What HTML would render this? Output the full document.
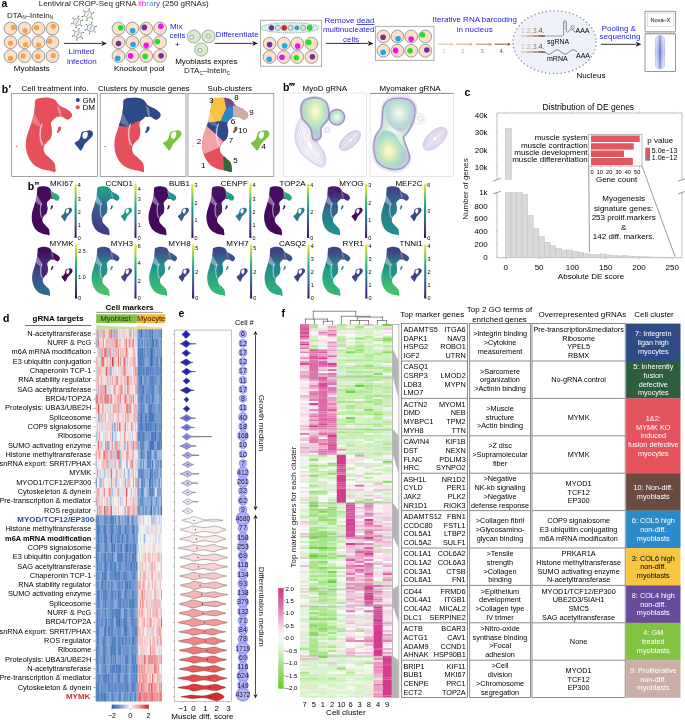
<!DOCTYPE html><html><head><meta charset="utf-8"><style>html,body{margin:0;padding:0;background:#fff;overflow:hidden}svg{display:block;will-change:transform}text{font-family:"Liberation Sans",sans-serif}</style></head><body>
<svg width="685" height="720" viewBox="0 0 685 720" style="font-family:'Liberation Sans',sans-serif">
<rect x="0" y="0" width="685" height="720" fill="#ffffff"/>
<defs>
<pattern id="spk" width="1.6" height="1.6" patternUnits="userSpaceOnUse"><circle cx="0.5" cy="0.5" r="0.5" fill="#fff"/><circle cx="1.3" cy="1.2" r="0.35" fill="#fff"/></pattern>
<path id="um" d="M23.7 6.7C24.58 5.37 26.43 5.03 28.4 4.6C30.37 4.17 33.13 3.85 35.5 4.1C37.87 4.35 40.83 5.08 42.6 6.1C44.37 7.12 45.33 8.72 46.1 10.2C46.87 11.68 47.13 13.28 47.2 15C47.27 16.72 46.95 19.03 46.5 20.5C46.05 21.97 45.55 22.57 44.5 23.8C43.45 25.03 41.08 26.62 40.2 27.9C39.32 29.18 39.2 29.92 39.2 31.5C39.2 33.08 40.23 35.23 40.2 37.4C40.17 39.57 39.78 42.73 39 44.5C38.22 46.27 36.67 46.43 35.5 48C34.33 49.57 32.4 51.93 32 53.9C31.6 55.87 32.12 58.03 33.1 59.8C34.08 61.57 36.32 62.92 37.9 64.5C39.48 66.08 41.62 67.52 42.6 69.3C43.58 71.08 43.67 73.63 43.8 75.2C43.93 76.77 44.2 78.32 43.4 78.7C42.6 79.08 41.1 77.98 39 77.5C36.9 77.02 33.55 76.78 30.8 75.8C28.05 74.82 24.87 73.67 22.5 71.6C20.13 69.53 17.98 66.35 16.6 63.4C15.22 60.45 14.5 57.05 14.2 53.9C13.9 50.75 14.2 47.65 14.8 44.5C15.4 41.35 16.92 37.77 17.8 35C18.68 32.23 19.42 30.25 20.1 27.9C20.78 25.55 21.4 23.45 21.9 20.9C22.4 18.35 22.8 14.97 23.1 12.6C23.4 10.23 22.82 8.03 23.7 6.7Z"/>
<path id="ua" d="M45.6 10.8C46.08 10.17 48.03 12.32 49.7 13.2C51.37 14.08 53.93 15.02 55.6 16.1C57.27 17.18 58.97 18.52 59.7 19.7C60.43 20.88 60.5 22.12 60 23.2C59.5 24.28 57.83 25.9 56.7 26.2C55.57 26.5 54.37 25.5 53.2 25C52.03 24.5 50.98 23.5 49.7 23.2C48.42 22.9 45.98 24.23 45.5 23.2C45.02 22.17 46.78 19.07 46.8 17C46.82 14.93 45.12 11.43 45.6 10.8Z"/>
<path id="ui" d="M30.2 30.3C31.13 28.7 32.6 28.88 34 29C35.4 29.12 37.57 29.6 38.6 31C39.63 32.4 40.13 35.15 40.2 37.4C40.27 39.65 39.78 42.73 39 44.5C38.22 46.27 36.77 46.83 35.5 48C34.23 49.17 32.48 51.7 31.4 51.5C30.32 51.3 29.5 48.95 29 46.8C28.5 44.65 28.2 41.35 28.4 38.6C28.6 35.85 29.27 31.9 30.2 30.3Z"/>
<path id="us" d="M46.5 34C46.88 33.45 48 33.03 48.5 33.2C49 33.37 49.55 34.28 49.5 35C49.45 35.72 48.78 36.75 48.2 37.5C47.62 38.25 46.53 39.33 46 39.5C45.47 39.67 44.97 39 45 38.5C45.03 38 45.95 37.25 46.2 36.5C46.45 35.75 46.12 34.55 46.5 34Z"/>
<path id="ug" d="M63.3 49.1C63.97 48.45 66.18 47.52 67.1 46.5C68.02 45.48 68.37 44.17 68.8 43C69.23 41.83 69.27 40.3 69.7 39.5C70.13 38.7 70.53 38.57 71.4 38.2C72.27 37.83 73.8 37.52 74.9 37.3C76 37.08 77.05 36.75 78 36.9C78.95 37.05 80.05 37.55 80.6 38.2C81.15 38.85 81.37 39.93 81.3 40.8C81.23 41.67 80.82 42.52 80.2 43.4C79.58 44.28 78.55 45.15 77.6 46.1C76.65 47.05 75.3 48.3 74.5 49.1C73.7 49.9 73.32 50.1 72.8 50.9C72.28 51.7 72 52.85 71.4 53.9C70.8 54.95 69.92 56.97 69.2 57.2C68.48 57.43 67.82 56.07 67.1 55.3C66.38 54.53 65.57 53.42 64.9 52.6C64.23 51.78 63.37 50.98 63.1 50.4C62.83 49.82 62.63 49.75 63.3 49.1Z M71 40.4C71.4 39.67 72.4 38.83 73.2 38.6C74 38.37 75.37 38.33 75.8 39C76.23 39.67 76.08 41.57 75.8 42.6C75.52 43.63 74.75 44.77 74.1 45.2C73.45 45.63 72.45 45.57 71.9 45.2C71.35 44.83 70.95 43.8 70.8 43C70.65 42.2 70.6 41.13 71 40.4Z" fill-rule="evenodd"/>
<clipPath id="cm"><use href="#um"/><use href="#ua"/><use href="#ui"/></clipPath>
</defs>
<text x="1.6" y="7.4" font-size="10.5" font-weight="bold">a</text>
<text x="38.7" y="6.4" font-size="8" fill="#1a1a1a">Lentiviral CROP-Seq gRNA <tspan fill="#f010e8">lib</tspan><tspan fill="#1ea8e8">ra</tspan><tspan fill="#7030a0">ry</tspan> (250 gRNAs)</text>
<text x="7" y="17.5" font-size="8" fill="#1a1a1a">DTA<tspan font-size="4.5" dy="1.8">N</tspan><tspan dy="-1.8">–Intein</tspan><tspan font-size="4.5" dy="1.8">N</tspan></text>
<circle cx="10.5" cy="28.5" r="6.4" fill="#fbe0cc" stroke="#5a5a5a" stroke-width="0.55"/>
<circle cx="13.4" cy="27.4" r="2.6" fill="#f5a04a"/>
<circle cx="24.6" cy="28.5" r="6.4" fill="#fbe0cc" stroke="#5a5a5a" stroke-width="0.55"/>
<circle cx="25.1" cy="30.7" r="2.6" fill="#f5a04a"/>
<circle cx="38.5" cy="28.5" r="6.4" fill="#fbe0cc" stroke="#5a5a5a" stroke-width="0.55"/>
<circle cx="36.5" cy="27.7" r="2.6" fill="#f5a04a"/>
<circle cx="52.5" cy="28.5" r="6.4" fill="#fbe0cc" stroke="#5a5a5a" stroke-width="0.55"/>
<circle cx="53.3" cy="26.3" r="2.6" fill="#f5a04a"/>
<circle cx="10.5" cy="42.3" r="6.4" fill="#fbe0cc" stroke="#5a5a5a" stroke-width="0.55"/>
<circle cx="10.5" cy="43.1" r="2.6" fill="#f5a04a"/>
<circle cx="24.6" cy="42.3" r="6.4" fill="#fbe0cc" stroke="#5a5a5a" stroke-width="0.55"/>
<circle cx="25.5" cy="44.5" r="2.6" fill="#f5a04a"/>
<circle cx="38.5" cy="42.3" r="6.4" fill="#fbe0cc" stroke="#5a5a5a" stroke-width="0.55"/>
<circle cx="38.7" cy="45" r="2.6" fill="#f5a04a"/>
<circle cx="52.5" cy="42.3" r="6.4" fill="#fbe0cc" stroke="#5a5a5a" stroke-width="0.55"/>
<circle cx="49.6" cy="41.2" r="2.6" fill="#f5a04a"/>
<circle cx="10.5" cy="56.2" r="6.4" fill="#fbe0cc" stroke="#5a5a5a" stroke-width="0.55"/>
<circle cx="10.5" cy="58.4" r="2.6" fill="#f5a04a"/>
<circle cx="24.6" cy="56.2" r="6.4" fill="#fbe0cc" stroke="#5a5a5a" stroke-width="0.55"/>
<circle cx="23.1" cy="55.9" r="2.6" fill="#f5a04a"/>
<circle cx="38.5" cy="56.2" r="6.4" fill="#fbe0cc" stroke="#5a5a5a" stroke-width="0.55"/>
<circle cx="37.7" cy="56.4" r="2.6" fill="#f5a04a"/>
<circle cx="52.5" cy="56.2" r="6.4" fill="#fbe0cc" stroke="#5a5a5a" stroke-width="0.55"/>
<circle cx="53.3" cy="55.5" r="2.6" fill="#f5a04a"/>
<text x="31.8" y="71" font-size="8" text-anchor="middle">Myoblasts</text>
<path d="M91.02 17.18L87.33 18.42L84.4 15.84L85.18 12.02L88.87 10.78L91.8 13.36Z" fill="#f6f6f6" stroke="#5a5a5a" stroke-width="0.5"/>
<line x1="91.02" y1="17.18" x2="92.34" y2="18.34" stroke="#555" stroke-width="0.45"/>
<circle cx="92.48" cy="18.47" r="0.55" fill="#333"/>
<line x1="87.33" y1="18.42" x2="86.98" y2="20.14" stroke="#555" stroke-width="0.45"/>
<circle cx="86.94" cy="20.33" r="0.55" fill="#333"/>
<line x1="84.4" y1="15.84" x2="82.74" y2="16.4" stroke="#555" stroke-width="0.45"/>
<circle cx="82.55" cy="16.46" r="0.55" fill="#333"/>
<line x1="85.18" y1="12.02" x2="83.86" y2="10.86" stroke="#555" stroke-width="0.45"/>
<circle cx="83.72" cy="10.73" r="0.55" fill="#333"/>
<line x1="88.87" y1="10.78" x2="89.22" y2="9.06" stroke="#555" stroke-width="0.45"/>
<circle cx="89.26" cy="8.87" r="0.55" fill="#333"/>
<line x1="91.8" y1="13.36" x2="93.46" y2="12.8" stroke="#555" stroke-width="0.45"/>
<circle cx="93.65" cy="12.74" r="0.55" fill="#333"/>
<line x1="86.8" y1="16.9" x2="89.4" y2="12.3" stroke="#5fdc5f" stroke-width="0.9"/>
<path d="M80.12 24.48L76.43 25.72L73.5 23.14L74.28 19.32L77.97 18.08L80.9 20.66Z" fill="#f6f6f6" stroke="#5a5a5a" stroke-width="0.5"/>
<line x1="80.12" y1="24.48" x2="81.44" y2="25.64" stroke="#555" stroke-width="0.45"/>
<circle cx="81.58" cy="25.77" r="0.55" fill="#333"/>
<line x1="76.43" y1="25.72" x2="76.08" y2="27.44" stroke="#555" stroke-width="0.45"/>
<circle cx="76.04" cy="27.63" r="0.55" fill="#333"/>
<line x1="73.5" y1="23.14" x2="71.84" y2="23.7" stroke="#555" stroke-width="0.45"/>
<circle cx="71.65" cy="23.76" r="0.55" fill="#333"/>
<line x1="74.28" y1="19.32" x2="72.96" y2="18.16" stroke="#555" stroke-width="0.45"/>
<circle cx="72.82" cy="18.03" r="0.55" fill="#333"/>
<line x1="77.97" y1="18.08" x2="78.32" y2="16.36" stroke="#555" stroke-width="0.45"/>
<circle cx="78.36" cy="16.17" r="0.55" fill="#333"/>
<line x1="80.9" y1="20.66" x2="82.56" y2="20.1" stroke="#555" stroke-width="0.45"/>
<circle cx="82.75" cy="20.04" r="0.55" fill="#333"/>
<line x1="75.9" y1="24.2" x2="78.5" y2="19.6" stroke="#e070e0" stroke-width="0.9"/>
<path d="M93.62 30.68L89.93 31.92L87 29.34L87.78 25.52L91.47 24.28L94.4 26.86Z" fill="#f6f6f6" stroke="#5a5a5a" stroke-width="0.5"/>
<line x1="93.62" y1="30.68" x2="94.94" y2="31.84" stroke="#555" stroke-width="0.45"/>
<circle cx="95.08" cy="31.97" r="0.55" fill="#333"/>
<line x1="89.93" y1="31.92" x2="89.58" y2="33.64" stroke="#555" stroke-width="0.45"/>
<circle cx="89.54" cy="33.83" r="0.55" fill="#333"/>
<line x1="87" y1="29.34" x2="85.34" y2="29.9" stroke="#555" stroke-width="0.45"/>
<circle cx="85.15" cy="29.96" r="0.55" fill="#333"/>
<line x1="87.78" y1="25.52" x2="86.46" y2="24.36" stroke="#555" stroke-width="0.45"/>
<circle cx="86.32" cy="24.23" r="0.55" fill="#333"/>
<line x1="91.47" y1="24.28" x2="91.82" y2="22.56" stroke="#555" stroke-width="0.45"/>
<circle cx="91.86" cy="22.37" r="0.55" fill="#333"/>
<line x1="94.4" y1="26.86" x2="96.06" y2="26.3" stroke="#555" stroke-width="0.45"/>
<circle cx="96.25" cy="26.24" r="0.55" fill="#333"/>
<line x1="89.4" y1="30.4" x2="92" y2="25.8" stroke="#40b8f0" stroke-width="0.9"/>
<path d="M80.82 36.88L77.13 38.12L74.2 35.54L74.98 31.72L78.67 30.48L81.6 33.06Z" fill="#f6f6f6" stroke="#5a5a5a" stroke-width="0.5"/>
<line x1="80.82" y1="36.88" x2="82.14" y2="38.04" stroke="#555" stroke-width="0.45"/>
<circle cx="82.28" cy="38.17" r="0.55" fill="#333"/>
<line x1="77.13" y1="38.12" x2="76.78" y2="39.84" stroke="#555" stroke-width="0.45"/>
<circle cx="76.74" cy="40.03" r="0.55" fill="#333"/>
<line x1="74.2" y1="35.54" x2="72.54" y2="36.1" stroke="#555" stroke-width="0.45"/>
<circle cx="72.35" cy="36.16" r="0.55" fill="#333"/>
<line x1="74.98" y1="31.72" x2="73.66" y2="30.56" stroke="#555" stroke-width="0.45"/>
<circle cx="73.52" cy="30.43" r="0.55" fill="#333"/>
<line x1="78.67" y1="30.48" x2="79.02" y2="28.76" stroke="#555" stroke-width="0.45"/>
<circle cx="79.06" cy="28.57" r="0.55" fill="#333"/>
<line x1="81.6" y1="33.06" x2="83.26" y2="32.5" stroke="#555" stroke-width="0.45"/>
<circle cx="83.45" cy="32.44" r="0.55" fill="#333"/>
<line x1="76.6" y1="36.6" x2="79.2" y2="32" stroke="#a070d0" stroke-width="0.9"/>
<line x1="64" y1="43.4" x2="101.7" y2="43.4" stroke="#1a1a1a" stroke-width="0.9"/>
<path d="M107 43.4L101.2 40.9L102.6 43.4L101.2 45.9Z" fill="#1a1a1a"/>
<text x="81.4" y="54.3" font-size="8" text-anchor="middle" fill="#2323e6">Limited</text>
<text x="81.8" y="63.5" font-size="8" text-anchor="middle" fill="#2323e6">infection</text>
<circle cx="118.5" cy="28.5" r="6.4" fill="#fbe0cc" stroke="#5a5a5a" stroke-width="0.55"/>
<circle cx="120.7" cy="27.7" r="2.8" fill="#22e022"/>
<circle cx="132.3" cy="28.5" r="6.4" fill="#fbe0cc" stroke="#5a5a5a" stroke-width="0.55"/>
<circle cx="132.6" cy="30.7" r="2.8" fill="#1ea8e8"/>
<circle cx="146.2" cy="28.5" r="6.4" fill="#fbe0cc" stroke="#5a5a5a" stroke-width="0.55"/>
<circle cx="144.3" cy="27.4" r="2.8" fill="#7030a0"/>
<circle cx="160" cy="28.5" r="6.4" fill="#fbe0cc" stroke="#5a5a5a" stroke-width="0.55"/>
<circle cx="160.8" cy="26.3" r="2.8" fill="#f010e8"/>
<circle cx="118.5" cy="42.3" r="6.4" fill="#fbe0cc" stroke="#5a5a5a" stroke-width="0.55"/>
<circle cx="118.5" cy="43.5" r="2.8" fill="#7030a0"/>
<circle cx="132.3" cy="42.3" r="6.4" fill="#fbe0cc" stroke="#5a5a5a" stroke-width="0.55"/>
<circle cx="133.1" cy="44.5" r="2.8" fill="#1ea8e8"/>
<circle cx="146.2" cy="42.3" r="6.4" fill="#fbe0cc" stroke="#5a5a5a" stroke-width="0.55"/>
<circle cx="146.2" cy="45.3" r="2.8" fill="#f010e8"/>
<circle cx="160" cy="42.3" r="6.4" fill="#fbe0cc" stroke="#5a5a5a" stroke-width="0.55"/>
<circle cx="157.4" cy="41.6" r="2.8" fill="#22e022"/>
<circle cx="118.5" cy="56" r="6.4" fill="#fbe0cc" stroke="#5a5a5a" stroke-width="0.55"/>
<circle cx="117.7" cy="58.4" r="2.8" fill="#1ea8e8"/>
<circle cx="132.3" cy="56" r="6.4" fill="#fbe0cc" stroke="#5a5a5a" stroke-width="0.55"/>
<circle cx="130.6" cy="55.9" r="2.8" fill="#f010e8"/>
<circle cx="146.2" cy="56" r="6.4" fill="#fbe0cc" stroke="#5a5a5a" stroke-width="0.55"/>
<circle cx="145.2" cy="56.2" r="2.8" fill="#22e022"/>
<circle cx="160" cy="56" r="6.4" fill="#fbe0cc" stroke="#5a5a5a" stroke-width="0.55"/>
<circle cx="161.1" cy="55.8" r="2.8" fill="#7030a0"/>
<text x="139.3" y="70.8" font-size="8" text-anchor="middle">Knockout pool</text>
<text x="170" y="28.8" font-size="8" fill="#2323e6">Mix</text>
<text x="169.4" y="38.2" font-size="8" fill="#2323e6">cells</text>
<text x="177.4" y="46.5" font-size="8" text-anchor="middle">+</text>
<circle cx="193.9" cy="36.5" r="6.6" fill="#d9eacb" stroke="#707070" stroke-width="0.55"/>
<circle cx="191.7" cy="37.2" r="2" fill="#f2f2f2" stroke="#606060" stroke-width="0.5"/>
<circle cx="208.5" cy="36.5" r="6.6" fill="#d9eacb" stroke="#707070" stroke-width="0.55"/>
<circle cx="208.5" cy="36.2" r="2" fill="#f2f2f2" stroke="#606060" stroke-width="0.5"/>
<circle cx="201.2" cy="49.6" r="6.6" fill="#d9eacb" stroke="#707070" stroke-width="0.55"/>
<circle cx="200" cy="50.4" r="2" fill="#f2f2f2" stroke="#606060" stroke-width="0.5"/>
<text x="206.3" y="64.2" font-size="8" text-anchor="middle">Myoblasts expres</text>
<text x="184" y="73" font-size="8" fill="#1a1a1a">DTA<tspan font-size="4.5" dy="1.8">C</tspan><tspan dy="-1.8">–Intein</tspan><tspan font-size="4.5" dy="1.8">C</tspan></text>
<line x1="214.6" y1="43.4" x2="252.7" y2="43.4" stroke="#1a1a1a" stroke-width="0.9"/>
<path d="M258 43.4L252.2 40.9L253.6 43.4L252.2 45.9Z" fill="#1a1a1a"/>
<text x="237.2" y="37.2" font-size="8" text-anchor="middle" fill="#2323e6">Differentiate</text>
<rect x="260.4" y="20.2" width="61.3" height="46" fill="#ffffff" stroke="#8a8a8a" stroke-width="0.7"/>
<ellipse cx="290" cy="27.8" rx="29" ry="5.1" fill="#d5f2ee" stroke="#333" stroke-width="0.55" stroke-dasharray="0.8 1"/>
<circle cx="271.5" cy="27.8" r="2.6" fill="#7030a0" stroke="#555" stroke-width="0.45"/>
<circle cx="277.9" cy="27.8" r="2.6" fill="#dedede" stroke="#555" stroke-width="0.45"/>
<circle cx="284.2" cy="27.8" r="2.6" fill="#f01818" stroke="#555" stroke-width="0.45"/>
<circle cx="290.5" cy="27.8" r="2.6" fill="#dedede" stroke="#555" stroke-width="0.45"/>
<circle cx="296.9" cy="27.8" r="2.1" fill="#1ea8e8" stroke="#555" stroke-width="0.45"/>
<circle cx="303.2" cy="27.8" r="2.6" fill="#dedede" stroke="#555" stroke-width="0.45"/>
<circle cx="309.7" cy="27.8" r="2.6" fill="#22e022" stroke="#555" stroke-width="0.45"/>
<circle cx="269.6" cy="43.6" r="6.4" fill="#fbe0cc" stroke="#5a5a5a" stroke-width="0.55"/>
<circle cx="269.6" cy="44.6" r="2.8" fill="#7030a0"/>
<circle cx="283.8" cy="43.6" r="6.4" fill="#fbe0cc" stroke="#5a5a5a" stroke-width="0.55"/>
<circle cx="284.6" cy="45.8" r="2.8" fill="#1ea8e8"/>
<circle cx="297.3" cy="43.6" r="6.4" fill="#fbe0cc" stroke="#5a5a5a" stroke-width="0.55"/>
<circle cx="297.6" cy="46.1" r="2.8" fill="#f010e8"/>
<circle cx="311.5" cy="43.6" r="6.4" fill="#fbe0cc" stroke="#5a5a5a" stroke-width="0.55"/>
<circle cx="308.7" cy="42.4" r="2.8" fill="#22e022"/>
<circle cx="269.6" cy="57" r="6.4" fill="#fbe0cc" stroke="#5a5a5a" stroke-width="0.55"/>
<circle cx="269.2" cy="59.2" r="2.8" fill="#1ea8e8"/>
<circle cx="283.8" cy="57" r="6.4" fill="#fbe0cc" stroke="#5a5a5a" stroke-width="0.55"/>
<circle cx="282" cy="57.2" r="2.8" fill="#f010e8"/>
<circle cx="297.3" cy="57" r="6.4" fill="#fbe0cc" stroke="#5a5a5a" stroke-width="0.55"/>
<circle cx="296.3" cy="57.7" r="2.8" fill="#22e022"/>
<circle cx="311.5" cy="57" r="6.4" fill="#fbe0cc" stroke="#5a5a5a" stroke-width="0.55"/>
<circle cx="312.4" cy="56.7" r="2.8" fill="#7030a0"/>
<text x="349.5" y="23" font-size="8" text-anchor="middle" fill="#2323e6">Remove <tspan text-decoration="underline">dead</tspan></text>
<text x="348.7" y="32.4" font-size="8" text-anchor="middle" fill="#2323e6">multinucleated</text>
<text x="351" y="42" font-size="8" text-anchor="middle" fill="#2323e6" text-decoration="underline">cells</text>
<line x1="325.8" y1="43.4" x2="368.2" y2="43.4" stroke="#1a1a1a" stroke-width="0.9"/>
<path d="M373.5 43.4L367.7 40.9L369.1 43.4L367.7 45.9Z" fill="#1a1a1a"/>
<rect x="375.5" y="26.3" width="58.5" height="34" fill="#ffffff" stroke="#8a8a8a" stroke-width="0.7"/>
<circle cx="383.4" cy="36.5" r="6.4" fill="#fbe0cc" stroke="#5a5a5a" stroke-width="0.55"/>
<circle cx="383.1" cy="37.2" r="2.8" fill="#7030a0"/>
<circle cx="397.4" cy="36.5" r="6.4" fill="#fbe0cc" stroke="#5a5a5a" stroke-width="0.55"/>
<circle cx="398.1" cy="38.7" r="2.8" fill="#1ea8e8"/>
<circle cx="411.2" cy="36.5" r="6.4" fill="#fbe0cc" stroke="#5a5a5a" stroke-width="0.55"/>
<circle cx="411.2" cy="39.1" r="2.8" fill="#f010e8"/>
<circle cx="425.3" cy="36.5" r="6.4" fill="#fbe0cc" stroke="#5a5a5a" stroke-width="0.55"/>
<circle cx="422.4" cy="34.7" r="2.8" fill="#22e022"/>
<circle cx="383.4" cy="50.7" r="6.4" fill="#fbe0cc" stroke="#5a5a5a" stroke-width="0.55"/>
<circle cx="383.1" cy="52.3" r="2.8" fill="#1ea8e8"/>
<circle cx="397.4" cy="50.7" r="6.4" fill="#fbe0cc" stroke="#5a5a5a" stroke-width="0.55"/>
<circle cx="395.6" cy="50.4" r="2.8" fill="#f010e8"/>
<circle cx="411.2" cy="50.7" r="6.4" fill="#fbe0cc" stroke="#5a5a5a" stroke-width="0.55"/>
<circle cx="410.1" cy="50.8" r="2.8" fill="#22e022"/>
<circle cx="425.3" cy="50.7" r="6.4" fill="#fbe0cc" stroke="#5a5a5a" stroke-width="0.55"/>
<circle cx="426.8" cy="50" r="2.8" fill="#7030a0"/>
<text x="474.7" y="21.6" font-size="8" text-anchor="middle" fill="#2323e6">Iterative RNA barcoding</text>
<text x="474.7" y="32" font-size="8" text-anchor="middle" fill="#2323e6">in nucleus</text>
<line x1="437.4" y1="44.2" x2="450.2" y2="44.2" stroke="#dcbb98" stroke-width="0.9"/>
<path d="M453.7 44.2L449.7 42.4L451.1 44.2L449.7 46Z" fill="#dcbb98"/>
<text x="444.55" y="52.6" font-size="5.6" text-anchor="middle" fill="#dcbb98">1.</text>
<line x1="456.3" y1="44.2" x2="469.4" y2="44.2" stroke="#c9a07a" stroke-width="0.9"/>
<path d="M472.9 44.2L468.9 42.4L470.3 44.2L468.9 46Z" fill="#c9a07a"/>
<text x="463.6" y="52.6" font-size="5.6" text-anchor="middle" fill="#c9a07a">2.</text>
<line x1="475.5" y1="44.2" x2="488.6" y2="44.2" stroke="#a87a52" stroke-width="0.9"/>
<path d="M492.1 44.2L488.1 42.4L489.5 44.2L488.1 46Z" fill="#a87a52"/>
<text x="482.8" y="52.6" font-size="5.6" text-anchor="middle" fill="#a87a52">3.</text>
<line x1="494.7" y1="44.2" x2="507.5" y2="44.2" stroke="#6e4420" stroke-width="0.9"/>
<path d="M511 44.2L507 42.4L508.4 44.2L507 46Z" fill="#6e4420"/>
<text x="501.85" y="52.6" font-size="5.6" text-anchor="middle" fill="#6e4420">4.</text>
<ellipse cx="554.6" cy="42.2" rx="41.6" ry="31.4" fill="#eef1f9" stroke="#8a8a8a" stroke-width="1.5" stroke-linecap="round" stroke-dasharray="0.01 3.9"/>
<line x1="521" y1="36" x2="527" y2="36" stroke="#dcbb98" stroke-width="1.4"/>
<line x1="527" y1="36" x2="533" y2="36" stroke="#c9a07a" stroke-width="1.4"/>
<line x1="533" y1="36" x2="539" y2="36" stroke="#a87a52" stroke-width="1.4"/>
<line x1="539" y1="36" x2="545" y2="36" stroke="#6e4420" stroke-width="1.4"/>
<text x="521" y="33.4" font-size="7"><tspan fill="#dcbb98">1.</tspan><tspan fill="#c9a07a">2.</tspan><tspan fill="#a87a52">3.</tspan><tspan fill="#6e4420">4.</tspan></text>
<line x1="521" y1="52" x2="527" y2="52" stroke="#dcbb98" stroke-width="1.4"/>
<line x1="527" y1="52" x2="533" y2="52" stroke="#c9a07a" stroke-width="1.4"/>
<line x1="533" y1="52" x2="539" y2="52" stroke="#a87a52" stroke-width="1.4"/>
<line x1="539" y1="52" x2="545" y2="52" stroke="#6e4420" stroke-width="1.4"/>
<text x="521" y="48.8" font-size="7"><tspan fill="#dcbb98">1.</tspan><tspan fill="#c9a07a">2.</tspan><tspan fill="#a87a52">3.</tspan><tspan fill="#6e4420">4.</tspan></text>
<line x1="545" y1="36" x2="562.8" y2="36" stroke="#888" stroke-width="0.8"/>
<path d="M562.8 36 L563.6 35 L563.6 21.5 Q565 19.6 566.4 21.5 L566.4 31 Q567.5 34 569 31 Q570 28 571.5 30 " fill="none" stroke="#555" stroke-width="0.6"/>
<line x1="563.6" y1="23" x2="566.4" y2="23" stroke="#777" stroke-width="0.4"/>
<line x1="563.6" y1="25.5" x2="566.4" y2="25.5" stroke="#777" stroke-width="0.4"/>
<line x1="563.6" y1="28" x2="566.4" y2="28" stroke="#777" stroke-width="0.4"/>
<circle cx="572.6" cy="27.3" r="1.7" fill="none" stroke="#555" stroke-width="0.6"/>
<path d="M572.6 29 Q573.8 33 575.5 31.5" fill="none" stroke="#555" stroke-width="0.6"/>
<text x="575.5" y="32.8" font-size="7">AAA</text>
<path d="M545 52L546 52.84L547 53.56L548 54.03L549 54.2L550 54.03L551 53.56L552 52.84L553 52L554 51.16L555 50.44L556 49.97L557 49.8L558 49.97L559 50.44L560 51.16L561 52L562 52.84L563 53.56L564 54.03L565 54.2L566 54.03L567 53.56L568 52.84L569 52L570 51.16L571 50.44L572 49.97L573 49.8L574 49.97L575 50.44L576 51.16L577 52" fill="none" stroke="#444" stroke-width="0.6"/>
<text x="576" y="57.6" font-size="7">AAA</text>
<text x="547" y="44.4" font-size="7">sgRNA</text>
<text x="547" y="60.5" font-size="7">mRNA</text>
<text x="576.5" y="78" font-size="8">Nucleus</text>
<text x="618.8" y="30.5" font-size="8" text-anchor="middle" fill="#2323e6">Pooling &</text>
<text x="620" y="39.4" font-size="8" text-anchor="middle" fill="#2323e6">sequencing</text>
<line x1="601" y1="44.3" x2="636.2" y2="44.3" stroke="#1a1a1a" stroke-width="0.9"/>
<path d="M641.5 44.3L635.7 41.8L637.1 44.3L635.7 46.8Z" fill="#1a1a1a"/>
<rect x="645" y="11.2" width="30.4" height="20.3" fill="#ffffff" stroke="#555" stroke-width="0.6"/>
<rect x="647.2" y="13.1" width="26.4" height="13.6" fill="#ffffff" stroke="#bbb" stroke-width="0.5"/>
<text x="660.4" y="22.3" font-size="5.6" text-anchor="middle">Nova–X</text>
<rect x="645" y="31.5" width="30.4" height="2.4" fill="#cfcfcf"/>
<rect x="645" y="33.9" width="30.4" height="37.7" fill="#ffffff" stroke="#555" stroke-width="0.6"/>
<defs><linearGradient id="fc" x1="0" x2="1" y1="0" y2="0"><stop offset="0" stop-color="#d8dcf8"/><stop offset="0.5" stop-color="#7d8ff0"/><stop offset="1" stop-color="#d8dcf8"/></linearGradient><linearGradient id="fcv" x1="0" x2="0" y1="0" y2="1"><stop offset="0" stop-color="#fff" stop-opacity="0.5"/><stop offset="0.5" stop-color="#fff" stop-opacity="0"/><stop offset="1" stop-color="#fff" stop-opacity="0.5"/></linearGradient></defs>
<rect x="655.4" y="35.5" width="9.2" height="33.5" fill="url(#fc)" stroke="#8a96d8" stroke-width="0.5" rx="4.6"/>
<rect x="655.4" y="35.5" width="9.2" height="33.5" fill="url(#fcv)" rx="4.6"/>
<line x1="660" y1="36" x2="660" y2="68.5" stroke="#444" stroke-width="0.5"/>
<text x="1.8" y="93.4" font-size="10.5" font-weight="bold">b’</text>
<text x="21.6" y="91" font-size="8">Cell treatment info.</text>
<text x="98" y="91" font-size="8">Clusters by muscle genes</text>
<text x="207.6" y="91" font-size="8">Sub-clusters</text>
<rect x="11.7" y="93.4" width="85.8" height="83" fill="#fff" stroke="#7a7a7a" stroke-width="0.7"/>
<rect x="100.2" y="93.4" width="85.8" height="83" fill="#fff" stroke="#7a7a7a" stroke-width="0.7"/>
<rect x="188" y="93.4" width="85.8" height="83" fill="#fff" stroke="#7a7a7a" stroke-width="0.7"/>
<g transform="translate(11.7 93.4) scale(1 1)">
<use href="#um" fill="#e5505a"/>
<use href="#ua" fill="#e5505a"/>
<use href="#ui" fill="#e5505a"/>
<use href="#us" fill="#e5505a"/>
<use href="#ug" fill="#2c4a8a"/>
<path d="M21 16 C24 22 27 28 30 33 C26 33 22 31 19.5 27 Z" fill="url(#spk)" opacity="0.55"/>
<path d="M45.5 11.5 C49 14 50.5 19 49 24 C47 21 46 16 45.5 11.5Z" fill="url(#spk)" opacity="0.7"/>
<path d="M30.4 30.8 C28.6 35 28.2 40 28.9 45 C29.4 48 30.2 50 31.6 51.8" fill="none" stroke="#fff" stroke-width="1.1" opacity="0.6"/><path d="M31.5 29.2 C29.2 34 28.6 40 29.3 45.5 C29.8 48.5 30.5 50.5 32.2 52.5 L29.6 52 C27.8 48 27.3 42 27.6 37 C27.9 33.5 29 31 30.4 29.6Z" fill="url(#spk)" opacity="0.7"/>
<circle cx="4.8" cy="53" r="0.6" fill="#e5505a"/>
</g>
<circle cx="77.8" cy="100" r="2.1" fill="#2c4a8a"/>
<text x="82.5" y="102.6" font-size="8">GM</text>
<circle cx="77.8" cy="107.3" r="2.1" fill="#e5505a"/>
<text x="82.5" y="109.8" font-size="8">DM</text>
<defs><linearGradient id="g2" x1="0" x2="0" y1="0" y2="1"><stop offset="0.3" stop-color="#2c4a8a"/><stop offset="0.37" stop-color="#e5505a"/></linearGradient></defs>
<g transform="translate(100.2 93.4)">
<g clip-path="url(#cm)">
<rect x="0" y="0" width="80" height="80" fill="#e5505a"/>
<path d="M10 0 H70 V30 L44 27 C38 27 34 29 29 33 C25 34 21 32 16 32 Z" fill="#2c4a8a"/>
<path d="M14 24 C18 28 22 30 27 31 L14 33Z" fill="#2c4a8a"/>
</g>
<use href="#us" fill="#2c4a8a"/>
<use href="#ug" fill="#7dc242"/>
<path d="M21 16 C24 22 27 28 30 33 C26 33 22 31 19.5 27 Z" fill="url(#spk)" opacity="0.55"/>
<path d="M45.5 11.5 C49 14 50.5 19 49 24 C47 21 46 16 45.5 11.5Z" fill="url(#spk)" opacity="0.7"/>
<path d="M30.4 30.8 C28.6 35 28.2 40 28.9 45 C29.4 48 30.2 50 31.6 51.8" fill="none" stroke="#fff" stroke-width="1.1" opacity="0.6"/><path d="M31.5 29.2 C29.2 34 28.6 40 29.3 45.5 C29.8 48.5 30.5 50.5 32.2 52.5 L29.6 52 C27.8 48 27.3 42 27.6 37 C27.9 33.5 29 31 30.4 29.6Z" fill="url(#spk)" opacity="0.7"/>
<circle cx="4.8" cy="53" r="0.6" fill="#2c4a8a"/>
</g>
<g transform="translate(188 93.4)">
<g clip-path="url(#cm)">
<rect x="0" y="0" width="80" height="80" fill="#e5505a"/>
<path d="M0 30 L18.8 32.6 L29.4 42.1 L36 48.5 L36 52 L31.8 53.9 L15.3 61 L0 62Z" fill="#f4a0a5"/>
<path d="M0 0 H35.3 L38.3 14.9 L32.4 27.9 L20 29.1 L0 31Z" fill="#f7c23f"/>
<path d="M35.3 0 H60 V12.6 L46.5 12.6 L38.3 14.9Z" fill="#6b4c9a"/>
<path d="M38.3 14.9 L46.5 12.6 L52 13 V30 L40 29.1 L32.4 27.9Z" fill="#2a88c8"/>
<path d="M45 12 H70 V40 H45Z" fill="#cbaea8"/>
<path d="M20 29.1 L32.4 27.9 L40 29.1 L45 30 V46 L36 48.5 L29.4 42.1 L18.8 32.6Z" fill="#2e4a8a"/>
<path d="M35.3 63.4 L40 60 L50 62 L50 80 L36 80 L36 76.3Z" fill="#2e6a3e"/>
</g>
<use href="#us" fill="#7a4f45"/>
<use href="#ug" fill="#7dc242"/>
<path d="M21 16 C24 22 27 28 30 33 C26 33 22 31 19.5 27 Z" fill="url(#spk)" opacity="0.5"/>
<path d="M30.4 30.8 C28.6 35 28.2 40 28.9 45 C29.4 48 30.2 50 31.6 51.8" fill="none" stroke="#fff" stroke-width="1.1" opacity="0.6"/><path d="M31.5 29.2 C29.2 34 28.6 40 29.3 45.5 C29.8 48.5 30.5 50.5 32.2 52.5 L29.6 52 C27.8 48 27.3 42 27.6 37 C27.9 33.5 29 31 30.4 29.6Z" fill="url(#spk)" opacity="0.7"/>
<circle cx="4.8" cy="53" r="0.6" fill="#f4a0a5"/>
</g>
<text x="211.3" y="103.4" font-size="8" text-anchor="middle">3</text>
<text x="236.5" y="99.7" font-size="8" text-anchor="middle">8</text>
<text x="251.5" y="114.9" font-size="8" text-anchor="middle">9</text>
<text x="233" y="124.2" font-size="8" text-anchor="middle">6</text>
<text x="242.8" y="132.6" font-size="8" text-anchor="middle">10</text>
<text x="231" y="143" font-size="8" text-anchor="middle">7</text>
<text x="199" y="144.1" font-size="8" text-anchor="middle">2</text>
<text x="263.8" y="148.6" font-size="8" text-anchor="middle">4</text>
<text x="235.4" y="163.1" font-size="8" text-anchor="middle">5</text>
<text x="203.3" y="167.6" font-size="8" text-anchor="middle">1</text>
<text x="27.8" y="189.7" font-size="10.5" font-weight="bold">b”</text>
<defs><linearGradient id="vir" x1="0" x2="0" y1="1" y2="0"><stop offset="0" stop-color="#440154"/><stop offset="0.11" stop-color="#482878"/><stop offset="0.22" stop-color="#3e4989"/><stop offset="0.33" stop-color="#31688e"/><stop offset="0.44" stop-color="#26828e"/><stop offset="0.56" stop-color="#1f9e89"/><stop offset="0.67" stop-color="#35b779"/><stop offset="0.78" stop-color="#6ece58"/><stop offset="0.89" stop-color="#b5de2b"/><stop offset="1" stop-color="#fde725"/></linearGradient></defs>
<defs><linearGradient id="fg0" x1="0" x2="0" y1="0" y2="1"><stop offset="0.1" stop-color="#450c5e"/><stop offset="0.45" stop-color="#450c5e"/><stop offset="0.85" stop-color="#45085a"/></linearGradient></defs>
<g transform="translate(23.2 183.5) scale(0.602 0.658)">
<use href="#um" fill="url(#fg0)"/>
<use href="#ua" fill="#28a883"/>
<path d="M45 12 C48 14 50 18 50 24 L46.4 22.8Z" fill="#45085b" opacity="0.7"/>
<use href="#ui" fill="#461364"/>
<use href="#us" fill="#461364"/>
<use href="#ug" fill="#2f6c8e"/>
<path d="M20.5 14 C24 19 28 25 31.5 30.5 L29.5 34 C25 32 21 29 18.5 26 C19 21 19.5 17 20.5 14Z" fill="url(#spk)" opacity="0.85"/>
<path d="M30.4 30.8 C28.6 35 28.2 40 28.9 45 C29.4 48 30.2 50 31.6 51.8" fill="none" stroke="#fff" stroke-width="1.1" opacity="0.6"/><path d="M31.5 29.2 C29.2 34 28.6 40 29.3 45.5 C29.8 48.5 30.5 50.5 32.2 52.5 L29.6 52 C27.8 48 27.3 42 27.6 37 C27.9 33.5 29 31 30.4 29.6Z" fill="url(#spk)" opacity="0.7"/>
<path d="M45.5 11.5 C49 14 50.5 19 49 24 C47 21 46 16 45.5 11.5Z" fill="url(#spk)" opacity="0.8"/>
</g>
<rect x="74.6" y="183.9" width="2" height="54" fill="url(#vir)"/>
<line x1="76.6" y1="237.9" x2="77.6" y2="237.9" stroke="#666" stroke-width="0.4"/>
<text x="77.8" y="239.8" font-size="5.4">0</text>
<line x1="76.6" y1="224.81" x2="77.6" y2="224.81" stroke="#666" stroke-width="0.4"/>
<text x="77.8" y="226.71" font-size="5.4">1</text>
<line x1="76.6" y1="211.71" x2="77.6" y2="211.71" stroke="#666" stroke-width="0.4"/>
<text x="77.8" y="213.61" font-size="5.4">2</text>
<line x1="76.6" y1="198.62" x2="77.6" y2="198.62" stroke="#666" stroke-width="0.4"/>
<text x="77.8" y="200.52" font-size="5.4">3</text>
<line x1="76.6" y1="185.52" x2="77.6" y2="185.52" stroke="#666" stroke-width="0.4"/>
<text x="77.8" y="187.42" font-size="5.4">4</text>
<text x="73.1" y="185.7" font-size="8" text-anchor="end">MKI67</text>
<defs><linearGradient id="fg1" x1="0" x2="0" y1="0" y2="1"><stop offset="0.1" stop-color="#1f9d89"/><stop offset="0.45" stop-color="#355f8c"/><stop offset="0.85" stop-color="#423c83"/></linearGradient></defs>
<g transform="translate(83.1 183.5) scale(0.602 0.658)">
<use href="#um" fill="url(#fg1)"/>
<use href="#ua" fill="#22908c"/>
<path d="M45 12 C48 14 50 18 50 24 L46.4 22.8Z" fill="#2c748e" opacity="0.7"/>
<use href="#ui" fill="#2f6c8e"/>
<use href="#us" fill="#2f6c8e"/>
<use href="#ug" fill="#1f9d89"/>
<path d="M20.5 14 C24 19 28 25 31.5 30.5 L29.5 34 C25 32 21 29 18.5 26 C19 21 19.5 17 20.5 14Z" fill="url(#spk)" opacity="0.85"/>
<path d="M30.4 30.8 C28.6 35 28.2 40 28.9 45 C29.4 48 30.2 50 31.6 51.8" fill="none" stroke="#fff" stroke-width="1.1" opacity="0.6"/><path d="M31.5 29.2 C29.2 34 28.6 40 29.3 45.5 C29.8 48.5 30.5 50.5 32.2 52.5 L29.6 52 C27.8 48 27.3 42 27.6 37 C27.9 33.5 29 31 30.4 29.6Z" fill="url(#spk)" opacity="0.7"/>
<path d="M45.5 11.5 C49 14 50.5 19 49 24 C47 21 46 16 45.5 11.5Z" fill="url(#spk)" opacity="0.8"/>
</g>
<rect x="134.5" y="183.9" width="2" height="54" fill="url(#vir)"/>
<line x1="136.5" y1="237.9" x2="137.5" y2="237.9" stroke="#666" stroke-width="0.4"/>
<text x="137.7" y="239.8" font-size="5.4">0</text>
<line x1="136.5" y1="224.81" x2="137.5" y2="224.81" stroke="#666" stroke-width="0.4"/>
<text x="137.7" y="226.71" font-size="5.4">1</text>
<line x1="136.5" y1="211.71" x2="137.5" y2="211.71" stroke="#666" stroke-width="0.4"/>
<text x="137.7" y="213.61" font-size="5.4">2</text>
<line x1="136.5" y1="198.62" x2="137.5" y2="198.62" stroke="#666" stroke-width="0.4"/>
<text x="137.7" y="200.52" font-size="5.4">3</text>
<line x1="136.5" y1="189.3" x2="137.5" y2="189.3" stroke="#666" stroke-width="0.4"/>
<text x="137.7" y="191.2" font-size="5.4">4</text>
<text x="133" y="185.7" font-size="8" text-anchor="end">CCND1</text>
<defs><linearGradient id="fg2" x1="0" x2="0" y1="0" y2="1"><stop offset="0.1" stop-color="#450c5e"/><stop offset="0.45" stop-color="#45085a"/><stop offset="0.85" stop-color="#45085a"/></linearGradient></defs>
<g transform="translate(140 183.5) scale(0.602 0.658)">
<use href="#um" fill="url(#fg2)"/>
<use href="#ua" fill="#22908c"/>
<path d="M45 12 C48 14 50 18 50 24 L46.4 22.8Z" fill="#45085b" opacity="0.7"/>
<use href="#ui" fill="#461364"/>
<use href="#us" fill="#461364"/>
<use href="#ug" fill="#355f8c"/>
<path d="M20.5 14 C24 19 28 25 31.5 30.5 L29.5 34 C25 32 21 29 18.5 26 C19 21 19.5 17 20.5 14Z" fill="url(#spk)" opacity="0.85"/>
<path d="M30.4 30.8 C28.6 35 28.2 40 28.9 45 C29.4 48 30.2 50 31.6 51.8" fill="none" stroke="#fff" stroke-width="1.1" opacity="0.6"/><path d="M31.5 29.2 C29.2 34 28.6 40 29.3 45.5 C29.8 48.5 30.5 50.5 32.2 52.5 L29.6 52 C27.8 48 27.3 42 27.6 37 C27.9 33.5 29 31 30.4 29.6Z" fill="url(#spk)" opacity="0.7"/>
<path d="M45.5 11.5 C49 14 50.5 19 49 24 C47 21 46 16 45.5 11.5Z" fill="url(#spk)" opacity="0.8"/>
</g>
<rect x="191.4" y="183.9" width="2" height="54" fill="url(#vir)"/>
<line x1="193.4" y1="237.9" x2="194.4" y2="237.9" stroke="#666" stroke-width="0.4"/>
<text x="194.6" y="239.8" font-size="5.4">0</text>
<line x1="193.4" y1="220.44" x2="194.4" y2="220.44" stroke="#666" stroke-width="0.4"/>
<text x="194.6" y="222.34" font-size="5.4">1</text>
<line x1="193.4" y1="202.98" x2="194.4" y2="202.98" stroke="#666" stroke-width="0.4"/>
<text x="194.6" y="204.88" font-size="5.4">2</text>
<line x1="193.4" y1="185.52" x2="194.4" y2="185.52" stroke="#666" stroke-width="0.4"/>
<text x="194.6" y="187.42" font-size="5.4">3</text>
<text x="189.9" y="185.7" font-size="8" text-anchor="end">BUB1</text>
<defs><linearGradient id="fg3" x1="0" x2="0" y1="0" y2="1"><stop offset="0.1" stop-color="#461364"/><stop offset="0.45" stop-color="#450c5e"/><stop offset="0.85" stop-color="#45085a"/></linearGradient></defs>
<g transform="translate(197.9 183.5) scale(0.602 0.658)">
<use href="#um" fill="url(#fg3)"/>
<use href="#ua" fill="#1f9d89"/>
<path d="M45 12 C48 14 50 18 50 24 L46.4 22.8Z" fill="#450d5f" opacity="0.7"/>
<use href="#ui" fill="#471d6e"/>
<use href="#us" fill="#471d6e"/>
<use href="#ug" fill="#2a788e"/>
<path d="M20.5 14 C24 19 28 25 31.5 30.5 L29.5 34 C25 32 21 29 18.5 26 C19 21 19.5 17 20.5 14Z" fill="url(#spk)" opacity="0.85"/>
<path d="M30.4 30.8 C28.6 35 28.2 40 28.9 45 C29.4 48 30.2 50 31.6 51.8" fill="none" stroke="#fff" stroke-width="1.1" opacity="0.6"/><path d="M31.5 29.2 C29.2 34 28.6 40 29.3 45.5 C29.8 48.5 30.5 50.5 32.2 52.5 L29.6 52 C27.8 48 27.3 42 27.6 37 C27.9 33.5 29 31 30.4 29.6Z" fill="url(#spk)" opacity="0.7"/>
<path d="M45.5 11.5 C49 14 50.5 19 49 24 C47 21 46 16 45.5 11.5Z" fill="url(#spk)" opacity="0.8"/>
</g>
<rect x="249.3" y="183.9" width="2" height="54" fill="url(#vir)"/>
<line x1="251.3" y1="237.9" x2="252.3" y2="237.9" stroke="#666" stroke-width="0.4"/>
<text x="252.5" y="239.8" font-size="5.4">0</text>
<line x1="251.3" y1="224.81" x2="252.3" y2="224.81" stroke="#666" stroke-width="0.4"/>
<text x="252.5" y="226.71" font-size="5.4">1</text>
<line x1="251.3" y1="211.71" x2="252.3" y2="211.71" stroke="#666" stroke-width="0.4"/>
<text x="252.5" y="213.61" font-size="5.4">2</text>
<line x1="251.3" y1="198.62" x2="252.3" y2="198.62" stroke="#666" stroke-width="0.4"/>
<text x="252.5" y="200.52" font-size="5.4">3</text>
<line x1="251.3" y1="185.52" x2="252.3" y2="185.52" stroke="#666" stroke-width="0.4"/>
<text x="252.5" y="187.42" font-size="5.4">4</text>
<text x="247.8" y="185.7" font-size="8" text-anchor="end">CENPF</text>
<defs><linearGradient id="fg4" x1="0" x2="0" y1="0" y2="1"><stop offset="0.1" stop-color="#450f61"/><stop offset="0.45" stop-color="#450c5e"/><stop offset="0.85" stop-color="#45085a"/></linearGradient></defs>
<g transform="translate(255.6 183.5) scale(0.602 0.658)">
<use href="#um" fill="url(#fg4)"/>
<use href="#ua" fill="#28a883"/>
<path d="M45 12 C48 14 50 18 50 24 L46.4 22.8Z" fill="#450b5d" opacity="0.7"/>
<use href="#ui" fill="#461364"/>
<use href="#us" fill="#461364"/>
<use href="#ug" fill="#287c8e"/>
<path d="M20.5 14 C24 19 28 25 31.5 30.5 L29.5 34 C25 32 21 29 18.5 26 C19 21 19.5 17 20.5 14Z" fill="url(#spk)" opacity="0.85"/>
<path d="M30.4 30.8 C28.6 35 28.2 40 28.9 45 C29.4 48 30.2 50 31.6 51.8" fill="none" stroke="#fff" stroke-width="1.1" opacity="0.6"/><path d="M31.5 29.2 C29.2 34 28.6 40 29.3 45.5 C29.8 48.5 30.5 50.5 32.2 52.5 L29.6 52 C27.8 48 27.3 42 27.6 37 C27.9 33.5 29 31 30.4 29.6Z" fill="url(#spk)" opacity="0.7"/>
<path d="M45.5 11.5 C49 14 50.5 19 49 24 C47 21 46 16 45.5 11.5Z" fill="url(#spk)" opacity="0.8"/>
</g>
<rect x="307" y="183.9" width="2" height="54" fill="url(#vir)"/>
<line x1="309" y1="237.9" x2="310" y2="237.9" stroke="#666" stroke-width="0.4"/>
<text x="310.2" y="239.8" font-size="5.4">0</text>
<line x1="309" y1="211.71" x2="310" y2="211.71" stroke="#666" stroke-width="0.4"/>
<text x="310.2" y="213.61" font-size="5.4">2</text>
<line x1="309" y1="185.52" x2="310" y2="185.52" stroke="#666" stroke-width="0.4"/>
<text x="310.2" y="187.42" font-size="5.4">4</text>
<text x="305.5" y="185.7" font-size="8" text-anchor="end">TOP2A</text>
<defs><linearGradient id="fg5" x1="0" x2="0" y1="0" y2="1"><stop offset="0.1" stop-color="#471d6e"/><stop offset="0.45" stop-color="#2f6c8e"/><stop offset="0.85" stop-color="#22908c"/></linearGradient></defs>
<g transform="translate(313.7 183.5) scale(0.602 0.658)">
<use href="#um" fill="url(#fg5)"/>
<use href="#ua" fill="#472b79"/>
<path d="M45 12 C48 14 50 18 50 24 L46.4 22.8Z" fill="#461566" opacity="0.7"/>
<use href="#ui" fill="#355f8c"/>
<use href="#us" fill="#355f8c"/>
<use href="#ug" fill="#450f61"/>
<path d="M20.5 14 C24 19 28 25 31.5 30.5 L29.5 34 C25 32 21 29 18.5 26 C19 21 19.5 17 20.5 14Z" fill="url(#spk)" opacity="0.85"/>
<path d="M30.4 30.8 C28.6 35 28.2 40 28.9 45 C29.4 48 30.2 50 31.6 51.8" fill="none" stroke="#fff" stroke-width="1.1" opacity="0.6"/><path d="M31.5 29.2 C29.2 34 28.6 40 29.3 45.5 C29.8 48.5 30.5 50.5 32.2 52.5 L29.6 52 C27.8 48 27.3 42 27.6 37 C27.9 33.5 29 31 30.4 29.6Z" fill="url(#spk)" opacity="0.7"/>
<path d="M45.5 11.5 C49 14 50.5 19 49 24 C47 21 46 16 45.5 11.5Z" fill="url(#spk)" opacity="0.8"/>
</g>
<rect x="365.1" y="183.9" width="2" height="54" fill="url(#vir)"/>
<line x1="367.1" y1="237.9" x2="368.1" y2="237.9" stroke="#666" stroke-width="0.4"/>
<text x="368.3" y="239.8" font-size="5.4">0</text>
<line x1="367.1" y1="220.44" x2="368.1" y2="220.44" stroke="#666" stroke-width="0.4"/>
<text x="368.3" y="222.34" font-size="5.4">1</text>
<line x1="367.1" y1="202.98" x2="368.1" y2="202.98" stroke="#666" stroke-width="0.4"/>
<text x="368.3" y="204.88" font-size="5.4">2</text>
<line x1="367.1" y1="185.52" x2="368.1" y2="185.52" stroke="#666" stroke-width="0.4"/>
<text x="368.3" y="187.42" font-size="5.4">3</text>
<text x="363.6" y="185.7" font-size="8" text-anchor="end">MYOG</text>
<defs><linearGradient id="fg6" x1="0" x2="0" y1="0" y2="1"><stop offset="0.1" stop-color="#3e4889"/><stop offset="0.45" stop-color="#287c8e"/><stop offset="0.85" stop-color="#248b8c"/></linearGradient></defs>
<g transform="translate(372.6 183.5) scale(0.602 0.658)">
<use href="#um" fill="url(#fg6)"/>
<use href="#ua" fill="#3b518a"/>
<path d="M45 12 C48 14 50 18 50 24 L46.4 22.8Z" fill="#44357f" opacity="0.7"/>
<use href="#ui" fill="#2a788e"/>
<use href="#us" fill="#2a788e"/>
<use href="#ug" fill="#404286"/>
<path d="M20.5 14 C24 19 28 25 31.5 30.5 L29.5 34 C25 32 21 29 18.5 26 C19 21 19.5 17 20.5 14Z" fill="url(#spk)" opacity="0.85"/>
<path d="M30.4 30.8 C28.6 35 28.2 40 28.9 45 C29.4 48 30.2 50 31.6 51.8" fill="none" stroke="#fff" stroke-width="1.1" opacity="0.6"/><path d="M31.5 29.2 C29.2 34 28.6 40 29.3 45.5 C29.8 48.5 30.5 50.5 32.2 52.5 L29.6 52 C27.8 48 27.3 42 27.6 37 C27.9 33.5 29 31 30.4 29.6Z" fill="url(#spk)" opacity="0.7"/>
<path d="M45.5 11.5 C49 14 50.5 19 49 24 C47 21 46 16 45.5 11.5Z" fill="url(#spk)" opacity="0.8"/>
</g>
<rect x="424" y="183.9" width="2" height="54" fill="url(#vir)"/>
<line x1="426" y1="237.9" x2="427" y2="237.9" stroke="#666" stroke-width="0.4"/>
<text x="427.2" y="239.8" font-size="5.4">0</text>
<line x1="426" y1="210.9" x2="427" y2="210.9" stroke="#666" stroke-width="0.4"/>
<text x="427.2" y="212.8" font-size="5.4">3</text>
<line x1="426" y1="185.52" x2="427" y2="185.52" stroke="#666" stroke-width="0.4"/>
<text x="427.2" y="187.42" font-size="5.4">6</text>
<text x="422.5" y="185.7" font-size="8" text-anchor="end">MEF2C</text>
<defs><linearGradient id="fg7" x1="0" x2="0" y1="0" y2="1"><stop offset="0.1" stop-color="#450c5e"/><stop offset="0.45" stop-color="#404286"/><stop offset="0.85" stop-color="#31678e"/></linearGradient></defs>
<g transform="translate(23.6 244.1) scale(0.602 0.658)">
<use href="#um" fill="url(#fg7)"/>
<use href="#ua" fill="#450c5e"/>
<path d="M45 12 C48 14 50 18 50 24 L46.4 22.8Z" fill="#45085b" opacity="0.7"/>
<use href="#ui" fill="#482474"/>
<use href="#us" fill="#482474"/>
<use href="#ug" fill="#45085a"/>
<path d="M20.5 14 C24 19 28 25 31.5 30.5 L29.5 34 C25 32 21 29 18.5 26 C19 21 19.5 17 20.5 14Z" fill="url(#spk)" opacity="0.85"/>
<path d="M30.4 30.8 C28.6 35 28.2 40 28.9 45 C29.4 48 30.2 50 31.6 51.8" fill="none" stroke="#fff" stroke-width="1.1" opacity="0.6"/><path d="M31.5 29.2 C29.2 34 28.6 40 29.3 45.5 C29.8 48.5 30.5 50.5 32.2 52.5 L29.6 52 C27.8 48 27.3 42 27.6 37 C27.9 33.5 29 31 30.4 29.6Z" fill="url(#spk)" opacity="0.7"/>
<path d="M45.5 11.5 C49 14 50.5 19 49 24 C47 21 46 16 45.5 11.5Z" fill="url(#spk)" opacity="0.8"/>
</g>
<rect x="75" y="244.5" width="2" height="54" fill="url(#vir)"/>
<line x1="77" y1="298.5" x2="78" y2="298.5" stroke="#666" stroke-width="0.4"/>
<text x="78.2" y="300.4" font-size="5.4">0</text>
<line x1="77" y1="276.9" x2="78" y2="276.9" stroke="#666" stroke-width="0.4"/>
<text x="78.2" y="278.8" font-size="5.4">1.0</text>
<line x1="77" y1="250.98" x2="78" y2="250.98" stroke="#666" stroke-width="0.4"/>
<text x="78.2" y="252.88" font-size="5.4">2.5</text>
<text x="73.5" y="246.3" font-size="8" text-anchor="end">MYMK</text>
<defs><linearGradient id="fg8" x1="0" x2="0" y1="0" y2="1"><stop offset="0.1" stop-color="#3b518a"/><stop offset="0.45" stop-color="#1f9d89"/><stop offset="0.85" stop-color="#46be6f"/></linearGradient></defs>
<g transform="translate(83.1 244.1) scale(0.602 0.658)">
<use href="#um" fill="url(#fg8)"/>
<use href="#ua" fill="#3b518a"/>
<path d="M45 12 C48 14 50 18 50 24 L46.4 22.8Z" fill="#423b82" opacity="0.7"/>
<use href="#ui" fill="#22908c"/>
<use href="#us" fill="#22908c"/>
<use href="#ug" fill="#404286"/>
<path d="M20.5 14 C24 19 28 25 31.5 30.5 L29.5 34 C25 32 21 29 18.5 26 C19 21 19.5 17 20.5 14Z" fill="url(#spk)" opacity="0.85"/>
<path d="M30.4 30.8 C28.6 35 28.2 40 28.9 45 C29.4 48 30.2 50 31.6 51.8" fill="none" stroke="#fff" stroke-width="1.1" opacity="0.6"/><path d="M31.5 29.2 C29.2 34 28.6 40 29.3 45.5 C29.8 48.5 30.5 50.5 32.2 52.5 L29.6 52 C27.8 48 27.3 42 27.6 37 C27.9 33.5 29 31 30.4 29.6Z" fill="url(#spk)" opacity="0.7"/>
<path d="M45.5 11.5 C49 14 50.5 19 49 24 C47 21 46 16 45.5 11.5Z" fill="url(#spk)" opacity="0.8"/>
</g>
<rect x="134.5" y="244.5" width="2" height="54" fill="url(#vir)"/>
<line x1="136.5" y1="298.5" x2="137.5" y2="298.5" stroke="#666" stroke-width="0.4"/>
<text x="137.7" y="300.4" font-size="5.4">0</text>
<line x1="136.5" y1="281.04" x2="137.5" y2="281.04" stroke="#666" stroke-width="0.4"/>
<text x="137.7" y="282.94" font-size="5.4">2</text>
<line x1="136.5" y1="263.58" x2="137.5" y2="263.58" stroke="#666" stroke-width="0.4"/>
<text x="137.7" y="265.48" font-size="5.4">4</text>
<line x1="136.5" y1="246.12" x2="137.5" y2="246.12" stroke="#666" stroke-width="0.4"/>
<text x="137.7" y="248.02" font-size="5.4">6</text>
<text x="133" y="246.3" font-size="8" text-anchor="end">MYH3</text>
<defs><linearGradient id="fg9" x1="0" x2="0" y1="0" y2="1"><stop offset="0.1" stop-color="#3b518a"/><stop offset="0.45" stop-color="#1f9d89"/><stop offset="0.85" stop-color="#3cba75"/></linearGradient></defs>
<g transform="translate(140.7 244.1) scale(0.602 0.658)">
<use href="#um" fill="url(#fg9)"/>
<use href="#ua" fill="#37598c"/>
<path d="M45 12 C48 14 50 18 50 24 L46.4 22.8Z" fill="#423b82" opacity="0.7"/>
<use href="#ui" fill="#22908c"/>
<use href="#us" fill="#22908c"/>
<use href="#ug" fill="#404286"/>
<path d="M20.5 14 C24 19 28 25 31.5 30.5 L29.5 34 C25 32 21 29 18.5 26 C19 21 19.5 17 20.5 14Z" fill="url(#spk)" opacity="0.85"/>
<path d="M30.4 30.8 C28.6 35 28.2 40 28.9 45 C29.4 48 30.2 50 31.6 51.8" fill="none" stroke="#fff" stroke-width="1.1" opacity="0.6"/><path d="M31.5 29.2 C29.2 34 28.6 40 29.3 45.5 C29.8 48.5 30.5 50.5 32.2 52.5 L29.6 52 C27.8 48 27.3 42 27.6 37 C27.9 33.5 29 31 30.4 29.6Z" fill="url(#spk)" opacity="0.7"/>
<path d="M45.5 11.5 C49 14 50.5 19 49 24 C47 21 46 16 45.5 11.5Z" fill="url(#spk)" opacity="0.8"/>
</g>
<rect x="192.1" y="244.5" width="2" height="54" fill="url(#vir)"/>
<line x1="194.1" y1="298.5" x2="195.1" y2="298.5" stroke="#666" stroke-width="0.4"/>
<text x="195.3" y="300.4" font-size="5.4">0</text>
<line x1="194.1" y1="272.31" x2="195.1" y2="272.31" stroke="#666" stroke-width="0.4"/>
<text x="195.3" y="274.21" font-size="5.4">2</text>
<line x1="194.1" y1="248.28" x2="195.1" y2="248.28" stroke="#666" stroke-width="0.4"/>
<text x="195.3" y="250.18" font-size="5.4">5</text>
<text x="190.6" y="246.3" font-size="8" text-anchor="end">MYH8</text>
<defs><linearGradient id="fg10" x1="0" x2="0" y1="0" y2="1"><stop offset="0.1" stop-color="#3e4889"/><stop offset="0.45" stop-color="#21958b"/><stop offset="0.85" stop-color="#34b67a"/></linearGradient></defs>
<g transform="translate(198.7 244.1) scale(0.602 0.658)">
<use href="#um" fill="url(#fg10)"/>
<use href="#ua" fill="#3b518a"/>
<path d="M45 12 C48 14 50 18 50 24 L46.4 22.8Z" fill="#44357f" opacity="0.7"/>
<use href="#ui" fill="#26838e"/>
<use href="#us" fill="#26838e"/>
<use href="#ug" fill="#404286"/>
<path d="M20.5 14 C24 19 28 25 31.5 30.5 L29.5 34 C25 32 21 29 18.5 26 C19 21 19.5 17 20.5 14Z" fill="url(#spk)" opacity="0.85"/>
<path d="M30.4 30.8 C28.6 35 28.2 40 28.9 45 C29.4 48 30.2 50 31.6 51.8" fill="none" stroke="#fff" stroke-width="1.1" opacity="0.6"/><path d="M31.5 29.2 C29.2 34 28.6 40 29.3 45.5 C29.8 48.5 30.5 50.5 32.2 52.5 L29.6 52 C27.8 48 27.3 42 27.6 37 C27.9 33.5 29 31 30.4 29.6Z" fill="url(#spk)" opacity="0.7"/>
<path d="M45.5 11.5 C49 14 50.5 19 49 24 C47 21 46 16 45.5 11.5Z" fill="url(#spk)" opacity="0.8"/>
</g>
<rect x="250.1" y="244.5" width="2" height="54" fill="url(#vir)"/>
<line x1="252.1" y1="298.5" x2="253.1" y2="298.5" stroke="#666" stroke-width="0.4"/>
<text x="253.3" y="300.4" font-size="5.4">0</text>
<line x1="252.1" y1="272.31" x2="253.1" y2="272.31" stroke="#666" stroke-width="0.4"/>
<text x="253.3" y="274.21" font-size="5.4">2</text>
<line x1="252.1" y1="248.28" x2="253.1" y2="248.28" stroke="#666" stroke-width="0.4"/>
<text x="253.3" y="250.18" font-size="5.4">5</text>
<text x="248.6" y="246.3" font-size="8" text-anchor="end">MYH7</text>
<defs><linearGradient id="fg11" x1="0" x2="0" y1="0" y2="1"><stop offset="0.1" stop-color="#404286"/><stop offset="0.45" stop-color="#22908c"/><stop offset="0.85" stop-color="#2cac80"/></linearGradient></defs>
<g transform="translate(256.1 244.1) scale(0.602 0.658)">
<use href="#um" fill="url(#fg11)"/>
<use href="#ua" fill="#3b518a"/>
<path d="M45 12 C48 14 50 18 50 24 L46.4 22.8Z" fill="#45317c" opacity="0.7"/>
<use href="#ui" fill="#26838e"/>
<use href="#us" fill="#26838e"/>
<use href="#ug" fill="#404286"/>
<path d="M20.5 14 C24 19 28 25 31.5 30.5 L29.5 34 C25 32 21 29 18.5 26 C19 21 19.5 17 20.5 14Z" fill="url(#spk)" opacity="0.85"/>
<path d="M30.4 30.8 C28.6 35 28.2 40 28.9 45 C29.4 48 30.2 50 31.6 51.8" fill="none" stroke="#fff" stroke-width="1.1" opacity="0.6"/><path d="M31.5 29.2 C29.2 34 28.6 40 29.3 45.5 C29.8 48.5 30.5 50.5 32.2 52.5 L29.6 52 C27.8 48 27.3 42 27.6 37 C27.9 33.5 29 31 30.4 29.6Z" fill="url(#spk)" opacity="0.7"/>
<path d="M45.5 11.5 C49 14 50.5 19 49 24 C47 21 46 16 45.5 11.5Z" fill="url(#spk)" opacity="0.8"/>
</g>
<rect x="307.5" y="244.5" width="2" height="54" fill="url(#vir)"/>
<line x1="309.5" y1="298.5" x2="310.5" y2="298.5" stroke="#666" stroke-width="0.4"/>
<text x="310.7" y="300.4" font-size="5.4">0</text>
<line x1="309.5" y1="285.4" x2="310.5" y2="285.4" stroke="#666" stroke-width="0.4"/>
<text x="310.7" y="287.3" font-size="5.4">1</text>
<line x1="309.5" y1="272.31" x2="310.5" y2="272.31" stroke="#666" stroke-width="0.4"/>
<text x="310.7" y="274.21" font-size="5.4">2</text>
<line x1="309.5" y1="259.21" x2="310.5" y2="259.21" stroke="#666" stroke-width="0.4"/>
<text x="310.7" y="261.11" font-size="5.4">3</text>
<line x1="309.5" y1="246.12" x2="310.5" y2="246.12" stroke="#666" stroke-width="0.4"/>
<text x="310.7" y="248.02" font-size="5.4">4</text>
<text x="306" y="246.3" font-size="8" text-anchor="end">CASQ2</text>
<defs><linearGradient id="fg12" x1="0" x2="0" y1="0" y2="1"><stop offset="0.1" stop-color="#3e4889"/><stop offset="0.45" stop-color="#1f9d89"/><stop offset="0.85" stop-color="#34b67a"/></linearGradient></defs>
<g transform="translate(313.9 244.1) scale(0.602 0.658)">
<use href="#um" fill="url(#fg12)"/>
<use href="#ua" fill="#37598c"/>
<path d="M45 12 C48 14 50 18 50 24 L46.4 22.8Z" fill="#44357f" opacity="0.7"/>
<use href="#ui" fill="#22908c"/>
<use href="#us" fill="#22908c"/>
<use href="#ug" fill="#3e4889"/>
<path d="M20.5 14 C24 19 28 25 31.5 30.5 L29.5 34 C25 32 21 29 18.5 26 C19 21 19.5 17 20.5 14Z" fill="url(#spk)" opacity="0.85"/>
<path d="M30.4 30.8 C28.6 35 28.2 40 28.9 45 C29.4 48 30.2 50 31.6 51.8" fill="none" stroke="#fff" stroke-width="1.1" opacity="0.6"/><path d="M31.5 29.2 C29.2 34 28.6 40 29.3 45.5 C29.8 48.5 30.5 50.5 32.2 52.5 L29.6 52 C27.8 48 27.3 42 27.6 37 C27.9 33.5 29 31 30.4 29.6Z" fill="url(#spk)" opacity="0.7"/>
<path d="M45.5 11.5 C49 14 50.5 19 49 24 C47 21 46 16 45.5 11.5Z" fill="url(#spk)" opacity="0.8"/>
</g>
<rect x="365.3" y="244.5" width="2" height="54" fill="url(#vir)"/>
<line x1="367.3" y1="298.5" x2="368.3" y2="298.5" stroke="#666" stroke-width="0.4"/>
<text x="368.5" y="300.4" font-size="5.4">0</text>
<line x1="367.3" y1="285.4" x2="368.3" y2="285.4" stroke="#666" stroke-width="0.4"/>
<text x="368.5" y="287.3" font-size="5.4">1</text>
<line x1="367.3" y1="272.31" x2="368.3" y2="272.31" stroke="#666" stroke-width="0.4"/>
<text x="368.5" y="274.21" font-size="5.4">2</text>
<line x1="367.3" y1="259.21" x2="368.3" y2="259.21" stroke="#666" stroke-width="0.4"/>
<text x="368.5" y="261.11" font-size="5.4">3</text>
<line x1="367.3" y1="246.12" x2="368.3" y2="246.12" stroke="#666" stroke-width="0.4"/>
<text x="368.5" y="248.02" font-size="5.4">4</text>
<text x="363.8" y="246.3" font-size="8" text-anchor="end">RYR1</text>
<defs><linearGradient id="fg13" x1="0" x2="0" y1="0" y2="1"><stop offset="0.1" stop-color="#404286"/><stop offset="0.45" stop-color="#1f9d89"/><stop offset="0.85" stop-color="#46be6f"/></linearGradient></defs>
<g transform="translate(372.8 244.1) scale(0.602 0.658)">
<use href="#um" fill="url(#fg13)"/>
<use href="#ua" fill="#3b518a"/>
<path d="M45 12 C48 14 50 18 50 24 L46.4 22.8Z" fill="#45317c" opacity="0.7"/>
<use href="#ui" fill="#22908c"/>
<use href="#us" fill="#22908c"/>
<use href="#ug" fill="#404286"/>
<path d="M20.5 14 C24 19 28 25 31.5 30.5 L29.5 34 C25 32 21 29 18.5 26 C19 21 19.5 17 20.5 14Z" fill="url(#spk)" opacity="0.85"/>
<path d="M30.4 30.8 C28.6 35 28.2 40 28.9 45 C29.4 48 30.2 50 31.6 51.8" fill="none" stroke="#fff" stroke-width="1.1" opacity="0.6"/><path d="M31.5 29.2 C29.2 34 28.6 40 29.3 45.5 C29.8 48.5 30.5 50.5 32.2 52.5 L29.6 52 C27.8 48 27.3 42 27.6 37 C27.9 33.5 29 31 30.4 29.6Z" fill="url(#spk)" opacity="0.7"/>
<path d="M45.5 11.5 C49 14 50.5 19 49 24 C47 21 46 16 45.5 11.5Z" fill="url(#spk)" opacity="0.8"/>
</g>
<rect x="424.2" y="244.5" width="2" height="54" fill="url(#vir)"/>
<line x1="426.2" y1="298.5" x2="427.2" y2="298.5" stroke="#666" stroke-width="0.4"/>
<text x="427.4" y="300.4" font-size="5.4">0</text>
<line x1="426.2" y1="285.4" x2="427.2" y2="285.4" stroke="#666" stroke-width="0.4"/>
<text x="427.4" y="287.3" font-size="5.4">1</text>
<line x1="426.2" y1="272.31" x2="427.2" y2="272.31" stroke="#666" stroke-width="0.4"/>
<text x="427.4" y="274.21" font-size="5.4">2</text>
<line x1="426.2" y1="259.21" x2="427.2" y2="259.21" stroke="#666" stroke-width="0.4"/>
<text x="427.4" y="261.11" font-size="5.4">3</text>
<line x1="426.2" y1="246.12" x2="427.2" y2="246.12" stroke="#666" stroke-width="0.4"/>
<text x="427.4" y="248.02" font-size="5.4">4</text>
<text x="422.7" y="246.3" font-size="8" text-anchor="end">TNNI1</text>
<text x="283" y="90.5" font-size="10.5" font-weight="bold">b‴</text>
<text x="302.6" y="90.5" font-size="8">MyoD gRNA</text>
<text x="379.6" y="90.5" font-size="8">Myomaker gRNA</text>
<rect x="283.2" y="93.1" width="83.2" height="83.3" fill="#fff" stroke="#d8d8d8" stroke-width="0.6"/>
<rect x="370.1" y="93.4" width="83.2" height="83" fill="#fff" stroke="#d8d8d8" stroke-width="0.6"/>
<line x1="370.1" y1="93.4" x2="453.3" y2="93.4" stroke="#666" stroke-width="0.7"/>
<defs><radialGradient id="kd1" cx="0.49" cy="0.55" r="0.62"><stop offset="0" stop-color="#ffffff"/><stop offset="0.6" stop-color="#f8f7fb"/><stop offset="1" stop-color="#efebf6"/></radialGradient></defs>
<path d="M301.17 117.1C303.7 117.1 308.11 122.71 310.76 126.69C313.42 130.67 314.71 136.46 317.08 140.97C319.46 145.47 323.59 149.74 325.04 153.72C326.5 157.7 326.33 162.46 325.81 164.84C325.28 167.22 324.13 168.25 321.88 168C319.63 167.74 315.74 165.69 312.29 163.31C308.84 160.93 304.08 157.44 301.17 153.72C298.26 150 295.78 145.47 294.85 140.97C293.92 136.46 294.56 130.67 295.61 126.69C296.67 122.71 298.65 117.1 301.17 117.1Z" fill="none" stroke="#b8a8d8" stroke-width="0.45" opacity="0.3"/>
<path d="M301.41 117.86C303.87 117.86 308.16 123.32 310.74 127.19C313.32 131.06 314.58 136.7 316.89 141.08C319.2 145.46 323.21 149.61 324.63 153.48C326.04 157.35 325.88 161.98 325.37 164.29C324.86 166.61 323.74 167.61 321.55 167.37C319.36 167.12 315.58 165.12 312.23 162.81C308.87 160.49 304.24 157.1 301.41 153.48C298.59 149.86 296.17 145.46 295.27 141.08C294.37 136.7 294.98 131.06 296.01 127.19C297.03 123.32 298.96 117.86 301.41 117.86Z" fill="none" stroke="#b8a8d8" stroke-width="0.45" opacity="0.45"/>
<path d="M301.66 118.63C304.04 118.63 308.21 123.94 310.72 127.7C313.23 131.46 314.45 136.93 316.69 141.19C318.94 145.45 322.84 149.48 324.21 153.24C325.59 157 325.43 161.5 324.94 163.75C324.44 165.99 323.36 166.97 321.23 166.73C319.1 166.49 315.42 164.55 312.16 162.3C308.9 160.06 304.4 156.76 301.66 153.24C298.91 149.72 296.56 145.45 295.68 141.19C294.81 136.93 295.41 131.46 296.4 127.7C297.4 123.94 299.27 118.63 301.66 118.63Z" fill="none" stroke="#b8a8d8" stroke-width="0.45" opacity="0.6"/>
<path d="M301.9 119.4C304.22 119.4 308.27 124.55 310.7 128.2C313.13 131.85 314.32 137.17 316.5 141.3C318.68 145.43 322.47 149.35 323.8 153C325.13 156.65 324.98 161.02 324.5 163.2C324.02 165.38 322.97 166.33 320.9 166.1C318.83 165.87 315.27 163.98 312.1 161.8C308.93 159.62 304.57 156.42 301.9 153C299.23 149.58 296.95 145.43 296.1 141.3C295.25 137.17 295.83 131.85 296.8 128.2C297.77 124.55 299.58 119.4 301.9 119.4Z" fill="url(#kd1)" stroke="#b8a8d8" stroke-width="0.6" stroke-opacity="0.85"/>
<path d="M302.55 121.45C304.68 121.45 308.41 126.19 310.64 129.54C312.88 132.9 313.97 137.79 315.98 141.6C317.99 145.4 321.47 149 322.7 152.36C323.92 155.72 323.78 159.74 323.34 161.74C322.9 163.75 321.93 164.63 320.03 164.41C318.13 164.2 314.85 162.46 311.93 160.46C309.02 158.45 305 155.5 302.55 152.36C300.09 149.22 297.99 145.4 297.21 141.6C296.43 137.79 296.97 132.9 297.86 129.54C298.75 126.19 300.42 121.45 302.55 121.45Z" fill="none" stroke="#b3a2d8" stroke-width="0.4" opacity="0.75"/>
<path d="M303.47 124.37C305.34 124.37 308.6 128.52 310.56 131.46C312.52 134.4 313.48 138.69 315.24 142.02C317 145.35 320.04 148.5 321.12 151.45C322.19 154.39 322.07 157.9 321.68 159.66C321.29 161.42 320.45 162.19 318.78 162C317.12 161.81 314.24 160.3 311.69 158.54C309.14 156.78 305.62 154.2 303.47 151.45C301.33 148.69 299.49 145.35 298.8 142.02C298.12 138.69 298.59 134.4 299.36 131.46C300.14 128.52 301.61 124.37 303.47 124.37Z" fill="none" stroke="#b3a2d8" stroke-width="0.4" opacity="0.75"/>
<path d="M304.4 127.3C306 127.3 308.8 130.86 310.48 133.38C312.17 135.91 312.98 139.58 314.49 142.44C316 145.3 318.62 148.01 319.54 150.53C320.46 153.06 320.36 156.07 320.03 157.58C319.69 159.09 318.97 159.75 317.54 159.59C316.11 159.43 313.64 158.13 311.45 156.62C309.26 155.11 306.24 152.89 304.4 150.53C302.56 148.17 300.98 145.3 300.39 142.44C299.8 139.58 300.2 135.91 300.87 133.38C301.54 130.86 302.8 127.3 304.4 127.3Z" fill="none" stroke="#b3a2d8" stroke-width="0.4" opacity="0.75"/>
<path d="M305.33 130.23C306.66 130.23 309 133.2 310.4 135.3C311.81 137.41 312.49 140.48 313.75 142.86C315.01 145.25 317.2 147.51 317.96 149.62C318.73 151.72 318.65 154.24 318.37 155.5C318.09 156.76 317.48 157.31 316.29 157.18C315.1 157.04 313.04 155.96 311.21 154.7C309.38 153.44 306.86 151.59 305.33 149.62C303.79 147.65 302.47 145.25 301.98 142.86C301.49 140.48 301.82 137.41 302.38 135.3C302.94 133.2 303.99 130.23 305.33 130.23Z" fill="none" stroke="#b3a2d8" stroke-width="0.4" opacity="0.75"/>
<path d="M306.25 133.15C307.32 133.15 309.2 135.53 310.32 137.22C311.45 138.91 312 141.37 313.01 143.29C314.02 145.2 315.77 147.01 316.39 148.7C317 150.39 316.94 152.41 316.71 153.42C316.49 154.43 316 154.87 315.05 154.77C314.09 154.66 312.44 153.79 310.97 152.78C309.51 151.77 307.49 150.28 306.25 148.7C305.02 147.12 303.96 145.2 303.57 143.29C303.17 141.37 303.44 138.91 303.89 137.22C304.34 135.53 305.18 133.15 306.25 133.15Z" fill="none" stroke="#b3a2d8" stroke-width="0.4" opacity="0.75"/>
<path d="M307.18 136.08C307.98 136.08 309.4 137.87 310.24 139.14C311.09 140.42 311.5 142.27 312.27 143.71C313.03 145.15 314.35 146.52 314.81 147.79C315.28 149.06 315.22 150.58 315.05 151.34C314.89 152.11 314.52 152.44 313.8 152.35C313.08 152.27 311.84 151.62 310.73 150.86C309.63 150.09 308.11 148.98 307.18 147.79C306.25 146.6 305.45 145.15 305.15 143.71C304.86 142.27 305.06 140.42 305.4 139.14C305.74 137.87 306.37 136.08 307.18 136.08Z" fill="none" stroke="#b3a2d8" stroke-width="0.4" opacity="0.75"/>
<path d="M308.1 139C308.65 139 309.59 140.21 310.16 141.06C310.73 141.92 311.01 143.16 311.52 144.13C312.03 145.1 312.92 146.02 313.23 146.87C313.55 147.73 313.51 148.75 313.4 149.26C313.28 149.78 313.04 150 312.55 149.94C312.07 149.89 311.23 149.45 310.49 148.94C309.75 148.42 308.73 147.67 308.1 146.87C307.48 146.07 306.94 145.1 306.74 144.13C306.54 143.16 306.68 141.92 306.91 141.06C307.13 140.21 307.56 139 308.1 139Z" fill="none" stroke="#b3a2d8" stroke-width="0.4" opacity="0.75"/>
<defs><radialGradient id="kd2" cx="0.51" cy="0.32" r="0.62"><stop offset="0" stop-color="#fbfbe6"/><stop offset="0.22" stop-color="#eef4b8"/><stop offset="0.5" stop-color="#c2e6c0"/><stop offset="0.8" stop-color="#a9d3d2"/><stop offset="1" stop-color="#c7c3e2"/></radialGradient></defs>
<path d="M302.1 100.82C303.59 98.88 305.85 97.95 308.55 97.27C311.26 96.58 315.35 96.12 318.34 96.71C321.32 97.3 324.56 98.79 326.45 100.82C328.34 102.86 329.14 105.96 329.68 108.94C330.21 111.92 330.49 116.02 329.68 118.72C328.86 121.43 326.14 123.28 324.78 125.17C323.43 127.06 322.1 127.9 321.56 130.07C321.02 132.23 322.25 136.16 321.56 138.18C320.87 140.2 318.95 141.78 317.45 142.18C315.95 142.59 313.63 142.39 312.55 140.63C311.48 138.87 311.94 134.2 311 131.62C310.05 129.05 308.51 127.32 306.88 125.17C305.25 123.02 302.42 121.43 301.21 118.72C300.01 116.02 299.51 111.92 299.66 108.94C299.81 105.96 300.62 102.77 302.1 100.82Z" fill="none" stroke="#8f78bd" stroke-width="0.45" opacity="0.3"/>
<path d="M302.46 101.12C303.9 99.22 306.1 98.32 308.73 97.66C311.36 96.99 315.34 96.54 318.24 97.12C321.14 97.69 324.3 99.13 326.14 101.12C327.97 103.1 328.75 106.11 329.27 109.01C329.79 111.91 330.06 115.89 329.27 118.52C328.48 121.15 325.83 122.96 324.51 124.79C323.2 126.63 321.9 127.44 321.38 129.55C320.86 131.66 322.05 135.48 321.38 137.44C320.71 139.41 318.84 140.94 317.38 141.34C315.92 141.73 313.67 141.53 312.62 139.82C311.58 138.11 312.03 133.57 311.11 131.07C310.19 128.56 308.69 126.88 307.11 124.79C305.52 122.7 302.76 121.15 301.59 118.52C300.42 115.89 299.94 111.91 300.08 109.01C300.22 106.11 301.02 103.01 302.46 101.12Z" fill="none" stroke="#8f78bd" stroke-width="0.45" opacity="0.45"/>
<path d="M302.81 101.41C304.21 99.57 306.35 98.69 308.91 98.05C311.46 97.4 315.33 96.96 318.15 97.52C320.97 98.08 324.04 99.48 325.82 101.41C327.61 103.33 328.36 106.26 328.87 109.08C329.38 111.9 329.64 115.77 328.87 118.32C328.1 120.88 325.52 122.63 324.25 124.42C322.97 126.2 321.71 126.99 321.2 129.04C320.69 131.09 321.85 134.8 321.2 136.71C320.55 138.62 318.73 140.1 317.31 140.49C315.89 140.87 313.7 140.68 312.69 139.02C311.67 137.35 312.11 132.94 311.22 130.51C310.32 128.07 308.87 126.45 307.33 124.42C305.79 122.38 303.11 120.88 301.97 118.32C300.83 115.77 300.36 111.9 300.5 109.08C300.64 106.26 301.41 103.25 302.81 101.41Z" fill="none" stroke="#8f78bd" stroke-width="0.45" opacity="0.6"/>
<path d="M303.17 101.7C304.53 99.91 306.6 99.06 309.08 98.43C311.57 97.8 315.32 97.38 318.06 97.92C320.8 98.47 323.77 99.83 325.51 101.7C327.24 103.57 327.97 106.41 328.46 109.14C328.96 111.88 329.21 115.64 328.46 118.12C327.72 120.6 325.22 122.3 323.98 124.04C322.74 125.77 321.51 126.53 321.02 128.52C320.52 130.51 321.65 134.12 321.02 135.97C320.39 137.82 318.62 139.27 317.24 139.64C315.87 140.02 313.74 139.83 312.76 138.21C311.77 136.6 312.19 132.31 311.33 129.95C310.46 127.59 309.05 126.01 307.55 124.04C306.06 122.06 303.46 120.6 302.35 118.12C301.25 115.64 300.79 111.88 300.92 109.14C301.06 106.41 301.81 103.48 303.17 101.7Z" fill="url(#kd2)" stroke="#8f78bd" stroke-width="1.1" stroke-opacity="0.85"/>
<path d="M304.35 102.67C305.58 101.06 307.44 100.3 309.68 99.73C311.91 99.16 315.29 98.78 317.75 99.27C320.22 99.76 322.89 100.99 324.46 102.67C326.02 104.35 326.67 106.91 327.12 109.37C327.56 111.83 327.79 115.21 327.12 117.45C326.44 119.68 324.2 121.21 323.08 122.77C321.96 124.33 320.86 125.02 320.42 126.81C319.97 128.6 320.98 131.85 320.42 133.51C319.85 135.18 318.26 136.48 317.02 136.82C315.78 137.15 313.87 136.99 312.98 135.53C312.09 134.08 312.48 130.22 311.7 128.1C310.91 125.97 309.64 124.55 308.3 122.77C306.95 121 304.61 119.68 303.62 117.45C302.62 115.21 302.21 111.83 302.33 109.37C302.45 106.91 303.13 104.27 304.35 102.67Z" fill="none" stroke="#9fd0c4" stroke-width="0.35" opacity="0.5"/>
<path d="M306.24 104.22C307.25 102.9 308.79 102.27 310.62 101.81C312.46 101.34 315.24 101.03 317.26 101.43C319.29 101.83 321.49 102.84 322.77 104.22C324.06 105.6 324.6 107.71 324.96 109.73C325.33 111.76 325.52 114.54 324.96 116.37C324.41 118.21 322.56 119.47 321.64 120.75C320.72 122.03 319.82 122.6 319.45 124.07C319.09 125.54 319.92 128.21 319.45 129.58C318.99 130.95 317.68 132.02 316.66 132.3C315.64 132.58 314.07 132.44 313.34 131.24C312.61 130.05 312.92 126.88 312.28 125.13C311.64 123.38 310.6 122.21 309.49 120.75C308.38 119.29 306.46 118.21 305.64 116.37C304.82 114.54 304.48 111.76 304.58 109.73C304.68 107.71 305.24 105.54 306.24 104.22Z" fill="none" stroke="#9fd0c4" stroke-width="0.35" opacity="0.5"/>
<path d="M308.14 105.77C308.93 104.74 310.13 104.24 311.57 103.88C313.01 103.51 315.19 103.27 316.77 103.58C318.36 103.9 320.09 104.69 321.09 105.77C322.1 106.86 322.52 108.5 322.81 110.09C323.1 111.68 323.24 113.86 322.81 115.3C322.38 116.74 320.93 117.72 320.21 118.73C319.49 119.73 318.78 120.18 318.49 121.33C318.2 122.49 318.86 124.58 318.49 125.65C318.13 126.73 317.1 127.56 316.3 127.78C315.5 128 314.27 127.89 313.7 126.95C313.13 126.02 313.37 123.53 312.87 122.16C312.37 120.79 311.55 119.87 310.68 118.73C309.81 117.59 308.31 116.74 307.66 115.3C307.02 113.86 306.76 111.68 306.84 110.09C306.91 108.5 307.35 106.81 308.14 105.77Z" fill="none" stroke="#9fd0c4" stroke-width="0.35" opacity="0.5"/>
<path d="M310.03 107.33C310.6 106.58 311.47 106.22 312.52 105.95C313.56 105.69 315.14 105.51 316.29 105.74C317.43 105.97 318.68 106.54 319.41 107.33C320.14 108.11 320.45 109.3 320.65 110.45C320.86 111.6 320.97 113.18 320.65 114.22C320.34 115.26 319.29 115.98 318.77 116.71C318.25 117.44 317.73 117.76 317.53 118.59C317.32 119.43 317.79 120.94 317.53 121.72C317.26 122.5 316.52 123.1 315.94 123.26C315.36 123.42 314.47 123.34 314.06 122.66C313.64 121.98 313.82 120.18 313.46 119.19C313.09 118.2 312.5 117.54 311.87 116.71C311.24 115.88 310.15 115.26 309.69 114.22C309.22 113.18 309.03 111.6 309.09 110.45C309.15 109.3 309.46 108.07 310.03 107.33Z" fill="none" stroke="#9fd0c4" stroke-width="0.35" opacity="0.5"/>
<defs><radialGradient id="kd3" cx="0.5" cy="0.5" r="0.62"><stop offset="0" stop-color="#f6faf2"/><stop offset="0.3" stop-color="#d8eee0"/><stop offset="0.7" stop-color="#b7d9d8"/><stop offset="1" stop-color="#cbc3e2"/></radialGradient></defs>
<path d="M345.18 117.2C345.18 118.4 344.88 119.71 344.36 120.79C343.84 121.87 343 122.93 342.06 123.68C341.13 124.42 339.91 125.01 338.74 125.28C337.58 125.54 336.22 125.54 335.06 125.28C333.89 125.01 332.67 124.42 331.74 123.68C330.8 122.93 329.96 121.87 329.44 120.79C328.92 119.71 328.62 118.4 328.62 117.2C328.62 116 328.92 114.69 329.44 113.61C329.96 112.53 330.8 111.47 331.74 110.72C332.67 109.98 333.89 109.39 335.06 109.12C336.22 108.86 337.58 108.86 338.74 109.12C339.91 109.39 341.13 109.98 342.06 110.72C343 111.47 343.84 112.53 344.36 113.61C344.88 114.69 345.18 116 345.18 117.2Z" fill="none" stroke="#8f78bd" stroke-width="0.45" opacity="0.3"/>
<path d="M344.96 117.2C344.96 118.37 344.66 119.65 344.16 120.7C343.65 121.75 342.83 122.77 341.92 123.5C341.01 124.22 339.83 124.79 338.69 125.05C337.56 125.31 336.24 125.31 335.11 125.05C333.97 124.79 332.79 124.22 331.88 123.5C330.97 122.77 330.15 121.75 329.64 120.7C329.14 119.65 328.84 118.37 328.84 117.2C328.84 116.03 329.14 114.75 329.64 113.7C330.15 112.65 330.97 111.63 331.88 110.9C332.79 110.18 333.97 109.61 335.11 109.35C336.24 109.09 337.56 109.09 338.69 109.35C339.83 109.61 341.01 110.18 341.92 110.9C342.83 111.63 343.65 112.65 344.16 113.7C344.66 114.75 344.96 116.03 344.96 117.2Z" fill="none" stroke="#8f78bd" stroke-width="0.45" opacity="0.45"/>
<path d="M344.73 117.2C344.73 118.33 344.44 119.58 343.95 120.6C343.46 121.62 342.67 122.61 341.78 123.32C340.9 124.03 339.75 124.58 338.64 124.83C337.54 125.08 336.26 125.08 335.16 124.83C334.05 124.58 332.9 124.03 332.02 123.32C331.13 122.61 330.34 121.62 329.85 120.6C329.36 119.58 329.07 118.33 329.07 117.2C329.07 116.07 329.36 114.82 329.85 113.8C330.34 112.78 331.13 111.79 332.02 111.08C332.9 110.37 334.05 109.82 335.16 109.57C336.26 109.32 337.54 109.32 338.64 109.57C339.75 109.82 340.9 110.37 341.78 111.08C342.67 111.79 343.46 112.78 343.95 113.8C344.44 114.82 344.73 116.07 344.73 117.2Z" fill="none" stroke="#8f78bd" stroke-width="0.45" opacity="0.6"/>
<path d="M344.5 117.2C344.5 118.3 344.22 119.51 343.75 120.5C343.27 121.49 342.5 122.46 341.64 123.14C340.78 123.83 339.66 124.36 338.59 124.61C337.52 124.85 336.28 124.85 335.21 124.61C334.14 124.36 333.02 123.83 332.16 123.14C331.3 122.46 330.53 121.49 330.05 120.5C329.58 119.51 329.3 118.3 329.3 117.2C329.3 116.1 329.58 114.89 330.05 113.9C330.53 112.91 331.3 111.94 332.16 111.26C333.02 110.57 334.14 110.04 335.21 109.79C336.28 109.55 337.52 109.55 338.59 109.79C339.66 110.04 340.78 110.57 341.64 111.26C342.5 111.94 343.27 112.91 343.75 113.9C344.22 114.89 344.5 116.1 344.5 117.2Z" fill="url(#kd3)" stroke="#8f78bd" stroke-width="1.1" stroke-opacity="0.85"/>
<path d="M343.74 117.2C343.74 118.19 343.49 119.28 343.06 120.17C342.63 121.06 341.94 121.93 341.16 122.55C340.39 123.16 339.39 123.65 338.42 123.87C337.46 124.09 336.34 124.09 335.38 123.87C334.41 123.65 333.41 123.16 332.64 122.55C331.86 121.93 331.17 121.06 330.74 120.17C330.31 119.28 330.06 118.19 330.06 117.2C330.06 116.21 330.31 115.12 330.74 114.23C331.17 113.34 331.86 112.47 332.64 111.85C333.41 111.24 334.41 110.75 335.38 110.53C336.34 110.31 337.46 110.31 338.42 110.53C339.39 110.75 340.39 111.24 341.16 111.85C341.94 112.47 342.63 113.34 343.06 114.23C343.49 115.12 343.74 116.21 343.74 117.2Z" fill="none" stroke="#9fd0c4" stroke-width="0.35" opacity="0.5"/>
<path d="M342.52 117.2C342.52 118.01 342.32 118.91 341.97 119.64C341.61 120.37 341.04 121.09 340.41 121.6C339.77 122.1 338.94 122.5 338.15 122.68C337.36 122.86 336.44 122.86 335.65 122.68C334.86 122.5 334.03 122.1 333.39 121.6C332.76 121.09 332.19 120.37 331.83 119.64C331.48 118.91 331.28 118.01 331.28 117.2C331.28 116.39 331.48 115.49 331.83 114.76C332.19 114.03 332.76 113.31 333.39 112.8C334.03 112.3 334.86 111.9 335.65 111.72C336.44 111.54 337.36 111.54 338.15 111.72C338.94 111.9 339.77 112.3 340.41 112.8C341.04 113.31 341.61 114.03 341.97 114.76C342.32 115.49 342.52 116.39 342.52 117.2Z" fill="none" stroke="#9fd0c4" stroke-width="0.35" opacity="0.5"/>
<path d="M341.31 117.2C341.31 117.84 341.15 118.54 340.87 119.11C340.59 119.69 340.15 120.25 339.65 120.65C339.15 121.04 338.5 121.36 337.88 121.5C337.26 121.64 336.54 121.64 335.92 121.5C335.3 121.36 334.65 121.04 334.15 120.65C333.65 120.25 333.21 119.69 332.93 119.11C332.65 118.54 332.49 117.84 332.49 117.2C332.49 116.56 332.65 115.86 332.93 115.29C333.21 114.71 333.65 114.15 334.15 113.75C334.65 113.36 335.3 113.04 335.92 112.9C336.54 112.76 337.26 112.76 337.88 112.9C338.5 113.04 339.15 113.36 339.65 113.75C340.15 114.15 340.59 114.71 340.87 115.29C341.15 115.86 341.31 116.56 341.31 117.2Z" fill="none" stroke="#9fd0c4" stroke-width="0.35" opacity="0.5"/>
<circle cx="327" cy="130" r="2.2" fill="#fafafa" stroke="#b8a8d8" stroke-width="0.45"/>
<circle cx="327" cy="130" r="3.4" fill="none" stroke="#d6cce8" stroke-width="0.4"/>
<defs><radialGradient id="kd4" cx="0.52" cy="0.48" r="0.62"><stop offset="0" stop-color="#ffffff"/><stop offset="0.6" stop-color="#f8f7fb"/><stop offset="1" stop-color="#efebf6"/></radialGradient></defs>
<path d="M359.92 131.56C360.57 132.28 360.93 133.41 360.89 134.62C360.86 135.84 360.42 137.39 359.7 138.86C358.98 140.33 357.84 142 356.58 143.43C355.32 144.85 353.7 146.32 352.15 147.42C350.6 148.52 348.81 149.49 347.28 150.05C345.74 150.61 344.15 150.88 342.94 150.79C341.73 150.7 340.65 150.22 339.99 149.5C339.34 148.77 338.98 147.65 339.02 146.43C339.05 145.21 339.49 143.66 340.21 142.19C340.93 140.73 342.07 139.05 343.33 137.63C344.59 136.2 346.21 134.74 347.76 133.63C349.31 132.53 351.1 131.57 352.63 131.01C354.17 130.45 355.76 130.17 356.97 130.27C358.18 130.36 359.26 130.83 359.92 131.56Z" fill="none" stroke="#b8a8d8" stroke-width="0.45" opacity="0.3"/>
<path d="M359.66 131.79C360.3 132.5 360.64 133.59 360.61 134.78C360.57 135.96 360.15 137.47 359.45 138.9C358.75 140.32 357.64 141.95 356.41 143.34C355.19 144.73 353.61 146.15 352.1 147.22C350.59 148.29 348.86 149.23 347.37 149.78C345.87 150.32 344.33 150.59 343.15 150.5C341.97 150.41 340.92 149.95 340.28 149.24C339.64 148.54 339.3 147.44 339.33 146.26C339.37 145.08 339.79 143.57 340.49 142.14C341.19 140.71 342.3 139.09 343.53 137.7C344.75 136.31 346.33 134.89 347.84 133.82C349.35 132.74 351.08 131.81 352.57 131.26C354.07 130.71 355.61 130.45 356.79 130.54C357.97 130.63 359.02 131.09 359.66 131.79Z" fill="none" stroke="#b8a8d8" stroke-width="0.45" opacity="0.45"/>
<path d="M359.4 132.03C360.02 132.72 360.36 133.78 360.32 134.93C360.29 136.08 359.88 137.55 359.2 138.93C358.52 140.32 357.44 141.9 356.25 143.25C355.06 144.6 353.52 145.98 352.06 147.02C350.59 148.06 348.91 148.97 347.46 149.5C346.01 150.04 344.5 150.29 343.36 150.21C342.21 150.12 341.19 149.67 340.57 148.99C339.95 148.3 339.61 147.24 339.65 146.09C339.68 144.94 340.09 143.47 340.77 142.08C341.45 140.7 342.53 139.12 343.72 137.77C344.91 136.42 346.45 135.04 347.91 134C349.38 132.95 351.06 132.04 352.51 131.51C353.96 130.98 355.47 130.73 356.61 130.81C357.76 130.9 358.78 131.35 359.4 132.03Z" fill="none" stroke="#b8a8d8" stroke-width="0.45" opacity="0.6"/>
<path d="M359.14 132.27C359.74 132.94 360.07 133.97 360.04 135.08C360 136.2 359.6 137.62 358.94 138.97C358.28 140.32 357.23 141.85 356.08 143.16C354.92 144.47 353.43 145.81 352.01 146.82C350.59 147.84 348.95 148.72 347.54 149.23C346.14 149.75 344.68 150 343.56 149.91C342.45 149.83 341.46 149.4 340.86 148.73C340.26 148.06 339.93 147.03 339.96 145.92C340 144.8 340.4 143.38 341.06 142.03C341.72 140.68 342.77 139.15 343.92 137.84C345.08 136.53 346.57 135.19 347.99 134.18C349.41 133.16 351.05 132.28 352.46 131.77C353.86 131.25 355.32 131 356.44 131.09C357.55 131.17 358.54 131.6 359.14 132.27Z" fill="url(#kd4)" stroke="#b8a8d8" stroke-width="0.6" stroke-opacity="0.85"/>
<path d="M358.45 132.9C359 133.52 359.3 134.47 359.27 135.49C359.24 136.52 358.87 137.83 358.27 139.07C357.66 140.31 356.7 141.72 355.63 142.92C354.57 144.13 353.2 145.36 351.89 146.29C350.58 147.22 349.08 148.04 347.78 148.51C346.49 148.99 345.14 149.21 344.12 149.14C343.09 149.06 342.18 148.66 341.63 148.05C341.08 147.43 340.78 146.49 340.81 145.46C340.84 144.43 341.21 143.12 341.81 141.88C342.42 140.64 343.38 139.23 344.45 138.03C345.51 136.82 346.88 135.59 348.19 134.66C349.5 133.73 351 132.91 352.3 132.44C353.59 131.97 354.94 131.74 355.96 131.81C356.99 131.89 357.9 132.29 358.45 132.9Z" fill="none" stroke="#b3a2d8" stroke-width="0.4" opacity="0.75"/>
<path d="M357.68 133.61C358.18 134.16 358.45 135.02 358.43 135.95C358.4 136.88 358.06 138.06 357.52 139.18C356.97 140.3 356.1 141.57 355.14 142.66C354.18 143.75 352.94 144.86 351.76 145.7C350.57 146.55 349.21 147.28 348.04 147.71C346.87 148.14 345.66 148.34 344.74 148.27C343.81 148.2 342.99 147.84 342.49 147.29C341.99 146.74 341.72 145.88 341.74 144.95C341.77 144.02 342.1 142.84 342.65 141.72C343.2 140.6 344.07 139.33 345.03 138.24C345.99 137.15 347.23 136.04 348.41 135.19C349.6 134.35 350.96 133.62 352.13 133.19C353.3 132.76 354.51 132.56 355.43 132.62C356.36 132.69 357.18 133.06 357.68 133.61Z" fill="none" stroke="#b3a2d8" stroke-width="0.4" opacity="0.75"/>
<path d="M356.91 134.31C357.36 134.81 357.6 135.57 357.58 136.4C357.55 137.23 357.26 138.29 356.77 139.29C356.28 140.29 355.5 141.43 354.64 142.4C353.78 143.37 352.68 144.36 351.62 145.12C350.57 145.87 349.35 146.52 348.31 146.91C347.26 147.29 346.18 147.47 345.35 147.41C344.53 147.35 343.79 147.03 343.34 146.53C342.9 146.04 342.66 145.27 342.68 144.44C342.7 143.61 343 142.56 343.49 141.56C343.98 140.56 344.76 139.42 345.62 138.45C346.47 137.48 347.58 136.48 348.64 135.73C349.69 134.98 350.91 134.32 351.95 133.94C353 133.56 354.08 133.37 354.91 133.44C355.73 133.5 356.47 133.82 356.91 134.31Z" fill="none" stroke="#b3a2d8" stroke-width="0.4" opacity="0.75"/>
<path d="M356.15 135.02C356.54 135.45 356.75 136.13 356.73 136.86C356.71 137.59 356.45 138.52 356.02 139.4C355.58 140.28 354.9 141.28 354.14 142.13C353.39 142.99 352.42 143.87 351.49 144.53C350.56 145.19 349.49 145.77 348.57 146.1C347.65 146.44 346.7 146.6 345.97 146.55C345.24 146.49 344.59 146.21 344.2 145.77C343.81 145.34 343.6 144.66 343.62 143.93C343.64 143.2 343.9 142.27 344.33 141.4C344.76 140.52 345.45 139.51 346.2 138.66C346.96 137.8 347.93 136.93 348.86 136.26C349.79 135.6 350.86 135.03 351.78 134.69C352.7 134.35 353.65 134.19 354.38 134.25C355.11 134.3 355.75 134.58 356.15 135.02Z" fill="none" stroke="#b3a2d8" stroke-width="0.4" opacity="0.75"/>
<path d="M355.38 135.72C355.72 136.1 355.9 136.68 355.88 137.31C355.86 137.94 355.64 138.75 355.27 139.51C354.89 140.27 354.3 141.13 353.65 141.87C353 142.61 352.16 143.37 351.35 143.94C350.55 144.51 349.63 145.01 348.83 145.3C348.04 145.59 347.21 145.73 346.59 145.68C345.96 145.64 345.4 145.39 345.06 145.01C344.72 144.64 344.53 144.06 344.55 143.43C344.57 142.8 344.8 141.99 345.17 141.23C345.54 140.47 346.13 139.61 346.79 138.87C347.44 138.13 348.28 137.37 349.08 136.8C349.89 136.23 350.81 135.73 351.6 135.44C352.4 135.15 353.22 135.01 353.85 135.06C354.48 135.1 355.04 135.35 355.38 135.72Z" fill="none" stroke="#b3a2d8" stroke-width="0.4" opacity="0.75"/>
<path d="M354.61 136.43C354.89 136.75 355.05 137.24 355.03 137.77C355.02 138.3 354.83 138.98 354.51 139.62C354.2 140.26 353.7 140.99 353.15 141.61C352.6 142.23 351.89 142.87 351.22 143.35C350.54 143.83 349.76 144.25 349.09 144.5C348.43 144.74 347.73 144.86 347.2 144.82C346.67 144.78 346.2 144.57 345.92 144.26C345.63 143.94 345.47 143.45 345.49 142.92C345.51 142.39 345.7 141.71 346.01 141.07C346.32 140.43 346.82 139.7 347.37 139.08C347.92 138.46 348.63 137.82 349.31 137.34C349.98 136.85 350.76 136.43 351.43 136.19C352.1 135.94 352.79 135.83 353.32 135.87C353.85 135.91 354.32 136.11 354.61 136.43Z" fill="none" stroke="#b3a2d8" stroke-width="0.4" opacity="0.75"/>
<path d="M353.84 137.13C354.07 137.39 354.2 137.79 354.19 138.22C354.17 138.65 354.02 139.2 353.76 139.72C353.51 140.25 353.1 140.84 352.66 141.34C352.21 141.85 351.63 142.37 351.08 142.76C350.53 143.15 349.9 143.49 349.36 143.69C348.81 143.89 348.25 143.99 347.82 143.96C347.39 143.92 347 143.76 346.77 143.5C346.54 143.24 346.41 142.84 346.43 142.41C346.44 141.98 346.59 141.43 346.85 140.91C347.1 140.39 347.51 139.79 347.96 139.29C348.4 138.78 348.98 138.26 349.53 137.87C350.08 137.48 350.71 137.14 351.26 136.94C351.8 136.74 352.36 136.64 352.8 136.68C353.23 136.71 353.61 136.88 353.84 137.13Z" fill="none" stroke="#b3a2d8" stroke-width="0.4" opacity="0.75"/>
<path d="M353.07 137.84C353.25 138.04 353.35 138.34 353.34 138.68C353.33 139.01 353.21 139.43 353.01 139.83C352.82 140.23 352.51 140.69 352.16 141.08C351.82 141.47 351.37 141.87 350.95 142.17C350.53 142.47 350.04 142.74 349.62 142.89C349.2 143.04 348.77 143.12 348.43 143.09C348.1 143.07 347.81 142.94 347.63 142.74C347.45 142.54 347.35 142.23 347.36 141.9C347.37 141.57 347.49 141.15 347.69 140.74C347.88 140.34 348.2 139.89 348.54 139.5C348.89 139.11 349.33 138.71 349.75 138.41C350.18 138.1 350.66 137.84 351.08 137.69C351.5 137.54 351.94 137.46 352.27 137.49C352.6 137.51 352.89 137.64 353.07 137.84Z" fill="none" stroke="#b3a2d8" stroke-width="0.4" opacity="0.75"/>
<path d="M352.3 138.54C352.43 138.68 352.5 138.9 352.49 139.13C352.48 139.36 352.4 139.66 352.26 139.94C352.13 140.22 351.91 140.55 351.67 140.82C351.42 141.09 351.11 141.37 350.82 141.58C350.52 141.79 350.18 141.98 349.88 142.09C349.59 142.19 349.28 142.25 349.05 142.23C348.82 142.21 348.61 142.12 348.49 141.98C348.36 141.84 348.29 141.63 348.3 141.39C348.31 141.16 348.39 140.86 348.53 140.58C348.67 140.3 348.88 139.98 349.13 139.71C349.37 139.43 349.68 139.15 349.98 138.94C350.27 138.73 350.61 138.55 350.91 138.44C351.2 138.33 351.51 138.28 351.74 138.3C351.97 138.31 352.18 138.4 352.3 138.54Z" fill="none" stroke="#b3a2d8" stroke-width="0.4" opacity="0.75"/>
<defs><radialGradient id="kd5" cx="0.47" cy="0.53" r="0.62"><stop offset="0" stop-color="#f6faf2"/><stop offset="0.3" stop-color="#d8eee0"/><stop offset="0.7" stop-color="#b7d9d8"/><stop offset="1" stop-color="#cbc3e2"/></radialGradient></defs>
<path d="M382.54 104.61C383.93 99.81 385.85 98.42 388.81 96.76C391.78 95.1 396.49 94.58 400.32 94.67C404.16 94.75 409.04 95.28 411.84 97.28C414.63 99.29 416.54 102.86 417.07 106.7C417.59 110.54 416.2 116.29 414.97 120.3C413.75 124.32 411.49 127.8 409.74 130.77C408 133.73 404.68 134.78 404.51 138.09C404.34 141.41 407.65 146.81 408.7 150.65C409.74 154.49 411.66 157.8 410.79 161.11C409.92 164.43 406.78 168.7 403.46 170.53C400.15 172.36 395.35 172.97 390.91 172.1C386.46 171.23 379.92 169.05 376.78 165.3C373.64 161.55 372.51 154.49 372.07 149.6C371.64 144.72 372.77 140.01 374.16 136C375.56 131.99 379.05 130.77 380.44 125.54C381.84 120.3 381.14 109.4 382.54 104.61Z" fill="none" stroke="#8f78bd" stroke-width="0.45" opacity="0.3"/>
<path d="M382.82 105.47C384.18 100.81 386.05 99.45 388.93 97.84C391.81 96.23 396.39 95.72 400.12 95.8C403.85 95.89 408.6 96.4 411.32 98.35C414.03 100.3 415.9 103.78 416.4 107.51C416.91 111.24 415.56 116.84 414.37 120.74C413.18 124.64 410.98 128.03 409.28 130.91C407.59 133.8 404.36 134.81 404.19 138.04C404.02 141.26 407.25 146.52 408.26 150.25C409.28 153.98 411.15 157.2 410.3 160.42C409.45 163.64 406.4 167.8 403.18 169.58C399.95 171.36 395.29 171.96 390.96 171.11C386.64 170.26 380.28 168.14 377.23 164.49C374.17 160.85 373.07 153.98 372.65 149.23C372.22 144.48 373.33 139.9 374.68 136C376.04 132.1 379.43 130.91 380.79 125.82C382.15 120.74 381.47 110.14 382.82 105.47Z" fill="none" stroke="#8f78bd" stroke-width="0.45" opacity="0.45"/>
<path d="M383.11 106.34C384.43 101.8 386.24 100.49 389.04 98.92C391.85 97.35 396.3 96.86 399.92 96.94C403.55 97.02 408.16 97.52 410.8 99.41C413.44 101.31 415.25 104.69 415.74 108.31C416.24 111.94 414.92 117.38 413.76 121.17C412.61 124.96 410.47 128.25 408.82 131.06C407.17 133.86 404.04 134.85 403.88 137.98C403.71 141.11 406.84 146.22 407.83 149.84C408.82 153.47 410.63 156.6 409.81 159.73C408.99 162.86 406.02 166.9 402.89 168.63C399.76 170.36 395.22 170.94 391.02 170.11C386.82 169.29 380.64 167.23 377.67 163.69C374.71 160.14 373.64 153.47 373.22 148.85C372.81 144.24 373.88 139.79 375.2 136C376.52 132.21 379.82 131.06 381.13 126.11C382.45 121.17 381.79 110.87 383.11 106.34Z" fill="none" stroke="#8f78bd" stroke-width="0.45" opacity="0.6"/>
<path d="M383.4 107.2C384.68 102.8 386.44 101.52 389.16 100C391.88 98.48 396.2 98 399.72 98.08C403.24 98.16 407.72 98.64 410.28 100.48C412.84 102.32 414.6 105.6 415.08 109.12C415.56 112.64 414.28 117.92 413.16 121.6C412.04 125.28 409.96 128.48 408.36 131.2C406.76 133.92 403.72 134.88 403.56 137.92C403.4 140.96 406.44 145.92 407.4 149.44C408.36 152.96 410.12 156 409.32 159.04C408.52 162.08 405.64 166 402.6 167.68C399.56 169.36 395.16 169.92 391.08 169.12C387 168.32 381 166.32 378.12 162.88C375.24 159.44 374.2 152.96 373.8 148.48C373.4 144 374.44 139.68 375.72 136C377 132.32 380.2 131.2 381.48 126.4C382.76 121.6 382.12 111.6 383.4 107.2Z" fill="url(#kd5)" stroke="#8f78bd" stroke-width="1.1" stroke-opacity="0.85"/>
<path d="M384.36 110.08C385.51 106.12 387.1 104.97 389.54 103.6C391.99 102.23 395.88 101.8 399.05 101.87C402.22 101.94 406.25 102.38 408.55 104.03C410.86 105.69 412.44 108.64 412.87 111.81C413.3 114.98 412.15 119.73 411.14 123.04C410.14 126.35 408.26 129.23 406.82 131.68C405.38 134.13 402.65 134.99 402.5 137.73C402.36 140.46 405.1 144.93 405.96 148.1C406.82 151.26 408.41 154 407.69 156.74C406.97 159.47 404.38 163 401.64 164.51C398.9 166.02 394.94 166.53 391.27 165.81C387.6 165.09 382.2 163.29 379.61 160.19C377.02 157.1 376.08 151.26 375.72 147.23C375.36 143.2 376.3 139.31 377.45 136C378.6 132.69 381.48 131.68 382.63 127.36C383.78 123.04 383.21 114.04 384.36 110.08Z" fill="none" stroke="#9fd0c4" stroke-width="0.35" opacity="0.5"/>
<defs><radialGradient id="kd6" cx="0.48" cy="0.4" r="0.62"><stop offset="0" stop-color="#f6faf2"/><stop offset="0.3" stop-color="#d8eee0"/><stop offset="0.7" stop-color="#b7d9d8"/><stop offset="1" stop-color="#cbc3e2"/></radialGradient></defs>
<path d="M386.08 109.39C386.54 106.16 387.95 103.96 390.26 102.46C392.57 100.95 396.7 100.37 399.95 100.37C403.2 100.37 407.53 100.71 409.74 102.46C411.94 104.2 412.93 108.04 413.15 110.81C413.38 113.59 412.11 116.31 411.06 119.08C410.02 121.85 408.5 125.35 406.88 127.44C405.27 129.53 403.45 131.4 401.38 131.62C399.3 131.84 396.75 130.4 394.44 128.77C392.13 127.14 388.9 125.06 387.5 121.83C386.11 118.6 385.62 112.62 386.08 109.39Z" fill="url(#kd6)"/>
<path d="M387.37 109.75C387.79 106.84 389.05 104.86 391.13 103.51C393.21 102.16 396.93 101.63 399.86 101.63C402.78 101.63 406.68 101.94 408.66 103.51C410.64 105.08 411.54 108.54 411.74 111.03C411.94 113.53 410.8 115.98 409.86 118.47C408.92 120.97 407.55 124.11 406.1 126C404.64 127.88 403 129.56 401.14 129.76C399.27 129.96 396.98 128.66 394.9 127.19C392.82 125.73 389.91 123.86 388.65 120.95C387.4 118.04 386.96 112.66 387.37 109.75Z" fill="none" stroke="#9fd0c4" stroke-width="0.35" opacity="0.5"/>
<path d="M389.44 110.33C389.78 107.94 390.82 106.31 392.53 105.2C394.24 104.08 397.3 103.65 399.7 103.65C402.1 103.65 405.32 103.91 406.94 105.2C408.57 106.49 409.31 109.33 409.47 111.38C409.64 113.43 408.7 115.45 407.93 117.5C407.15 119.55 406.03 122.14 404.83 123.69C403.64 125.23 402.29 126.61 400.76 126.78C399.22 126.94 397.34 125.88 395.63 124.67C393.91 123.46 391.52 121.93 390.49 119.54C389.46 117.15 389.1 112.72 389.44 110.33Z" fill="none" stroke="#9fd0c4" stroke-width="0.35" opacity="0.5"/>
<path d="M391.51 110.91C391.77 109.03 392.59 107.76 393.93 106.88C395.27 106.01 397.67 105.67 399.55 105.67C401.43 105.67 403.95 105.87 405.23 106.88C406.5 107.89 407.08 110.13 407.21 111.73C407.34 113.34 406.6 114.92 406 116.53C405.39 118.13 404.51 120.16 403.57 121.38C402.64 122.59 401.58 123.67 400.38 123.8C399.17 123.93 397.7 123.09 396.36 122.15C395.01 121.2 393.14 120 392.33 118.12C391.52 116.25 391.24 112.78 391.51 110.91Z" fill="none" stroke="#9fd0c4" stroke-width="0.35" opacity="0.5"/>
<defs><radialGradient id="kd7" cx="0.4" cy="0.56" r="0.62"><stop offset="0" stop-color="#fbfbe6"/><stop offset="0.22" stop-color="#eef4b8"/><stop offset="0.5" stop-color="#c2e6c0"/><stop offset="0.8" stop-color="#a9d3d2"/><stop offset="1" stop-color="#c7c3e2"/></radialGradient></defs>
<path d="M385.54 130.42C387.64 130.66 391.66 131.42 393.99 133.3C396.33 135.17 397.69 138.86 399.56 141.65C401.43 144.43 404.06 147.2 405.22 150C406.39 152.8 407.27 155.87 406.57 158.45C405.86 161.02 403.56 164.05 401 165.46C398.44 166.86 394.71 167.58 391.21 166.9C387.7 166.21 382.42 164.37 379.98 161.33C377.53 158.29 376.87 152.4 376.52 148.66C376.17 144.91 377.05 141.66 377.86 138.86C378.68 136.06 380.14 133.26 381.42 131.86C382.7 130.45 383.45 130.18 385.54 130.42Z" fill="url(#kd7)"/>
<path d="M385.85 132.47C387.74 132.69 391.35 133.38 393.45 135.07C395.56 136.75 396.78 140.08 398.46 142.58C400.15 145.09 402.51 147.58 403.56 150.1C404.61 152.62 405.4 155.38 404.77 157.7C404.14 160.02 402.06 162.74 399.76 164.01C397.46 165.28 394.1 165.93 390.95 165.31C387.79 164.69 383.04 163.03 380.84 160.3C378.64 157.56 378.04 152.26 377.73 148.89C377.41 145.52 378.2 142.6 378.94 140.08C379.67 137.56 380.98 135.04 382.13 133.77C383.29 132.5 383.96 132.26 385.85 132.47Z" fill="none" stroke="#9fd0c4" stroke-width="0.35" opacity="0.5"/>
<path d="M386.34 135.77C387.89 135.95 390.86 136.51 392.59 137.9C394.32 139.28 395.33 142.02 396.71 144.08C398.1 146.14 400.04 148.19 400.9 150.26C401.77 152.33 402.42 154.61 401.9 156.51C401.38 158.42 399.67 160.66 397.78 161.7C395.88 162.74 393.12 163.27 390.53 162.76C387.94 162.25 384.03 160.89 382.22 158.64C380.41 156.39 379.92 152.04 379.66 149.27C379.4 146.49 380.05 144.09 380.66 142.02C381.26 139.95 382.34 137.88 383.28 136.83C384.23 135.79 384.79 135.59 386.34 135.77Z" fill="none" stroke="#9fd0c4" stroke-width="0.35" opacity="0.5"/>
<path d="M386.83 139.06C388.04 139.2 390.37 139.65 391.73 140.73C393.08 141.82 393.87 143.96 394.96 145.58C396.04 147.19 397.56 148.8 398.24 150.42C398.92 152.04 399.43 153.83 399.02 155.32C398.61 156.81 397.28 158.57 395.79 159.38C394.31 160.2 392.14 160.62 390.11 160.22C388.08 159.82 385.02 158.75 383.6 156.99C382.18 155.23 381.8 151.81 381.59 149.64C381.39 147.47 381.9 145.59 382.37 143.96C382.85 142.34 383.69 140.71 384.43 139.9C385.18 139.08 385.61 138.92 386.83 139.06Z" fill="none" stroke="#9fd0c4" stroke-width="0.35" opacity="0.5"/>
<path d="M387.32 142.35C388.2 142.46 389.88 142.78 390.86 143.56C391.85 144.35 392.42 145.9 393.2 147.07C393.99 148.24 395.09 149.4 395.58 150.58C396.07 151.76 396.44 153.05 396.15 154.13C395.85 155.21 394.88 156.48 393.81 157.07C392.73 157.66 391.17 157.97 389.7 157.68C388.22 157.39 386.01 156.61 384.98 155.34C383.95 154.06 383.67 151.59 383.53 150.02C383.38 148.44 383.75 147.08 384.09 145.9C384.43 144.73 385.05 143.55 385.58 142.96C386.12 142.37 386.44 142.25 387.32 142.35Z" fill="none" stroke="#9fd0c4" stroke-width="0.35" opacity="0.5"/>
<circle cx="420.5" cy="118.7" r="3" fill="#f8f8f8" stroke="#c2b4dc" stroke-width="0.45"/>
<path d="M411 114 C415 112 419 113 424 114.5 C426 117 426 121 423 123 C419 124 415 124 412 122" fill="none" stroke="#d2c8e6" stroke-width="0.45"/>
<defs><radialGradient id="kd8" cx="0.5" cy="0.5" r="0.62"><stop offset="0" stop-color="#ffffff"/><stop offset="0.6" stop-color="#f8f7fb"/><stop offset="1" stop-color="#efebf6"/></radialGradient></defs>
<path d="M446.16 128.29C446.93 129.12 447.38 130.41 447.38 131.81C447.37 133.21 446.92 135 446.14 136.7C445.36 138.39 444.1 140.33 442.7 141.98C441.3 143.63 439.48 145.33 437.73 146.61C435.99 147.89 433.97 149.02 432.23 149.68C430.48 150.34 428.66 150.66 427.27 150.57C425.87 150.47 424.61 149.94 423.84 149.11C423.07 148.28 422.62 146.99 422.62 145.59C422.63 144.19 423.08 142.4 423.86 140.7C424.64 139.01 425.9 137.07 427.3 135.42C428.7 133.77 430.52 132.07 432.27 130.79C434.01 129.51 436.03 128.38 437.77 127.72C439.52 127.06 441.34 126.74 442.73 126.83C444.13 126.93 445.39 127.46 446.16 128.29Z" fill="none" stroke="#b8a8d8" stroke-width="0.45" opacity="0.3"/>
<path d="M445.85 128.58C446.61 129.39 447.04 130.64 447.04 132C447.03 133.37 446.59 135.11 445.84 136.75C445.08 138.4 443.85 140.28 442.49 141.89C441.13 143.5 439.36 145.15 437.66 146.39C435.96 147.64 434 148.73 432.3 149.37C430.61 150.02 428.84 150.33 427.48 150.24C426.12 150.15 424.9 149.63 424.15 148.82C423.39 148.01 422.96 146.76 422.96 145.4C422.97 144.03 423.41 142.29 424.16 140.65C424.92 139 426.15 137.12 427.51 135.51C428.87 133.9 430.64 132.25 432.34 131.01C434.04 129.76 436 128.67 437.7 128.03C439.39 127.38 441.16 127.07 442.52 127.16C443.88 127.25 445.1 127.77 445.85 128.58Z" fill="none" stroke="#b8a8d8" stroke-width="0.45" opacity="0.45"/>
<path d="M445.55 128.87C446.28 129.65 446.7 130.87 446.7 132.19C446.69 133.52 446.27 135.21 445.53 136.81C444.79 138.41 443.6 140.24 442.28 141.8C440.95 143.36 439.23 144.96 437.58 146.18C435.93 147.39 434.03 148.45 432.38 149.07C430.73 149.7 429.01 150 427.69 149.91C426.37 149.82 425.19 149.32 424.45 148.53C423.72 147.75 423.3 146.53 423.3 145.21C423.31 143.88 423.73 142.19 424.47 140.59C425.21 138.99 426.4 137.16 427.72 135.6C429.05 134.04 430.77 132.44 432.42 131.22C434.07 130.01 435.97 128.95 437.62 128.33C439.27 127.7 440.99 127.4 442.31 127.49C443.63 127.58 444.81 128.08 445.55 128.87Z" fill="none" stroke="#b8a8d8" stroke-width="0.45" opacity="0.6"/>
<path d="M445.24 129.15C445.95 129.91 446.36 131.1 446.36 132.38C446.35 133.67 445.94 135.31 445.22 136.86C444.51 138.42 443.35 140.19 442.07 141.71C440.78 143.22 439.11 144.78 437.51 145.96C435.91 147.14 434.06 148.17 432.46 148.77C430.85 149.37 429.19 149.67 427.91 149.59C426.62 149.5 425.47 149.01 424.76 148.25C424.05 147.49 423.64 146.3 423.64 145.02C423.65 143.73 424.06 142.09 424.78 140.54C425.49 138.98 426.65 137.21 427.93 135.69C429.22 134.18 430.89 132.62 432.49 131.44C434.09 130.26 435.94 129.23 437.54 128.63C439.15 128.03 440.81 127.73 442.09 127.81C443.38 127.9 444.53 128.39 445.24 129.15Z" fill="url(#kd8)" stroke="#b8a8d8" stroke-width="0.6" stroke-opacity="0.85"/>
<path d="M444.42 129.92C445.07 130.62 445.45 131.71 445.45 132.89C445.44 134.07 445.06 135.58 444.41 137.01C443.75 138.44 442.68 140.07 441.5 141.47C440.32 142.86 438.78 144.3 437.31 145.38C435.83 146.46 434.13 147.41 432.66 147.96C431.19 148.52 429.65 148.8 428.47 148.72C427.29 148.64 426.23 148.18 425.58 147.48C424.93 146.78 424.55 145.69 424.55 144.51C424.56 143.33 424.94 141.82 425.59 140.39C426.25 138.96 427.32 137.33 428.5 135.93C429.68 134.54 431.22 133.1 432.69 132.02C434.17 130.94 435.87 129.99 437.34 129.44C438.81 128.88 440.35 128.6 441.53 128.68C442.71 128.76 443.77 129.22 444.42 129.92Z" fill="none" stroke="#b3a2d8" stroke-width="0.4" opacity="0.75"/>
<path d="M443.6 130.68C444.2 131.32 444.54 132.31 444.54 133.39C444.54 134.47 444.19 135.85 443.59 137.16C442.99 138.46 442.02 139.95 440.94 141.23C439.86 142.5 438.45 143.81 437.11 144.8C435.76 145.79 434.21 146.65 432.86 147.16C431.52 147.67 430.12 147.92 429.04 147.85C427.96 147.77 427 147.36 426.4 146.72C425.8 146.08 425.46 145.09 425.46 144.01C425.46 142.93 425.81 141.55 426.41 140.24C427.01 138.94 427.98 137.45 429.06 136.17C430.14 134.9 431.55 133.59 432.89 132.6C434.24 131.61 435.79 130.75 437.14 130.24C438.48 129.73 439.88 129.48 440.96 129.55C442.04 129.63 443 130.04 443.6 130.68Z" fill="none" stroke="#b3a2d8" stroke-width="0.4" opacity="0.75"/>
<path d="M442.78 131.44C443.32 132.02 443.63 132.92 443.63 133.9C443.63 134.88 443.31 136.12 442.77 137.3C442.23 138.49 441.35 139.83 440.37 140.99C439.39 142.14 438.12 143.32 436.91 144.22C435.69 145.11 434.28 145.89 433.07 146.35C431.85 146.81 430.58 147.04 429.61 146.97C428.63 146.91 427.76 146.54 427.22 145.96C426.68 145.38 426.37 144.48 426.37 143.5C426.37 142.52 426.69 141.28 427.23 140.1C427.77 138.91 428.65 137.57 429.63 136.41C430.61 135.26 431.88 134.08 433.09 133.18C434.31 132.29 435.72 131.51 436.93 131.05C438.15 130.59 439.42 130.36 440.39 130.43C441.37 130.49 442.24 130.86 442.78 131.44Z" fill="none" stroke="#b3a2d8" stroke-width="0.4" opacity="0.75"/>
<path d="M441.96 132.21C442.45 132.73 442.72 133.53 442.72 134.4C442.72 135.28 442.44 136.39 441.95 137.45C441.47 138.51 440.68 139.72 439.8 140.75C438.93 141.78 437.8 142.84 436.71 143.64C435.62 144.44 434.36 145.14 433.27 145.55C432.18 145.96 431.05 146.16 430.18 146.1C429.3 146.04 428.52 145.71 428.04 145.19C427.55 144.67 427.28 143.87 427.28 143C427.28 142.12 427.56 141.01 428.05 139.95C428.53 138.89 429.32 137.68 430.2 136.65C431.07 135.62 432.2 134.56 433.29 133.76C434.38 132.96 435.64 132.26 436.73 131.85C437.82 131.44 438.95 131.24 439.82 131.3C440.7 131.36 441.48 131.69 441.96 132.21Z" fill="none" stroke="#b3a2d8" stroke-width="0.4" opacity="0.75"/>
<path d="M441.14 132.97C441.57 133.43 441.81 134.14 441.81 134.91C441.81 135.68 441.56 136.67 441.13 137.6C440.7 138.53 440.01 139.6 439.24 140.51C438.47 141.41 437.47 142.35 436.51 143.06C435.54 143.76 434.43 144.38 433.47 144.74C432.51 145.1 431.51 145.28 430.74 145.23C429.97 145.18 429.28 144.89 428.86 144.43C428.43 143.97 428.19 143.26 428.19 142.49C428.19 141.72 428.44 140.73 428.87 139.8C429.3 138.87 429.99 137.8 430.76 136.89C431.53 135.99 432.53 135.05 433.49 134.34C434.46 133.64 435.57 133.02 436.53 132.66C437.49 132.3 438.49 132.12 439.26 132.17C440.03 132.22 440.72 132.51 441.14 132.97Z" fill="none" stroke="#b3a2d8" stroke-width="0.4" opacity="0.75"/>
<path d="M440.32 133.74C440.69 134.13 440.91 134.75 440.9 135.41C440.9 136.08 440.69 136.94 440.32 137.75C439.94 138.55 439.34 139.48 438.67 140.26C438.01 141.05 437.14 141.86 436.3 142.47C435.47 143.09 434.51 143.62 433.68 143.94C432.84 144.25 431.98 144.41 431.31 144.36C430.64 144.32 430.05 144.06 429.68 143.66C429.31 143.27 429.09 142.65 429.1 141.99C429.1 141.32 429.31 140.46 429.68 139.65C430.06 138.85 430.66 137.92 431.33 137.14C431.99 136.35 432.86 135.54 433.7 134.93C434.53 134.31 435.49 133.78 436.32 133.46C437.16 133.15 438.02 132.99 438.69 133.04C439.36 133.08 439.95 133.34 440.32 133.74Z" fill="none" stroke="#b3a2d8" stroke-width="0.4" opacity="0.75"/>
<path d="M439.51 134.5C439.82 134.83 440 135.35 440 135.92C440 136.49 439.81 137.21 439.5 137.89C439.18 138.58 438.67 139.36 438.11 140.02C437.54 140.69 436.81 141.38 436.1 141.89C435.4 142.41 434.58 142.86 433.88 143.13C433.18 143.4 432.44 143.53 431.88 143.49C431.31 143.45 430.81 143.24 430.49 142.9C430.18 142.57 430 142.05 430 141.48C430 140.91 430.19 140.19 430.5 139.51C430.82 138.82 431.33 138.04 431.89 137.38C432.46 136.71 433.19 136.02 433.9 135.51C434.6 134.99 435.42 134.54 436.12 134.27C436.82 134 437.56 133.87 438.12 133.91C438.69 133.95 439.19 134.16 439.51 134.5Z" fill="none" stroke="#b3a2d8" stroke-width="0.4" opacity="0.75"/>
<path d="M438.69 135.26C438.94 135.54 439.09 135.96 439.09 136.43C439.09 136.89 438.94 137.48 438.68 138.04C438.42 138.6 438.01 139.24 437.54 139.78C437.08 140.33 436.48 140.89 435.9 141.31C435.33 141.74 434.66 142.11 434.08 142.33C433.51 142.54 432.91 142.65 432.45 142.62C431.98 142.59 431.57 142.41 431.31 142.14C431.06 141.86 430.91 141.44 430.91 140.97C430.91 140.51 431.06 139.92 431.32 139.36C431.58 138.8 431.99 138.16 432.46 137.62C432.92 137.07 433.52 136.51 434.1 136.09C434.67 135.66 435.34 135.29 435.92 135.07C436.49 134.86 437.09 134.75 437.55 134.78C438.02 134.81 438.43 134.99 438.69 135.26Z" fill="none" stroke="#b3a2d8" stroke-width="0.4" opacity="0.75"/>
<path d="M437.87 136.03C438.07 136.24 438.18 136.57 438.18 136.93C438.18 137.29 438.06 137.75 437.86 138.19C437.66 138.62 437.34 139.12 436.98 139.54C436.62 139.97 436.15 140.4 435.7 140.73C435.25 141.06 434.74 141.35 434.29 141.52C433.84 141.69 433.37 141.77 433.01 141.75C432.65 141.72 432.33 141.59 432.13 141.37C431.93 141.16 431.82 140.83 431.82 140.47C431.82 140.11 431.94 139.65 432.14 139.21C432.34 138.78 432.66 138.28 433.02 137.86C433.38 137.43 433.85 137 434.3 136.67C434.75 136.34 435.26 136.05 435.71 135.88C436.16 135.71 436.63 135.63 436.99 135.65C437.35 135.68 437.67 135.81 437.87 136.03Z" fill="none" stroke="#b3a2d8" stroke-width="0.4" opacity="0.75"/>
<path d="M437.05 136.79C437.19 136.94 437.27 137.18 437.27 137.44C437.27 137.69 437.19 138.02 437.04 138.33C436.9 138.64 436.67 139 436.41 139.3C436.16 139.6 435.82 139.92 435.5 140.15C435.18 140.39 434.81 140.59 434.49 140.71C434.17 140.83 433.84 140.89 433.58 140.88C433.32 140.86 433.09 140.76 432.95 140.61C432.81 140.46 432.73 140.22 432.73 139.96C432.73 139.71 432.81 139.38 432.96 139.07C433.1 138.76 433.33 138.4 433.59 138.1C433.84 137.8 434.18 137.48 434.5 137.25C434.82 137.01 435.19 136.81 435.51 136.69C435.83 136.57 436.16 136.51 436.42 136.52C436.68 136.54 436.91 136.64 437.05 136.79Z" fill="none" stroke="#b3a2d8" stroke-width="0.4" opacity="0.75"/>
<text x="464.6" y="96.4" font-size="10.5" font-weight="bold">c</text>
<text x="588.3" y="109.5" font-size="8.5" text-anchor="middle">Distribution of DE genes</text>
<line x1="497" y1="113" x2="682" y2="113" stroke="#a0a0a0" stroke-width="0.7"/>
<line x1="497" y1="113" x2="497" y2="179.6" stroke="#a0a0a0" stroke-width="0.7"/>
<line x1="682" y1="113" x2="682" y2="179.6" stroke="#a0a0a0" stroke-width="0.7"/>
<line x1="497" y1="192.5" x2="497" y2="257.7" stroke="#a0a0a0" stroke-width="0.7"/>
<line x1="682" y1="192.5" x2="682" y2="257.7" stroke="#a0a0a0" stroke-width="0.7"/>
<line x1="497" y1="257.7" x2="682" y2="257.7" stroke="#a0a0a0" stroke-width="0.7"/>
<line x1="493" y1="181.2" x2="501" y2="178.3" stroke="#555" stroke-width="0.6"/>
<line x1="493" y1="194" x2="501" y2="191.1" stroke="#555" stroke-width="0.6"/>
<line x1="678" y1="181.2" x2="686" y2="178.3" stroke="#555" stroke-width="0.6"/>
<line x1="678" y1="194" x2="686" y2="191.1" stroke="#555" stroke-width="0.6"/>
<line x1="505.8" y1="113" x2="505.8" y2="111.6" stroke="#a0a0a0" stroke-width="0.6"/>
<line x1="505.8" y1="257.7" x2="505.8" y2="259.2" stroke="#a0a0a0" stroke-width="0.6"/>
<line x1="539.1" y1="113" x2="539.1" y2="111.6" stroke="#a0a0a0" stroke-width="0.6"/>
<line x1="539.1" y1="257.7" x2="539.1" y2="259.2" stroke="#a0a0a0" stroke-width="0.6"/>
<line x1="572.4" y1="113" x2="572.4" y2="111.6" stroke="#a0a0a0" stroke-width="0.6"/>
<line x1="572.4" y1="257.7" x2="572.4" y2="259.2" stroke="#a0a0a0" stroke-width="0.6"/>
<line x1="605.7" y1="113" x2="605.7" y2="111.6" stroke="#a0a0a0" stroke-width="0.6"/>
<line x1="605.7" y1="257.7" x2="605.7" y2="259.2" stroke="#a0a0a0" stroke-width="0.6"/>
<line x1="639" y1="113" x2="639" y2="111.6" stroke="#a0a0a0" stroke-width="0.6"/>
<line x1="639" y1="257.7" x2="639" y2="259.2" stroke="#a0a0a0" stroke-width="0.6"/>
<line x1="672.3" y1="113" x2="672.3" y2="111.6" stroke="#a0a0a0" stroke-width="0.6"/>
<line x1="672.3" y1="257.7" x2="672.3" y2="259.2" stroke="#a0a0a0" stroke-width="0.6"/>
<text x="487.6" y="117.6" font-size="8" text-anchor="end">40k</text>
<line x1="495.6" y1="114.8" x2="497" y2="114.8" stroke="#a0a0a0" stroke-width="0.6"/>
<text x="487.6" y="134.8" font-size="8" text-anchor="end">30k</text>
<line x1="495.6" y1="132" x2="497" y2="132" stroke="#a0a0a0" stroke-width="0.6"/>
<text x="487.6" y="152.6" font-size="8" text-anchor="end">20k</text>
<line x1="495.6" y1="149.8" x2="497" y2="149.8" stroke="#a0a0a0" stroke-width="0.6"/>
<text x="487.6" y="169.8" font-size="8" text-anchor="end">10k</text>
<line x1="495.6" y1="167" x2="497" y2="167" stroke="#a0a0a0" stroke-width="0.6"/>
<text x="487.6" y="195.3" font-size="8" text-anchor="end">1k</text>
<line x1="495.6" y1="192.5" x2="497" y2="192.5" stroke="#a0a0a0" stroke-width="0.6"/>
<text x="487.6" y="208.5" font-size="8" text-anchor="end">800</text>
<line x1="495.6" y1="205.7" x2="497" y2="205.7" stroke="#a0a0a0" stroke-width="0.6"/>
<text x="487.6" y="221.2" font-size="8" text-anchor="end">600</text>
<line x1="495.6" y1="218.4" x2="497" y2="218.4" stroke="#a0a0a0" stroke-width="0.6"/>
<text x="487.6" y="234.2" font-size="8" text-anchor="end">400</text>
<line x1="495.6" y1="231.4" x2="497" y2="231.4" stroke="#a0a0a0" stroke-width="0.6"/>
<text x="487.6" y="247.3" font-size="8" text-anchor="end">200</text>
<line x1="495.6" y1="244.5" x2="497" y2="244.5" stroke="#a0a0a0" stroke-width="0.6"/>
<text x="487.6" y="260" font-size="8" text-anchor="end">0</text>
<line x1="495.6" y1="257.2" x2="497" y2="257.2" stroke="#a0a0a0" stroke-width="0.6"/>
<text x="505.8" y="270.3" font-size="8" text-anchor="middle">0</text>
<text x="539.1" y="270.3" font-size="8" text-anchor="middle">50</text>
<text x="572.4" y="270.3" font-size="8" text-anchor="middle">100</text>
<text x="605.7" y="270.3" font-size="8" text-anchor="middle">150</text>
<text x="639" y="270.3" font-size="8" text-anchor="middle">200</text>
<text x="672.3" y="270.3" font-size="8" text-anchor="middle">250</text>
<text x="591" y="279.2" font-size="8" text-anchor="middle">Absolute DE score</text>
<text x="0" y="0" font-size="8" text-anchor="middle" transform="translate(467.6 189) rotate(-90)" fill="#1a1a1a">Number of genes</text>
<rect x="505.3" y="128.4" width="6.1" height="51.2" fill="#d9d9d9" stroke="#bcbcbc" stroke-width="0.5"/>
<rect x="505.3" y="192.5" width="5.6" height="65" fill="#d9d9d9" stroke="#bcbcbc" stroke-width="0.45"/>
<rect x="510.9" y="192.5" width="5.6" height="65" fill="#d9d9d9" stroke="#bcbcbc" stroke-width="0.45"/>
<rect x="516.5" y="192.5" width="5.6" height="65" fill="#d9d9d9" stroke="#bcbcbc" stroke-width="0.45"/>
<rect x="522.1" y="194.32" width="5.6" height="63.18" fill="#d9d9d9" stroke="#bcbcbc" stroke-width="0.45"/>
<rect x="527.7" y="215.31" width="5.6" height="42.19" fill="#d9d9d9" stroke="#bcbcbc" stroke-width="0.45"/>
<rect x="533.3" y="228.38" width="5.6" height="29.12" fill="#d9d9d9" stroke="#bcbcbc" stroke-width="0.45"/>
<rect x="538.9" y="236.7" width="5.6" height="20.8" fill="#d9d9d9" stroke="#bcbcbc" stroke-width="0.45"/>
<rect x="544.5" y="242.49" width="5.6" height="15.02" fill="#d9d9d9" stroke="#bcbcbc" stroke-width="0.45"/>
<rect x="550.1" y="245.6" width="5.6" height="11.89" fill="#d9d9d9" stroke="#bcbcbc" stroke-width="0.45"/>
<rect x="555.7" y="248.21" width="5.6" height="9.29" fill="#d9d9d9" stroke="#bcbcbc" stroke-width="0.45"/>
<rect x="561.3" y="250.03" width="5.6" height="7.48" fill="#d9d9d9" stroke="#bcbcbc" stroke-width="0.45"/>
<rect x="566.9" y="250.03" width="5.6" height="7.48" fill="#d9d9d9" stroke="#bcbcbc" stroke-width="0.45"/>
<rect x="572.5" y="251.32" width="5.6" height="6.17" fill="#d9d9d9" stroke="#bcbcbc" stroke-width="0.45"/>
<rect x="578.1" y="252.3" width="5.6" height="5.2" fill="#d9d9d9" stroke="#bcbcbc" stroke-width="0.45"/>
<rect x="583.7" y="253.6" width="5.6" height="3.9" fill="#d9d9d9" stroke="#bcbcbc" stroke-width="0.45"/>
<rect x="589.3" y="254.57" width="5.6" height="2.93" fill="#d9d9d9" stroke="#bcbcbc" stroke-width="0.45"/>
<rect x="594.9" y="254.25" width="5.6" height="3.25" fill="#d9d9d9" stroke="#bcbcbc" stroke-width="0.45"/>
<rect x="600.5" y="253.93" width="5.6" height="3.58" fill="#d9d9d9" stroke="#bcbcbc" stroke-width="0.45"/>
<rect x="606.1" y="254.9" width="5.6" height="2.6" fill="#d9d9d9" stroke="#bcbcbc" stroke-width="0.45"/>
<rect x="611.7" y="255.55" width="5.6" height="1.95" fill="#d9d9d9" stroke="#bcbcbc" stroke-width="0.45"/>
<rect x="617.3" y="255.88" width="5.6" height="1.62" fill="#d9d9d9" stroke="#bcbcbc" stroke-width="0.45"/>
<rect x="622.9" y="255.55" width="5.6" height="1.95" fill="#d9d9d9" stroke="#bcbcbc" stroke-width="0.45"/>
<rect x="628.5" y="256.2" width="5.6" height="1.3" fill="#d9d9d9" stroke="#bcbcbc" stroke-width="0.45"/>
<rect x="634.1" y="256.52" width="5.6" height="0.98" fill="#d9d9d9" stroke="#bcbcbc" stroke-width="0.45"/>
<rect x="639.7" y="256.72" width="5.6" height="0.78" fill="#d9d9d9" stroke="#bcbcbc" stroke-width="0.45"/>
<rect x="645.3" y="256.85" width="5.6" height="0.65" fill="#d9d9d9" stroke="#bcbcbc" stroke-width="0.45"/>
<rect x="650.9" y="256.98" width="5.6" height="0.52" fill="#d9d9d9" stroke="#bcbcbc" stroke-width="0.45"/>
<rect x="656.5" y="257.11" width="5.6" height="0.39" fill="#d9d9d9" stroke="#bcbcbc" stroke-width="0.45"/>
<rect x="662.1" y="257.18" width="5.6" height="0.33" fill="#d9d9d9" stroke="#bcbcbc" stroke-width="0.45"/>
<rect x="667.7" y="257.24" width="5.6" height="0.26" fill="#d9d9d9" stroke="#bcbcbc" stroke-width="0.45"/>
<line x1="588.7" y1="166" x2="589.5" y2="252" stroke="#555" stroke-width="0.6"/>
<line x1="642" y1="166" x2="675" y2="256.5" stroke="#555" stroke-width="0.6"/>
<rect x="588.7" y="134.6" width="53.3" height="31.4" fill="#fff" stroke="#8a8a8a" stroke-width="0.6"/>
<line x1="591.3" y1="134.8" x2="591.3" y2="165.8" stroke="#ebebeb" stroke-width="0.5"/>
<line x1="591.3" y1="166" x2="591.3" y2="167.3" stroke="#777" stroke-width="0.5"/>
<line x1="600.94" y1="134.8" x2="600.94" y2="165.8" stroke="#ebebeb" stroke-width="0.5"/>
<line x1="600.94" y1="166" x2="600.94" y2="167.3" stroke="#777" stroke-width="0.5"/>
<line x1="610.58" y1="134.8" x2="610.58" y2="165.8" stroke="#ebebeb" stroke-width="0.5"/>
<line x1="610.58" y1="166" x2="610.58" y2="167.3" stroke="#777" stroke-width="0.5"/>
<line x1="620.22" y1="134.8" x2="620.22" y2="165.8" stroke="#ebebeb" stroke-width="0.5"/>
<line x1="620.22" y1="166" x2="620.22" y2="167.3" stroke="#777" stroke-width="0.5"/>
<line x1="629.86" y1="134.8" x2="629.86" y2="165.8" stroke="#ebebeb" stroke-width="0.5"/>
<line x1="629.86" y1="166" x2="629.86" y2="167.3" stroke="#777" stroke-width="0.5"/>
<line x1="639.5" y1="134.8" x2="639.5" y2="165.8" stroke="#ebebeb" stroke-width="0.5"/>
<line x1="639.5" y1="166" x2="639.5" y2="167.3" stroke="#777" stroke-width="0.5"/>
<rect x="591" y="135.5" width="48.68" height="6.5" fill="#e0575f"/>
<rect x="591" y="143.2" width="42.71" height="6.4" fill="#e0575f"/>
<rect x="591" y="150.5" width="32.97" height="6.5" fill="#e0575f"/>
<rect x="591" y="158" width="41.84" height="7" fill="#e0575f"/>
<text x="615.4" y="173.6" font-size="5.6" text-anchor="middle">0  10  20  30  40  50</text>
<text x="616.6" y="181.7" font-size="8" text-anchor="middle">Gene count</text>
<text x="587.6" y="140.2" font-size="8" text-anchor="end">muscle system</text>
<text x="587.6" y="147.6" font-size="8" text-anchor="end">muscle contraction</text>
<text x="587.6" y="154.9" font-size="8" text-anchor="end">muscle development</text>
<text x="587.6" y="162.2" font-size="8" text-anchor="end">muscle differentiation</text>
<text x="647.3" y="142.8" font-size="8">p value</text>
<defs><linearGradient id="pv" x1="0" x2="0" y1="0" y2="1"><stop offset="0" stop-color="#e0535e"/><stop offset="0.45" stop-color="#d35a6a"/><stop offset="1" stop-color="#9a6b9a"/></linearGradient></defs>
<rect x="645.2" y="147.7" width="4.8" height="13" fill="url(#pv)"/>
<text x="651.8" y="153.3" font-size="7">5.0e−13</text>
<text x="651.8" y="160.4" font-size="7">1.0e−12</text>
<text x="623.7" y="200.9" font-size="8" text-anchor="middle">Myogenesis</text>
<text x="623.7" y="210.6" font-size="8" text-anchor="middle">signature genes:</text>
<text x="623.7" y="220.2" font-size="8" text-anchor="middle">253 prolif.markers</text>
<text x="623.7" y="229.7" font-size="8" text-anchor="middle">&amp;</text>
<text x="623.7" y="239" font-size="8" text-anchor="middle">142 diff. markers.</text>
<text x="2.9" y="321.6" font-size="10.5" font-weight="bold">d</text>
<text x="58" y="321.2" font-size="8" text-anchor="middle" font-weight="bold">gRNA targets</text>
<line x1="25.1" y1="325.5" x2="91.2" y2="325.5" stroke="#444" stroke-width="0.8"/>
<text x="129.5" y="309.7" font-size="8" text-anchor="middle" font-weight="bold">Cell markers</text>
<line x1="96.2" y1="312.4" x2="162.8" y2="312.4" stroke="#555" stroke-width="0.6"/>
<rect x="96.2" y="314.3" width="40.7" height="8.6" fill="#80c343"/>
<rect x="136.9" y="314.3" width="28.5" height="8.6" fill="#f9b233"/>
<text x="115.6" y="320.7" font-size="7.6" text-anchor="middle" fill="#1e2a10">Myoblast</text>
<text x="151.2" y="320.7" font-size="7.6" text-anchor="middle" fill="#2a1e05">Myocyte</text>
<path d="M96.2 325 L110 326 L136.9 327.2 L136.9 329.2 L96.2 329.2Z" fill="#c7df9e"/>
<path d="M136.9 325.4 L150 327 L162 327.6 L162 329.2 L136.9 329.2Z" fill="#fbd28c"/>
<path fill="#f0c0c0" d="M95.7 329.2h1.18v9.33h-1.18zM122.47 329.2h1.18v9.33h-1.18zM100.36 338.51h1.18v9.33h-1.18zM108.5 338.51h1.18v9.33h-1.18zM109.67 338.51h1.18v9.33h-1.18zM110.83 338.51h1.18v9.33h-1.18zM118.98 338.51h1.18v9.33h-1.18zM120.14 338.51h1.18v9.33h-1.18zM123.63 338.51h1.18v9.33h-1.18zM124.8 338.51h1.18v9.33h-1.18zM98.03 347.81h1.18v9.33h-1.18zM114.32 347.81h1.18v9.33h-1.18zM116.65 347.81h1.18v9.33h-1.18zM124.8 347.81h1.18v9.33h-1.18zM127.12 347.81h1.18v9.33h-1.18zM132.94 347.81h1.18v9.33h-1.18zM103.85 357.12h1.18v9.33h-1.18zM106.17 357.12h1.18v9.33h-1.18zM107.34 357.12h1.18v9.33h-1.18zM110.83 357.12h1.18v9.33h-1.18zM131.78 357.12h1.18v9.33h-1.18zM135.27 357.12h1.18v9.33h-1.18zM113.16 366.43h1.18v9.33h-1.18zM115.49 366.43h1.18v9.33h-1.18zM122.47 366.43h1.18v9.33h-1.18zM129.45 366.43h1.18v9.33h-1.18zM132.94 366.43h1.18v9.33h-1.18zM95.7 375.74h1.18v9.33h-1.18zM106.17 375.74h1.18v9.33h-1.18zM120.14 375.74h1.18v9.33h-1.18zM121.31 375.74h1.18v9.33h-1.18zM124.8 375.74h1.18v9.33h-1.18zM125.96 375.74h1.18v9.33h-1.18zM135.27 375.74h1.18v9.33h-1.18zM117.81 385.05h1.18v9.33h-1.18zM118.98 385.05h1.18v9.33h-1.18zM129.45 385.05h1.18v9.33h-1.18zM98.03 394.35h1.18v9.33h-1.18zM99.19 394.35h1.18v9.33h-1.18zM128.29 394.35h1.18v9.33h-1.18zM131.78 394.35h1.18v9.33h-1.18zM96.86 403.66h1.18v9.33h-1.18zM107.34 403.66h1.18v9.33h-1.18zM116.65 403.66h1.18v9.33h-1.18zM118.98 403.66h1.18v9.33h-1.18zM123.63 403.66h1.18v9.33h-1.18zM102.68 412.97h1.18v9.33h-1.18zM116.65 412.97h1.18v9.33h-1.18zM117.81 412.97h1.18v9.33h-1.18zM130.62 412.97h1.18v9.33h-1.18zM135.27 412.97h1.18v9.33h-1.18zM96.86 422.27h1.18v9.33h-1.18zM99.19 422.27h1.18v9.33h-1.18zM113.16 422.27h1.18v9.33h-1.18zM123.63 422.27h1.18v9.33h-1.18zM127.12 422.27h1.18v9.33h-1.18zM96.86 431.58h1.18v9.33h-1.18zM120.14 431.58h1.18v9.33h-1.18zM129.45 431.58h1.18v9.33h-1.18zM118.98 440.89h1.18v9.33h-1.18zM131.78 440.89h1.18v9.33h-1.18zM134.11 440.89h1.18v9.33h-1.18zM98.03 450.2h1.18v9.33h-1.18zM100.36 450.2h1.18v9.33h-1.18zM111.99 450.2h1.18v9.33h-1.18zM115.49 450.2h1.18v9.33h-1.18zM122.47 450.2h1.18v9.33h-1.18zM102.68 459.5h1.18v9.33h-1.18zM103.85 459.5h1.18v9.33h-1.18zM110.83 459.5h1.18v9.33h-1.18zM117.81 459.5h1.18v9.33h-1.18zM121.31 459.5h1.18v9.33h-1.18zM120.14 468.81h1.18v9.33h-1.18zM127.12 468.81h1.18v9.33h-1.18zM101.52 478.12h1.18v9.33h-1.18zM122.47 478.12h1.18v9.33h-1.18zM95.7 487.43h1.18v9.33h-1.18zM102.68 487.43h1.18v9.33h-1.18zM116.65 487.43h1.18v9.33h-1.18zM127.12 487.43h1.18v9.33h-1.18zM110.83 496.74h1.18v9.33h-1.18zM122.47 496.74h1.18v9.33h-1.18zM98.03 506.04h1.18v9.33h-1.18zM114.32 506.04h1.18v9.33h-1.18zM117.81 506.04h1.18v9.33h-1.18zM123.63 506.04h1.18v9.33h-1.18zM130.62 506.04h1.18v9.33h-1.18zM135.27 506.04h1.18v9.33h-1.18zM139.82 515.35h1.13v9.33h-1.13zM143.15 533.97h1.13v9.33h-1.13zM144.25 552.58h1.13v9.33h-1.13zM149.8 552.58h1.13v9.33h-1.13zM152.02 552.58h1.13v9.33h-1.13zM156.45 552.58h1.13v9.33h-1.13zM142.04 561.89h1.13v9.33h-1.13zM146.47 561.89h1.13v9.33h-1.13zM148.69 561.89h1.13v9.33h-1.13zM150.91 571.2h1.13v9.33h-1.13zM157.56 571.2h1.13v9.33h-1.13zM158.67 571.2h1.13v9.33h-1.13zM160.89 571.2h1.13v9.33h-1.13zM137.6 580.5h1.13v9.33h-1.13zM147.58 580.5h1.13v9.33h-1.13zM148.69 580.5h1.13v9.33h-1.13zM156.45 580.5h1.13v9.33h-1.13zM138.71 589.81h1.13v9.33h-1.13zM145.36 599.12h1.13v9.33h-1.13zM148.69 599.12h1.13v9.33h-1.13zM150.91 599.12h1.13v9.33h-1.13zM153.13 599.12h1.13v9.33h-1.13zM156.45 599.12h1.13v9.33h-1.13zM157.56 599.12h1.13v9.33h-1.13zM147.58 608.42h1.13v9.33h-1.13zM152.02 608.42h1.13v9.33h-1.13zM153.13 608.42h1.13v9.33h-1.13zM154.24 608.42h1.13v9.33h-1.13zM160.89 608.42h1.13v9.33h-1.13zM150.91 617.73h1.13v9.33h-1.13zM138.71 636.35h1.13v9.33h-1.13zM142.04 636.35h1.13v9.33h-1.13zM152.02 636.35h1.13v9.33h-1.13zM140.93 645.65h1.13v9.33h-1.13zM143.15 645.65h1.13v9.33h-1.13zM153.13 645.65h1.13v9.33h-1.13zM160.89 645.65h1.13v9.33h-1.13zM139.82 654.96h1.13v9.33h-1.13zM142.04 654.96h1.13v9.33h-1.13zM157.56 654.96h1.13v9.33h-1.13zM159.78 654.96h1.13v9.33h-1.13zM149.8 664.27h1.13v9.33h-1.13zM150.91 664.27h1.13v9.33h-1.13zM158.67 664.27h1.13v9.33h-1.13zM140.93 673.58h1.13v9.33h-1.13zM148.69 673.58h1.13v9.33h-1.13zM153.13 673.58h1.13v9.33h-1.13zM158.67 673.58h1.13v9.33h-1.13zM159.78 673.58h1.13v9.33h-1.13z"/>
<path fill="#90a8d8" d="M96.86 329.2h1.18v9.33h-1.18zM95.7 338.51h1.18v9.33h-1.18zM109.67 366.43h1.18v9.33h-1.18zM132.94 394.35h1.18v9.33h-1.18zM149.8 431.58h1.13v9.33h-1.13zM123.63 440.89h1.18v9.33h-1.18zM137.6 450.2h1.13v9.33h-1.13zM107.34 459.5h1.18v9.33h-1.18zM130.62 459.5h1.18v9.33h-1.18zM158.67 459.5h1.13v9.33h-1.13zM153.13 468.81h1.13v9.33h-1.13zM124.8 478.12h1.18v9.33h-1.18zM153.13 478.12h1.13v9.33h-1.13zM157.56 478.12h1.13v9.33h-1.13zM158.67 496.74h1.13v9.33h-1.13zM106.17 506.04h1.18v9.33h-1.18zM139.82 506.04h1.13v9.33h-1.13zM159.78 506.04h1.13v9.33h-1.13zM132.94 692.19h1.18v9.33h-1.18z"/>
<path fill="#a8c0e4" d="M98.03 329.2h1.18v9.33h-1.18zM111.99 329.2h1.18v9.33h-1.18zM107.34 347.81h1.18v9.33h-1.18zM108.5 347.81h1.18v9.33h-1.18zM113.16 403.66h1.18v9.33h-1.18zM128.29 403.66h1.18v9.33h-1.18zM127.12 412.97h1.18v9.33h-1.18zM160.89 450.2h1.13v9.33h-1.13zM142.04 459.5h1.13v9.33h-1.13zM154.24 459.5h1.13v9.33h-1.13zM116.65 468.81h1.18v9.33h-1.18zM130.62 468.81h1.18v9.33h-1.18zM96.86 487.43h1.18v9.33h-1.18zM111.99 487.43h1.18v9.33h-1.18zM120.14 496.74h1.18v9.33h-1.18zM159.78 496.74h1.13v9.33h-1.13zM101.52 506.04h1.18v9.33h-1.18zM152.02 506.04h1.13v9.33h-1.13zM150.91 515.35h1.13v9.33h-1.13zM155.35 515.35h1.13v9.33h-1.13zM158.67 515.35h1.13v9.33h-1.13z"/>
<path fill="#f0b4b4" d="M99.19 329.2h1.18v9.33h-1.18zM123.63 329.2h1.18v9.33h-1.18zM111.99 338.51h1.18v9.33h-1.18zM135.27 338.51h1.18v9.33h-1.18zM115.49 357.12h1.18v9.33h-1.18zM96.86 366.43h1.18v9.33h-1.18zM98.03 366.43h1.18v9.33h-1.18zM99.19 366.43h1.18v9.33h-1.18zM105.01 366.43h1.18v9.33h-1.18zM134.11 366.43h1.18v9.33h-1.18zM101.52 375.74h1.18v9.33h-1.18zM95.7 385.05h1.18v9.33h-1.18zM115.49 385.05h1.18v9.33h-1.18zM123.63 385.05h1.18v9.33h-1.18zM102.68 394.35h1.18v9.33h-1.18zM108.5 394.35h1.18v9.33h-1.18zM118.98 394.35h1.18v9.33h-1.18zM135.27 394.35h1.18v9.33h-1.18zM95.7 403.66h1.18v9.33h-1.18zM134.11 403.66h1.18v9.33h-1.18zM136.44 403.66h1.18v9.33h-1.18zM100.36 412.97h1.18v9.33h-1.18zM101.52 412.97h1.18v9.33h-1.18zM113.16 412.97h1.18v9.33h-1.18zM122.47 412.97h1.18v9.33h-1.18zM107.34 422.27h1.18v9.33h-1.18zM131.78 422.27h1.18v9.33h-1.18zM128.29 440.89h1.18v9.33h-1.18zM131.78 450.2h1.18v9.33h-1.18zM132.94 450.2h1.18v9.33h-1.18zM135.27 459.5h1.18v9.33h-1.18zM127.12 478.12h1.18v9.33h-1.18zM128.29 478.12h1.18v9.33h-1.18zM136.44 478.12h1.18v9.33h-1.18zM110.83 487.43h1.18v9.33h-1.18zM106.17 496.74h1.18v9.33h-1.18zM107.34 496.74h1.18v9.33h-1.18zM135.27 496.74h1.18v9.33h-1.18zM129.45 506.04h1.18v9.33h-1.18zM134.11 506.04h1.18v9.33h-1.18zM138.71 552.58h1.13v9.33h-1.13zM148.69 552.58h1.13v9.33h-1.13zM157.56 552.58h1.13v9.33h-1.13zM158.67 552.58h1.13v9.33h-1.13zM160.89 552.58h1.13v9.33h-1.13zM150.91 561.89h1.13v9.33h-1.13zM152.02 561.89h1.13v9.33h-1.13zM139.82 571.2h1.13v9.33h-1.13zM144.25 571.2h1.13v9.33h-1.13zM145.36 571.2h1.13v9.33h-1.13zM142.04 580.5h1.13v9.33h-1.13zM144.25 580.5h1.13v9.33h-1.13zM152.02 580.5h1.13v9.33h-1.13zM159.78 580.5h1.13v9.33h-1.13zM140.93 608.42h1.13v9.33h-1.13zM146.47 608.42h1.13v9.33h-1.13zM158.67 617.73h1.13v9.33h-1.13zM137.6 627.04h1.13v9.33h-1.13zM143.15 627.04h1.13v9.33h-1.13zM156.45 627.04h1.13v9.33h-1.13zM157.56 627.04h1.13v9.33h-1.13zM139.82 636.35h1.13v9.33h-1.13zM153.13 636.35h1.13v9.33h-1.13zM154.24 636.35h1.13v9.33h-1.13zM160.89 636.35h1.13v9.33h-1.13zM137.6 645.65h1.13v9.33h-1.13zM152.02 645.65h1.13v9.33h-1.13zM137.6 654.96h1.13v9.33h-1.13zM138.71 654.96h1.13v9.33h-1.13zM139.82 664.27h1.13v9.33h-1.13zM148.69 664.27h1.13v9.33h-1.13zM139.82 682.88h1.13v9.33h-1.13zM145.36 682.88h1.13v9.33h-1.13zM146.47 682.88h1.13v9.33h-1.13zM149.8 682.88h1.13v9.33h-1.13zM153.13 682.88h1.13v9.33h-1.13zM159.78 682.88h1.13v9.33h-1.13z"/>
<path fill="#f09c9c" d="M100.36 329.2h1.18v9.33h-1.18zM102.68 329.2h1.18v9.33h-1.18zM103.85 329.2h1.18v9.33h-1.18zM113.16 329.2h1.18v9.33h-1.18zM132.94 329.2h1.18v9.33h-1.18zM106.17 338.51h1.18v9.33h-1.18zM114.32 338.51h1.18v9.33h-1.18zM131.78 338.51h1.18v9.33h-1.18zM99.19 347.81h1.18v9.33h-1.18zM113.16 347.81h1.18v9.33h-1.18zM115.49 347.81h1.18v9.33h-1.18zM120.14 347.81h1.18v9.33h-1.18zM134.11 347.81h1.18v9.33h-1.18zM127.12 357.12h1.18v9.33h-1.18zM129.45 357.12h1.18v9.33h-1.18zM110.83 366.43h1.18v9.33h-1.18zM100.36 375.74h1.18v9.33h-1.18zM136.44 375.74h1.18v9.33h-1.18zM113.16 385.05h1.18v9.33h-1.18zM114.32 385.05h1.18v9.33h-1.18zM120.14 385.05h1.18v9.33h-1.18zM128.29 385.05h1.18v9.33h-1.18zM103.85 394.35h1.18v9.33h-1.18zM109.67 394.35h1.18v9.33h-1.18zM123.63 394.35h1.18v9.33h-1.18zM130.62 394.35h1.18v9.33h-1.18zM115.49 403.66h1.18v9.33h-1.18zM135.27 403.66h1.18v9.33h-1.18zM108.5 412.97h1.18v9.33h-1.18zM128.29 412.97h1.18v9.33h-1.18zM136.44 412.97h1.18v9.33h-1.18zM109.67 431.58h1.18v9.33h-1.18zM130.62 440.89h1.18v9.33h-1.18zM107.34 450.2h1.18v9.33h-1.18zM109.67 450.2h1.18v9.33h-1.18zM125.96 450.2h1.18v9.33h-1.18zM128.29 450.2h1.18v9.33h-1.18zM101.52 459.5h1.18v9.33h-1.18zM129.45 459.5h1.18v9.33h-1.18zM107.34 468.81h1.18v9.33h-1.18zM129.45 478.12h1.18v9.33h-1.18zM117.81 487.43h1.18v9.33h-1.18zM101.52 496.74h1.18v9.33h-1.18zM100.36 506.04h1.18v9.33h-1.18zM105.01 506.04h1.18v9.33h-1.18zM124.8 506.04h1.18v9.33h-1.18zM132.94 506.04h1.18v9.33h-1.18zM136.44 506.04h1.18v9.33h-1.18zM145.36 552.58h1.13v9.33h-1.13zM154.24 561.89h1.13v9.33h-1.13zM147.58 571.2h1.13v9.33h-1.13zM143.15 580.5h1.13v9.33h-1.13zM154.24 580.5h1.13v9.33h-1.13zM146.47 589.81h1.13v9.33h-1.13zM146.47 599.12h1.13v9.33h-1.13zM155.35 599.12h1.13v9.33h-1.13zM142.04 608.42h1.13v9.33h-1.13zM157.56 617.73h1.13v9.33h-1.13zM158.67 627.04h1.13v9.33h-1.13zM159.78 627.04h1.13v9.33h-1.13zM159.78 636.35h1.13v9.33h-1.13zM145.36 654.96h1.13v9.33h-1.13zM153.13 654.96h1.13v9.33h-1.13zM143.15 664.27h1.13v9.33h-1.13zM146.47 664.27h1.13v9.33h-1.13zM142.04 673.58h1.13v9.33h-1.13zM143.15 673.58h1.13v9.33h-1.13zM145.36 673.58h1.13v9.33h-1.13zM146.47 673.58h1.13v9.33h-1.13zM138.71 682.88h1.13v9.33h-1.13zM142.04 682.88h1.13v9.33h-1.13zM147.58 682.88h1.13v9.33h-1.13zM142.04 692.19h1.13v9.33h-1.13zM155.35 692.19h1.13v9.33h-1.13z"/>
<path fill="#f0a8a8" d="M101.52 329.2h1.18v9.33h-1.18zM136.44 329.2h1.18v9.33h-1.18zM96.86 338.51h1.18v9.33h-1.18zM107.34 338.51h1.18v9.33h-1.18zM113.16 338.51h1.18v9.33h-1.18zM95.7 357.12h1.18v9.33h-1.18zM100.36 357.12h1.18v9.33h-1.18zM122.47 357.12h1.18v9.33h-1.18zM100.36 366.43h1.18v9.33h-1.18zM121.31 366.43h1.18v9.33h-1.18zM124.8 366.43h1.18v9.33h-1.18zM98.03 375.74h1.18v9.33h-1.18zM109.67 375.74h1.18v9.33h-1.18zM111.99 375.74h1.18v9.33h-1.18zM123.63 375.74h1.18v9.33h-1.18zM134.11 375.74h1.18v9.33h-1.18zM101.52 385.05h1.18v9.33h-1.18zM102.68 385.05h1.18v9.33h-1.18zM103.85 385.05h1.18v9.33h-1.18zM108.5 385.05h1.18v9.33h-1.18zM136.44 385.05h1.18v9.33h-1.18zM116.65 394.35h1.18v9.33h-1.18zM117.81 394.35h1.18v9.33h-1.18zM125.96 394.35h1.18v9.33h-1.18zM101.52 403.66h1.18v9.33h-1.18zM102.68 403.66h1.18v9.33h-1.18zM121.31 403.66h1.18v9.33h-1.18zM130.62 403.66h1.18v9.33h-1.18zM99.19 412.97h1.18v9.33h-1.18zM105.01 412.97h1.18v9.33h-1.18zM124.8 412.97h1.18v9.33h-1.18zM120.14 422.27h1.18v9.33h-1.18zM106.17 440.89h1.18v9.33h-1.18zM124.8 440.89h1.18v9.33h-1.18zM135.27 440.89h1.18v9.33h-1.18zM105.01 450.2h1.18v9.33h-1.18zM114.32 450.2h1.18v9.33h-1.18zM108.5 459.5h1.18v9.33h-1.18zM132.94 468.81h1.18v9.33h-1.18zM135.27 468.81h1.18v9.33h-1.18zM102.68 478.12h1.18v9.33h-1.18zM98.03 487.43h1.18v9.33h-1.18zM132.94 496.74h1.18v9.33h-1.18zM147.58 524.66h1.13v9.33h-1.13zM147.58 552.58h1.13v9.33h-1.13zM152.02 571.2h1.13v9.33h-1.13zM138.71 580.5h1.13v9.33h-1.13zM139.82 580.5h1.13v9.33h-1.13zM140.93 589.81h1.13v9.33h-1.13zM154.24 589.81h1.13v9.33h-1.13zM155.35 589.81h1.13v9.33h-1.13zM143.15 599.12h1.13v9.33h-1.13zM154.24 599.12h1.13v9.33h-1.13zM158.67 599.12h1.13v9.33h-1.13zM149.8 608.42h1.13v9.33h-1.13zM155.35 608.42h1.13v9.33h-1.13zM143.15 617.73h1.13v9.33h-1.13zM144.25 617.73h1.13v9.33h-1.13zM138.71 627.04h1.13v9.33h-1.13zM153.13 627.04h1.13v9.33h-1.13zM144.25 636.35h1.13v9.33h-1.13zM146.47 636.35h1.13v9.33h-1.13zM149.8 636.35h1.13v9.33h-1.13zM156.45 636.35h1.13v9.33h-1.13zM157.56 636.35h1.13v9.33h-1.13zM154.24 645.65h1.13v9.33h-1.13zM140.93 654.96h1.13v9.33h-1.13zM143.15 654.96h1.13v9.33h-1.13zM158.67 654.96h1.13v9.33h-1.13zM137.6 664.27h1.13v9.33h-1.13zM142.04 664.27h1.13v9.33h-1.13zM147.58 664.27h1.13v9.33h-1.13zM156.45 664.27h1.13v9.33h-1.13zM139.82 673.58h1.13v9.33h-1.13zM149.8 673.58h1.13v9.33h-1.13zM156.45 673.58h1.13v9.33h-1.13zM157.56 673.58h1.13v9.33h-1.13zM156.45 682.88h1.13v9.33h-1.13zM147.58 692.19h1.13v9.33h-1.13z"/>
<path fill="#f0d8d8" d="M105.01 329.2h1.18v9.33h-1.18zM120.14 329.2h1.18v9.33h-1.18zM125.96 329.2h1.18v9.33h-1.18zM128.29 329.2h1.18v9.33h-1.18zM134.11 329.2h1.18v9.33h-1.18zM96.86 347.81h1.18v9.33h-1.18zM102.68 347.81h1.18v9.33h-1.18zM131.78 347.81h1.18v9.33h-1.18zM136.44 347.81h1.18v9.33h-1.18zM99.19 357.12h1.18v9.33h-1.18zM102.68 366.43h1.18v9.33h-1.18zM103.85 366.43h1.18v9.33h-1.18zM107.34 366.43h1.18v9.33h-1.18zM117.81 366.43h1.18v9.33h-1.18zM118.98 366.43h1.18v9.33h-1.18zM102.68 375.74h1.18v9.33h-1.18zM105.01 375.74h1.18v9.33h-1.18zM113.16 375.74h1.18v9.33h-1.18zM132.94 375.74h1.18v9.33h-1.18zM115.49 394.35h1.18v9.33h-1.18zM99.19 403.66h1.18v9.33h-1.18zM105.01 403.66h1.18v9.33h-1.18zM106.17 403.66h1.18v9.33h-1.18zM122.47 403.66h1.18v9.33h-1.18zM124.8 403.66h1.18v9.33h-1.18zM95.7 412.97h1.18v9.33h-1.18zM103.85 412.97h1.18v9.33h-1.18zM107.34 412.97h1.18v9.33h-1.18zM118.98 412.97h1.18v9.33h-1.18zM123.63 412.97h1.18v9.33h-1.18zM129.45 412.97h1.18v9.33h-1.18zM102.68 422.27h1.18v9.33h-1.18zM103.85 422.27h1.18v9.33h-1.18zM105.01 422.27h1.18v9.33h-1.18zM117.81 422.27h1.18v9.33h-1.18zM121.31 422.27h1.18v9.33h-1.18zM128.29 422.27h1.18v9.33h-1.18zM132.94 422.27h1.18v9.33h-1.18zM110.83 431.58h1.18v9.33h-1.18zM113.16 431.58h1.18v9.33h-1.18zM125.96 431.58h1.18v9.33h-1.18zM135.27 431.58h1.18v9.33h-1.18zM102.68 440.89h1.18v9.33h-1.18zM123.63 450.2h1.18v9.33h-1.18zM129.45 450.2h1.18v9.33h-1.18zM130.62 450.2h1.18v9.33h-1.18zM98.03 459.5h1.18v9.33h-1.18zM115.49 459.5h1.18v9.33h-1.18zM123.63 459.5h1.18v9.33h-1.18zM95.7 468.81h1.18v9.33h-1.18zM98.03 468.81h1.18v9.33h-1.18zM108.5 468.81h1.18v9.33h-1.18zM111.99 468.81h1.18v9.33h-1.18zM131.78 468.81h1.18v9.33h-1.18zM107.34 478.12h1.18v9.33h-1.18zM111.99 478.12h1.18v9.33h-1.18zM113.16 478.12h1.18v9.33h-1.18zM114.32 478.12h1.18v9.33h-1.18zM121.31 478.12h1.18v9.33h-1.18zM107.34 487.43h1.18v9.33h-1.18zM115.49 487.43h1.18v9.33h-1.18zM121.31 487.43h1.18v9.33h-1.18zM132.94 487.43h1.18v9.33h-1.18zM136.44 487.43h1.18v9.33h-1.18zM100.36 496.74h1.18v9.33h-1.18zM103.85 496.74h1.18v9.33h-1.18zM128.29 496.74h1.18v9.33h-1.18zM130.62 496.74h1.18v9.33h-1.18zM108.5 506.04h1.18v9.33h-1.18zM150.91 524.66h1.13v9.33h-1.13zM152.02 524.66h1.13v9.33h-1.13zM154.24 524.66h1.13v9.33h-1.13zM160.89 524.66h1.13v9.33h-1.13zM153.13 533.97h1.13v9.33h-1.13zM140.93 543.27h1.13v9.33h-1.13zM143.15 543.27h1.13v9.33h-1.13zM144.25 543.27h1.13v9.33h-1.13zM156.45 543.27h1.13v9.33h-1.13zM158.67 543.27h1.13v9.33h-1.13zM142.04 552.58h1.13v9.33h-1.13zM153.13 552.58h1.13v9.33h-1.13zM155.35 552.58h1.13v9.33h-1.13zM159.78 552.58h1.13v9.33h-1.13zM139.82 561.89h1.13v9.33h-1.13zM140.93 561.89h1.13v9.33h-1.13zM144.25 561.89h1.13v9.33h-1.13zM145.36 561.89h1.13v9.33h-1.13zM149.8 561.89h1.13v9.33h-1.13zM155.35 561.89h1.13v9.33h-1.13zM159.78 561.89h1.13v9.33h-1.13zM138.71 571.2h1.13v9.33h-1.13zM140.93 571.2h1.13v9.33h-1.13zM149.8 571.2h1.13v9.33h-1.13zM159.78 571.2h1.13v9.33h-1.13zM146.47 580.5h1.13v9.33h-1.13zM158.67 580.5h1.13v9.33h-1.13zM139.82 589.81h1.13v9.33h-1.13zM143.15 589.81h1.13v9.33h-1.13zM147.58 589.81h1.13v9.33h-1.13zM149.8 589.81h1.13v9.33h-1.13zM150.91 589.81h1.13v9.33h-1.13zM153.13 589.81h1.13v9.33h-1.13zM156.45 589.81h1.13v9.33h-1.13zM157.56 589.81h1.13v9.33h-1.13zM158.67 589.81h1.13v9.33h-1.13zM138.71 599.12h1.13v9.33h-1.13zM144.25 599.12h1.13v9.33h-1.13zM149.8 599.12h1.13v9.33h-1.13zM143.15 608.42h1.13v9.33h-1.13zM158.67 608.42h1.13v9.33h-1.13zM139.82 617.73h1.13v9.33h-1.13zM140.93 617.73h1.13v9.33h-1.13zM155.35 617.73h1.13v9.33h-1.13zM140.93 627.04h1.13v9.33h-1.13zM160.89 627.04h1.13v9.33h-1.13zM155.35 636.35h1.13v9.33h-1.13zM139.82 645.65h1.13v9.33h-1.13zM142.04 645.65h1.13v9.33h-1.13zM144.25 645.65h1.13v9.33h-1.13zM146.47 645.65h1.13v9.33h-1.13zM150.91 645.65h1.13v9.33h-1.13zM157.56 645.65h1.13v9.33h-1.13zM145.36 664.27h1.13v9.33h-1.13zM160.89 664.27h1.13v9.33h-1.13zM137.6 673.58h1.13v9.33h-1.13zM157.56 682.88h1.13v9.33h-1.13z"/>
<path fill="#c0d8e4" d="M106.17 329.2h1.18v9.33h-1.18zM121.31 347.81h1.18v9.33h-1.18zM96.86 357.12h1.18v9.33h-1.18zM114.32 357.12h1.18v9.33h-1.18zM95.7 366.43h1.18v9.33h-1.18zM106.17 385.05h1.18v9.33h-1.18zM127.12 394.35h1.18v9.33h-1.18zM102.68 431.58h1.18v9.33h-1.18zM110.83 440.89h1.18v9.33h-1.18zM109.67 468.81h1.18v9.33h-1.18zM137.6 515.35h1.13v9.33h-1.13z"/>
<path fill="#ccd8e4" d="M107.34 329.2h1.18v9.33h-1.18zM120.14 366.43h1.18v9.33h-1.18zM110.83 422.27h1.18v9.33h-1.18zM114.32 431.58h1.18v9.33h-1.18zM109.67 459.5h1.18v9.33h-1.18zM99.19 468.81h1.18v9.33h-1.18zM100.36 468.81h1.18v9.33h-1.18zM114.32 487.43h1.18v9.33h-1.18zM123.63 487.43h1.18v9.33h-1.18zM138.71 515.35h1.13v9.33h-1.13zM147.58 515.35h1.13v9.33h-1.13zM160.89 515.35h1.13v9.33h-1.13zM157.56 533.97h1.13v9.33h-1.13z"/>
<path fill="#f09090" d="M108.5 329.2h1.18v9.33h-1.18zM109.67 329.2h1.18v9.33h-1.18zM128.29 338.51h1.18v9.33h-1.18zM117.81 347.81h1.18v9.33h-1.18zM122.47 347.81h1.18v9.33h-1.18zM109.67 357.12h1.18v9.33h-1.18zM124.8 357.12h1.18v9.33h-1.18zM134.11 357.12h1.18v9.33h-1.18zM108.5 366.43h1.18v9.33h-1.18zM130.62 375.74h1.18v9.33h-1.18zM101.52 394.35h1.18v9.33h-1.18zM106.17 394.35h1.18v9.33h-1.18zM114.32 394.35h1.18v9.33h-1.18zM129.45 394.35h1.18v9.33h-1.18zM114.32 403.66h1.18v9.33h-1.18zM117.81 403.66h1.18v9.33h-1.18zM134.11 412.97h1.18v9.33h-1.18zM135.27 422.27h1.18v9.33h-1.18zM99.19 431.58h1.18v9.33h-1.18zM136.44 431.58h1.18v9.33h-1.18zM111.99 440.89h1.18v9.33h-1.18zM116.65 440.89h1.18v9.33h-1.18zM136.44 440.89h1.18v9.33h-1.18zM95.7 450.2h1.18v9.33h-1.18zM99.19 450.2h1.18v9.33h-1.18zM102.68 450.2h1.18v9.33h-1.18zM106.17 450.2h1.18v9.33h-1.18zM127.12 450.2h1.18v9.33h-1.18zM106.17 459.5h1.18v9.33h-1.18zM118.98 459.5h1.18v9.33h-1.18zM127.12 459.5h1.18v9.33h-1.18zM115.49 468.81h1.18v9.33h-1.18zM110.83 478.12h1.18v9.33h-1.18zM132.94 478.12h1.18v9.33h-1.18zM103.85 487.43h1.18v9.33h-1.18zM108.5 487.43h1.18v9.33h-1.18zM109.67 487.43h1.18v9.33h-1.18zM130.62 487.43h1.18v9.33h-1.18zM96.86 506.04h1.18v9.33h-1.18zM99.19 506.04h1.18v9.33h-1.18zM109.67 506.04h1.18v9.33h-1.18zM127.12 506.04h1.18v9.33h-1.18zM143.15 571.2h1.13v9.33h-1.13zM144.25 589.81h1.13v9.33h-1.13zM160.89 589.81h1.13v9.33h-1.13zM139.82 599.12h1.13v9.33h-1.13zM142.04 599.12h1.13v9.33h-1.13zM138.71 608.42h1.13v9.33h-1.13zM137.6 617.73h1.13v9.33h-1.13zM146.47 617.73h1.13v9.33h-1.13zM148.69 654.96h1.13v9.33h-1.13zM149.8 654.96h1.13v9.33h-1.13zM150.91 654.96h1.13v9.33h-1.13zM152.02 654.96h1.13v9.33h-1.13zM155.35 654.96h1.13v9.33h-1.13zM160.89 654.96h1.13v9.33h-1.13zM140.93 664.27h1.13v9.33h-1.13zM157.56 664.27h1.13v9.33h-1.13zM144.25 673.58h1.13v9.33h-1.13zM144.25 682.88h1.13v9.33h-1.13zM140.93 692.19h1.13v9.33h-1.13zM153.13 692.19h1.13v9.33h-1.13zM157.56 692.19h1.13v9.33h-1.13zM160.89 692.19h1.13v9.33h-1.13z"/>
<path fill="#e47878" d="M110.83 329.2h1.18v9.33h-1.18zM129.45 329.2h1.18v9.33h-1.18zM98.03 338.51h1.18v9.33h-1.18zM102.68 338.51h1.18v9.33h-1.18zM115.49 338.51h1.18v9.33h-1.18zM116.65 338.51h1.18v9.33h-1.18zM101.52 347.81h1.18v9.33h-1.18zM109.67 347.81h1.18v9.33h-1.18zM135.27 366.43h1.18v9.33h-1.18zM128.29 375.74h1.18v9.33h-1.18zM127.12 385.05h1.18v9.33h-1.18zM120.14 394.35h1.18v9.33h-1.18zM124.8 394.35h1.18v9.33h-1.18zM130.62 422.27h1.18v9.33h-1.18zM123.63 431.58h1.18v9.33h-1.18zM100.36 440.89h1.18v9.33h-1.18zM108.5 440.89h1.18v9.33h-1.18zM115.49 440.89h1.18v9.33h-1.18zM103.85 450.2h1.18v9.33h-1.18zM114.32 459.5h1.18v9.33h-1.18zM128.29 506.04h1.18v9.33h-1.18zM149.8 645.65h1.13v9.33h-1.13zM154.24 654.96h1.13v9.33h-1.13zM138.71 664.27h1.13v9.33h-1.13zM155.35 682.88h1.13v9.33h-1.13zM137.6 692.19h1.13v9.33h-1.13zM143.15 692.19h1.13v9.33h-1.13zM150.91 692.19h1.13v9.33h-1.13zM154.24 692.19h1.13v9.33h-1.13z"/>
<path fill="#e46c6c" d="M114.32 329.2h1.18v9.33h-1.18zM129.45 338.51h1.18v9.33h-1.18zM105.01 347.81h1.18v9.33h-1.18zM125.96 347.81h1.18v9.33h-1.18zM117.81 357.12h1.18v9.33h-1.18zM127.12 375.74h1.18v9.33h-1.18zM135.27 385.05h1.18v9.33h-1.18zM95.7 394.35h1.18v9.33h-1.18zM100.36 394.35h1.18v9.33h-1.18zM105.01 394.35h1.18v9.33h-1.18zM127.12 403.66h1.18v9.33h-1.18zM118.98 422.27h1.18v9.33h-1.18zM110.83 468.81h1.18v9.33h-1.18zM135.27 478.12h1.18v9.33h-1.18zM147.58 654.96h1.13v9.33h-1.13zM155.35 664.27h1.13v9.33h-1.13zM152.02 673.58h1.13v9.33h-1.13zM140.93 682.88h1.13v9.33h-1.13zM145.36 692.19h1.13v9.33h-1.13zM148.69 692.19h1.13v9.33h-1.13zM152.02 692.19h1.13v9.33h-1.13zM156.45 692.19h1.13v9.33h-1.13zM159.78 692.19h1.13v9.33h-1.13z"/>
<path fill="#9cb4d8" d="M115.49 329.2h1.18v9.33h-1.18zM130.62 329.2h1.18v9.33h-1.18zM143.15 338.51h1.13v9.33h-1.13zM98.03 385.05h1.18v9.33h-1.18zM111.99 422.27h1.18v9.33h-1.18zM115.49 431.58h1.18v9.33h-1.18zM110.83 450.2h1.18v9.33h-1.18zM120.14 450.2h1.18v9.33h-1.18zM157.56 450.2h1.13v9.33h-1.13zM95.7 459.5h1.18v9.33h-1.18zM120.14 459.5h1.18v9.33h-1.18zM96.86 468.81h1.18v9.33h-1.18zM99.19 478.12h1.18v9.33h-1.18zM138.71 478.12h1.13v9.33h-1.13zM147.58 487.43h1.13v9.33h-1.13zM144.25 506.04h1.13v9.33h-1.13zM158.67 506.04h1.13v9.33h-1.13zM153.13 515.35h1.13v9.33h-1.13z"/>
<path fill="#789ccc" d="M116.65 329.2h1.18v9.33h-1.18zM142.04 329.2h1.13v9.33h-1.13zM139.82 338.51h1.13v9.33h-1.13zM158.67 338.51h1.13v9.33h-1.13zM160.89 338.51h1.13v9.33h-1.13zM159.78 347.81h1.13v9.33h-1.13zM143.15 375.74h1.13v9.33h-1.13zM155.35 385.05h1.13v9.33h-1.13zM96.86 394.35h1.18v9.33h-1.18zM150.91 394.35h1.13v9.33h-1.13zM159.78 394.35h1.13v9.33h-1.13zM137.6 403.66h1.13v9.33h-1.13zM156.45 403.66h1.13v9.33h-1.13zM142.04 412.97h1.13v9.33h-1.13zM159.78 412.97h1.13v9.33h-1.13zM153.13 450.2h1.13v9.33h-1.13zM156.45 450.2h1.13v9.33h-1.13zM137.6 459.5h1.13v9.33h-1.13zM123.63 468.81h1.18v9.33h-1.18zM146.47 468.81h1.13v9.33h-1.13zM147.58 468.81h1.13v9.33h-1.13zM150.91 478.12h1.13v9.33h-1.13zM154.24 487.43h1.13v9.33h-1.13zM157.56 487.43h1.13v9.33h-1.13zM158.67 487.43h1.13v9.33h-1.13zM138.71 496.74h1.13v9.33h-1.13zM143.15 496.74h1.13v9.33h-1.13zM148.69 496.74h1.13v9.33h-1.13zM153.13 506.04h1.13v9.33h-1.13zM155.35 506.04h1.13v9.33h-1.13zM117.81 515.35h1.18v9.33h-1.18zM124.8 515.35h1.18v9.33h-1.18zM125.96 515.35h1.18v9.33h-1.18zM132.94 515.35h1.18v9.33h-1.18zM135.27 515.35h1.18v9.33h-1.18zM102.68 533.97h1.18v9.33h-1.18zM102.68 543.27h1.18v9.33h-1.18zM109.67 543.27h1.18v9.33h-1.18zM118.98 543.27h1.18v9.33h-1.18zM122.47 543.27h1.18v9.33h-1.18zM136.44 543.27h1.18v9.33h-1.18zM113.16 552.58h1.18v9.33h-1.18zM136.44 552.58h1.18v9.33h-1.18zM116.65 561.89h1.18v9.33h-1.18zM109.67 580.5h1.18v9.33h-1.18zM132.94 580.5h1.18v9.33h-1.18zM95.7 589.81h1.18v9.33h-1.18zM100.36 608.42h1.18v9.33h-1.18zM121.31 608.42h1.18v9.33h-1.18zM102.68 627.04h1.18v9.33h-1.18zM124.8 645.65h1.18v9.33h-1.18zM106.17 654.96h1.18v9.33h-1.18zM117.81 654.96h1.18v9.33h-1.18zM129.45 654.96h1.18v9.33h-1.18zM136.44 654.96h1.18v9.33h-1.18zM129.45 673.58h1.18v9.33h-1.18zM109.67 692.19h1.18v9.33h-1.18zM125.96 692.19h1.18v9.33h-1.18z"/>
<path fill="#f0e4e4" d="M117.81 329.2h1.18v9.33h-1.18zM127.12 329.2h1.18v9.33h-1.18zM118.98 347.81h1.18v9.33h-1.18zM105.01 357.12h1.18v9.33h-1.18zM116.65 357.12h1.18v9.33h-1.18zM118.98 357.12h1.18v9.33h-1.18zM128.29 357.12h1.18v9.33h-1.18zM136.44 357.12h1.18v9.33h-1.18zM103.85 375.74h1.18v9.33h-1.18zM118.98 375.74h1.18v9.33h-1.18zM131.78 375.74h1.18v9.33h-1.18zM110.83 385.05h1.18v9.33h-1.18zM121.31 394.35h1.18v9.33h-1.18zM134.11 394.35h1.18v9.33h-1.18zM110.83 403.66h1.18v9.33h-1.18zM96.86 412.97h1.18v9.33h-1.18zM120.14 412.97h1.18v9.33h-1.18zM131.78 412.97h1.18v9.33h-1.18zM95.7 422.27h1.18v9.33h-1.18zM98.03 422.27h1.18v9.33h-1.18zM125.96 422.27h1.18v9.33h-1.18zM134.11 431.58h1.18v9.33h-1.18zM95.7 440.89h1.18v9.33h-1.18zM121.31 440.89h1.18v9.33h-1.18zM125.96 440.89h1.18v9.33h-1.18zM96.86 450.2h1.18v9.33h-1.18zM135.27 450.2h1.18v9.33h-1.18zM136.44 450.2h1.18v9.33h-1.18zM134.11 459.5h1.18v9.33h-1.18zM106.17 468.81h1.18v9.33h-1.18zM113.16 468.81h1.18v9.33h-1.18zM117.81 468.81h1.18v9.33h-1.18zM124.8 468.81h1.18v9.33h-1.18zM98.03 478.12h1.18v9.33h-1.18zM103.85 478.12h1.18v9.33h-1.18zM109.67 478.12h1.18v9.33h-1.18zM118.98 478.12h1.18v9.33h-1.18zM100.36 487.43h1.18v9.33h-1.18zM129.45 487.43h1.18v9.33h-1.18zM111.99 496.74h1.18v9.33h-1.18zM118.98 496.74h1.18v9.33h-1.18zM124.8 496.74h1.18v9.33h-1.18zM102.68 506.04h1.18v9.33h-1.18zM113.16 506.04h1.18v9.33h-1.18zM140.93 515.35h1.13v9.33h-1.13zM148.69 533.97h1.13v9.33h-1.13zM149.8 533.97h1.13v9.33h-1.13zM154.24 533.97h1.13v9.33h-1.13zM159.78 533.97h1.13v9.33h-1.13zM138.71 543.27h1.13v9.33h-1.13zM152.02 543.27h1.13v9.33h-1.13zM157.56 543.27h1.13v9.33h-1.13zM160.89 543.27h1.13v9.33h-1.13zM140.93 552.58h1.13v9.33h-1.13zM146.47 552.58h1.13v9.33h-1.13zM156.45 561.89h1.13v9.33h-1.13zM157.56 561.89h1.13v9.33h-1.13zM142.04 571.2h1.13v9.33h-1.13zM153.13 571.2h1.13v9.33h-1.13zM154.24 571.2h1.13v9.33h-1.13zM149.8 580.5h1.13v9.33h-1.13zM150.91 580.5h1.13v9.33h-1.13zM160.89 599.12h1.13v9.33h-1.13zM138.71 617.73h1.13v9.33h-1.13zM152.02 617.73h1.13v9.33h-1.13zM159.78 617.73h1.13v9.33h-1.13zM145.36 627.04h1.13v9.33h-1.13zM143.15 636.35h1.13v9.33h-1.13zM138.71 645.65h1.13v9.33h-1.13zM156.45 645.65h1.13v9.33h-1.13zM159.78 645.65h1.13v9.33h-1.13zM155.35 673.58h1.13v9.33h-1.13z"/>
<path fill="#f0cccc" d="M118.98 329.2h1.18v9.33h-1.18zM99.19 338.51h1.18v9.33h-1.18zM101.52 338.51h1.18v9.33h-1.18zM117.81 338.51h1.18v9.33h-1.18zM122.47 338.51h1.18v9.33h-1.18zM130.62 338.51h1.18v9.33h-1.18zM110.83 347.81h1.18v9.33h-1.18zM123.63 347.81h1.18v9.33h-1.18zM128.29 347.81h1.18v9.33h-1.18zM98.03 357.12h1.18v9.33h-1.18zM108.5 357.12h1.18v9.33h-1.18zM130.62 357.12h1.18v9.33h-1.18zM101.52 366.43h1.18v9.33h-1.18zM125.96 366.43h1.18v9.33h-1.18zM110.83 375.74h1.18v9.33h-1.18zM114.32 375.74h1.18v9.33h-1.18zM117.81 375.74h1.18v9.33h-1.18zM122.47 375.74h1.18v9.33h-1.18zM129.45 375.74h1.18v9.33h-1.18zM96.86 385.05h1.18v9.33h-1.18zM99.19 385.05h1.18v9.33h-1.18zM107.34 385.05h1.18v9.33h-1.18zM131.78 385.05h1.18v9.33h-1.18zM111.99 394.35h1.18v9.33h-1.18zM122.47 394.35h1.18v9.33h-1.18zM108.5 403.66h1.18v9.33h-1.18zM111.99 403.66h1.18v9.33h-1.18zM109.67 412.97h1.18v9.33h-1.18zM110.83 412.97h1.18v9.33h-1.18zM111.99 412.97h1.18v9.33h-1.18zM115.49 412.97h1.18v9.33h-1.18zM121.31 412.97h1.18v9.33h-1.18zM125.96 412.97h1.18v9.33h-1.18zM106.17 422.27h1.18v9.33h-1.18zM108.5 422.27h1.18v9.33h-1.18zM109.67 422.27h1.18v9.33h-1.18zM122.47 422.27h1.18v9.33h-1.18zM98.03 431.58h1.18v9.33h-1.18zM106.17 431.58h1.18v9.33h-1.18zM107.34 431.58h1.18v9.33h-1.18zM124.8 431.58h1.18v9.33h-1.18zM128.29 431.58h1.18v9.33h-1.18zM96.86 440.89h1.18v9.33h-1.18zM117.81 440.89h1.18v9.33h-1.18zM120.14 440.89h1.18v9.33h-1.18zM129.45 440.89h1.18v9.33h-1.18zM121.31 450.2h1.18v9.33h-1.18zM105.01 459.5h1.18v9.33h-1.18zM105.01 468.81h1.18v9.33h-1.18zM121.31 468.81h1.18v9.33h-1.18zM108.5 478.12h1.18v9.33h-1.18zM123.63 478.12h1.18v9.33h-1.18zM101.52 487.43h1.18v9.33h-1.18zM134.11 487.43h1.18v9.33h-1.18zM135.27 487.43h1.18v9.33h-1.18zM99.19 496.74h1.18v9.33h-1.18zM113.16 496.74h1.18v9.33h-1.18zM117.81 496.74h1.18v9.33h-1.18zM129.45 496.74h1.18v9.33h-1.18zM131.78 496.74h1.18v9.33h-1.18zM134.11 496.74h1.18v9.33h-1.18zM136.44 496.74h1.18v9.33h-1.18zM115.49 506.04h1.18v9.33h-1.18zM131.78 506.04h1.18v9.33h-1.18zM145.36 524.66h1.13v9.33h-1.13zM157.56 524.66h1.13v9.33h-1.13zM153.13 543.27h1.13v9.33h-1.13zM154.24 543.27h1.13v9.33h-1.13zM143.15 552.58h1.13v9.33h-1.13zM154.24 552.58h1.13v9.33h-1.13zM138.71 561.89h1.13v9.33h-1.13zM153.13 561.89h1.13v9.33h-1.13zM155.35 571.2h1.13v9.33h-1.13zM155.35 580.5h1.13v9.33h-1.13zM137.6 589.81h1.13v9.33h-1.13zM148.69 589.81h1.13v9.33h-1.13zM137.6 599.12h1.13v9.33h-1.13zM140.93 599.12h1.13v9.33h-1.13zM147.58 599.12h1.13v9.33h-1.13zM152.02 599.12h1.13v9.33h-1.13zM159.78 599.12h1.13v9.33h-1.13zM137.6 608.42h1.13v9.33h-1.13zM139.82 608.42h1.13v9.33h-1.13zM144.25 608.42h1.13v9.33h-1.13zM148.69 608.42h1.13v9.33h-1.13zM157.56 608.42h1.13v9.33h-1.13zM159.78 608.42h1.13v9.33h-1.13zM142.04 617.73h1.13v9.33h-1.13zM147.58 617.73h1.13v9.33h-1.13zM148.69 617.73h1.13v9.33h-1.13zM153.13 617.73h1.13v9.33h-1.13zM154.24 617.73h1.13v9.33h-1.13zM156.45 617.73h1.13v9.33h-1.13zM139.82 627.04h1.13v9.33h-1.13zM142.04 627.04h1.13v9.33h-1.13zM146.47 627.04h1.13v9.33h-1.13zM147.58 627.04h1.13v9.33h-1.13zM148.69 627.04h1.13v9.33h-1.13zM150.91 627.04h1.13v9.33h-1.13zM152.02 627.04h1.13v9.33h-1.13zM155.35 627.04h1.13v9.33h-1.13zM137.6 636.35h1.13v9.33h-1.13zM140.93 636.35h1.13v9.33h-1.13zM145.36 636.35h1.13v9.33h-1.13zM148.69 636.35h1.13v9.33h-1.13zM158.67 636.35h1.13v9.33h-1.13zM145.36 645.65h1.13v9.33h-1.13zM155.35 645.65h1.13v9.33h-1.13zM146.47 654.96h1.13v9.33h-1.13zM152.02 664.27h1.13v9.33h-1.13zM153.13 664.27h1.13v9.33h-1.13zM147.58 673.58h1.13v9.33h-1.13zM154.24 673.58h1.13v9.33h-1.13zM160.89 673.58h1.13v9.33h-1.13z"/>
<path fill="#ccd8f0" d="M121.31 329.2h1.18v9.33h-1.18zM136.44 338.51h1.18v9.33h-1.18zM111.99 347.81h1.18v9.33h-1.18zM128.29 366.43h1.18v9.33h-1.18zM108.5 375.74h1.18v9.33h-1.18zM109.67 385.05h1.18v9.33h-1.18zM120.14 403.66h1.18v9.33h-1.18zM132.94 412.97h1.18v9.33h-1.18zM100.36 422.27h1.18v9.33h-1.18zM105.01 431.58h1.18v9.33h-1.18zM122.47 440.89h1.18v9.33h-1.18zM132.94 459.5h1.18v9.33h-1.18zM117.81 478.12h1.18v9.33h-1.18zM122.47 487.43h1.18v9.33h-1.18zM121.31 496.74h1.18v9.33h-1.18zM122.47 506.04h1.18v9.33h-1.18zM156.45 515.35h1.13v9.33h-1.13zM146.47 524.66h1.13v9.33h-1.13zM139.82 533.97h1.13v9.33h-1.13zM158.67 533.97h1.13v9.33h-1.13zM160.89 561.89h1.13v9.33h-1.13zM158.67 645.65h1.13v9.33h-1.13z"/>
<path fill="#e4e4f0" d="M124.8 329.2h1.18v9.33h-1.18zM121.31 338.51h1.18v9.33h-1.18zM99.19 375.74h1.18v9.33h-1.18zM103.85 403.66h1.18v9.33h-1.18zM134.11 422.27h1.18v9.33h-1.18zM109.67 440.89h1.18v9.33h-1.18zM134.11 450.2h1.18v9.33h-1.18zM113.16 459.5h1.18v9.33h-1.18zM122.47 468.81h1.18v9.33h-1.18zM125.96 478.12h1.18v9.33h-1.18zM106.17 487.43h1.18v9.33h-1.18zM108.5 496.74h1.18v9.33h-1.18zM95.7 506.04h1.18v9.33h-1.18zM116.65 506.04h1.18v9.33h-1.18zM120.14 506.04h1.18v9.33h-1.18zM125.96 506.04h1.18v9.33h-1.18zM142.04 515.35h1.13v9.33h-1.13zM143.15 524.66h1.13v9.33h-1.13zM156.45 524.66h1.13v9.33h-1.13zM137.6 561.89h1.13v9.33h-1.13zM143.15 561.89h1.13v9.33h-1.13zM145.36 589.81h1.13v9.33h-1.13zM147.58 636.35h1.13v9.33h-1.13zM147.58 645.65h1.13v9.33h-1.13z"/>
<path fill="#f0f0f0" d="M131.78 329.2h1.18v9.33h-1.18zM103.85 338.51h1.18v9.33h-1.18zM127.12 338.51h1.18v9.33h-1.18zM134.11 338.51h1.18v9.33h-1.18zM95.7 347.81h1.18v9.33h-1.18zM129.45 347.81h1.18v9.33h-1.18zM121.31 357.12h1.18v9.33h-1.18zM116.65 366.43h1.18v9.33h-1.18zM131.78 366.43h1.18v9.33h-1.18zM111.99 385.05h1.18v9.33h-1.18zM116.65 385.05h1.18v9.33h-1.18zM122.47 385.05h1.18v9.33h-1.18zM132.94 385.05h1.18v9.33h-1.18zM134.11 385.05h1.18v9.33h-1.18zM113.16 394.35h1.18v9.33h-1.18zM136.44 394.35h1.18v9.33h-1.18zM100.36 403.66h1.18v9.33h-1.18zM131.78 403.66h1.18v9.33h-1.18zM106.17 412.97h1.18v9.33h-1.18zM114.32 412.97h1.18v9.33h-1.18zM115.49 422.27h1.18v9.33h-1.18zM136.44 422.27h1.18v9.33h-1.18zM100.36 431.58h1.18v9.33h-1.18zM101.52 431.58h1.18v9.33h-1.18zM108.5 431.58h1.18v9.33h-1.18zM116.65 431.58h1.18v9.33h-1.18zM117.81 431.58h1.18v9.33h-1.18zM118.98 431.58h1.18v9.33h-1.18zM130.62 431.58h1.18v9.33h-1.18zM132.94 431.58h1.18v9.33h-1.18zM99.19 440.89h1.18v9.33h-1.18zM103.85 440.89h1.18v9.33h-1.18zM124.8 450.2h1.18v9.33h-1.18zM96.86 459.5h1.18v9.33h-1.18zM99.19 459.5h1.18v9.33h-1.18zM100.36 459.5h1.18v9.33h-1.18zM122.47 459.5h1.18v9.33h-1.18zM124.8 459.5h1.18v9.33h-1.18zM128.29 459.5h1.18v9.33h-1.18zM125.96 468.81h1.18v9.33h-1.18zM129.45 468.81h1.18v9.33h-1.18zM134.11 468.81h1.18v9.33h-1.18zM136.44 468.81h1.18v9.33h-1.18zM96.86 478.12h1.18v9.33h-1.18zM105.01 478.12h1.18v9.33h-1.18zM106.17 478.12h1.18v9.33h-1.18zM120.14 478.12h1.18v9.33h-1.18zM130.62 478.12h1.18v9.33h-1.18zM134.11 478.12h1.18v9.33h-1.18zM128.29 487.43h1.18v9.33h-1.18zM131.78 487.43h1.18v9.33h-1.18zM102.68 496.74h1.18v9.33h-1.18zM105.01 496.74h1.18v9.33h-1.18zM114.32 496.74h1.18v9.33h-1.18zM115.49 496.74h1.18v9.33h-1.18zM123.63 496.74h1.18v9.33h-1.18zM118.98 506.04h1.18v9.33h-1.18zM121.31 506.04h1.18v9.33h-1.18zM145.36 515.35h1.13v9.33h-1.13zM148.69 515.35h1.13v9.33h-1.13zM149.8 515.35h1.13v9.33h-1.13zM140.93 524.66h1.13v9.33h-1.13zM142.04 524.66h1.13v9.33h-1.13zM148.69 524.66h1.13v9.33h-1.13zM158.67 524.66h1.13v9.33h-1.13zM137.6 533.97h1.13v9.33h-1.13zM138.71 533.97h1.13v9.33h-1.13zM140.93 533.97h1.13v9.33h-1.13zM142.04 533.97h1.13v9.33h-1.13zM147.58 533.97h1.13v9.33h-1.13zM150.91 533.97h1.13v9.33h-1.13zM152.02 533.97h1.13v9.33h-1.13zM156.45 533.97h1.13v9.33h-1.13zM160.89 533.97h1.13v9.33h-1.13zM139.82 543.27h1.13v9.33h-1.13zM142.04 543.27h1.13v9.33h-1.13zM145.36 543.27h1.13v9.33h-1.13zM146.47 543.27h1.13v9.33h-1.13zM147.58 543.27h1.13v9.33h-1.13zM149.8 543.27h1.13v9.33h-1.13zM150.91 543.27h1.13v9.33h-1.13zM155.35 543.27h1.13v9.33h-1.13zM159.78 543.27h1.13v9.33h-1.13zM137.6 552.58h1.13v9.33h-1.13zM139.82 552.58h1.13v9.33h-1.13zM150.91 552.58h1.13v9.33h-1.13zM147.58 561.89h1.13v9.33h-1.13zM158.67 561.89h1.13v9.33h-1.13zM137.6 571.2h1.13v9.33h-1.13zM146.47 571.2h1.13v9.33h-1.13zM145.36 580.5h1.13v9.33h-1.13zM153.13 580.5h1.13v9.33h-1.13zM157.56 580.5h1.13v9.33h-1.13zM160.89 580.5h1.13v9.33h-1.13zM152.02 589.81h1.13v9.33h-1.13zM159.78 589.81h1.13v9.33h-1.13zM145.36 608.42h1.13v9.33h-1.13zM150.91 608.42h1.13v9.33h-1.13zM145.36 617.73h1.13v9.33h-1.13zM144.25 627.04h1.13v9.33h-1.13zM154.24 627.04h1.13v9.33h-1.13zM150.91 636.35h1.13v9.33h-1.13zM148.69 645.65h1.13v9.33h-1.13zM159.78 664.27h1.13v9.33h-1.13zM150.91 673.58h1.13v9.33h-1.13z"/>
<path fill="#b4cce4" d="M135.27 329.2h1.18v9.33h-1.18zM132.94 357.12h1.18v9.33h-1.18zM124.8 385.05h1.18v9.33h-1.18zM101.52 440.89h1.18v9.33h-1.18zM145.36 459.5h1.13v9.33h-1.13zM139.82 478.12h1.13v9.33h-1.13zM159.78 478.12h1.13v9.33h-1.13zM144.25 487.43h1.13v9.33h-1.13zM152.02 515.35h1.13v9.33h-1.13zM155.35 533.97h1.13v9.33h-1.13zM137.6 543.27h1.13v9.33h-1.13z"/>
<path fill="#5484c0" d="M137.6 329.2h1.13v9.33h-1.13zM149.8 329.2h1.13v9.33h-1.13zM155.35 329.2h1.13v9.33h-1.13zM158.67 329.2h1.13v9.33h-1.13zM137.6 338.51h1.13v9.33h-1.13zM138.71 338.51h1.13v9.33h-1.13zM142.04 338.51h1.13v9.33h-1.13zM146.47 338.51h1.13v9.33h-1.13zM147.58 338.51h1.13v9.33h-1.13zM149.8 338.51h1.13v9.33h-1.13zM140.93 347.81h1.13v9.33h-1.13zM149.8 347.81h1.13v9.33h-1.13zM137.6 357.12h1.13v9.33h-1.13zM138.71 357.12h1.13v9.33h-1.13zM139.82 357.12h1.13v9.33h-1.13zM140.93 357.12h1.13v9.33h-1.13zM142.04 357.12h1.13v9.33h-1.13zM147.58 357.12h1.13v9.33h-1.13zM152.02 357.12h1.13v9.33h-1.13zM159.78 357.12h1.13v9.33h-1.13zM139.82 366.43h1.13v9.33h-1.13zM140.93 366.43h1.13v9.33h-1.13zM145.36 366.43h1.13v9.33h-1.13zM146.47 366.43h1.13v9.33h-1.13zM147.58 366.43h1.13v9.33h-1.13zM148.69 366.43h1.13v9.33h-1.13zM153.13 366.43h1.13v9.33h-1.13zM155.35 366.43h1.13v9.33h-1.13zM158.67 366.43h1.13v9.33h-1.13zM160.89 366.43h1.13v9.33h-1.13zM137.6 375.74h1.13v9.33h-1.13zM139.82 375.74h1.13v9.33h-1.13zM149.8 375.74h1.13v9.33h-1.13zM150.91 375.74h1.13v9.33h-1.13zM152.02 375.74h1.13v9.33h-1.13zM154.24 375.74h1.13v9.33h-1.13zM156.45 375.74h1.13v9.33h-1.13zM159.78 375.74h1.13v9.33h-1.13zM145.36 385.05h1.13v9.33h-1.13zM147.58 385.05h1.13v9.33h-1.13zM150.91 385.05h1.13v9.33h-1.13zM152.02 385.05h1.13v9.33h-1.13zM153.13 385.05h1.13v9.33h-1.13zM156.45 385.05h1.13v9.33h-1.13zM159.78 385.05h1.13v9.33h-1.13zM139.82 394.35h1.13v9.33h-1.13zM140.93 394.35h1.13v9.33h-1.13zM143.15 394.35h1.13v9.33h-1.13zM145.36 394.35h1.13v9.33h-1.13zM146.47 394.35h1.13v9.33h-1.13zM152.02 394.35h1.13v9.33h-1.13zM153.13 394.35h1.13v9.33h-1.13zM155.35 394.35h1.13v9.33h-1.13zM158.67 394.35h1.13v9.33h-1.13zM138.71 403.66h1.13v9.33h-1.13zM140.93 403.66h1.13v9.33h-1.13zM144.25 403.66h1.13v9.33h-1.13zM147.58 403.66h1.13v9.33h-1.13zM150.91 403.66h1.13v9.33h-1.13zM155.35 403.66h1.13v9.33h-1.13zM157.56 403.66h1.13v9.33h-1.13zM160.89 403.66h1.13v9.33h-1.13zM139.82 412.97h1.13v9.33h-1.13zM144.25 412.97h1.13v9.33h-1.13zM145.36 412.97h1.13v9.33h-1.13zM146.47 412.97h1.13v9.33h-1.13zM160.89 412.97h1.13v9.33h-1.13zM139.82 422.27h1.13v9.33h-1.13zM140.93 422.27h1.13v9.33h-1.13zM142.04 422.27h1.13v9.33h-1.13zM149.8 422.27h1.13v9.33h-1.13zM150.91 422.27h1.13v9.33h-1.13zM153.13 422.27h1.13v9.33h-1.13zM157.56 422.27h1.13v9.33h-1.13zM160.89 422.27h1.13v9.33h-1.13zM137.6 431.58h1.13v9.33h-1.13zM138.71 431.58h1.13v9.33h-1.13zM139.82 431.58h1.13v9.33h-1.13zM142.04 431.58h1.13v9.33h-1.13zM144.25 431.58h1.13v9.33h-1.13zM148.69 431.58h1.13v9.33h-1.13zM137.6 440.89h1.13v9.33h-1.13zM139.82 440.89h1.13v9.33h-1.13zM142.04 440.89h1.13v9.33h-1.13zM156.45 440.89h1.13v9.33h-1.13zM157.56 440.89h1.13v9.33h-1.13zM158.67 440.89h1.13v9.33h-1.13zM159.78 440.89h1.13v9.33h-1.13zM144.25 450.2h1.13v9.33h-1.13zM146.47 450.2h1.13v9.33h-1.13zM147.58 450.2h1.13v9.33h-1.13zM148.69 450.2h1.13v9.33h-1.13zM154.24 450.2h1.13v9.33h-1.13zM143.15 459.5h1.13v9.33h-1.13zM147.58 459.5h1.13v9.33h-1.13zM148.69 459.5h1.13v9.33h-1.13zM159.78 459.5h1.13v9.33h-1.13zM140.93 468.81h1.13v9.33h-1.13zM143.15 468.81h1.13v9.33h-1.13zM152.02 468.81h1.13v9.33h-1.13zM155.35 468.81h1.13v9.33h-1.13zM137.6 478.12h1.13v9.33h-1.13zM142.04 478.12h1.13v9.33h-1.13zM146.47 478.12h1.13v9.33h-1.13zM152.02 478.12h1.13v9.33h-1.13zM142.04 487.43h1.13v9.33h-1.13zM152.02 487.43h1.13v9.33h-1.13zM156.45 487.43h1.13v9.33h-1.13zM142.04 496.74h1.13v9.33h-1.13zM146.47 496.74h1.13v9.33h-1.13zM150.91 496.74h1.13v9.33h-1.13zM138.71 506.04h1.13v9.33h-1.13zM146.47 506.04h1.13v9.33h-1.13zM149.8 506.04h1.13v9.33h-1.13zM154.24 506.04h1.13v9.33h-1.13zM98.03 515.35h1.18v9.33h-1.18zM100.36 515.35h1.18v9.33h-1.18zM106.17 515.35h1.18v9.33h-1.18zM109.67 515.35h1.18v9.33h-1.18zM110.83 515.35h1.18v9.33h-1.18zM111.99 515.35h1.18v9.33h-1.18zM113.16 515.35h1.18v9.33h-1.18zM127.12 515.35h1.18v9.33h-1.18zM128.29 515.35h1.18v9.33h-1.18zM131.78 515.35h1.18v9.33h-1.18zM98.03 524.66h1.18v9.33h-1.18zM99.19 524.66h1.18v9.33h-1.18zM102.68 524.66h1.18v9.33h-1.18zM107.34 524.66h1.18v9.33h-1.18zM113.16 524.66h1.18v9.33h-1.18zM118.98 524.66h1.18v9.33h-1.18zM120.14 524.66h1.18v9.33h-1.18zM122.47 524.66h1.18v9.33h-1.18zM127.12 524.66h1.18v9.33h-1.18zM131.78 524.66h1.18v9.33h-1.18zM134.11 524.66h1.18v9.33h-1.18zM96.86 533.97h1.18v9.33h-1.18zM99.19 533.97h1.18v9.33h-1.18zM103.85 533.97h1.18v9.33h-1.18zM105.01 533.97h1.18v9.33h-1.18zM106.17 533.97h1.18v9.33h-1.18zM113.16 533.97h1.18v9.33h-1.18zM117.81 533.97h1.18v9.33h-1.18zM125.96 533.97h1.18v9.33h-1.18zM127.12 533.97h1.18v9.33h-1.18zM130.62 533.97h1.18v9.33h-1.18zM134.11 533.97h1.18v9.33h-1.18zM95.7 543.27h1.18v9.33h-1.18zM98.03 543.27h1.18v9.33h-1.18zM105.01 543.27h1.18v9.33h-1.18zM106.17 543.27h1.18v9.33h-1.18zM116.65 543.27h1.18v9.33h-1.18zM124.8 543.27h1.18v9.33h-1.18zM129.45 543.27h1.18v9.33h-1.18zM130.62 543.27h1.18v9.33h-1.18zM132.94 543.27h1.18v9.33h-1.18zM134.11 543.27h1.18v9.33h-1.18zM135.27 543.27h1.18v9.33h-1.18zM95.7 552.58h1.18v9.33h-1.18zM96.86 552.58h1.18v9.33h-1.18zM103.85 552.58h1.18v9.33h-1.18zM107.34 552.58h1.18v9.33h-1.18zM108.5 552.58h1.18v9.33h-1.18zM116.65 552.58h1.18v9.33h-1.18zM117.81 552.58h1.18v9.33h-1.18zM118.98 552.58h1.18v9.33h-1.18zM120.14 552.58h1.18v9.33h-1.18zM121.31 552.58h1.18v9.33h-1.18zM122.47 552.58h1.18v9.33h-1.18zM124.8 552.58h1.18v9.33h-1.18zM125.96 552.58h1.18v9.33h-1.18zM128.29 552.58h1.18v9.33h-1.18zM129.45 552.58h1.18v9.33h-1.18zM131.78 552.58h1.18v9.33h-1.18zM134.11 552.58h1.18v9.33h-1.18zM135.27 552.58h1.18v9.33h-1.18zM105.01 561.89h1.18v9.33h-1.18zM106.17 561.89h1.18v9.33h-1.18zM109.67 561.89h1.18v9.33h-1.18zM110.83 561.89h1.18v9.33h-1.18zM113.16 561.89h1.18v9.33h-1.18zM114.32 561.89h1.18v9.33h-1.18zM115.49 561.89h1.18v9.33h-1.18zM118.98 561.89h1.18v9.33h-1.18zM122.47 561.89h1.18v9.33h-1.18zM125.96 561.89h1.18v9.33h-1.18zM129.45 561.89h1.18v9.33h-1.18zM130.62 561.89h1.18v9.33h-1.18zM131.78 561.89h1.18v9.33h-1.18zM135.27 561.89h1.18v9.33h-1.18zM136.44 561.89h1.18v9.33h-1.18zM95.7 571.2h1.18v9.33h-1.18zM99.19 571.2h1.18v9.33h-1.18zM101.52 571.2h1.18v9.33h-1.18zM102.68 571.2h1.18v9.33h-1.18zM105.01 571.2h1.18v9.33h-1.18zM106.17 571.2h1.18v9.33h-1.18zM113.16 571.2h1.18v9.33h-1.18zM114.32 571.2h1.18v9.33h-1.18zM115.49 571.2h1.18v9.33h-1.18zM116.65 571.2h1.18v9.33h-1.18zM118.98 571.2h1.18v9.33h-1.18zM122.47 571.2h1.18v9.33h-1.18zM123.63 571.2h1.18v9.33h-1.18zM124.8 571.2h1.18v9.33h-1.18zM128.29 571.2h1.18v9.33h-1.18zM130.62 571.2h1.18v9.33h-1.18zM132.94 571.2h1.18v9.33h-1.18zM135.27 571.2h1.18v9.33h-1.18zM100.36 580.5h1.18v9.33h-1.18zM101.52 580.5h1.18v9.33h-1.18zM102.68 580.5h1.18v9.33h-1.18zM105.01 580.5h1.18v9.33h-1.18zM107.34 580.5h1.18v9.33h-1.18zM108.5 580.5h1.18v9.33h-1.18zM110.83 580.5h1.18v9.33h-1.18zM115.49 580.5h1.18v9.33h-1.18zM118.98 580.5h1.18v9.33h-1.18zM121.31 580.5h1.18v9.33h-1.18zM122.47 580.5h1.18v9.33h-1.18zM124.8 580.5h1.18v9.33h-1.18zM128.29 580.5h1.18v9.33h-1.18zM129.45 580.5h1.18v9.33h-1.18zM130.62 580.5h1.18v9.33h-1.18zM136.44 580.5h1.18v9.33h-1.18zM99.19 589.81h1.18v9.33h-1.18zM102.68 589.81h1.18v9.33h-1.18zM103.85 589.81h1.18v9.33h-1.18zM105.01 589.81h1.18v9.33h-1.18zM106.17 589.81h1.18v9.33h-1.18zM110.83 589.81h1.18v9.33h-1.18zM111.99 589.81h1.18v9.33h-1.18zM114.32 589.81h1.18v9.33h-1.18zM115.49 589.81h1.18v9.33h-1.18zM121.31 589.81h1.18v9.33h-1.18zM124.8 589.81h1.18v9.33h-1.18zM125.96 589.81h1.18v9.33h-1.18zM131.78 589.81h1.18v9.33h-1.18zM132.94 589.81h1.18v9.33h-1.18zM136.44 589.81h1.18v9.33h-1.18zM96.86 599.12h1.18v9.33h-1.18zM98.03 599.12h1.18v9.33h-1.18zM108.5 599.12h1.18v9.33h-1.18zM113.16 599.12h1.18v9.33h-1.18zM116.65 599.12h1.18v9.33h-1.18zM118.98 599.12h1.18v9.33h-1.18zM120.14 599.12h1.18v9.33h-1.18zM122.47 599.12h1.18v9.33h-1.18zM123.63 599.12h1.18v9.33h-1.18zM128.29 599.12h1.18v9.33h-1.18zM129.45 599.12h1.18v9.33h-1.18zM130.62 599.12h1.18v9.33h-1.18zM131.78 599.12h1.18v9.33h-1.18zM136.44 599.12h1.18v9.33h-1.18zM107.34 608.42h1.18v9.33h-1.18zM111.99 608.42h1.18v9.33h-1.18zM114.32 608.42h1.18v9.33h-1.18zM115.49 608.42h1.18v9.33h-1.18zM116.65 608.42h1.18v9.33h-1.18zM117.81 608.42h1.18v9.33h-1.18zM120.14 608.42h1.18v9.33h-1.18zM123.63 608.42h1.18v9.33h-1.18zM124.8 608.42h1.18v9.33h-1.18zM130.62 608.42h1.18v9.33h-1.18zM131.78 608.42h1.18v9.33h-1.18zM105.01 617.73h1.18v9.33h-1.18zM106.17 617.73h1.18v9.33h-1.18zM111.99 617.73h1.18v9.33h-1.18zM115.49 617.73h1.18v9.33h-1.18zM116.65 617.73h1.18v9.33h-1.18zM117.81 617.73h1.18v9.33h-1.18zM122.47 617.73h1.18v9.33h-1.18zM123.63 617.73h1.18v9.33h-1.18zM124.8 617.73h1.18v9.33h-1.18zM125.96 617.73h1.18v9.33h-1.18zM128.29 617.73h1.18v9.33h-1.18zM131.78 617.73h1.18v9.33h-1.18zM134.11 617.73h1.18v9.33h-1.18zM136.44 617.73h1.18v9.33h-1.18zM96.86 627.04h1.18v9.33h-1.18zM98.03 627.04h1.18v9.33h-1.18zM100.36 627.04h1.18v9.33h-1.18zM103.85 627.04h1.18v9.33h-1.18zM107.34 627.04h1.18v9.33h-1.18zM108.5 627.04h1.18v9.33h-1.18zM109.67 627.04h1.18v9.33h-1.18zM111.99 627.04h1.18v9.33h-1.18zM114.32 627.04h1.18v9.33h-1.18zM117.81 627.04h1.18v9.33h-1.18zM120.14 627.04h1.18v9.33h-1.18zM134.11 627.04h1.18v9.33h-1.18zM135.27 627.04h1.18v9.33h-1.18zM136.44 627.04h1.18v9.33h-1.18zM96.86 636.35h1.18v9.33h-1.18zM98.03 636.35h1.18v9.33h-1.18zM100.36 636.35h1.18v9.33h-1.18zM102.68 636.35h1.18v9.33h-1.18zM103.85 636.35h1.18v9.33h-1.18zM109.67 636.35h1.18v9.33h-1.18zM111.99 636.35h1.18v9.33h-1.18zM113.16 636.35h1.18v9.33h-1.18zM114.32 636.35h1.18v9.33h-1.18zM115.49 636.35h1.18v9.33h-1.18zM117.81 636.35h1.18v9.33h-1.18zM120.14 636.35h1.18v9.33h-1.18zM123.63 636.35h1.18v9.33h-1.18zM128.29 636.35h1.18v9.33h-1.18zM129.45 636.35h1.18v9.33h-1.18zM134.11 636.35h1.18v9.33h-1.18zM136.44 636.35h1.18v9.33h-1.18zM95.7 645.65h1.18v9.33h-1.18zM96.86 645.65h1.18v9.33h-1.18zM99.19 645.65h1.18v9.33h-1.18zM102.68 645.65h1.18v9.33h-1.18zM103.85 645.65h1.18v9.33h-1.18zM106.17 645.65h1.18v9.33h-1.18zM109.67 645.65h1.18v9.33h-1.18zM111.99 645.65h1.18v9.33h-1.18zM113.16 645.65h1.18v9.33h-1.18zM114.32 645.65h1.18v9.33h-1.18zM115.49 645.65h1.18v9.33h-1.18zM117.81 645.65h1.18v9.33h-1.18zM118.98 645.65h1.18v9.33h-1.18zM120.14 645.65h1.18v9.33h-1.18zM96.86 654.96h1.18v9.33h-1.18zM101.52 654.96h1.18v9.33h-1.18zM110.83 654.96h1.18v9.33h-1.18zM114.32 654.96h1.18v9.33h-1.18zM115.49 654.96h1.18v9.33h-1.18zM120.14 654.96h1.18v9.33h-1.18zM125.96 654.96h1.18v9.33h-1.18zM127.12 654.96h1.18v9.33h-1.18zM130.62 654.96h1.18v9.33h-1.18zM134.11 654.96h1.18v9.33h-1.18zM135.27 654.96h1.18v9.33h-1.18zM96.86 664.27h1.18v9.33h-1.18zM102.68 664.27h1.18v9.33h-1.18zM105.01 664.27h1.18v9.33h-1.18zM111.99 664.27h1.18v9.33h-1.18zM113.16 664.27h1.18v9.33h-1.18zM114.32 664.27h1.18v9.33h-1.18zM117.81 664.27h1.18v9.33h-1.18zM123.63 664.27h1.18v9.33h-1.18zM128.29 664.27h1.18v9.33h-1.18zM130.62 664.27h1.18v9.33h-1.18zM132.94 664.27h1.18v9.33h-1.18zM134.11 664.27h1.18v9.33h-1.18zM95.7 673.58h1.18v9.33h-1.18zM98.03 673.58h1.18v9.33h-1.18zM100.36 673.58h1.18v9.33h-1.18zM103.85 673.58h1.18v9.33h-1.18zM105.01 673.58h1.18v9.33h-1.18zM106.17 673.58h1.18v9.33h-1.18zM111.99 673.58h1.18v9.33h-1.18zM117.81 673.58h1.18v9.33h-1.18zM118.98 673.58h1.18v9.33h-1.18zM122.47 673.58h1.18v9.33h-1.18zM124.8 673.58h1.18v9.33h-1.18zM127.12 673.58h1.18v9.33h-1.18zM135.27 673.58h1.18v9.33h-1.18zM136.44 673.58h1.18v9.33h-1.18zM95.7 682.88h1.18v9.33h-1.18zM96.86 682.88h1.18v9.33h-1.18zM98.03 682.88h1.18v9.33h-1.18zM100.36 682.88h1.18v9.33h-1.18zM101.52 682.88h1.18v9.33h-1.18zM107.34 682.88h1.18v9.33h-1.18zM108.5 682.88h1.18v9.33h-1.18zM109.67 682.88h1.18v9.33h-1.18zM113.16 682.88h1.18v9.33h-1.18zM121.31 682.88h1.18v9.33h-1.18zM122.47 682.88h1.18v9.33h-1.18zM125.96 682.88h1.18v9.33h-1.18zM127.12 682.88h1.18v9.33h-1.18zM136.44 682.88h1.18v9.33h-1.18zM96.86 692.19h1.18v9.33h-1.18zM98.03 692.19h1.18v9.33h-1.18zM100.36 692.19h1.18v9.33h-1.18zM101.52 692.19h1.18v9.33h-1.18zM102.68 692.19h1.18v9.33h-1.18zM105.01 692.19h1.18v9.33h-1.18zM114.32 692.19h1.18v9.33h-1.18zM118.98 692.19h1.18v9.33h-1.18zM127.12 692.19h1.18v9.33h-1.18zM129.45 692.19h1.18v9.33h-1.18zM130.62 692.19h1.18v9.33h-1.18zM134.11 692.19h1.18v9.33h-1.18zM135.27 692.19h1.18v9.33h-1.18z"/>
<path fill="#6090cc" d="M138.71 329.2h1.13v9.33h-1.13zM139.82 329.2h1.13v9.33h-1.13zM144.25 329.2h1.13v9.33h-1.13zM154.24 329.2h1.13v9.33h-1.13zM157.56 329.2h1.13v9.33h-1.13zM148.69 338.51h1.13v9.33h-1.13zM150.91 338.51h1.13v9.33h-1.13zM154.24 338.51h1.13v9.33h-1.13zM159.78 338.51h1.13v9.33h-1.13zM148.69 347.81h1.13v9.33h-1.13zM156.45 347.81h1.13v9.33h-1.13zM157.56 347.81h1.13v9.33h-1.13zM160.89 347.81h1.13v9.33h-1.13zM144.25 357.12h1.13v9.33h-1.13zM146.47 357.12h1.13v9.33h-1.13zM148.69 357.12h1.13v9.33h-1.13zM154.24 357.12h1.13v9.33h-1.13zM142.04 366.43h1.13v9.33h-1.13zM150.91 366.43h1.13v9.33h-1.13zM158.67 375.74h1.13v9.33h-1.13zM139.82 385.05h1.13v9.33h-1.13zM140.93 385.05h1.13v9.33h-1.13zM149.8 385.05h1.13v9.33h-1.13zM160.89 385.05h1.13v9.33h-1.13zM144.25 394.35h1.13v9.33h-1.13zM149.8 394.35h1.13v9.33h-1.13zM156.45 394.35h1.13v9.33h-1.13zM142.04 403.66h1.13v9.33h-1.13zM146.47 403.66h1.13v9.33h-1.13zM153.13 403.66h1.13v9.33h-1.13zM154.24 403.66h1.13v9.33h-1.13zM137.6 412.97h1.13v9.33h-1.13zM138.71 412.97h1.13v9.33h-1.13zM154.24 412.97h1.13v9.33h-1.13zM156.45 412.97h1.13v9.33h-1.13zM152.02 422.27h1.13v9.33h-1.13zM158.67 422.27h1.13v9.33h-1.13zM159.78 422.27h1.13v9.33h-1.13zM140.93 431.58h1.13v9.33h-1.13zM146.47 431.58h1.13v9.33h-1.13zM160.89 431.58h1.13v9.33h-1.13zM140.93 440.89h1.13v9.33h-1.13zM154.24 440.89h1.13v9.33h-1.13zM160.89 440.89h1.13v9.33h-1.13zM116.65 450.2h1.18v9.33h-1.18zM142.04 450.2h1.13v9.33h-1.13zM139.82 459.5h1.13v9.33h-1.13zM156.45 459.5h1.13v9.33h-1.13zM160.89 459.5h1.13v9.33h-1.13zM137.6 468.81h1.13v9.33h-1.13zM139.82 468.81h1.13v9.33h-1.13zM145.36 468.81h1.13v9.33h-1.13zM156.45 468.81h1.13v9.33h-1.13zM157.56 468.81h1.13v9.33h-1.13zM159.78 468.81h1.13v9.33h-1.13zM140.93 478.12h1.13v9.33h-1.13zM143.15 478.12h1.13v9.33h-1.13zM150.91 487.43h1.13v9.33h-1.13zM155.35 496.74h1.13v9.33h-1.13zM156.45 496.74h1.13v9.33h-1.13zM101.52 515.35h1.18v9.33h-1.18zM103.85 515.35h1.18v9.33h-1.18zM108.5 515.35h1.18v9.33h-1.18zM114.32 515.35h1.18v9.33h-1.18zM115.49 515.35h1.18v9.33h-1.18zM121.31 515.35h1.18v9.33h-1.18zM136.44 515.35h1.18v9.33h-1.18zM95.7 524.66h1.18v9.33h-1.18zM106.17 524.66h1.18v9.33h-1.18zM108.5 524.66h1.18v9.33h-1.18zM109.67 524.66h1.18v9.33h-1.18zM115.49 524.66h1.18v9.33h-1.18zM116.65 524.66h1.18v9.33h-1.18zM121.31 524.66h1.18v9.33h-1.18zM125.96 524.66h1.18v9.33h-1.18zM95.7 533.97h1.18v9.33h-1.18zM100.36 533.97h1.18v9.33h-1.18zM101.52 533.97h1.18v9.33h-1.18zM111.99 533.97h1.18v9.33h-1.18zM114.32 533.97h1.18v9.33h-1.18zM115.49 533.97h1.18v9.33h-1.18zM120.14 533.97h1.18v9.33h-1.18zM129.45 533.97h1.18v9.33h-1.18zM132.94 533.97h1.18v9.33h-1.18zM135.27 533.97h1.18v9.33h-1.18zM101.52 543.27h1.18v9.33h-1.18zM110.83 543.27h1.18v9.33h-1.18zM115.49 543.27h1.18v9.33h-1.18zM98.03 552.58h1.18v9.33h-1.18zM100.36 552.58h1.18v9.33h-1.18zM101.52 552.58h1.18v9.33h-1.18zM106.17 552.58h1.18v9.33h-1.18zM114.32 552.58h1.18v9.33h-1.18zM127.12 552.58h1.18v9.33h-1.18zM100.36 561.89h1.18v9.33h-1.18zM101.52 561.89h1.18v9.33h-1.18zM108.5 561.89h1.18v9.33h-1.18zM111.99 561.89h1.18v9.33h-1.18zM124.8 561.89h1.18v9.33h-1.18zM127.12 561.89h1.18v9.33h-1.18zM128.29 561.89h1.18v9.33h-1.18zM132.94 561.89h1.18v9.33h-1.18zM96.86 571.2h1.18v9.33h-1.18zM108.5 571.2h1.18v9.33h-1.18zM110.83 571.2h1.18v9.33h-1.18zM111.99 571.2h1.18v9.33h-1.18zM125.96 571.2h1.18v9.33h-1.18zM131.78 571.2h1.18v9.33h-1.18zM136.44 571.2h1.18v9.33h-1.18zM95.7 580.5h1.18v9.33h-1.18zM98.03 580.5h1.18v9.33h-1.18zM106.17 580.5h1.18v9.33h-1.18zM113.16 580.5h1.18v9.33h-1.18zM116.65 580.5h1.18v9.33h-1.18zM117.81 580.5h1.18v9.33h-1.18zM131.78 580.5h1.18v9.33h-1.18zM135.27 580.5h1.18v9.33h-1.18zM100.36 589.81h1.18v9.33h-1.18zM101.52 589.81h1.18v9.33h-1.18zM108.5 589.81h1.18v9.33h-1.18zM127.12 589.81h1.18v9.33h-1.18zM130.62 589.81h1.18v9.33h-1.18zM95.7 599.12h1.18v9.33h-1.18zM101.52 599.12h1.18v9.33h-1.18zM106.17 599.12h1.18v9.33h-1.18zM109.67 599.12h1.18v9.33h-1.18zM110.83 599.12h1.18v9.33h-1.18zM117.81 599.12h1.18v9.33h-1.18zM125.96 599.12h1.18v9.33h-1.18zM127.12 599.12h1.18v9.33h-1.18zM134.11 599.12h1.18v9.33h-1.18zM98.03 608.42h1.18v9.33h-1.18zM102.68 608.42h1.18v9.33h-1.18zM109.67 608.42h1.18v9.33h-1.18zM110.83 608.42h1.18v9.33h-1.18zM128.29 608.42h1.18v9.33h-1.18zM135.27 608.42h1.18v9.33h-1.18zM95.7 617.73h1.18v9.33h-1.18zM100.36 617.73h1.18v9.33h-1.18zM101.52 617.73h1.18v9.33h-1.18zM102.68 617.73h1.18v9.33h-1.18zM107.34 617.73h1.18v9.33h-1.18zM108.5 617.73h1.18v9.33h-1.18zM113.16 617.73h1.18v9.33h-1.18zM120.14 617.73h1.18v9.33h-1.18zM121.31 617.73h1.18v9.33h-1.18zM99.19 627.04h1.18v9.33h-1.18zM101.52 627.04h1.18v9.33h-1.18zM113.16 627.04h1.18v9.33h-1.18zM116.65 627.04h1.18v9.33h-1.18zM121.31 627.04h1.18v9.33h-1.18zM129.45 627.04h1.18v9.33h-1.18zM131.78 627.04h1.18v9.33h-1.18zM132.94 627.04h1.18v9.33h-1.18zM95.7 636.35h1.18v9.33h-1.18zM127.12 636.35h1.18v9.33h-1.18zM130.62 636.35h1.18v9.33h-1.18zM98.03 645.65h1.18v9.33h-1.18zM101.52 645.65h1.18v9.33h-1.18zM105.01 645.65h1.18v9.33h-1.18zM108.5 645.65h1.18v9.33h-1.18zM129.45 645.65h1.18v9.33h-1.18zM134.11 645.65h1.18v9.33h-1.18zM98.03 654.96h1.18v9.33h-1.18zM105.01 654.96h1.18v9.33h-1.18zM109.67 654.96h1.18v9.33h-1.18zM123.63 654.96h1.18v9.33h-1.18zM95.7 664.27h1.18v9.33h-1.18zM98.03 664.27h1.18v9.33h-1.18zM103.85 664.27h1.18v9.33h-1.18zM110.83 664.27h1.18v9.33h-1.18zM124.8 664.27h1.18v9.33h-1.18zM129.45 664.27h1.18v9.33h-1.18zM120.14 673.58h1.18v9.33h-1.18zM128.29 673.58h1.18v9.33h-1.18zM99.19 682.88h1.18v9.33h-1.18zM105.01 682.88h1.18v9.33h-1.18zM110.83 682.88h1.18v9.33h-1.18zM129.45 682.88h1.18v9.33h-1.18zM134.11 682.88h1.18v9.33h-1.18zM135.27 682.88h1.18v9.33h-1.18zM107.34 692.19h1.18v9.33h-1.18zM108.5 692.19h1.18v9.33h-1.18zM110.83 692.19h1.18v9.33h-1.18zM117.81 692.19h1.18v9.33h-1.18zM122.47 692.19h1.18v9.33h-1.18zM124.8 692.19h1.18v9.33h-1.18zM136.44 692.19h1.18v9.33h-1.18z"/>
<path fill="#486cb4" d="M140.93 329.2h1.13v9.33h-1.13zM143.15 366.43h1.13v9.33h-1.13zM137.6 394.35h1.13v9.33h-1.13zM107.34 589.81h1.18v9.33h-1.18z"/>
<path fill="#6c90cc" d="M143.15 329.2h1.13v9.33h-1.13zM147.58 329.2h1.13v9.33h-1.13zM150.91 329.2h1.13v9.33h-1.13zM140.93 338.51h1.13v9.33h-1.13zM145.36 338.51h1.13v9.33h-1.13zM155.35 347.81h1.13v9.33h-1.13zM145.36 357.12h1.13v9.33h-1.13zM154.24 385.05h1.13v9.33h-1.13zM157.56 385.05h1.13v9.33h-1.13zM138.71 394.35h1.13v9.33h-1.13zM139.82 403.66h1.13v9.33h-1.13zM152.02 403.66h1.13v9.33h-1.13zM159.78 403.66h1.13v9.33h-1.13zM107.34 440.89h1.18v9.33h-1.18zM145.36 440.89h1.13v9.33h-1.13zM147.58 440.89h1.13v9.33h-1.13zM95.7 478.12h1.18v9.33h-1.18zM140.93 487.43h1.13v9.33h-1.13zM146.47 487.43h1.13v9.33h-1.13zM159.78 487.43h1.13v9.33h-1.13zM137.6 496.74h1.13v9.33h-1.13zM139.82 496.74h1.13v9.33h-1.13zM140.93 496.74h1.13v9.33h-1.13zM157.56 496.74h1.13v9.33h-1.13zM160.89 496.74h1.13v9.33h-1.13zM96.86 515.35h1.18v9.33h-1.18zM122.47 515.35h1.18v9.33h-1.18zM130.62 515.35h1.18v9.33h-1.18zM117.81 524.66h1.18v9.33h-1.18zM123.63 524.66h1.18v9.33h-1.18zM129.45 524.66h1.18v9.33h-1.18zM107.34 533.97h1.18v9.33h-1.18zM109.67 533.97h1.18v9.33h-1.18zM103.85 543.27h1.18v9.33h-1.18zM131.78 543.27h1.18v9.33h-1.18zM99.19 552.58h1.18v9.33h-1.18zM110.83 552.58h1.18v9.33h-1.18zM123.63 552.58h1.18v9.33h-1.18zM98.03 571.2h1.18v9.33h-1.18zM100.36 571.2h1.18v9.33h-1.18zM120.14 571.2h1.18v9.33h-1.18zM121.31 571.2h1.18v9.33h-1.18zM103.85 580.5h1.18v9.33h-1.18zM111.99 580.5h1.18v9.33h-1.18zM114.32 580.5h1.18v9.33h-1.18zM123.63 580.5h1.18v9.33h-1.18zM116.65 589.81h1.18v9.33h-1.18zM134.11 589.81h1.18v9.33h-1.18zM100.36 599.12h1.18v9.33h-1.18zM103.85 599.12h1.18v9.33h-1.18zM111.99 599.12h1.18v9.33h-1.18zM115.49 599.12h1.18v9.33h-1.18zM124.8 599.12h1.18v9.33h-1.18zM95.7 608.42h1.18v9.33h-1.18zM127.12 608.42h1.18v9.33h-1.18zM132.94 608.42h1.18v9.33h-1.18zM134.11 608.42h1.18v9.33h-1.18zM136.44 608.42h1.18v9.33h-1.18zM98.03 617.73h1.18v9.33h-1.18zM114.32 617.73h1.18v9.33h-1.18zM127.12 617.73h1.18v9.33h-1.18zM129.45 617.73h1.18v9.33h-1.18zM118.98 627.04h1.18v9.33h-1.18zM127.12 627.04h1.18v9.33h-1.18zM130.62 627.04h1.18v9.33h-1.18zM105.01 636.35h1.18v9.33h-1.18zM107.34 636.35h1.18v9.33h-1.18zM110.83 636.35h1.18v9.33h-1.18zM116.65 636.35h1.18v9.33h-1.18zM100.36 645.65h1.18v9.33h-1.18zM116.65 645.65h1.18v9.33h-1.18zM125.96 645.65h1.18v9.33h-1.18zM127.12 645.65h1.18v9.33h-1.18zM128.29 645.65h1.18v9.33h-1.18zM131.78 645.65h1.18v9.33h-1.18zM132.94 645.65h1.18v9.33h-1.18zM136.44 645.65h1.18v9.33h-1.18zM99.19 654.96h1.18v9.33h-1.18zM108.5 654.96h1.18v9.33h-1.18zM121.31 654.96h1.18v9.33h-1.18zM122.47 654.96h1.18v9.33h-1.18zM100.36 664.27h1.18v9.33h-1.18zM107.34 664.27h1.18v9.33h-1.18zM121.31 664.27h1.18v9.33h-1.18zM127.12 664.27h1.18v9.33h-1.18zM96.86 673.58h1.18v9.33h-1.18zM110.83 673.58h1.18v9.33h-1.18zM121.31 673.58h1.18v9.33h-1.18zM132.94 673.58h1.18v9.33h-1.18zM103.85 682.88h1.18v9.33h-1.18zM117.81 682.88h1.18v9.33h-1.18zM131.78 692.19h1.18v9.33h-1.18z"/>
<path fill="#3c6cb4" d="M145.36 329.2h1.13v9.33h-1.13zM148.69 329.2h1.13v9.33h-1.13zM144.25 347.81h1.13v9.33h-1.13zM147.58 347.81h1.13v9.33h-1.13zM150.91 347.81h1.13v9.33h-1.13zM150.91 357.12h1.13v9.33h-1.13zM140.93 375.74h1.13v9.33h-1.13zM146.47 375.74h1.13v9.33h-1.13zM147.58 394.35h1.13v9.33h-1.13zM140.93 412.97h1.13v9.33h-1.13zM145.36 422.27h1.13v9.33h-1.13zM146.47 422.27h1.13v9.33h-1.13zM156.45 422.27h1.13v9.33h-1.13zM143.15 431.58h1.13v9.33h-1.13zM154.24 431.58h1.13v9.33h-1.13zM155.35 431.58h1.13v9.33h-1.13zM158.67 431.58h1.13v9.33h-1.13zM149.8 440.89h1.13v9.33h-1.13zM149.8 450.2h1.13v9.33h-1.13zM149.8 468.81h1.13v9.33h-1.13zM137.6 487.43h1.13v9.33h-1.13zM145.36 506.04h1.13v9.33h-1.13zM157.56 506.04h1.13v9.33h-1.13zM160.89 506.04h1.13v9.33h-1.13zM110.83 533.97h1.18v9.33h-1.18zM118.98 617.73h1.18v9.33h-1.18zM123.63 627.04h1.18v9.33h-1.18zM120.14 664.27h1.18v9.33h-1.18z"/>
<path fill="#4878c0" d="M146.47 329.2h1.13v9.33h-1.13zM160.89 329.2h1.13v9.33h-1.13zM144.25 338.51h1.13v9.33h-1.13zM155.35 338.51h1.13v9.33h-1.13zM156.45 338.51h1.13v9.33h-1.13zM137.6 347.81h1.13v9.33h-1.13zM138.71 347.81h1.13v9.33h-1.13zM142.04 347.81h1.13v9.33h-1.13zM146.47 347.81h1.13v9.33h-1.13zM152.02 347.81h1.13v9.33h-1.13zM143.15 357.12h1.13v9.33h-1.13zM149.8 357.12h1.13v9.33h-1.13zM153.13 357.12h1.13v9.33h-1.13zM155.35 357.12h1.13v9.33h-1.13zM157.56 357.12h1.13v9.33h-1.13zM137.6 366.43h1.13v9.33h-1.13zM138.71 366.43h1.13v9.33h-1.13zM144.25 366.43h1.13v9.33h-1.13zM149.8 366.43h1.13v9.33h-1.13zM154.24 366.43h1.13v9.33h-1.13zM157.56 366.43h1.13v9.33h-1.13zM138.71 375.74h1.13v9.33h-1.13zM144.25 375.74h1.13v9.33h-1.13zM153.13 375.74h1.13v9.33h-1.13zM160.89 375.74h1.13v9.33h-1.13zM138.71 385.05h1.13v9.33h-1.13zM142.04 385.05h1.13v9.33h-1.13zM143.15 385.05h1.13v9.33h-1.13zM148.69 385.05h1.13v9.33h-1.13zM158.67 385.05h1.13v9.33h-1.13zM160.89 394.35h1.13v9.33h-1.13zM143.15 403.66h1.13v9.33h-1.13zM148.69 403.66h1.13v9.33h-1.13zM149.8 403.66h1.13v9.33h-1.13zM158.67 403.66h1.13v9.33h-1.13zM148.69 412.97h1.13v9.33h-1.13zM149.8 412.97h1.13v9.33h-1.13zM150.91 412.97h1.13v9.33h-1.13zM152.02 412.97h1.13v9.33h-1.13zM153.13 412.97h1.13v9.33h-1.13zM157.56 412.97h1.13v9.33h-1.13zM138.71 422.27h1.13v9.33h-1.13zM144.25 422.27h1.13v9.33h-1.13zM147.58 422.27h1.13v9.33h-1.13zM148.69 422.27h1.13v9.33h-1.13zM154.24 422.27h1.13v9.33h-1.13zM155.35 422.27h1.13v9.33h-1.13zM145.36 431.58h1.13v9.33h-1.13zM147.58 431.58h1.13v9.33h-1.13zM150.91 431.58h1.13v9.33h-1.13zM152.02 431.58h1.13v9.33h-1.13zM157.56 431.58h1.13v9.33h-1.13zM143.15 440.89h1.13v9.33h-1.13zM148.69 440.89h1.13v9.33h-1.13zM150.91 440.89h1.13v9.33h-1.13zM152.02 440.89h1.13v9.33h-1.13zM153.13 440.89h1.13v9.33h-1.13zM140.93 450.2h1.13v9.33h-1.13zM146.47 459.5h1.13v9.33h-1.13zM155.35 459.5h1.13v9.33h-1.13zM138.71 468.81h1.13v9.33h-1.13zM154.24 468.81h1.13v9.33h-1.13zM148.69 478.12h1.13v9.33h-1.13zM149.8 478.12h1.13v9.33h-1.13zM148.69 487.43h1.13v9.33h-1.13zM137.6 506.04h1.13v9.33h-1.13zM95.7 515.35h1.18v9.33h-1.18zM107.34 515.35h1.18v9.33h-1.18zM96.86 524.66h1.18v9.33h-1.18zM100.36 524.66h1.18v9.33h-1.18zM110.83 524.66h1.18v9.33h-1.18zM111.99 524.66h1.18v9.33h-1.18zM124.8 524.66h1.18v9.33h-1.18zM128.29 524.66h1.18v9.33h-1.18zM132.94 524.66h1.18v9.33h-1.18zM98.03 533.97h1.18v9.33h-1.18zM116.65 533.97h1.18v9.33h-1.18zM123.63 533.97h1.18v9.33h-1.18zM128.29 533.97h1.18v9.33h-1.18zM136.44 533.97h1.18v9.33h-1.18zM113.16 543.27h1.18v9.33h-1.18zM114.32 543.27h1.18v9.33h-1.18zM125.96 543.27h1.18v9.33h-1.18zM127.12 543.27h1.18v9.33h-1.18zM105.01 552.58h1.18v9.33h-1.18zM111.99 552.58h1.18v9.33h-1.18zM132.94 552.58h1.18v9.33h-1.18zM99.19 561.89h1.18v9.33h-1.18zM107.34 561.89h1.18v9.33h-1.18zM120.14 561.89h1.18v9.33h-1.18zM134.11 561.89h1.18v9.33h-1.18zM103.85 571.2h1.18v9.33h-1.18zM109.67 571.2h1.18v9.33h-1.18zM117.81 571.2h1.18v9.33h-1.18zM134.11 571.2h1.18v9.33h-1.18zM125.96 580.5h1.18v9.33h-1.18zM127.12 580.5h1.18v9.33h-1.18zM96.86 589.81h1.18v9.33h-1.18zM98.03 589.81h1.18v9.33h-1.18zM117.81 589.81h1.18v9.33h-1.18zM120.14 589.81h1.18v9.33h-1.18zM123.63 589.81h1.18v9.33h-1.18zM129.45 589.81h1.18v9.33h-1.18zM105.01 599.12h1.18v9.33h-1.18zM121.31 599.12h1.18v9.33h-1.18zM132.94 599.12h1.18v9.33h-1.18zM135.27 599.12h1.18v9.33h-1.18zM101.52 608.42h1.18v9.33h-1.18zM108.5 608.42h1.18v9.33h-1.18zM118.98 608.42h1.18v9.33h-1.18zM129.45 608.42h1.18v9.33h-1.18zM109.67 617.73h1.18v9.33h-1.18zM135.27 617.73h1.18v9.33h-1.18zM105.01 627.04h1.18v9.33h-1.18zM115.49 627.04h1.18v9.33h-1.18zM124.8 627.04h1.18v9.33h-1.18zM125.96 627.04h1.18v9.33h-1.18zM128.29 627.04h1.18v9.33h-1.18zM121.31 636.35h1.18v9.33h-1.18zM122.47 636.35h1.18v9.33h-1.18zM132.94 636.35h1.18v9.33h-1.18zM135.27 636.35h1.18v9.33h-1.18zM122.47 645.65h1.18v9.33h-1.18zM130.62 645.65h1.18v9.33h-1.18zM135.27 645.65h1.18v9.33h-1.18zM102.68 654.96h1.18v9.33h-1.18zM107.34 654.96h1.18v9.33h-1.18zM128.29 654.96h1.18v9.33h-1.18zM131.78 654.96h1.18v9.33h-1.18zM101.52 664.27h1.18v9.33h-1.18zM109.67 664.27h1.18v9.33h-1.18zM115.49 664.27h1.18v9.33h-1.18zM116.65 664.27h1.18v9.33h-1.18zM118.98 664.27h1.18v9.33h-1.18zM122.47 664.27h1.18v9.33h-1.18zM135.27 664.27h1.18v9.33h-1.18zM136.44 664.27h1.18v9.33h-1.18zM102.68 673.58h1.18v9.33h-1.18zM114.32 673.58h1.18v9.33h-1.18zM116.65 673.58h1.18v9.33h-1.18zM123.63 673.58h1.18v9.33h-1.18zM130.62 673.58h1.18v9.33h-1.18zM134.11 673.58h1.18v9.33h-1.18zM114.32 682.88h1.18v9.33h-1.18zM115.49 682.88h1.18v9.33h-1.18zM120.14 682.88h1.18v9.33h-1.18zM128.29 682.88h1.18v9.33h-1.18zM95.7 692.19h1.18v9.33h-1.18zM99.19 692.19h1.18v9.33h-1.18zM103.85 692.19h1.18v9.33h-1.18zM106.17 692.19h1.18v9.33h-1.18zM115.49 692.19h1.18v9.33h-1.18zM120.14 692.19h1.18v9.33h-1.18zM123.63 692.19h1.18v9.33h-1.18z"/>
<path fill="#4878b4" d="M152.02 329.2h1.13v9.33h-1.13zM152.02 338.51h1.13v9.33h-1.13zM153.13 338.51h1.13v9.33h-1.13zM157.56 338.51h1.13v9.33h-1.13zM139.82 347.81h1.13v9.33h-1.13zM160.89 357.12h1.13v9.33h-1.13zM159.78 366.43h1.13v9.33h-1.13zM145.36 375.74h1.13v9.33h-1.13zM155.35 375.74h1.13v9.33h-1.13zM146.47 385.05h1.13v9.33h-1.13zM155.35 412.97h1.13v9.33h-1.13zM153.13 431.58h1.13v9.33h-1.13zM159.78 431.58h1.13v9.33h-1.13zM149.8 459.5h1.13v9.33h-1.13zM152.02 459.5h1.13v9.33h-1.13zM157.56 459.5h1.13v9.33h-1.13zM144.25 478.12h1.13v9.33h-1.13zM158.67 478.12h1.13v9.33h-1.13zM149.8 487.43h1.13v9.33h-1.13zM150.91 506.04h1.13v9.33h-1.13zM111.99 543.27h1.18v9.33h-1.18zM128.29 543.27h1.18v9.33h-1.18zM113.16 608.42h1.18v9.33h-1.18zM130.62 617.73h1.18v9.33h-1.18zM110.83 645.65h1.18v9.33h-1.18zM95.7 654.96h1.18v9.33h-1.18zM113.16 654.96h1.18v9.33h-1.18zM125.96 664.27h1.18v9.33h-1.18z"/>
<path fill="#789cd8" d="M153.13 329.2h1.13v9.33h-1.13zM158.67 357.12h1.13v9.33h-1.13zM154.24 394.35h1.13v9.33h-1.13zM146.47 440.89h1.13v9.33h-1.13zM139.82 450.2h1.13v9.33h-1.13zM158.67 450.2h1.13v9.33h-1.13zM128.29 468.81h1.18v9.33h-1.18zM148.69 468.81h1.13v9.33h-1.13zM139.82 487.43h1.13v9.33h-1.13zM145.36 496.74h1.13v9.33h-1.13zM99.19 515.35h1.18v9.33h-1.18zM123.63 515.35h1.18v9.33h-1.18zM137.6 524.66h1.13v9.33h-1.13zM144.25 533.97h1.13v9.33h-1.13zM103.85 617.73h1.18v9.33h-1.18zM111.99 654.96h1.18v9.33h-1.18zM116.65 654.96h1.18v9.33h-1.18zM118.98 654.96h1.18v9.33h-1.18zM113.16 673.58h1.18v9.33h-1.18z"/>
<path fill="#6084cc" d="M156.45 329.2h1.13v9.33h-1.13zM143.15 347.81h1.13v9.33h-1.13zM145.36 347.81h1.13v9.33h-1.13zM153.13 347.81h1.13v9.33h-1.13zM158.67 347.81h1.13v9.33h-1.13zM152.02 366.43h1.13v9.33h-1.13zM157.56 375.74h1.13v9.33h-1.13zM144.25 385.05h1.13v9.33h-1.13zM142.04 394.35h1.13v9.33h-1.13zM143.15 412.97h1.13v9.33h-1.13zM158.67 412.97h1.13v9.33h-1.13zM114.32 422.27h1.18v9.33h-1.18zM143.15 422.27h1.13v9.33h-1.13zM156.45 431.58h1.13v9.33h-1.13zM155.35 440.89h1.13v9.33h-1.13zM143.15 450.2h1.13v9.33h-1.13zM142.04 468.81h1.13v9.33h-1.13zM150.91 468.81h1.13v9.33h-1.13zM143.15 487.43h1.13v9.33h-1.13zM153.13 487.43h1.13v9.33h-1.13zM143.15 506.04h1.13v9.33h-1.13zM105.01 515.35h1.18v9.33h-1.18zM118.98 515.35h1.18v9.33h-1.18zM101.52 524.66h1.18v9.33h-1.18zM114.32 524.66h1.18v9.33h-1.18zM130.62 524.66h1.18v9.33h-1.18zM118.98 533.97h1.18v9.33h-1.18zM100.36 543.27h1.18v9.33h-1.18zM108.5 543.27h1.18v9.33h-1.18zM117.81 543.27h1.18v9.33h-1.18zM123.63 543.27h1.18v9.33h-1.18zM102.68 552.58h1.18v9.33h-1.18zM130.62 552.58h1.18v9.33h-1.18zM103.85 561.89h1.18v9.33h-1.18zM121.31 561.89h1.18v9.33h-1.18zM123.63 561.89h1.18v9.33h-1.18zM127.12 571.2h1.18v9.33h-1.18zM129.45 571.2h1.18v9.33h-1.18zM96.86 580.5h1.18v9.33h-1.18zM120.14 580.5h1.18v9.33h-1.18zM134.11 580.5h1.18v9.33h-1.18zM109.67 589.81h1.18v9.33h-1.18zM113.16 589.81h1.18v9.33h-1.18zM118.98 589.81h1.18v9.33h-1.18zM125.96 608.42h1.18v9.33h-1.18zM110.83 617.73h1.18v9.33h-1.18zM132.94 617.73h1.18v9.33h-1.18zM106.17 627.04h1.18v9.33h-1.18zM110.83 627.04h1.18v9.33h-1.18zM122.47 627.04h1.18v9.33h-1.18zM106.17 636.35h1.18v9.33h-1.18zM108.5 636.35h1.18v9.33h-1.18zM118.98 636.35h1.18v9.33h-1.18zM124.8 636.35h1.18v9.33h-1.18zM125.96 636.35h1.18v9.33h-1.18zM107.34 645.65h1.18v9.33h-1.18zM121.31 645.65h1.18v9.33h-1.18zM124.8 654.96h1.18v9.33h-1.18zM132.94 654.96h1.18v9.33h-1.18zM106.17 664.27h1.18v9.33h-1.18zM108.5 664.27h1.18v9.33h-1.18zM131.78 664.27h1.18v9.33h-1.18zM109.67 673.58h1.18v9.33h-1.18zM115.49 673.58h1.18v9.33h-1.18zM125.96 673.58h1.18v9.33h-1.18zM131.78 673.58h1.18v9.33h-1.18zM102.68 682.88h1.18v9.33h-1.18zM106.17 682.88h1.18v9.33h-1.18zM111.99 682.88h1.18v9.33h-1.18zM116.65 682.88h1.18v9.33h-1.18zM118.98 682.88h1.18v9.33h-1.18zM124.8 682.88h1.18v9.33h-1.18zM130.62 682.88h1.18v9.33h-1.18zM111.99 692.19h1.18v9.33h-1.18zM113.16 692.19h1.18v9.33h-1.18zM128.29 692.19h1.18v9.33h-1.18z"/>
<path fill="#6c9ccc" d="M159.78 329.2h1.13v9.33h-1.13zM147.58 375.74h1.13v9.33h-1.13zM144.25 440.89h1.13v9.33h-1.13zM144.25 468.81h1.13v9.33h-1.13zM154.24 478.12h1.13v9.33h-1.13zM144.25 496.74h1.13v9.33h-1.13zM147.58 496.74h1.13v9.33h-1.13zM142.04 506.04h1.13v9.33h-1.13zM102.68 515.35h1.18v9.33h-1.18zM135.27 524.66h1.18v9.33h-1.18zM131.78 533.97h1.18v9.33h-1.18zM95.7 561.89h1.18v9.33h-1.18zM98.03 561.89h1.18v9.33h-1.18zM102.68 561.89h1.18v9.33h-1.18zM117.81 561.89h1.18v9.33h-1.18zM107.34 571.2h1.18v9.33h-1.18zM99.19 580.5h1.18v9.33h-1.18zM122.47 589.81h1.18v9.33h-1.18zM114.32 599.12h1.18v9.33h-1.18zM103.85 608.42h1.18v9.33h-1.18zM106.17 608.42h1.18v9.33h-1.18zM122.47 608.42h1.18v9.33h-1.18zM99.19 636.35h1.18v9.33h-1.18zM116.65 692.19h1.18v9.33h-1.18zM121.31 692.19h1.18v9.33h-1.18z"/>
<path fill="#d8d8f0" d="M105.01 338.51h1.18v9.33h-1.18zM114.32 366.43h1.18v9.33h-1.18zM127.12 366.43h1.18v9.33h-1.18zM130.62 366.43h1.18v9.33h-1.18zM132.94 403.66h1.18v9.33h-1.18zM118.98 468.81h1.18v9.33h-1.18zM116.65 478.12h1.18v9.33h-1.18zM105.01 487.43h1.18v9.33h-1.18zM159.78 524.66h1.13v9.33h-1.13z"/>
<path fill="#f08484" d="M125.96 338.51h1.18v9.33h-1.18zM132.94 338.51h1.18v9.33h-1.18zM103.85 347.81h1.18v9.33h-1.18zM106.17 347.81h1.18v9.33h-1.18zM113.16 357.12h1.18v9.33h-1.18zM120.14 357.12h1.18v9.33h-1.18zM136.44 366.43h1.18v9.33h-1.18zM115.49 375.74h1.18v9.33h-1.18zM110.83 394.35h1.18v9.33h-1.18zM125.96 403.66h1.18v9.33h-1.18zM116.65 422.27h1.18v9.33h-1.18zM132.94 440.89h1.18v9.33h-1.18zM131.78 459.5h1.18v9.33h-1.18zM95.7 496.74h1.18v9.33h-1.18zM107.34 506.04h1.18v9.33h-1.18zM142.04 589.81h1.13v9.33h-1.13zM156.45 608.42h1.13v9.33h-1.13zM149.8 617.73h1.13v9.33h-1.13zM144.25 664.27h1.13v9.33h-1.13zM143.15 682.88h1.13v9.33h-1.13zM152.02 682.88h1.13v9.33h-1.13zM154.24 682.88h1.13v9.33h-1.13zM158.67 682.88h1.13v9.33h-1.13zM149.8 692.19h1.13v9.33h-1.13zM158.67 692.19h1.13v9.33h-1.13z"/>
<path fill="#9cc0d8" d="M100.36 347.81h1.18v9.33h-1.18zM107.34 375.74h1.18v9.33h-1.18zM113.16 450.2h1.18v9.33h-1.18zM152.02 450.2h1.13v9.33h-1.13z"/>
<path fill="#d8e4f0" d="M130.62 347.81h1.18v9.33h-1.18zM135.27 347.81h1.18v9.33h-1.18zM125.96 357.12h1.18v9.33h-1.18zM111.99 366.43h1.18v9.33h-1.18zM125.96 385.05h1.18v9.33h-1.18zM103.85 431.58h1.18v9.33h-1.18zM116.65 459.5h1.18v9.33h-1.18zM101.52 468.81h1.18v9.33h-1.18zM102.68 468.81h1.18v9.33h-1.18zM114.32 468.81h1.18v9.33h-1.18zM113.16 487.43h1.18v9.33h-1.18zM118.98 487.43h1.18v9.33h-1.18zM120.14 487.43h1.18v9.33h-1.18zM124.8 487.43h1.18v9.33h-1.18zM111.99 506.04h1.18v9.33h-1.18zM157.56 515.35h1.13v9.33h-1.13zM159.78 515.35h1.13v9.33h-1.13zM139.82 524.66h1.13v9.33h-1.13zM149.8 524.66h1.13v9.33h-1.13zM153.13 524.66h1.13v9.33h-1.13zM146.47 533.97h1.13v9.33h-1.13zM148.69 543.27h1.13v9.33h-1.13zM156.45 571.2h1.13v9.33h-1.13zM149.8 627.04h1.13v9.33h-1.13z"/>
<path fill="#5478c0" d="M154.24 347.81h1.13v9.33h-1.13zM148.69 375.74h1.13v9.33h-1.13zM137.6 385.05h1.13v9.33h-1.13zM148.69 394.35h1.13v9.33h-1.13zM147.58 412.97h1.13v9.33h-1.13zM137.6 422.27h1.13v9.33h-1.13zM155.35 478.12h1.13v9.33h-1.13zM103.85 524.66h1.18v9.33h-1.18zM105.01 524.66h1.18v9.33h-1.18zM136.44 524.66h1.18v9.33h-1.18zM108.5 533.97h1.18v9.33h-1.18zM121.31 533.97h1.18v9.33h-1.18zM122.47 533.97h1.18v9.33h-1.18zM96.86 543.27h1.18v9.33h-1.18zM99.19 543.27h1.18v9.33h-1.18zM107.34 543.27h1.18v9.33h-1.18zM120.14 543.27h1.18v9.33h-1.18zM121.31 543.27h1.18v9.33h-1.18zM109.67 552.58h1.18v9.33h-1.18zM96.86 561.89h1.18v9.33h-1.18zM128.29 589.81h1.18v9.33h-1.18zM135.27 589.81h1.18v9.33h-1.18zM99.19 599.12h1.18v9.33h-1.18zM102.68 599.12h1.18v9.33h-1.18zM107.34 599.12h1.18v9.33h-1.18zM96.86 608.42h1.18v9.33h-1.18zM99.19 608.42h1.18v9.33h-1.18zM105.01 608.42h1.18v9.33h-1.18zM96.86 617.73h1.18v9.33h-1.18zM99.19 617.73h1.18v9.33h-1.18zM95.7 627.04h1.18v9.33h-1.18zM101.52 636.35h1.18v9.33h-1.18zM131.78 636.35h1.18v9.33h-1.18zM123.63 645.65h1.18v9.33h-1.18zM100.36 654.96h1.18v9.33h-1.18zM103.85 654.96h1.18v9.33h-1.18zM99.19 673.58h1.18v9.33h-1.18zM101.52 673.58h1.18v9.33h-1.18zM107.34 673.58h1.18v9.33h-1.18zM108.5 673.58h1.18v9.33h-1.18zM123.63 682.88h1.18v9.33h-1.18zM131.78 682.88h1.18v9.33h-1.18zM132.94 682.88h1.18v9.33h-1.18z"/>
<path fill="#d84848" d="M101.52 357.12h1.18v9.33h-1.18zM106.17 366.43h1.18v9.33h-1.18zM107.34 394.35h1.18v9.33h-1.18zM98.03 403.66h1.18v9.33h-1.18zM144.25 654.96h1.13v9.33h-1.13z"/>
<path fill="#e46060" d="M102.68 357.12h1.18v9.33h-1.18zM123.63 366.43h1.18v9.33h-1.18zM121.31 385.05h1.18v9.33h-1.18zM129.45 403.66h1.18v9.33h-1.18zM98.03 440.89h1.18v9.33h-1.18zM117.81 450.2h1.18v9.33h-1.18zM103.85 506.04h1.18v9.33h-1.18zM110.83 506.04h1.18v9.33h-1.18zM160.89 617.73h1.13v9.33h-1.13zM137.6 682.88h1.13v9.33h-1.13zM148.69 682.88h1.13v9.33h-1.13zM150.91 682.88h1.13v9.33h-1.13zM138.71 692.19h1.13v9.33h-1.13zM139.82 692.19h1.13v9.33h-1.13zM144.25 692.19h1.13v9.33h-1.13z"/>
<path fill="#d83c3c" d="M111.99 357.12h1.18v9.33h-1.18z"/>
<path fill="#e45454" d="M123.63 357.12h1.18v9.33h-1.18zM105.01 385.05h1.18v9.33h-1.18zM154.24 664.27h1.13v9.33h-1.13z"/>
<path fill="#3060a8" d="M156.45 357.12h1.13v9.33h-1.13zM156.45 366.43h1.13v9.33h-1.13z"/>
<path fill="#c0cce4" d="M96.86 375.74h1.18v9.33h-1.18zM109.67 403.66h1.18v9.33h-1.18zM101.52 422.27h1.18v9.33h-1.18zM131.78 431.58h1.18v9.33h-1.18zM108.5 450.2h1.18v9.33h-1.18zM111.99 459.5h1.18v9.33h-1.18zM136.44 459.5h1.18v9.33h-1.18zM99.19 487.43h1.18v9.33h-1.18zM96.86 496.74h1.18v9.33h-1.18zM98.03 496.74h1.18v9.33h-1.18zM143.15 515.35h1.13v9.33h-1.13zM155.35 524.66h1.13v9.33h-1.13z"/>
<path fill="#e48484" d="M116.65 375.74h1.18v9.33h-1.18zM100.36 385.05h1.18v9.33h-1.18zM124.8 422.27h1.18v9.33h-1.18zM105.01 440.89h1.18v9.33h-1.18zM127.12 440.89h1.18v9.33h-1.18zM125.96 496.74h1.18v9.33h-1.18zM156.45 654.96h1.13v9.33h-1.13zM138.71 673.58h1.13v9.33h-1.13zM160.89 682.88h1.13v9.33h-1.13z"/>
<path fill="#84a8d8" d="M142.04 375.74h1.13v9.33h-1.13zM145.36 403.66h1.13v9.33h-1.13zM98.03 412.97h1.18v9.33h-1.18zM111.99 431.58h1.18v9.33h-1.18zM118.98 450.2h1.18v9.33h-1.18zM138.71 450.2h1.13v9.33h-1.13zM145.36 450.2h1.13v9.33h-1.13zM150.91 450.2h1.13v9.33h-1.13zM140.93 459.5h1.13v9.33h-1.13zM150.91 459.5h1.13v9.33h-1.13zM153.13 459.5h1.13v9.33h-1.13zM100.36 478.12h1.18v9.33h-1.18zM156.45 478.12h1.13v9.33h-1.13zM160.89 478.12h1.13v9.33h-1.13zM138.71 487.43h1.13v9.33h-1.13zM149.8 496.74h1.13v9.33h-1.13zM152.02 496.74h1.13v9.33h-1.13zM154.24 496.74h1.13v9.33h-1.13zM147.58 506.04h1.13v9.33h-1.13zM148.69 506.04h1.13v9.33h-1.13zM116.65 515.35h1.18v9.33h-1.18zM120.14 515.35h1.18v9.33h-1.18zM129.45 515.35h1.18v9.33h-1.18zM134.11 515.35h1.18v9.33h-1.18zM124.8 533.97h1.18v9.33h-1.18zM115.49 552.58h1.18v9.33h-1.18zM99.19 664.27h1.18v9.33h-1.18z"/>
<path fill="#e4f0f0" d="M130.62 385.05h1.18v9.33h-1.18zM129.45 422.27h1.18v9.33h-1.18zM121.31 431.58h1.18v9.33h-1.18zM122.47 431.58h1.18v9.33h-1.18zM127.12 431.58h1.18v9.33h-1.18zM113.16 440.89h1.18v9.33h-1.18zM101.52 450.2h1.18v9.33h-1.18zM131.78 478.12h1.18v9.33h-1.18zM155.35 487.43h1.13v9.33h-1.13zM116.65 496.74h1.18v9.33h-1.18zM127.12 496.74h1.18v9.33h-1.18zM144.25 515.35h1.13v9.33h-1.13zM146.47 515.35h1.13v9.33h-1.13zM138.71 524.66h1.13v9.33h-1.13zM144.25 524.66h1.13v9.33h-1.13zM145.36 533.97h1.13v9.33h-1.13zM148.69 571.2h1.13v9.33h-1.13zM140.93 580.5h1.13v9.33h-1.13z"/>
<path fill="#78a8d8" d="M157.56 394.35h1.13v9.33h-1.13zM115.49 478.12h1.18v9.33h-1.18z"/>
<path fill="#a8c0d8" d="M95.7 431.58h1.18v9.33h-1.18z"/>
<path fill="#90b4d8" d="M114.32 440.89h1.18v9.33h-1.18zM138.71 440.89h1.13v9.33h-1.13zM159.78 450.2h1.13v9.33h-1.13zM144.25 459.5h1.13v9.33h-1.13zM158.67 468.81h1.13v9.33h-1.13zM160.89 468.81h1.13v9.33h-1.13zM145.36 478.12h1.13v9.33h-1.13zM147.58 478.12h1.13v9.33h-1.13zM160.89 487.43h1.13v9.33h-1.13zM109.67 496.74h1.18v9.33h-1.18zM153.13 496.74h1.13v9.33h-1.13zM140.93 506.04h1.13v9.33h-1.13zM156.45 506.04h1.13v9.33h-1.13z"/>
<path fill="#3060b4" d="M155.35 450.2h1.13v9.33h-1.13z"/>
<path fill="#b4c0e4" d="M125.96 459.5h1.18v9.33h-1.18zM138.71 459.5h1.13v9.33h-1.13zM103.85 468.81h1.18v9.33h-1.18zM145.36 487.43h1.13v9.33h-1.13zM154.24 515.35h1.13v9.33h-1.13z"/>
<path fill="#d85454" d="M125.96 487.43h1.18v9.33h-1.18zM146.47 692.19h1.13v9.33h-1.13z"/>
<line x1="93.6" y1="333.85" x2="95.4" y2="333.85" stroke="#333" stroke-width="0.55"/>
<text x="91.3" y="335.85" font-size="7.4" text-anchor="end">N-acetyltransferase</text>
<line x1="93.6" y1="343.16" x2="95.4" y2="343.16" stroke="#333" stroke-width="0.55"/>
<text x="91.3" y="345.16" font-size="7.4" text-anchor="end">NURF &amp; PcG</text>
<line x1="93.6" y1="352.47" x2="95.4" y2="352.47" stroke="#333" stroke-width="0.55"/>
<text x="91.3" y="354.47" font-size="7.4" text-anchor="end">m6A mRNA modification</text>
<line x1="93.6" y1="361.78" x2="95.4" y2="361.78" stroke="#333" stroke-width="0.55"/>
<text x="91.3" y="363.78" font-size="7.4" text-anchor="end">E3 ubiquitin conjugation</text>
<line x1="93.6" y1="371.08" x2="95.4" y2="371.08" stroke="#333" stroke-width="0.55"/>
<text x="91.3" y="373.08" font-size="7.4" text-anchor="end">Chaperonin TCP-1</text>
<line x1="93.6" y1="380.39" x2="95.4" y2="380.39" stroke="#333" stroke-width="0.55"/>
<text x="91.3" y="382.39" font-size="7.4" text-anchor="end">RNA stability regulator</text>
<line x1="93.6" y1="389.7" x2="95.4" y2="389.7" stroke="#333" stroke-width="0.55"/>
<text x="91.3" y="391.7" font-size="7.4" text-anchor="end">SAG acetyltransferase</text>
<line x1="93.6" y1="399.01" x2="95.4" y2="399.01" stroke="#333" stroke-width="0.55"/>
<text x="91.3" y="401.01" font-size="7.4" text-anchor="end">BRD4/TOP2A</text>
<line x1="93.6" y1="408.31" x2="95.4" y2="408.31" stroke="#333" stroke-width="0.55"/>
<text x="91.3" y="410.31" font-size="7.4" text-anchor="end">Proteolysis: UBA3/UBE2H</text>
<line x1="93.6" y1="417.62" x2="95.4" y2="417.62" stroke="#333" stroke-width="0.55"/>
<text x="91.3" y="419.62" font-size="7.4" text-anchor="end">Spliceosome</text>
<line x1="93.6" y1="426.93" x2="95.4" y2="426.93" stroke="#333" stroke-width="0.55"/>
<text x="91.3" y="428.93" font-size="7.4" text-anchor="end">COP9 signalosome</text>
<line x1="93.6" y1="436.24" x2="95.4" y2="436.24" stroke="#333" stroke-width="0.55"/>
<text x="91.3" y="438.24" font-size="7.4" text-anchor="end">Ribosome</text>
<line x1="93.6" y1="445.54" x2="95.4" y2="445.54" stroke="#333" stroke-width="0.55"/>
<text x="91.3" y="447.54" font-size="7.4" text-anchor="end">SUMO activating enzyme</text>
<line x1="93.6" y1="454.85" x2="95.4" y2="454.85" stroke="#333" stroke-width="0.55"/>
<text x="91.3" y="456.85" font-size="7.4" text-anchor="end">Histone methyltransferase</text>
<line x1="93.6" y1="464.16" x2="95.4" y2="464.16" stroke="#333" stroke-width="0.55"/>
<text x="91.3" y="466.16" font-size="7.4" text-anchor="end">snRNA export: SRRT/PHAX</text>
<line x1="93.6" y1="473.47" x2="95.4" y2="473.47" stroke="#333" stroke-width="0.55"/>
<text x="91.3" y="475.47" font-size="7.4" text-anchor="end">MYMK</text>
<line x1="93.6" y1="482.77" x2="95.4" y2="482.77" stroke="#333" stroke-width="0.55"/>
<text x="91.3" y="484.77" font-size="7.4" text-anchor="end">MYOD1/TCF12/EP300</text>
<line x1="93.6" y1="492.08" x2="95.4" y2="492.08" stroke="#333" stroke-width="0.55"/>
<text x="91.3" y="494.08" font-size="7.4" text-anchor="end">Cytoskeleton &amp; dynein</text>
<line x1="93.6" y1="501.39" x2="95.4" y2="501.39" stroke="#333" stroke-width="0.55"/>
<text x="91.3" y="503.39" font-size="7.4" text-anchor="end">Pre-transcription &amp; mediator</text>
<line x1="93.6" y1="510.7" x2="95.4" y2="510.7" stroke="#333" stroke-width="0.55"/>
<text x="91.3" y="512.7" font-size="7.4" text-anchor="end">ROS regulator</text>
<line x1="93.6" y1="520" x2="95.4" y2="520" stroke="#333" stroke-width="0.55"/>
<text x="94.2" y="522.3" font-size="8" text-anchor="end" font-weight="bold" fill="#2350a0">MYOD/TCF12/EP300</text>
<line x1="93.6" y1="529.31" x2="95.4" y2="529.31" stroke="#333" stroke-width="0.55"/>
<text x="91.3" y="531.31" font-size="7.4" text-anchor="end">Histone methyltransferase</text>
<line x1="93.6" y1="538.62" x2="95.4" y2="538.62" stroke="#333" stroke-width="0.55"/>
<text x="91.2" y="540.62" font-size="7.4" text-anchor="end" font-weight="bold">m6A mRNA modification</text>
<line x1="93.6" y1="547.93" x2="95.4" y2="547.93" stroke="#333" stroke-width="0.55"/>
<text x="91.3" y="549.93" font-size="7.4" text-anchor="end">COP9 signalosome</text>
<line x1="93.6" y1="557.23" x2="95.4" y2="557.23" stroke="#333" stroke-width="0.55"/>
<text x="91.3" y="559.23" font-size="7.4" text-anchor="end">E3 ubiquitin conjugation</text>
<line x1="93.6" y1="566.54" x2="95.4" y2="566.54" stroke="#333" stroke-width="0.55"/>
<text x="91.3" y="568.54" font-size="7.4" text-anchor="end">SAG acetyltransferase</text>
<line x1="93.6" y1="575.85" x2="95.4" y2="575.85" stroke="#333" stroke-width="0.55"/>
<text x="91.3" y="577.85" font-size="7.4" text-anchor="end">Chaperonin TCP-1</text>
<line x1="93.6" y1="585.16" x2="95.4" y2="585.16" stroke="#333" stroke-width="0.55"/>
<text x="91.3" y="587.16" font-size="7.4" text-anchor="end">RNA stability regulator</text>
<line x1="93.6" y1="594.46" x2="95.4" y2="594.46" stroke="#333" stroke-width="0.55"/>
<text x="91.3" y="596.46" font-size="7.4" text-anchor="end">SUMO activating enzyme</text>
<line x1="93.6" y1="603.77" x2="95.4" y2="603.77" stroke="#333" stroke-width="0.55"/>
<text x="91.3" y="605.77" font-size="7.4" text-anchor="end">Spliceosome</text>
<line x1="93.6" y1="613.08" x2="95.4" y2="613.08" stroke="#333" stroke-width="0.55"/>
<text x="91.3" y="615.08" font-size="7.4" text-anchor="end">NURF &amp; PcG</text>
<line x1="93.6" y1="622.39" x2="95.4" y2="622.39" stroke="#333" stroke-width="0.55"/>
<text x="91.3" y="624.39" font-size="7.4" text-anchor="end">BRD4/TOP2A</text>
<line x1="93.6" y1="631.69" x2="95.4" y2="631.69" stroke="#333" stroke-width="0.55"/>
<text x="91.3" y="633.69" font-size="7.4" text-anchor="end">snRNA export: SRRT/PHAX</text>
<line x1="93.6" y1="641" x2="95.4" y2="641" stroke="#333" stroke-width="0.55"/>
<text x="91.3" y="643" font-size="7.4" text-anchor="end">ROS regulator</text>
<line x1="93.6" y1="650.31" x2="95.4" y2="650.31" stroke="#333" stroke-width="0.55"/>
<text x="91.3" y="652.31" font-size="7.4" text-anchor="end">Ribosome</text>
<line x1="93.6" y1="659.62" x2="95.4" y2="659.62" stroke="#333" stroke-width="0.55"/>
<text x="91.3" y="661.62" font-size="7.4" text-anchor="end">Proteolysis: UBA3/UBE2H</text>
<line x1="93.6" y1="668.92" x2="95.4" y2="668.92" stroke="#333" stroke-width="0.55"/>
<text x="91.3" y="670.92" font-size="7.4" text-anchor="end">N-acetyltransferase</text>
<line x1="93.6" y1="678.23" x2="95.4" y2="678.23" stroke="#333" stroke-width="0.55"/>
<text x="91.3" y="680.23" font-size="7.4" text-anchor="end">Pre-transcription &amp; mediator</text>
<line x1="93.6" y1="687.54" x2="95.4" y2="687.54" stroke="#333" stroke-width="0.55"/>
<text x="91.3" y="689.54" font-size="7.4" text-anchor="end">Cytoskeleton &amp; dynein</text>
<line x1="93.6" y1="696.85" x2="95.4" y2="696.85" stroke="#333" stroke-width="0.55"/>
<text x="90.4" y="699.15" font-size="8" text-anchor="end" font-weight="bold" fill="#d32f2f">MYMK</text>
<defs><linearGradient id="rb" x1="0" x2="1"><stop offset="0" stop-color="#2b5ca8"/><stop offset="0.25" stop-color="#7fa3d3"/><stop offset="0.5" stop-color="#f7f7f7"/><stop offset="0.75" stop-color="#ee9a9a"/><stop offset="1" stop-color="#d7191c"/></linearGradient></defs>
<rect x="111.7" y="704.6" width="37.1" height="4.1" fill="url(#rb)"/>
<line x1="111.9" y1="708.7" x2="111.9" y2="710" stroke="#555" stroke-width="0.5"/>
<text x="111.9" y="717.6" font-size="7" text-anchor="middle">−2</text>
<line x1="130.2" y1="708.7" x2="130.2" y2="710" stroke="#555" stroke-width="0.5"/>
<text x="130.2" y="717.6" font-size="7" text-anchor="middle">0</text>
<line x1="148.4" y1="708.7" x2="148.4" y2="710" stroke="#555" stroke-width="0.5"/>
<text x="148.4" y="717.6" font-size="7" text-anchor="middle">2</text>
<text x="178.4" y="316.6" font-size="10.5" font-weight="bold">e</text>
<text x="235" y="325.4" font-size="7.3">Cell #</text>
<rect x="174.4" y="330.1" width="56.9" height="371.2" fill="#fff" stroke="#9a9a9a" stroke-width="0.6"/>
<path d="M181.7 334.5 C183.75 333.33 185.3 330.6 185.8 330.6 C186.8 330.6 189 333.9 190 334.1L190 334.35 L190 334.65 L190 334.9C189 335.1 186.8 338.4 185.8 338.4 C185.3 338.4 183.75 335.67 181.7 334.5Z" fill="#2626cd" stroke="#333" stroke-width="0.35"/>
<circle cx="186.1" cy="334.5" r="0.55" fill="#111"/>
<path d="M180 343.79 C183 342.71 185.5 340.19 186 340.19 C187 340.19 189.5 343.19 190.5 343.39L196 343.64 L196 343.94 L190.5 344.19C189.5 344.39 187 347.39 186 347.39 C185.5 347.39 183 344.87 180 343.79Z" fill="#2626cd" stroke="#333" stroke-width="0.35"/>
<circle cx="186.3" cy="343.79" r="0.55" fill="#111"/>
<path d="M181.7 353.08 C183.85 352.06 185.5 349.68 186 349.68 C187 349.68 189 352.48 190 352.68L190.5 352.93 L190.5 353.23 L190 353.48C189 353.68 187 356.48 186 356.48 C185.5 356.48 183.85 354.1 181.7 353.08Z" fill="#2626cd" stroke="#333" stroke-width="0.35"/>
<circle cx="186.3" cy="353.08" r="0.55" fill="#111"/>
<path d="M180 362.37 C183 361.38 185.5 359.07 186 359.07 C187 359.07 190 361.77 191 361.97L193 362.22 L193 362.52 L191 362.77C190 362.97 187 365.67 186 365.67 C185.5 365.67 183 363.36 180 362.37Z" fill="#2626cd" stroke="#333" stroke-width="0.35"/>
<circle cx="186.3" cy="362.37" r="0.55" fill="#111"/>
<path d="M181.7 371.66 C184 370.67 185.8 368.36 186.3 368.36 C187.3 368.36 190 371.06 191 371.26L195.5 371.51 L195.5 371.81 L191 372.06C190 372.26 187.3 374.96 186.3 374.96 C185.8 374.96 184 372.65 181.7 371.66Z" fill="#2626cd" stroke="#333" stroke-width="0.35"/>
<circle cx="186.6" cy="371.66" r="0.55" fill="#111"/>
<path d="M182.8 380.95 C184.55 380.05 185.8 377.95 186.3 377.95 C187.3 377.95 189 380.35 190 380.55L190 380.8 L190 381.1 L190 381.35C189 381.55 187.3 383.95 186.3 383.95 C185.8 383.95 184.55 381.85 182.8 380.95Z" fill="#2626cd" stroke="#333" stroke-width="0.35"/>
<circle cx="186.6" cy="380.95" r="0.55" fill="#111"/>
<path d="M180 390.24 C183.15 389.25 185.8 386.94 186.3 386.94 C187.3 386.94 190.5 389.64 191.5 389.84L194 390.09 L194 390.39 L191.5 390.64C190.5 390.84 187.3 393.54 186.3 393.54 C185.8 393.54 183.15 391.23 180 390.24Z" fill="#2626cd" stroke="#333" stroke-width="0.35"/>
<circle cx="186.6" cy="390.24" r="0.55" fill="#111"/>
<path d="M183.9 399.53 C185.2 398.75 186 396.93 186.5 396.93 C187.5 396.93 187.6 398.93 188.6 399.13L188.6 399.38 L188.6 399.68 L188.6 399.93C187.6 400.13 187.5 402.13 186.5 402.13 C186 402.13 185.2 400.31 183.9 399.53Z" fill="#2626cd" stroke="#333" stroke-width="0.35"/>
<circle cx="186.8" cy="399.53" r="0.55" fill="#111"/>
<path d="M183 408.82 C184.75 407.92 186 405.82 186.5 405.82 C187.5 405.82 188.7 408.22 189.7 408.42L189.7 408.67 L189.7 408.97 L189.7 409.22C188.7 409.42 187.5 411.82 186.5 411.82 C186 411.82 184.75 409.72 183 408.82Z" fill="#2626cd" stroke="#333" stroke-width="0.35"/>
<circle cx="186.8" cy="408.82" r="0.55" fill="#111"/>
<path d="M180 418.11 C183.25 417.09 186 414.71 186.5 414.71 C187.5 414.71 190.5 417.51 191.5 417.71L195.5 417.96 L195.5 418.26 L191.5 418.51C190.5 418.71 187.5 421.51 186.5 421.51 C186 421.51 183.25 419.13 180 418.11Z" fill="#6b6bdd" stroke="#333" stroke-width="0.35"/>
<circle cx="186.8" cy="418.11" r="0.55" fill="#111"/>
<path d="M181 427.4 C183.75 426.44 186 424.2 186.5 424.2 C187.5 424.2 190.2 426.8 191.2 427L194.4 427.25 L194.4 427.55 L191.2 427.8C190.2 428 187.5 430.6 186.5 430.6 C186 430.6 183.75 428.36 181 427.4Z" fill="#7979e0" stroke="#333" stroke-width="0.35"/>
<circle cx="186.8" cy="427.4" r="0.55" fill="#111"/>
<path d="M182.2 436.69 C184.35 435.7 186 433.39 186.5 433.39 C187.5 433.39 190 436.09 191 436.29L212 436.54 L212 436.84 L191 437.09C190 437.29 187.5 439.99 186.5 439.99 C186 439.99 184.35 437.68 182.2 436.69Z" fill="#8787e3" stroke="#333" stroke-width="0.35"/>
<circle cx="186.8" cy="436.69" r="0.55" fill="#111"/>
<path d="M180 445.98 C183.25 444.99 186 442.68 186.5 442.68 C187.5 442.68 190.5 445.38 191.5 445.58L196 445.83 L196 446.13 L191.5 446.38C190.5 446.58 187.5 449.28 186.5 449.28 C186 449.28 183.25 446.97 180 445.98Z" fill="#9595e6" stroke="#333" stroke-width="0.35"/>
<circle cx="186.8" cy="445.98" r="0.55" fill="#111"/>
<path d="M182.2 455.27 C184.85 454.31 187 452.07 187.5 452.07 C188.5 452.07 191 454.67 192 454.87L199 455.12 L199 455.42 L192 455.67C191 455.87 188.5 458.47 187.5 458.47 C187 458.47 184.85 456.23 182.2 455.27Z" fill="#a3a3e9" stroke="#333" stroke-width="0.35"/>
<circle cx="187.8" cy="455.27" r="0.55" fill="#111"/>
<path d="M182.2 464.56 C184.85 463.66 187 461.56 187.5 461.56 C188.5 461.56 191 463.96 192 464.16L193.5 464.41 L193.5 464.71 L192 464.96C191 465.16 188.5 467.56 187.5 467.56 C187 467.56 184.85 465.46 182.2 464.56Z" fill="#b1b1ec" stroke="#333" stroke-width="0.35"/>
<circle cx="187.8" cy="464.56" r="0.55" fill="#111"/>
<path d="M180 473.85 C183.75 472.92 187 470.75 187.5 470.75 C188.5 470.75 191.5 473.25 192.5 473.45L199 473.7 L199 474 L192.5 474.25C191.5 474.45 188.5 476.95 187.5 476.95 C187 476.95 183.75 474.78 180 473.85Z" fill="#bebef0" stroke="#333" stroke-width="0.35"/>
<circle cx="187.8" cy="473.85" r="0.55" fill="#111"/>
<path d="M181 483.14 C184.25 482.21 187 480.04 187.5 480.04 C188.5 480.04 191.5 482.54 192.5 482.74L197.9 482.99 L197.9 483.29 L192.5 483.54C191.5 483.74 188.5 486.24 187.5 486.24 C187 486.24 184.25 484.07 181 483.14Z" fill="#ccccf3" stroke="#333" stroke-width="0.35"/>
<circle cx="187.8" cy="483.14" r="0.55" fill="#111"/>
<path d="M181.9 492.43 C184.7 491.5 187 489.33 187.5 489.33 C188.5 489.33 191 491.83 192 492.03L195.5 492.28 L195.5 492.58 L192 492.83C191 493.03 188.5 495.53 187.5 495.53 C187 495.53 184.7 493.36 181.9 492.43Z" fill="#dadaf6" stroke="#333" stroke-width="0.35"/>
<circle cx="187.8" cy="492.43" r="0.55" fill="#111"/>
<path d="M182.7 501.72 C185.1 500.82 187 498.72 187.5 498.72 C188.5 498.72 191.5 501.12 192.5 501.32L197.9 501.57 L197.9 501.87 L192.5 502.12C191.5 502.32 188.5 504.72 187.5 504.72 C187 504.72 185.1 502.62 182.7 501.72Z" fill="#e8e8f9" stroke="#333" stroke-width="0.35"/>
<circle cx="187.8" cy="501.72" r="0.55" fill="#111"/>
<path d="M182.3 511.01 C184.9 510.14 187 508.11 187.5 508.11 C188.5 508.11 191.6 510.41 192.6 510.61L192.6 510.86 L192.6 511.16 L192.6 511.41C191.6 511.61 188.5 513.91 187.5 513.91 C187 513.91 184.9 511.88 182.3 511.01Z" fill="#ececfa" stroke="#333" stroke-width="0.35"/>
<circle cx="187.8" cy="511.01" r="0.55" fill="#111"/>
<path d="M182 520.3C182 519.71 187.54 518.86 189.4 518.32C191.26 517.78 192.18 516.49 194.4 516.7C196.62 516.91 201.26 519.36 204.2 519.75C207.14 520.14 211.63 519.28 214 519.3C216.37 519.31 218.68 519.7 220 519.85C221.32 520 222.8 520.16 222.8 520.3C222.8 520.43 221.32 520.6 220 520.75C218.68 520.9 216.37 521.28 214 521.3C211.63 521.31 207.14 520.46 204.2 520.85C201.26 521.24 196.62 523.69 194.4 523.9C192.18 524.11 191.26 522.82 189.4 522.28C187.54 521.74 182 520.89 182 520.3Z" fill="#fdf6f6" stroke="#333" stroke-width="0.35"/>
<circle cx="194.01" cy="520.3" r="0.55" fill="#111"/>
<path d="M180.09 529.59C180.09 528.98 186.04 528.12 187.97 527.57C189.9 527.02 190.53 525.9 192.97 525.91C195.41 525.93 200.85 527.62 204.23 527.64C207.61 527.67 212.9 526 215.49 526.05C218.08 526.11 219.89 527.47 221.49 528C223.09 528.53 226.15 529.11 226.15 529.59C226.15 530.07 223.09 530.65 221.49 531.18C219.89 531.71 218.08 533.07 215.49 533.13C212.9 533.18 207.61 531.51 204.23 531.54C200.85 531.56 195.41 533.25 192.97 533.27C190.53 533.28 189.9 532.16 187.97 531.61C186.04 531.06 180.09 530.2 180.09 529.59Z" fill="#fcefef" stroke="#333" stroke-width="0.35"/>
<circle cx="195.33" cy="529.59" r="0.55" fill="#111"/>
<path d="M179.6 538.88C179.6 538.27 186.64 537.39 188.77 536.83C190.9 536.28 191.42 535.14 193.77 535.16C196.12 535.18 201.24 536.95 204.44 536.99C207.64 537.03 212.6 535.39 215.1 535.44C217.6 535.49 219.49 536.82 221.1 537.33C222.72 537.85 225.88 538.42 225.88 538.88C225.88 539.34 222.72 539.91 221.1 540.43C219.49 540.94 217.6 542.27 215.1 542.32C212.6 542.37 207.64 540.73 204.44 540.77C201.24 540.81 196.12 542.58 193.77 542.6C191.42 542.62 190.9 541.48 188.77 540.93C186.64 540.37 179.6 539.49 179.6 538.88Z" fill="#fbe8e8" stroke="#333" stroke-width="0.35"/>
<circle cx="196.37" cy="538.88" r="0.55" fill="#111"/>
<path d="M178.16 548.17C178.16 547.62 186.35 546.84 188.68 546.34C191.01 545.84 191.45 544.85 193.68 544.85C195.91 544.85 200.58 546.38 203.54 546.34C206.5 546.31 211.02 544.57 213.4 544.6C215.78 544.64 217.31 546.03 219.4 546.57C221.5 547.1 227.4 547.69 227.4 548.17C227.4 548.65 221.5 549.24 219.4 549.77C217.31 550.31 215.78 551.7 213.4 551.74C211.02 551.77 206.5 550.03 203.54 550C200.58 549.96 195.91 551.49 193.68 551.49C191.45 551.49 191.01 550.5 188.68 550C186.35 549.5 178.16 548.72 178.16 548.17Z" fill="#fae0e0" stroke="#333" stroke-width="0.35"/>
<circle cx="197.02" cy="548.17" r="0.55" fill="#111"/>
<path d="M179.8 557.46C179.8 556.86 186.81 556.01 188.93 555.47C191.05 554.93 191.58 553.83 193.93 553.84C196.28 553.85 201.4 555.52 204.6 555.53C207.8 555.55 212.76 553.91 215.26 553.96C217.76 554.01 219.4 555.36 221.26 555.88C223.13 556.41 227.7 556.99 227.7 557.46C227.7 557.93 223.13 558.51 221.26 559.04C219.4 559.56 217.76 560.91 215.26 560.96C212.76 561.01 207.8 559.37 204.6 559.39C201.4 559.4 196.28 561.07 193.93 561.08C191.58 561.09 191.05 559.99 188.93 559.45C186.81 558.91 179.8 558.06 179.8 557.46Z" fill="#f9d9d9" stroke="#333" stroke-width="0.35"/>
<circle cx="197.84" cy="557.46" r="0.55" fill="#111"/>
<path d="M180.34 566.75C180.34 566.18 185.84 565.36 187.69 564.84C189.55 564.32 190.43 563.28 192.69 563.28C194.96 563.28 199.77 564.87 202.8 564.84C205.83 564.81 210.49 563.05 212.91 563.08C215.32 563.12 216.69 564.55 218.91 565.1C221.13 565.65 227.7 566.26 227.7 566.75C227.7 567.24 221.13 567.85 218.91 568.4C216.69 568.95 215.32 570.38 212.91 570.42C210.49 570.45 205.83 568.69 202.8 568.66C199.77 568.63 194.96 570.22 192.69 570.22C190.43 570.22 189.55 569.18 187.69 568.66C185.84 568.14 180.34 567.32 180.34 566.75Z" fill="#f9d2d2" stroke="#333" stroke-width="0.35"/>
<circle cx="198.69" cy="566.75" r="0.55" fill="#111"/>
<path d="M179.57 576.04C179.57 575.45 186.42 574.61 188.51 574.07C190.61 573.53 191.25 572.43 193.51 572.46C195.78 572.48 200.56 574.19 203.59 574.23C206.61 574.28 211.25 572.71 213.66 572.75C216.07 572.8 217.77 574.07 219.66 574.56C221.55 575.05 226.25 575.6 226.25 576.04C226.25 576.48 221.55 577.03 219.66 577.52C217.77 578.01 216.07 579.28 213.66 579.33C211.25 579.37 206.61 577.8 203.59 577.85C200.56 577.89 195.78 579.6 193.51 579.62C191.25 579.65 190.61 578.55 188.51 578.01C186.42 577.47 179.57 576.63 179.57 576.04Z" fill="#f8caca" stroke="#333" stroke-width="0.35"/>
<circle cx="199.68" cy="576.04" r="0.55" fill="#111"/>
<path d="M180.26 585.33C180.26 584.65 187.24 583.69 189.36 583.08C191.47 582.47 192.05 581.18 194.36 581.24C196.66 581.3 201.61 583.37 204.71 583.48C207.82 583.58 212.62 581.91 215.07 581.96C217.52 582.01 219.25 583.31 221.07 583.81C222.89 584.32 227.2 584.87 227.2 585.33C227.2 585.79 222.89 586.34 221.07 586.85C219.25 587.35 217.52 588.65 215.07 588.7C212.62 588.75 207.82 587.08 204.71 587.18C201.61 587.29 196.66 589.36 194.36 589.42C192.05 589.48 191.47 588.19 189.36 587.58C187.24 586.97 180.26 586.01 180.26 585.33Z" fill="#f6c0c0" stroke="#333" stroke-width="0.35"/>
<circle cx="200.11" cy="585.33" r="0.55" fill="#111"/>
<path d="M180.15 594.62C180.15 593.98 187.19 593.07 189.31 592.49C191.43 591.91 192.07 590.67 194.31 590.75C196.55 590.83 201.27 592.87 204.26 593.02C207.24 593.16 211.81 591.67 214.21 591.71C216.6 591.75 218.15 592.87 220.21 593.31C222.26 593.75 227.91 594.23 227.91 594.62C227.91 595.01 222.26 595.49 220.21 595.93C218.15 596.37 216.6 597.49 214.21 597.53C211.81 597.57 207.24 596.08 204.26 596.22C201.27 596.37 196.55 598.41 194.31 598.49C192.07 598.57 191.43 597.33 189.31 596.75C187.19 596.17 180.15 595.26 180.15 594.62Z" fill="#f5b6b6" stroke="#333" stroke-width="0.35"/>
<circle cx="201.63" cy="594.62" r="0.55" fill="#111"/>
<path d="M179.43 603.91C179.43 603.23 185.65 602.27 187.63 601.66C189.61 601.05 190.19 599.71 192.63 599.82C195.06 599.93 200.48 602.18 203.84 602.38C207.21 602.57 212.48 601.08 215.06 601.12C217.64 601.16 219.39 602.24 221.06 602.66C222.73 603.07 226.21 603.53 226.21 603.91C226.21 604.29 222.73 604.75 221.06 605.16C219.39 605.58 217.64 606.66 215.06 606.7C212.48 606.74 207.21 605.25 203.84 605.44C200.48 605.64 195.06 607.89 192.63 608C190.19 608.11 189.61 606.77 187.63 606.16C185.65 605.55 179.43 604.59 179.43 603.91Z" fill="#f4acac" stroke="#333" stroke-width="0.35"/>
<circle cx="202.45" cy="603.91" r="0.55" fill="#111"/>
<path d="M179.03 613.2C179.03 612.54 185.98 611.6 188.09 611C190.2 610.4 190.71 609.1 193.09 609.2C195.47 609.31 200.69 611.5 203.95 611.69C207.2 611.88 212.28 610.41 214.81 610.46C217.34 610.5 219.15 611.55 220.81 611.97C222.47 612.38 225.88 612.83 225.88 613.2C225.88 613.57 222.47 614.02 220.81 614.43C219.15 614.85 217.34 615.9 214.81 615.94C212.28 615.99 207.2 614.52 203.95 614.71C200.69 614.9 195.47 617.09 193.09 617.2C190.71 617.3 190.2 616 188.09 615.4C185.98 614.8 179.03 613.86 179.03 613.2Z" fill="#f3a2a2" stroke="#333" stroke-width="0.35"/>
<circle cx="203.11" cy="613.2" r="0.55" fill="#111"/>
<path d="M178.11 622.49C178.11 621.82 185.9 620.86 188.16 620.24C190.42 619.63 190.76 618.33 193.16 618.41C195.56 618.48 200.86 620.6 204.15 620.73C207.45 620.86 212.59 619.24 215.14 619.28C217.69 619.33 219.32 620.57 221.14 621.05C222.97 621.53 227.3 622.06 227.3 622.49C227.3 622.92 222.97 623.45 221.14 623.93C219.32 624.41 217.69 625.65 215.14 625.7C212.59 625.74 207.45 624.12 204.15 624.25C200.86 624.38 195.56 626.5 193.16 626.57C190.76 626.65 190.42 625.35 188.16 624.74C185.9 624.12 178.11 623.16 178.11 622.49Z" fill="#f29898" stroke="#333" stroke-width="0.35"/>
<circle cx="204.35" cy="622.49" r="0.55" fill="#111"/>
<path d="M178.77 631.78C178.77 631.21 186.46 630.4 188.7 629.88C190.94 629.36 191.53 628.29 193.7 628.32C195.87 628.35 200.31 630.02 203.15 630.07C205.98 630.12 210.28 628.63 212.59 628.67C214.91 628.72 216.63 629.92 218.59 630.38C220.56 630.85 225.69 631.36 225.69 631.78C225.69 632.2 220.56 632.71 218.59 633.18C216.63 633.64 214.91 634.84 212.59 634.89C210.28 634.93 205.98 633.44 203.15 633.49C200.31 633.54 195.87 635.21 193.7 635.24C191.53 635.27 190.94 634.2 188.7 633.68C186.46 633.16 178.77 632.35 178.77 631.78Z" fill="#f18e8e" stroke="#333" stroke-width="0.35"/>
<circle cx="204.81" cy="631.78" r="0.55" fill="#111"/>
<path d="M178.39 641.07C178.39 640.4 186.86 639.44 189.24 638.83C191.61 638.22 192.05 636.96 194.24 637C196.43 637.04 200.96 639.02 203.84 639.09C206.72 639.16 211.1 637.42 213.44 637.47C215.78 637.53 217.62 638.91 219.44 639.45C221.27 639.99 225.61 640.58 225.61 641.07C225.61 641.56 221.27 642.15 219.44 642.69C217.62 643.23 215.78 644.61 213.44 644.67C211.1 644.72 206.72 642.98 203.84 643.05C200.96 643.12 196.43 645.1 194.24 645.14C192.05 645.18 191.61 643.92 189.24 643.31C186.86 642.7 178.39 641.74 178.39 641.07Z" fill="#ef8484" stroke="#333" stroke-width="0.35"/>
<circle cx="205.43" cy="641.07" r="0.55" fill="#111"/>
<path d="M179.15 650.36C179.15 649.74 186.59 648.86 188.79 648.3C190.98 647.74 191.5 646.58 193.79 646.61C196.08 646.65 200.96 648.47 204.04 648.53C207.11 648.6 211.85 646.99 214.29 647.04C216.72 647.09 218.41 648.37 220.29 648.87C222.16 649.36 226.8 649.91 226.8 650.36C226.8 650.81 222.16 651.36 220.29 651.85C218.41 652.35 216.72 653.63 214.29 653.68C211.85 653.73 207.11 652.12 204.04 652.19C200.96 652.25 196.08 654.07 193.79 654.11C191.5 654.14 190.98 652.98 188.79 652.42C186.59 651.86 179.15 650.98 179.15 650.36Z" fill="#ee7a7a" stroke="#333" stroke-width="0.35"/>
<circle cx="206.84" cy="650.36" r="0.55" fill="#111"/>
<path d="M179.27 659.65C179.27 659.07 186.74 658.23 188.94 657.7C191.14 657.17 191.75 656.11 193.94 656.11C196.14 656.11 200.69 657.72 203.58 657.7C206.47 657.68 210.87 655.93 213.21 655.97C215.56 656.02 217.21 657.44 219.21 657.99C221.22 658.55 226.58 659.15 226.58 659.65C226.58 660.15 221.22 660.75 219.21 661.31C217.21 661.86 215.56 663.28 213.21 663.33C210.87 663.37 206.47 661.62 203.58 661.6C200.69 661.58 196.14 663.19 193.94 663.19C191.75 663.19 191.14 662.13 188.94 661.6C186.74 661.07 179.27 660.23 179.27 659.65Z" fill="#eb6b6b" stroke="#333" stroke-width="0.35"/>
<circle cx="207.27" cy="659.65" r="0.55" fill="#111"/>
<path d="M179.37 668.94C179.37 668.39 186.24 667.61 188.33 667.12C190.42 666.62 191.01 665.62 193.33 665.62C195.65 665.62 200.65 667.12 203.79 667.12C206.92 667.12 211.77 665.57 214.24 665.62C216.71 665.67 218.55 666.95 220.24 667.45C221.93 667.95 225.53 668.49 225.53 668.94C225.53 669.39 221.93 669.93 220.24 670.43C218.55 670.93 216.71 672.21 214.24 672.26C211.77 672.31 206.92 670.76 203.79 670.76C200.65 670.76 195.65 672.26 193.33 672.26C191.01 672.26 190.42 671.26 188.33 670.76C186.24 670.27 179.37 669.49 179.37 668.94Z" fill="#e85b5b" stroke="#333" stroke-width="0.35"/>
<circle cx="208.23" cy="668.94" r="0.55" fill="#111"/>
<path d="M178.15 678.23C178.15 677.64 186.14 676.8 188.43 676.26C190.72 675.72 191.1 674.63 193.43 674.65C195.77 674.66 200.82 676.33 203.99 676.36C207.15 676.38 212.05 674.77 214.54 674.82C217.02 674.87 218.66 676.19 220.54 676.7C222.42 677.21 227.07 677.77 227.07 678.23C227.07 678.69 222.42 679.25 220.54 679.76C218.66 680.27 217.02 681.59 214.54 681.64C212.05 681.69 207.15 680.08 203.99 680.1C200.82 680.13 195.77 681.8 193.43 681.81C191.1 681.83 190.72 680.74 188.43 680.2C186.14 679.66 178.15 678.82 178.15 678.23Z" fill="#e54a4a" stroke="#333" stroke-width="0.35"/>
<circle cx="209.19" cy="678.23" r="0.55" fill="#111"/>
<path d="M178.06 687.52C178.06 686.94 186.48 686.12 188.85 685.59C191.22 685.07 191.49 683.99 193.85 684.02C196.22 684.05 201.39 685.73 204.62 685.78C207.85 685.84 212.87 684.32 215.39 684.36C217.91 684.41 219.85 685.63 221.39 686.1C222.93 686.57 225.65 687.09 225.65 687.52C225.65 687.95 222.93 688.47 221.39 688.94C219.85 689.41 217.91 690.63 215.39 690.68C212.87 690.72 207.85 689.2 204.62 689.26C201.39 689.31 196.22 690.99 193.85 691.02C191.49 691.05 191.22 689.97 188.85 689.45C186.48 688.92 178.06 688.1 178.06 687.52Z" fill="#e13939" stroke="#333" stroke-width="0.35"/>
<circle cx="209.89" cy="687.52" r="0.55" fill="#111"/>
<path d="M181 696.81C181 696.51 185.35 696.09 187 695.82C188.65 695.55 189.42 695.01 192 695.01C194.58 695.01 200.54 696.15 204.2 695.82C207.86 695.49 213.67 692.93 216.4 692.81C219.13 692.69 221.26 694.41 222.4 695.01C223.54 695.61 224 696.27 224 696.81C224 697.35 223.54 698.01 222.4 698.61C221.26 699.21 219.13 700.93 216.4 700.81C213.67 700.69 207.86 698.13 204.2 697.8C200.54 697.47 194.58 698.61 192 698.61C189.42 698.61 188.65 698.07 187 697.8C185.35 697.53 181 697.11 181 696.81Z" fill="#de2828" stroke="#333" stroke-width="0.35"/>
<circle cx="210.53" cy="696.81" r="0.55" fill="#111"/>
<line x1="172.8" y1="334.5" x2="174.4" y2="334.5" stroke="#888" stroke-width="0.5"/>
<line x1="172.8" y1="343.79" x2="174.4" y2="343.79" stroke="#888" stroke-width="0.5"/>
<line x1="172.8" y1="353.08" x2="174.4" y2="353.08" stroke="#888" stroke-width="0.5"/>
<line x1="172.8" y1="362.37" x2="174.4" y2="362.37" stroke="#888" stroke-width="0.5"/>
<line x1="172.8" y1="371.66" x2="174.4" y2="371.66" stroke="#888" stroke-width="0.5"/>
<line x1="172.8" y1="380.95" x2="174.4" y2="380.95" stroke="#888" stroke-width="0.5"/>
<line x1="172.8" y1="390.24" x2="174.4" y2="390.24" stroke="#888" stroke-width="0.5"/>
<line x1="172.8" y1="399.53" x2="174.4" y2="399.53" stroke="#888" stroke-width="0.5"/>
<line x1="172.8" y1="408.82" x2="174.4" y2="408.82" stroke="#888" stroke-width="0.5"/>
<line x1="172.8" y1="418.11" x2="174.4" y2="418.11" stroke="#888" stroke-width="0.5"/>
<line x1="172.8" y1="427.4" x2="174.4" y2="427.4" stroke="#888" stroke-width="0.5"/>
<line x1="172.8" y1="436.69" x2="174.4" y2="436.69" stroke="#888" stroke-width="0.5"/>
<line x1="172.8" y1="445.98" x2="174.4" y2="445.98" stroke="#888" stroke-width="0.5"/>
<line x1="172.8" y1="455.27" x2="174.4" y2="455.27" stroke="#888" stroke-width="0.5"/>
<line x1="172.8" y1="464.56" x2="174.4" y2="464.56" stroke="#888" stroke-width="0.5"/>
<line x1="172.8" y1="473.85" x2="174.4" y2="473.85" stroke="#888" stroke-width="0.5"/>
<line x1="172.8" y1="483.14" x2="174.4" y2="483.14" stroke="#888" stroke-width="0.5"/>
<line x1="172.8" y1="492.43" x2="174.4" y2="492.43" stroke="#888" stroke-width="0.5"/>
<line x1="172.8" y1="501.72" x2="174.4" y2="501.72" stroke="#888" stroke-width="0.5"/>
<line x1="172.8" y1="511.01" x2="174.4" y2="511.01" stroke="#888" stroke-width="0.5"/>
<line x1="172.8" y1="520.3" x2="174.4" y2="520.3" stroke="#888" stroke-width="0.5"/>
<line x1="172.8" y1="529.59" x2="174.4" y2="529.59" stroke="#888" stroke-width="0.5"/>
<line x1="172.8" y1="538.88" x2="174.4" y2="538.88" stroke="#888" stroke-width="0.5"/>
<line x1="172.8" y1="548.17" x2="174.4" y2="548.17" stroke="#888" stroke-width="0.5"/>
<line x1="172.8" y1="557.46" x2="174.4" y2="557.46" stroke="#888" stroke-width="0.5"/>
<line x1="172.8" y1="566.75" x2="174.4" y2="566.75" stroke="#888" stroke-width="0.5"/>
<line x1="172.8" y1="576.04" x2="174.4" y2="576.04" stroke="#888" stroke-width="0.5"/>
<line x1="172.8" y1="585.33" x2="174.4" y2="585.33" stroke="#888" stroke-width="0.5"/>
<line x1="172.8" y1="594.62" x2="174.4" y2="594.62" stroke="#888" stroke-width="0.5"/>
<line x1="172.8" y1="603.91" x2="174.4" y2="603.91" stroke="#888" stroke-width="0.5"/>
<line x1="172.8" y1="613.2" x2="174.4" y2="613.2" stroke="#888" stroke-width="0.5"/>
<line x1="172.8" y1="622.49" x2="174.4" y2="622.49" stroke="#888" stroke-width="0.5"/>
<line x1="172.8" y1="631.78" x2="174.4" y2="631.78" stroke="#888" stroke-width="0.5"/>
<line x1="172.8" y1="641.07" x2="174.4" y2="641.07" stroke="#888" stroke-width="0.5"/>
<line x1="172.8" y1="650.36" x2="174.4" y2="650.36" stroke="#888" stroke-width="0.5"/>
<line x1="172.8" y1="659.65" x2="174.4" y2="659.65" stroke="#888" stroke-width="0.5"/>
<line x1="172.8" y1="668.94" x2="174.4" y2="668.94" stroke="#888" stroke-width="0.5"/>
<line x1="172.8" y1="678.23" x2="174.4" y2="678.23" stroke="#888" stroke-width="0.5"/>
<line x1="172.8" y1="687.52" x2="174.4" y2="687.52" stroke="#888" stroke-width="0.5"/>
<line x1="172.8" y1="696.81" x2="174.4" y2="696.81" stroke="#888" stroke-width="0.5"/>
<line x1="183" y1="701.3" x2="183" y2="702.8" stroke="#888" stroke-width="0.5"/>
<text x="183" y="711" font-size="8" text-anchor="middle">−1</text>
<line x1="193.6" y1="701.3" x2="193.6" y2="702.8" stroke="#888" stroke-width="0.5"/>
<text x="193.6" y="711" font-size="8" text-anchor="middle">0</text>
<line x1="205.5" y1="701.3" x2="205.5" y2="702.8" stroke="#888" stroke-width="0.5"/>
<text x="205.5" y="711" font-size="8" text-anchor="middle">1</text>
<line x1="216.7" y1="701.3" x2="216.7" y2="702.8" stroke="#888" stroke-width="0.5"/>
<text x="216.7" y="711" font-size="8" text-anchor="middle">2</text>
<line x1="228.4" y1="701.3" x2="228.4" y2="702.8" stroke="#888" stroke-width="0.5"/>
<text x="228.4" y="711" font-size="8" text-anchor="middle">3</text>
<text x="202.4" y="718.7" font-size="8" text-anchor="middle">Muscle diff. score</text>
<defs><radialGradient id="cc"><stop offset="0" stop-color="#c2c2fb"/><stop offset="0.65" stop-color="#b0b0f8"/><stop offset="1" stop-color="#9090f2"/></radialGradient></defs>
<circle cx="242.9" cy="333.9" r="3.9" fill="url(#cc)"/>
<circle cx="242.9" cy="343.15" r="4.25" fill="url(#cc)"/>
<circle cx="242.9" cy="352.39" r="4.43" fill="url(#cc)"/>
<circle cx="242.9" cy="361.64" r="4.25" fill="url(#cc)"/>
<circle cx="242.9" cy="370.88" r="4.43" fill="url(#cc)"/>
<circle cx="242.9" cy="380.13" r="4.21" fill="url(#cc)"/>
<circle cx="242.9" cy="389.38" r="4.43" fill="url(#cc)"/>
<circle cx="242.9" cy="398.62" r="4.05" fill="url(#cc)"/>
<circle cx="242.9" cy="407.87" r="4.21" fill="url(#cc)"/>
<circle cx="242.9" cy="417.11" r="4.86" fill="url(#cc)"/>
<circle cx="242.9" cy="426.36" r="4.46" fill="url(#cc)"/>
<circle cx="242.9" cy="435.61" r="5.59" fill="url(#cc)"/>
<circle cx="242.9" cy="444.85" r="4.16" fill="url(#cc)"/>
<circle cx="242.9" cy="454.1" r="4.16" fill="url(#cc)"/>
<circle cx="242.9" cy="463.34" r="3.98" fill="url(#cc)"/>
<circle cx="242.9" cy="472.59" r="6.04" fill="url(#cc)"/>
<circle cx="242.9" cy="481.84" r="5.81" fill="url(#cc)"/>
<circle cx="242.9" cy="491.08" r="4.75" fill="url(#cc)"/>
<circle cx="242.9" cy="500.33" r="5.08" fill="url(#cc)"/>
<circle cx="242.9" cy="509.57" r="4.11" fill="url(#cc)"/>
<circle cx="242.9" cy="518.82" r="7.27" fill="url(#cc)"/>
<circle cx="242.9" cy="528.07" r="5.19" fill="url(#cc)"/>
<circle cx="242.9" cy="537.31" r="5.56" fill="url(#cc)"/>
<circle cx="242.9" cy="546.56" r="5.79" fill="url(#cc)"/>
<circle cx="242.9" cy="555.8" r="5.14" fill="url(#cc)"/>
<circle cx="242.9" cy="565.05" r="5.4" fill="url(#cc)"/>
<circle cx="242.9" cy="574.3" r="5.47" fill="url(#cc)"/>
<circle cx="242.9" cy="583.54" r="5.29" fill="url(#cc)"/>
<circle cx="242.9" cy="592.79" r="5.49" fill="url(#cc)"/>
<circle cx="242.9" cy="602.03" r="6" fill="url(#cc)"/>
<circle cx="242.9" cy="611.28" r="5.47" fill="url(#cc)"/>
<circle cx="242.9" cy="620.53" r="5.15" fill="url(#cc)"/>
<circle cx="242.9" cy="629.77" r="5.24" fill="url(#cc)"/>
<circle cx="242.9" cy="639.02" r="5.2" fill="url(#cc)"/>
<circle cx="242.9" cy="648.26" r="6.76" fill="url(#cc)"/>
<circle cx="242.9" cy="657.51" r="5.14" fill="url(#cc)"/>
<circle cx="242.9" cy="666.76" r="5.4" fill="url(#cc)"/>
<circle cx="242.9" cy="676" r="6.25" fill="url(#cc)"/>
<circle cx="242.9" cy="685.25" r="5.53" fill="url(#cc)"/>
<circle cx="242.9" cy="694.49" r="7.23" fill="url(#cc)"/>
<text x="242.9" y="336.3" font-size="6.9" text-anchor="middle" fill="#15152a">6</text>
<text x="242.9" y="345.55" font-size="6.9" text-anchor="middle" fill="#15152a">12</text>
<text x="242.9" y="354.79" font-size="6.9" text-anchor="middle" fill="#15152a">17</text>
<text x="242.9" y="364.04" font-size="6.9" text-anchor="middle" fill="#15152a">12</text>
<text x="242.9" y="373.28" font-size="6.9" text-anchor="middle" fill="#15152a">17</text>
<text x="242.9" y="382.53" font-size="6.9" text-anchor="middle" fill="#15152a">11</text>
<text x="242.9" y="391.78" font-size="6.9" text-anchor="middle" fill="#15152a">17</text>
<text x="242.9" y="401.02" font-size="6.9" text-anchor="middle" fill="#15152a">8</text>
<text x="242.9" y="410.27" font-size="6.9" text-anchor="middle" fill="#15152a">11</text>
<text x="242.9" y="419.51" font-size="6.9" text-anchor="middle" fill="#15152a">40</text>
<text x="242.9" y="428.76" font-size="6.9" text-anchor="middle" fill="#15152a">18</text>
<text x="242.9" y="438.01" font-size="6.9" text-anchor="middle" fill="#15152a">168</text>
<text x="242.9" y="447.25" font-size="6.9" text-anchor="middle" fill="#15152a">10</text>
<text x="242.9" y="456.5" font-size="6.9" text-anchor="middle" fill="#15152a">10</text>
<text x="242.9" y="465.74" font-size="6.9" text-anchor="middle" fill="#15152a">7</text>
<text x="242.9" y="474.99" font-size="6.9" text-anchor="middle" fill="#15152a">412</text>
<text x="242.9" y="484.24" font-size="6.9" text-anchor="middle" fill="#15152a">261</text>
<text x="242.9" y="493.48" font-size="6.9" text-anchor="middle" fill="#15152a">32</text>
<text x="242.9" y="502.73" font-size="6.9" text-anchor="middle" fill="#15152a">62</text>
<text x="242.9" y="511.97" font-size="6.9" text-anchor="middle" fill="#15152a">9</text>
<text x="242.9" y="521.22" font-size="6.4" text-anchor="middle" fill="#15152a">4680</text>
<text x="242.9" y="530.47" font-size="6.9" text-anchor="middle" fill="#15152a">77</text>
<text x="242.9" y="539.71" font-size="6.9" text-anchor="middle" fill="#15152a">158</text>
<text x="242.9" y="548.96" font-size="6.9" text-anchor="middle" fill="#15152a">253</text>
<text x="242.9" y="558.2" font-size="6.9" text-anchor="middle" fill="#15152a">69</text>
<text x="242.9" y="567.45" font-size="6.9" text-anchor="middle" fill="#15152a">116</text>
<text x="242.9" y="576.7" font-size="6.9" text-anchor="middle" fill="#15152a">134</text>
<text x="242.9" y="585.94" font-size="6.9" text-anchor="middle" fill="#15152a">93</text>
<text x="242.9" y="595.19" font-size="6.9" text-anchor="middle" fill="#15152a">138</text>
<text x="242.9" y="604.43" font-size="6.9" text-anchor="middle" fill="#15152a">379</text>
<text x="242.9" y="613.68" font-size="6.9" text-anchor="middle" fill="#15152a">132</text>
<text x="242.9" y="622.93" font-size="6.9" text-anchor="middle" fill="#15152a">71</text>
<text x="242.9" y="632.17" font-size="6.9" text-anchor="middle" fill="#15152a">84</text>
<text x="242.9" y="641.42" font-size="6.9" text-anchor="middle" fill="#15152a">78</text>
<text x="242.9" y="650.66" font-size="6.4" text-anchor="middle" fill="#15152a">1719</text>
<text x="242.9" y="659.91" font-size="6.9" text-anchor="middle" fill="#15152a">69</text>
<text x="242.9" y="669.16" font-size="6.9" text-anchor="middle" fill="#15152a">116</text>
<text x="242.9" y="678.4" font-size="6.9" text-anchor="middle" fill="#15152a">624</text>
<text x="242.9" y="687.65" font-size="6.9" text-anchor="middle" fill="#15152a">149</text>
<text x="242.9" y="696.89" font-size="6.4" text-anchor="middle" fill="#15152a">4372</text>
<line x1="255.5" y1="334.8" x2="255.5" y2="506.4" stroke="#1a1a1a" stroke-width="0.8"/>
<path d="M255.5 330.7L253.4 335.3L255.5 334.1L257.6 335.3Z" fill="#1a1a1a"/>
<path d="M255.5 510.5L253.4 505.9L255.5 507.1L257.6 505.9Z" fill="#1a1a1a"/>
<line x1="255.5" y1="518.6" x2="255.5" y2="694.5" stroke="#1a1a1a" stroke-width="0.8"/>
<path d="M255.5 514.5L253.4 519.1L255.5 517.9L257.6 519.1Z" fill="#1a1a1a"/>
<path d="M255.5 698.6L253.4 694L255.5 695.2L257.6 694Z" fill="#1a1a1a"/>
<text x="0" y="0" font-size="8" text-anchor="middle" transform="translate(259 423) rotate(90)" fill="#1a1a1a">Growth medium</text>
<text x="0" y="0" font-size="8" text-anchor="middle" transform="translate(259 606.6) rotate(90)" fill="#1a1a1a">Differentiation medium</text>
<text x="281.4" y="317.3" font-size="10.5" font-weight="bold">f</text>
<path fill="#dc78aa" d="M300 324.1h9.2v1.95h-9.2zM300 347.27h9.2v1.95h-9.2zM309.18 351.19h9.2v2.01h-9.2zM309.18 359.13h9.2v2.01h-9.2zM309.18 361.11h9.2v2.01h-9.2zM327.54 369.06h9.2v2.01h-9.2zM309.18 373.03h9.2v2.01h-9.2zM327.54 373.03h9.2v2.01h-9.2zM309.18 375.01h9.2v2.01h-9.2zM309.18 377h9.2v2.03h-9.2zM327.54 389.05h9.2v2.03h-9.2zM309.18 393.06h9.2v2.03h-9.2zM318.36 397.08h9.2v2.03h-9.2zM309.18 415.15h9.2v2.03h-9.2zM327.54 417.15h9.2v2.03h-9.2zM327.54 433.12h9.2v1.98h-9.2zM309.18 439.01h9.2v1.98h-9.2zM327.54 440.97h9.2v1.98h-9.2zM373.44 683.67h9.2v2h-9.2z"/>
<path fill="#b4e6a0" d="M309.18 324.1h9.2v1.95h-9.2zM336.72 324.1h9.2v1.95h-9.2zM364.26 335.68h9.2v1.95h-9.2zM336.72 337.62h9.2v1.95h-9.2zM373.44 337.62h9.2v1.95h-9.2zM336.72 343.41h9.2v1.95h-9.2zM336.72 349.2h9.2v2.01h-9.2zM364.26 353.17h9.2v2.01h-9.2zM355.08 359.13h9.2v2.01h-9.2zM382.62 361.11h9.2v2.01h-9.2zM345.9 371.04h9.2v2.01h-9.2zM355.08 371.04h9.2v2.01h-9.2zM364.26 371.04h9.2v2.01h-9.2zM345.9 375.01h9.2v2.01h-9.2zM364.26 379.01h9.2v2.03h-9.2zM373.44 379.01h9.2v2.03h-9.2zM364.26 387.04h9.2v2.03h-9.2zM355.08 391.05h9.2v2.03h-9.2zM364.26 397.08h9.2v2.03h-9.2zM355.08 401.09h9.2v2.03h-9.2zM373.44 401.09h9.2v2.03h-9.2zM345.9 407.12h9.2v2.03h-9.2zM336.72 413.14h9.2v2.03h-9.2zM345.9 419.16h9.2v2.03h-9.2zM345.9 421.17h9.2v2.03h-9.2zM382.62 421.17h9.2v2.03h-9.2zM336.72 423.18h9.2v2.03h-9.2zM364.26 423.18h9.2v2.03h-9.2zM373.44 425.18h9.2v2.03h-9.2zM373.44 429.2h9.2v1.98h-9.2zM382.62 429.2h9.2v1.98h-9.2zM355.08 431.16h9.2v1.98h-9.2zM327.54 470.73h9.2v2.02h-9.2zM309.18 522.86h9.2v2.03h-9.2zM336.72 524.86h9.2v2.03h-9.2zM327.54 530.88h9.2v2.03h-9.2zM309.18 542.9h9.2v2.02h-9.2zM318.36 552.9h9.2v2.02h-9.2zM327.54 554.9h9.2v2.02h-9.2zM318.36 562.9h9.2v2.02h-9.2zM318.36 570.9h9.2v2.02h-9.2zM327.54 572.9h9.2v2.02h-9.2zM309.18 590.82h9.2v1.94h-9.2zM309.18 596.59h9.2v1.94h-9.2zM318.36 606.2h9.2v2.01h-9.2zM327.54 610.18h9.2v2.01h-9.2zM309.18 628.11h9.2v2.01h-9.2zM327.54 628.11h9.2v2.01h-9.2zM336.72 628.11h9.2v2.01h-9.2zM336.72 630.1h9.2v2.01h-9.2zM309.18 638.07h9.2v2.01h-9.2zM327.54 638.07h9.2v2.01h-9.2zM309.18 652.02h9.2v2.01h-9.2zM345.9 671.81h9.2v2h-9.2zM300 677.74h9.2v2h-9.2z"/>
<path fill="#faf0fa" d="M318.36 324.1h9.2v1.95h-9.2zM318.36 337.62h9.2v1.95h-9.2zM336.72 347.27h9.2v1.95h-9.2zM373.44 347.27h9.2v1.95h-9.2zM300 353.17h9.2v2.01h-9.2zM300 381.02h9.2v2.03h-9.2zM382.62 417.15h9.2v2.03h-9.2zM318.36 437.05h9.2v1.98h-9.2zM309.18 452.74h9.2v1.98h-9.2zM382.62 454.7h9.2v2.02h-9.2zM355.08 472.74h9.2v2.02h-9.2zM382.62 474.74h9.2v2.02h-9.2zM373.44 476.75h9.2v2.02h-9.2zM355.08 478.75h9.2v2.02h-9.2zM327.54 482.76h9.2v2.02h-9.2zM355.08 482.76h9.2v2.02h-9.2zM373.44 486.77h9.2v2.02h-9.2zM300 492.78h9.2v2.02h-9.2zM327.54 494.78h9.2v2.02h-9.2zM373.44 510.82h9.2v2.03h-9.2zM382.62 520.85h9.2v2.03h-9.2zM300 524.86h9.2v2.03h-9.2zM300 560.9h9.2v2.02h-9.2zM300 588.9h9.2v1.94h-9.2zM300 592.74h9.2v1.94h-9.2zM336.72 616.16h9.2v2.01h-9.2zM336.72 622.14h9.2v2.01h-9.2zM355.08 626.12h9.2v2.01h-9.2zM364.26 646.04h9.2v2.01h-9.2zM382.62 646.04h9.2v2.01h-9.2zM336.72 648.03h9.2v2.01h-9.2zM364.26 671.81h9.2v2h-9.2z"/>
<path fill="#dcf0d2" d="M327.54 324.1h9.2v1.95h-9.2zM373.44 324.1h9.2v1.95h-9.2zM309.18 329.89h9.2v1.95h-9.2zM364.26 329.89h9.2v1.95h-9.2zM336.72 331.82h9.2v1.95h-9.2zM355.08 333.75h9.2v1.95h-9.2zM373.44 333.75h9.2v1.95h-9.2zM309.18 337.62h9.2v1.95h-9.2zM355.08 339.55h9.2v1.95h-9.2zM355.08 353.17h9.2v2.01h-9.2zM345.9 357.14h9.2v2.01h-9.2zM336.72 363.1h9.2v2.01h-9.2zM382.62 365.09h9.2v2.01h-9.2zM336.72 373.03h9.2v2.01h-9.2zM382.62 375.01h9.2v2.01h-9.2zM336.72 381.02h9.2v2.03h-9.2zM355.08 381.02h9.2v2.03h-9.2zM345.9 383.02h9.2v2.03h-9.2zM336.72 387.04h9.2v2.03h-9.2zM355.08 387.04h9.2v2.03h-9.2zM345.9 399.08h9.2v2.03h-9.2zM336.72 405.11h9.2v2.03h-9.2zM373.44 405.11h9.2v2.03h-9.2zM382.62 415.15h9.2v2.03h-9.2zM336.72 417.15h9.2v2.03h-9.2zM355.08 425.18h9.2v2.03h-9.2zM382.62 425.18h9.2v2.03h-9.2zM382.62 427.19h9.2v2.03h-9.2zM373.44 433.12h9.2v1.98h-9.2zM336.72 440.97h9.2v1.98h-9.2zM336.72 442.93h9.2v1.98h-9.2zM355.08 442.93h9.2v1.98h-9.2zM345.9 446.85h9.2v1.98h-9.2zM382.62 450.78h9.2v1.98h-9.2zM318.36 456.7h9.2v2.02h-9.2zM364.26 462.72h9.2v2.02h-9.2zM373.44 462.72h9.2v2.02h-9.2zM309.18 472.74h9.2v2.02h-9.2zM318.36 476.75h9.2v2.02h-9.2zM327.54 478.75h9.2v2.02h-9.2zM318.36 488.77h9.2v2.02h-9.2zM355.08 490.77h9.2v2.02h-9.2zM382.62 490.77h9.2v2.02h-9.2zM345.9 492.78h9.2v2.02h-9.2zM327.54 496.79h9.2v2.02h-9.2zM382.62 496.79h9.2v2.02h-9.2zM327.54 500.8h9.2v2.02h-9.2zM300 510.82h9.2v2.03h-9.2zM309.18 524.86h9.2v2.03h-9.2zM300 554.9h9.2v2.02h-9.2zM327.54 558.9h9.2v2.02h-9.2zM300 570.9h9.2v2.02h-9.2zM336.72 570.9h9.2v2.02h-9.2zM336.72 582.9h9.2v2.02h-9.2zM300 584.9h9.2v2.02h-9.2zM336.72 594.67h9.2v1.94h-9.2zM336.72 598.51h9.2v1.94h-9.2zM336.72 600.43h9.2v1.94h-9.2zM336.72 606.2h9.2v2.01h-9.2zM300 608.19h9.2v2.01h-9.2zM336.72 608.19h9.2v2.01h-9.2zM300 612.18h9.2v2.01h-9.2zM345.9 618.15h9.2v2.01h-9.2zM355.08 618.15h9.2v2.01h-9.2zM327.54 620.14h9.2v2.01h-9.2zM355.08 622.14h9.2v2.01h-9.2zM336.72 624.13h9.2v2.01h-9.2zM336.72 626.12h9.2v2.01h-9.2zM300 632.1h9.2v2.01h-9.2zM300 634.09h9.2v2.01h-9.2zM336.72 634.09h9.2v2.01h-9.2zM336.72 642.06h9.2v2.01h-9.2zM336.72 650.02h9.2v2.01h-9.2zM300 656h9.2v2h-9.2zM336.72 657.98h9.2v2h-9.2zM355.08 659.95h9.2v2h-9.2zM336.72 661.93h9.2v2h-9.2zM309.18 663.9h9.2v2h-9.2zM327.54 665.88h9.2v2h-9.2zM318.36 667.86h9.2v2h-9.2zM309.18 669.83h9.2v2h-9.2zM355.08 669.83h9.2v2h-9.2zM318.36 671.81h9.2v2h-9.2zM345.9 675.76h9.2v2h-9.2zM373.44 677.74h9.2v2h-9.2zM345.9 679.71h9.2v2h-9.2zM364.26 679.71h9.2v2h-9.2zM309.18 681.69h9.2v2h-9.2zM327.54 681.69h9.2v2h-9.2zM318.36 683.67h9.2v2h-9.2zM318.36 687.62h9.2v2h-9.2zM336.72 687.62h9.2v2h-9.2zM364.26 687.62h9.2v2h-9.2zM318.36 689.6h9.2v2h-9.2zM355.08 689.6h9.2v2h-9.2zM364.26 689.6h9.2v2h-9.2zM364.26 691.57h9.2v2h-9.2zM300 693.55h9.2v2h-9.2zM318.36 693.55h9.2v2h-9.2zM327.54 693.55h9.2v2h-9.2zM355.08 693.55h9.2v2h-9.2zM364.26 695.52h9.2v2h-9.2z"/>
<path fill="#dcf0c8" d="M345.9 324.1h9.2v1.95h-9.2zM364.26 333.75h9.2v1.95h-9.2zM382.62 347.27h9.2v1.95h-9.2zM364.26 361.11h9.2v2.01h-9.2zM355.08 363.1h9.2v2.01h-9.2zM364.26 369.06h9.2v2.01h-9.2zM382.62 381.02h9.2v2.03h-9.2zM336.72 383.02h9.2v2.03h-9.2zM373.44 391.05h9.2v2.03h-9.2zM336.72 403.1h9.2v2.03h-9.2zM345.9 403.1h9.2v2.03h-9.2zM373.44 407.12h9.2v2.03h-9.2zM355.08 421.17h9.2v2.03h-9.2zM373.44 421.17h9.2v2.03h-9.2zM364.26 425.18h9.2v2.03h-9.2zM336.72 427.19h9.2v2.03h-9.2zM364.26 427.19h9.2v2.03h-9.2zM336.72 429.2h9.2v1.98h-9.2zM336.72 439.01h9.2v1.98h-9.2zM355.08 440.97h9.2v1.98h-9.2zM355.08 458.71h9.2v2.02h-9.2zM345.9 462.72h9.2v2.02h-9.2zM382.62 466.73h9.2v2.02h-9.2zM373.44 480.75h9.2v2.02h-9.2zM382.62 484.76h9.2v2.02h-9.2zM364.26 490.77h9.2v2.02h-9.2zM309.18 494.78h9.2v2.02h-9.2zM336.72 528.88h9.2v2.03h-9.2zM336.72 538.9h9.2v2.02h-9.2zM300 552.9h9.2v2.02h-9.2zM327.54 634.09h9.2v2.01h-9.2zM318.36 636.08h9.2v2.01h-9.2zM336.72 646.04h9.2v2.01h-9.2zM318.36 648.03h9.2v2.01h-9.2zM345.9 659.95h9.2v2h-9.2zM364.26 659.95h9.2v2h-9.2zM309.18 665.88h9.2v2h-9.2zM327.54 669.83h9.2v2h-9.2zM364.26 673.79h9.2v2h-9.2zM336.72 675.76h9.2v2h-9.2zM300 681.69h9.2v2h-9.2zM300 683.67h9.2v2h-9.2zM345.9 683.67h9.2v2h-9.2zM355.08 683.67h9.2v2h-9.2zM355.08 685.64h9.2v2h-9.2zM300 687.62h9.2v2h-9.2zM309.18 687.62h9.2v2h-9.2zM355.08 687.62h9.2v2h-9.2zM327.54 689.6h9.2v2h-9.2zM300 695.52h9.2v2h-9.2zM318.36 695.52h9.2v2h-9.2z"/>
<path fill="#d2f0c8" d="M355.08 324.1h9.2v1.95h-9.2zM309.18 327.96h9.2v1.95h-9.2zM355.08 331.82h9.2v1.95h-9.2zM309.18 335.68h9.2v1.95h-9.2zM364.26 339.55h9.2v1.95h-9.2zM373.44 349.2h9.2v2.01h-9.2zM336.72 353.17h9.2v2.01h-9.2zM345.9 353.17h9.2v2.01h-9.2zM336.72 355.16h9.2v2.01h-9.2zM345.9 361.11h9.2v2.01h-9.2zM345.9 365.09h9.2v2.01h-9.2zM336.72 369.06h9.2v2.01h-9.2zM355.08 369.06h9.2v2.01h-9.2zM373.44 369.06h9.2v2.01h-9.2zM345.9 373.03h9.2v2.01h-9.2zM364.26 373.03h9.2v2.01h-9.2zM336.72 379.01h9.2v2.03h-9.2zM382.62 393.06h9.2v2.03h-9.2zM364.26 405.11h9.2v2.03h-9.2zM345.9 409.12h9.2v2.03h-9.2zM355.08 417.15h9.2v2.03h-9.2zM364.26 417.15h9.2v2.03h-9.2zM336.72 425.18h9.2v2.03h-9.2zM355.08 427.19h9.2v2.03h-9.2zM382.62 431.16h9.2v1.98h-9.2zM382.62 435.08h9.2v1.98h-9.2zM373.44 437.05h9.2v1.98h-9.2zM382.62 437.05h9.2v1.98h-9.2zM382.62 439.01h9.2v1.98h-9.2zM345.9 440.97h9.2v1.98h-9.2zM336.72 446.85h9.2v1.98h-9.2zM364.26 446.85h9.2v1.98h-9.2zM355.08 448.82h9.2v1.98h-9.2zM345.9 450.78h9.2v1.98h-9.2zM364.26 450.78h9.2v1.98h-9.2zM300 466.73h9.2v2.02h-9.2zM327.54 468.73h9.2v2.02h-9.2zM382.62 470.73h9.2v2.02h-9.2zM318.36 480.75h9.2v2.02h-9.2zM355.08 480.75h9.2v2.02h-9.2zM318.36 484.76h9.2v2.02h-9.2zM327.54 484.76h9.2v2.02h-9.2zM300 486.77h9.2v2.02h-9.2zM318.36 486.77h9.2v2.02h-9.2zM355.08 496.79h9.2v2.02h-9.2zM318.36 512.83h9.2v2.03h-9.2zM336.72 526.87h9.2v2.03h-9.2zM327.54 528.88h9.2v2.03h-9.2zM336.72 532.89h9.2v2.03h-9.2zM336.72 546.9h9.2v2.02h-9.2zM309.18 548.9h9.2v2.02h-9.2zM309.18 550.9h9.2v2.02h-9.2zM336.72 556.9h9.2v2.02h-9.2zM309.18 558.9h9.2v2.02h-9.2zM327.54 562.9h9.2v2.02h-9.2zM373.44 566.9h9.2v2.02h-9.2zM327.54 568.9h9.2v2.02h-9.2zM300 580.9h9.2v2.02h-9.2zM327.54 586.9h9.2v2.02h-9.2zM309.18 592.74h9.2v1.94h-9.2zM309.18 610.18h9.2v2.01h-9.2zM336.72 618.15h9.2v2.01h-9.2zM300 620.14h9.2v2.01h-9.2zM336.72 638.07h9.2v2.01h-9.2zM300 642.06h9.2v2.01h-9.2zM327.54 644.05h9.2v2.01h-9.2zM300 646.04h9.2v2.01h-9.2zM336.72 654.01h9.2v2.01h-9.2zM336.72 656h9.2v2h-9.2zM345.9 656h9.2v2h-9.2zM300 659.95h9.2v2h-9.2zM309.18 659.95h9.2v2h-9.2zM318.36 659.95h9.2v2h-9.2zM336.72 659.95h9.2v2h-9.2zM355.08 663.9h9.2v2h-9.2zM300 667.86h9.2v2h-9.2zM309.18 667.86h9.2v2h-9.2zM327.54 667.86h9.2v2h-9.2zM318.36 669.83h9.2v2h-9.2zM327.54 673.79h9.2v2h-9.2zM318.36 681.69h9.2v2h-9.2zM336.72 685.64h9.2v2h-9.2zM309.18 689.6h9.2v2h-9.2zM300 691.57h9.2v2h-9.2zM336.72 691.57h9.2v2h-9.2zM345.9 691.57h9.2v2h-9.2zM355.08 695.52h9.2v2h-9.2z"/>
<path fill="#f0b4d2" d="M364.26 324.1h9.2v1.95h-9.2zM327.54 331.82h9.2v1.95h-9.2zM318.36 333.75h9.2v1.95h-9.2zM318.36 359.13h9.2v2.01h-9.2zM318.36 369.06h9.2v2.01h-9.2zM300 373.03h9.2v2.01h-9.2zM300 377h9.2v2.03h-9.2zM327.54 393.06h9.2v2.03h-9.2zM300 395.07h9.2v2.03h-9.2zM327.54 401.09h9.2v2.03h-9.2zM327.54 405.11h9.2v2.03h-9.2zM327.54 411.13h9.2v2.03h-9.2zM309.18 421.17h9.2v2.03h-9.2zM300 425.18h9.2v2.03h-9.2zM309.18 429.2h9.2v1.98h-9.2zM318.36 429.2h9.2v1.98h-9.2zM318.36 435.08h9.2v1.98h-9.2zM300 450.78h9.2v1.98h-9.2zM373.44 482.76h9.2v2.02h-9.2zM364.26 494.78h9.2v2.02h-9.2zM355.08 506.81h9.2v2.03h-9.2zM355.08 524.86h9.2v2.03h-9.2zM382.62 528.88h9.2v2.03h-9.2zM355.08 534.89h9.2v2.03h-9.2zM382.62 540.9h9.2v2.02h-9.2zM345.9 544.9h9.2v2.02h-9.2zM355.08 558.9h9.2v2.02h-9.2zM345.9 562.9h9.2v2.02h-9.2zM373.44 562.9h9.2v2.02h-9.2zM355.08 566.9h9.2v2.02h-9.2zM382.62 570.9h9.2v2.02h-9.2zM355.08 574.9h9.2v2.02h-9.2zM382.62 576.9h9.2v2.02h-9.2zM355.08 578.9h9.2v2.02h-9.2zM345.9 584.9h9.2v2.02h-9.2zM345.9 600.43h9.2v1.94h-9.2zM345.9 604.28h9.2v1.94h-9.2zM355.08 604.28h9.2v1.94h-9.2zM345.9 622.14h9.2v2.01h-9.2zM364.26 636.08h9.2v2.01h-9.2zM364.26 644.05h9.2v2.01h-9.2zM373.44 656h9.2v2h-9.2zM300 657.98h9.2v2h-9.2zM373.44 679.71h9.2v2h-9.2zM373.44 681.69h9.2v2h-9.2zM373.44 691.57h9.2v2h-9.2z"/>
<path fill="#78d246" d="M382.62 324.1h9.2v1.95h-9.2zM309.18 546.9h9.2v2.02h-9.2z"/>
<path fill="#dc64a0" d="M300 326.03h9.2v1.95h-9.2zM300 329.89h9.2v1.95h-9.2zM300 333.75h9.2v1.95h-9.2zM327.54 333.75h9.2v1.95h-9.2zM327.54 355.16h9.2v2.01h-9.2zM318.36 361.11h9.2v2.01h-9.2zM309.18 363.1h9.2v2.01h-9.2zM309.18 365.09h9.2v2.01h-9.2zM318.36 391.05h9.2v2.03h-9.2zM318.36 399.08h9.2v2.03h-9.2zM318.36 417.15h9.2v2.03h-9.2zM318.36 419.16h9.2v2.03h-9.2zM327.54 419.16h9.2v2.03h-9.2zM318.36 433.12h9.2v1.98h-9.2zM327.54 442.93h9.2v1.98h-9.2zM336.72 466.73h9.2v2.02h-9.2zM355.08 484.76h9.2v2.02h-9.2zM364.26 522.86h9.2v2.03h-9.2zM355.08 550.9h9.2v2.02h-9.2zM355.08 564.9h9.2v2.02h-9.2zM382.62 572.9h9.2v2.02h-9.2zM364.26 584.9h9.2v2.02h-9.2z"/>
<path fill="#f0bed2" d="M309.18 326.03h9.2v1.95h-9.2zM327.54 335.68h9.2v1.95h-9.2zM309.18 433.12h9.2v1.98h-9.2zM300 564.9h9.2v2.02h-9.2zM345.9 568.9h9.2v2.02h-9.2zM373.44 588.9h9.2v1.94h-9.2zM382.62 630.1h9.2v2.01h-9.2z"/>
<path fill="#f0fae6" d="M318.36 326.03h9.2v1.95h-9.2zM355.08 335.68h9.2v1.95h-9.2zM318.36 343.41h9.2v1.95h-9.2zM345.9 343.41h9.2v1.95h-9.2zM345.9 363.1h9.2v2.01h-9.2zM373.44 381.02h9.2v2.03h-9.2zM300 393.06h9.2v2.03h-9.2zM336.72 409.12h9.2v2.03h-9.2zM364.26 415.15h9.2v2.03h-9.2zM355.08 439.01h9.2v1.98h-9.2zM336.72 444.89h9.2v1.98h-9.2zM327.54 454.7h9.2v2.02h-9.2zM300 456.7h9.2v2.02h-9.2zM327.54 460.71h9.2v2.02h-9.2zM355.08 460.71h9.2v2.02h-9.2zM355.08 468.73h9.2v2.02h-9.2zM364.26 474.74h9.2v2.02h-9.2zM318.36 478.75h9.2v2.02h-9.2zM364.26 478.75h9.2v2.02h-9.2zM318.36 496.79h9.2v2.02h-9.2zM345.9 498.79h9.2v2.02h-9.2zM300 500.8h9.2v2.02h-9.2zM300 506.81h9.2v2.03h-9.2zM336.72 542.9h9.2v2.02h-9.2zM336.72 596.59h9.2v1.94h-9.2zM355.08 606.2h9.2v2.01h-9.2zM355.08 610.18h9.2v2.01h-9.2zM300 628.11h9.2v2.01h-9.2zM355.08 634.09h9.2v2.01h-9.2zM336.72 636.08h9.2v2.01h-9.2zM355.08 665.88h9.2v2h-9.2zM364.26 667.86h9.2v2h-9.2zM327.54 671.81h9.2v2h-9.2zM345.9 685.64h9.2v2h-9.2zM345.9 687.62h9.2v2h-9.2z"/>
<path fill="#f0aad2" d="M327.54 326.03h9.2v1.95h-9.2zM318.36 375.01h9.2v2.01h-9.2zM345.9 556.9h9.2v2.02h-9.2zM355.08 556.9h9.2v2.02h-9.2zM364.26 576.9h9.2v2.02h-9.2zM355.08 586.9h9.2v2.02h-9.2zM373.44 675.76h9.2v2h-9.2z"/>
<path fill="#bef0aa" d="M336.72 326.03h9.2v1.95h-9.2zM336.72 327.96h9.2v1.95h-9.2zM345.9 337.62h9.2v1.95h-9.2zM309.18 347.27h9.2v1.95h-9.2zM364.26 349.2h9.2v2.01h-9.2zM373.44 351.19h9.2v2.01h-9.2zM382.62 357.14h9.2v2.01h-9.2zM373.44 359.13h9.2v2.01h-9.2zM382.62 371.04h9.2v2.01h-9.2zM336.72 377h9.2v2.03h-9.2zM336.72 385.03h9.2v2.03h-9.2zM345.9 385.03h9.2v2.03h-9.2zM355.08 389.05h9.2v2.03h-9.2zM382.62 391.05h9.2v2.03h-9.2zM336.72 397.08h9.2v2.03h-9.2zM345.9 397.08h9.2v2.03h-9.2zM355.08 397.08h9.2v2.03h-9.2zM382.62 397.08h9.2v2.03h-9.2zM364.26 399.08h9.2v2.03h-9.2zM382.62 405.11h9.2v2.03h-9.2zM355.08 407.12h9.2v2.03h-9.2zM364.26 407.12h9.2v2.03h-9.2zM336.72 411.13h9.2v2.03h-9.2zM355.08 411.13h9.2v2.03h-9.2zM382.62 411.13h9.2v2.03h-9.2zM345.9 413.14h9.2v2.03h-9.2zM373.44 419.16h9.2v2.03h-9.2zM355.08 429.2h9.2v1.98h-9.2zM364.26 431.16h9.2v1.98h-9.2zM373.44 431.16h9.2v1.98h-9.2zM364.26 435.08h9.2v1.98h-9.2zM336.72 437.05h9.2v1.98h-9.2zM364.26 444.89h9.2v1.98h-9.2zM382.62 448.82h9.2v1.98h-9.2zM345.9 452.74h9.2v1.98h-9.2zM309.18 454.7h9.2v2.02h-9.2zM382.62 462.72h9.2v2.02h-9.2zM382.62 468.73h9.2v2.02h-9.2zM318.36 472.74h9.2v2.02h-9.2zM318.36 474.74h9.2v2.02h-9.2zM327.54 476.75h9.2v2.02h-9.2zM309.18 478.75h9.2v2.02h-9.2zM345.9 478.75h9.2v2.02h-9.2zM373.44 490.77h9.2v2.02h-9.2zM300 498.79h9.2v2.02h-9.2zM309.18 498.79h9.2v2.02h-9.2zM327.54 498.79h9.2v2.02h-9.2zM336.72 506.81h9.2v2.03h-9.2zM336.72 512.83h9.2v2.03h-9.2zM300 516.84h9.2v2.03h-9.2zM309.18 518.85h9.2v2.03h-9.2zM318.36 520.85h9.2v2.03h-9.2zM309.18 538.9h9.2v2.02h-9.2zM336.72 540.9h9.2v2.02h-9.2zM373.44 548.9h9.2v2.02h-9.2zM318.36 550.9h9.2v2.02h-9.2zM327.54 564.9h9.2v2.02h-9.2zM309.18 568.9h9.2v2.02h-9.2zM318.36 578.9h9.2v2.02h-9.2zM373.44 580.9h9.2v2.02h-9.2zM309.18 582.9h9.2v2.02h-9.2zM327.54 582.9h9.2v2.02h-9.2zM318.36 586.9h9.2v2.02h-9.2zM327.54 600.43h9.2v1.94h-9.2zM327.54 602.36h9.2v1.94h-9.2zM318.36 646.04h9.2v2.01h-9.2zM300 673.79h9.2v2h-9.2zM318.36 677.74h9.2v2h-9.2z"/>
<path fill="#e6f0dc" d="M345.9 326.03h9.2v1.95h-9.2zM318.36 327.96h9.2v1.95h-9.2zM336.72 329.89h9.2v1.95h-9.2zM373.44 329.89h9.2v1.95h-9.2zM345.9 331.82h9.2v1.95h-9.2zM309.18 341.48h9.2v1.95h-9.2zM309.18 343.41h9.2v1.95h-9.2zM364.26 343.41h9.2v1.95h-9.2zM336.72 357.14h9.2v2.01h-9.2zM345.9 381.02h9.2v2.03h-9.2zM373.44 397.08h9.2v2.03h-9.2zM355.08 409.12h9.2v2.03h-9.2zM355.08 415.15h9.2v2.03h-9.2zM345.9 427.19h9.2v2.03h-9.2zM382.62 433.12h9.2v1.98h-9.2zM345.9 439.01h9.2v1.98h-9.2zM373.44 439.01h9.2v1.98h-9.2zM327.54 456.7h9.2v2.02h-9.2zM309.18 460.71h9.2v2.02h-9.2zM318.36 462.72h9.2v2.02h-9.2zM300 464.72h9.2v2.02h-9.2zM364.26 470.73h9.2v2.02h-9.2zM382.62 472.74h9.2v2.02h-9.2zM327.54 474.74h9.2v2.02h-9.2zM355.08 476.75h9.2v2.02h-9.2zM300 478.75h9.2v2.02h-9.2zM327.54 486.77h9.2v2.02h-9.2zM327.54 490.77h9.2v2.02h-9.2zM355.08 492.78h9.2v2.02h-9.2zM382.62 494.78h9.2v2.02h-9.2zM336.72 504.81h9.2v2.03h-9.2zM327.54 524.86h9.2v2.03h-9.2zM382.62 534.89h9.2v2.03h-9.2zM336.72 544.9h9.2v2.02h-9.2zM300 550.9h9.2v2.02h-9.2zM336.72 552.9h9.2v2.02h-9.2zM336.72 558.9h9.2v2.02h-9.2zM336.72 584.9h9.2v2.02h-9.2zM336.72 592.74h9.2v1.94h-9.2zM300 602.36h9.2v1.94h-9.2zM300 604.28h9.2v1.94h-9.2zM300 606.2h9.2v2.01h-9.2zM300 610.18h9.2v2.01h-9.2zM300 614.17h9.2v2.01h-9.2zM364.26 620.14h9.2v2.01h-9.2zM300 626.12h9.2v2.01h-9.2zM345.9 626.12h9.2v2.01h-9.2zM336.72 632.1h9.2v2.01h-9.2zM300 636.08h9.2v2.01h-9.2zM327.54 642.06h9.2v2.01h-9.2zM300 644.05h9.2v2.01h-9.2zM336.72 644.05h9.2v2.01h-9.2zM327.54 648.03h9.2v2.01h-9.2zM300 650.02h9.2v2.01h-9.2zM327.54 657.98h9.2v2h-9.2zM300 661.93h9.2v2h-9.2zM345.9 661.93h9.2v2h-9.2zM345.9 667.86h9.2v2h-9.2zM300 669.83h9.2v2h-9.2zM336.72 669.83h9.2v2h-9.2zM309.18 671.81h9.2v2h-9.2zM355.08 675.76h9.2v2h-9.2zM345.9 677.74h9.2v2h-9.2zM336.72 681.69h9.2v2h-9.2zM364.26 681.69h9.2v2h-9.2zM364.26 683.67h9.2v2h-9.2zM364.26 685.64h9.2v2h-9.2zM300 689.6h9.2v2h-9.2zM345.9 689.6h9.2v2h-9.2zM345.9 693.55h9.2v2h-9.2z"/>
<path fill="#aae68c" d="M355.08 326.03h9.2v1.95h-9.2zM373.44 339.55h9.2v1.95h-9.2zM345.9 347.27h9.2v1.95h-9.2zM355.08 351.19h9.2v2.01h-9.2zM373.44 353.17h9.2v2.01h-9.2zM382.62 369.06h9.2v2.01h-9.2zM364.26 385.03h9.2v2.03h-9.2zM345.9 389.05h9.2v2.03h-9.2zM345.9 401.09h9.2v2.03h-9.2zM373.44 403.1h9.2v2.03h-9.2zM345.9 405.11h9.2v2.03h-9.2zM345.9 411.13h9.2v2.03h-9.2zM373.44 417.15h9.2v2.03h-9.2zM373.44 423.18h9.2v2.03h-9.2zM318.36 454.7h9.2v2.02h-9.2zM327.54 464.72h9.2v2.02h-9.2zM373.44 500.8h9.2v2.02h-9.2zM327.54 502.8h9.2v2.03h-9.2zM309.18 526.87h9.2v2.03h-9.2zM318.36 526.87h9.2v2.03h-9.2zM318.36 542.9h9.2v2.02h-9.2zM327.54 548.9h9.2v2.02h-9.2zM309.18 562.9h9.2v2.02h-9.2zM327.54 566.9h9.2v2.02h-9.2zM336.72 566.9h9.2v2.02h-9.2zM309.18 574.9h9.2v2.02h-9.2zM318.36 574.9h9.2v2.02h-9.2zM309.18 578.9h9.2v2.02h-9.2zM318.36 582.9h9.2v2.02h-9.2zM327.54 590.82h9.2v1.94h-9.2zM318.36 594.67h9.2v1.94h-9.2zM318.36 598.51h9.2v1.94h-9.2zM327.54 598.51h9.2v1.94h-9.2zM318.36 600.43h9.2v1.94h-9.2zM336.72 602.36h9.2v1.94h-9.2zM327.54 606.2h9.2v2.01h-9.2zM318.36 622.14h9.2v2.01h-9.2zM355.08 630.1h9.2v2.01h-9.2zM309.18 640.06h9.2v2.01h-9.2zM309.18 646.04h9.2v2.01h-9.2zM327.54 646.04h9.2v2.01h-9.2zM300 648.03h9.2v2.01h-9.2zM364.26 661.93h9.2v2h-9.2zM300 671.81h9.2v2h-9.2z"/>
<path fill="#f0faf0" d="M364.26 326.03h9.2v1.95h-9.2zM382.62 333.75h9.2v1.95h-9.2zM318.36 335.68h9.2v1.95h-9.2zM345.9 335.68h9.2v1.95h-9.2zM327.54 339.55h9.2v1.95h-9.2zM318.36 371.04h9.2v2.01h-9.2zM382.62 373.03h9.2v2.01h-9.2zM336.72 415.15h9.2v2.03h-9.2zM364.26 433.12h9.2v1.98h-9.2zM300 435.08h9.2v1.98h-9.2zM300 440.97h9.2v1.98h-9.2zM364.26 440.97h9.2v1.98h-9.2zM336.72 450.78h9.2v1.98h-9.2zM345.9 454.7h9.2v2.02h-9.2zM345.9 456.7h9.2v2.02h-9.2zM382.62 456.7h9.2v2.02h-9.2zM355.08 466.73h9.2v2.02h-9.2zM318.36 468.73h9.2v2.02h-9.2zM373.44 470.73h9.2v2.02h-9.2zM373.44 474.74h9.2v2.02h-9.2zM345.9 476.75h9.2v2.02h-9.2zM382.62 478.75h9.2v2.02h-9.2zM327.54 480.75h9.2v2.02h-9.2zM345.9 482.76h9.2v2.02h-9.2zM364.26 482.76h9.2v2.02h-9.2zM345.9 486.77h9.2v2.02h-9.2zM300 488.77h9.2v2.02h-9.2zM364.26 488.77h9.2v2.02h-9.2zM373.44 492.78h9.2v2.02h-9.2zM318.36 494.78h9.2v2.02h-9.2zM364.26 496.79h9.2v2.02h-9.2zM345.9 500.8h9.2v2.02h-9.2zM300 502.8h9.2v2.03h-9.2zM373.44 504.81h9.2v2.03h-9.2zM318.36 506.81h9.2v2.03h-9.2zM300 528.88h9.2v2.03h-9.2zM300 538.9h9.2v2.02h-9.2zM300 548.9h9.2v2.02h-9.2zM300 562.9h9.2v2.02h-9.2zM300 566.9h9.2v2.02h-9.2zM336.72 572.9h9.2v2.02h-9.2zM373.44 578.9h9.2v2.02h-9.2zM309.18 580.9h9.2v2.02h-9.2zM336.72 586.9h9.2v2.02h-9.2zM336.72 590.82h9.2v1.94h-9.2zM309.18 594.67h9.2v1.94h-9.2zM300 598.51h9.2v1.94h-9.2zM300 600.43h9.2v1.94h-9.2zM318.36 604.28h9.2v1.94h-9.2zM336.72 612.18h9.2v2.01h-9.2zM300 616.16h9.2v2.01h-9.2zM355.08 632.1h9.2v2.01h-9.2zM345.9 646.04h9.2v2.01h-9.2zM300 654.01h9.2v2.01h-9.2zM364.26 657.98h9.2v2h-9.2zM364.26 663.9h9.2v2h-9.2zM364.26 665.88h9.2v2h-9.2z"/>
<path fill="#c8f0be" d="M373.44 326.03h9.2v1.95h-9.2zM364.26 331.82h9.2v1.95h-9.2zM364.26 341.48h9.2v1.95h-9.2zM355.08 343.41h9.2v1.95h-9.2zM373.44 345.34h9.2v1.95h-9.2zM382.62 353.17h9.2v2.01h-9.2zM345.9 355.16h9.2v2.01h-9.2zM355.08 355.16h9.2v2.01h-9.2zM382.62 355.16h9.2v2.01h-9.2zM355.08 361.11h9.2v2.01h-9.2zM364.26 363.1h9.2v2.01h-9.2zM336.72 365.09h9.2v2.01h-9.2zM336.72 367.07h9.2v2.01h-9.2zM345.9 369.06h9.2v2.01h-9.2zM373.44 371.04h9.2v2.01h-9.2zM355.08 373.03h9.2v2.01h-9.2zM373.44 375.01h9.2v2.01h-9.2zM345.9 379.01h9.2v2.03h-9.2zM364.26 381.02h9.2v2.03h-9.2zM373.44 383.02h9.2v2.03h-9.2zM336.72 393.06h9.2v2.03h-9.2zM373.44 393.06h9.2v2.03h-9.2zM336.72 395.07h9.2v2.03h-9.2zM382.62 401.09h9.2v2.03h-9.2zM336.72 407.12h9.2v2.03h-9.2zM364.26 419.16h9.2v2.03h-9.2zM382.62 419.16h9.2v2.03h-9.2zM355.08 435.08h9.2v1.98h-9.2zM345.9 437.05h9.2v1.98h-9.2zM364.26 439.01h9.2v1.98h-9.2zM373.44 444.89h9.2v1.98h-9.2zM355.08 446.85h9.2v1.98h-9.2zM373.44 446.85h9.2v1.98h-9.2zM373.44 448.82h9.2v1.98h-9.2zM336.72 452.74h9.2v1.98h-9.2zM373.44 454.7h9.2v2.02h-9.2zM309.18 456.7h9.2v2.02h-9.2zM309.18 462.72h9.2v2.02h-9.2zM300 470.73h9.2v2.02h-9.2zM327.54 488.77h9.2v2.02h-9.2zM382.62 498.79h9.2v2.02h-9.2zM318.36 524.86h9.2v2.03h-9.2zM300 540.9h9.2v2.02h-9.2zM300 594.67h9.2v1.94h-9.2zM300 618.15h9.2v2.01h-9.2zM309.18 620.14h9.2v2.01h-9.2zM336.72 620.14h9.2v2.01h-9.2zM318.36 632.1h9.2v2.01h-9.2zM309.18 636.08h9.2v2.01h-9.2zM309.18 656h9.2v2h-9.2zM327.54 656h9.2v2h-9.2zM355.08 656h9.2v2h-9.2zM309.18 673.79h9.2v2h-9.2zM309.18 675.76h9.2v2h-9.2zM318.36 675.76h9.2v2h-9.2zM364.26 675.76h9.2v2h-9.2zM327.54 679.71h9.2v2h-9.2zM327.54 685.64h9.2v2h-9.2z"/>
<path fill="#c8f0b4" d="M382.62 326.03h9.2v1.95h-9.2zM345.9 327.96h9.2v1.95h-9.2zM373.44 327.96h9.2v1.95h-9.2zM336.72 335.68h9.2v1.95h-9.2zM382.62 335.68h9.2v1.95h-9.2zM364.26 337.62h9.2v1.95h-9.2zM382.62 341.48h9.2v1.95h-9.2zM373.44 343.41h9.2v1.95h-9.2zM345.9 345.34h9.2v1.95h-9.2zM364.26 345.34h9.2v1.95h-9.2zM364.26 347.27h9.2v1.95h-9.2zM345.9 349.2h9.2v2.01h-9.2zM336.72 351.19h9.2v2.01h-9.2zM382.62 359.13h9.2v2.01h-9.2zM373.44 361.11h9.2v2.01h-9.2zM373.44 365.09h9.2v2.01h-9.2zM336.72 375.01h9.2v2.01h-9.2zM345.9 377h9.2v2.03h-9.2zM355.08 377h9.2v2.03h-9.2zM355.08 379.01h9.2v2.03h-9.2zM382.62 385.03h9.2v2.03h-9.2zM345.9 387.04h9.2v2.03h-9.2zM373.44 387.04h9.2v2.03h-9.2zM373.44 389.05h9.2v2.03h-9.2zM382.62 389.05h9.2v2.03h-9.2zM336.72 391.05h9.2v2.03h-9.2zM345.9 393.06h9.2v2.03h-9.2zM364.26 393.06h9.2v2.03h-9.2zM345.9 395.07h9.2v2.03h-9.2zM336.72 399.08h9.2v2.03h-9.2zM355.08 403.1h9.2v2.03h-9.2zM355.08 405.11h9.2v2.03h-9.2zM373.44 415.15h9.2v2.03h-9.2zM364.26 421.17h9.2v2.03h-9.2zM345.9 423.18h9.2v2.03h-9.2zM345.9 429.2h9.2v1.98h-9.2zM345.9 433.12h9.2v1.98h-9.2zM355.08 433.12h9.2v1.98h-9.2zM345.9 435.08h9.2v1.98h-9.2zM373.44 435.08h9.2v1.98h-9.2zM373.44 440.97h9.2v1.98h-9.2zM382.62 440.97h9.2v1.98h-9.2zM345.9 442.93h9.2v1.98h-9.2zM345.9 448.82h9.2v1.98h-9.2zM364.26 452.74h9.2v1.98h-9.2zM382.62 452.74h9.2v1.98h-9.2zM364.26 456.7h9.2v2.02h-9.2zM373.44 458.71h9.2v2.02h-9.2zM309.18 466.73h9.2v2.02h-9.2zM345.9 466.73h9.2v2.02h-9.2zM364.26 466.73h9.2v2.02h-9.2zM345.9 468.73h9.2v2.02h-9.2zM373.44 468.73h9.2v2.02h-9.2zM345.9 474.74h9.2v2.02h-9.2zM309.18 476.75h9.2v2.02h-9.2zM309.18 480.75h9.2v2.02h-9.2zM364.26 480.75h9.2v2.02h-9.2zM318.36 482.76h9.2v2.02h-9.2zM309.18 486.77h9.2v2.02h-9.2zM382.62 492.78h9.2v2.02h-9.2zM345.9 496.79h9.2v2.02h-9.2zM364.26 500.8h9.2v2.02h-9.2zM300 514.84h9.2v2.03h-9.2zM336.72 514.84h9.2v2.03h-9.2zM327.54 516.84h9.2v2.03h-9.2zM327.54 526.87h9.2v2.03h-9.2zM327.54 534.89h9.2v2.03h-9.2zM327.54 540.9h9.2v2.02h-9.2zM373.44 542.9h9.2v2.02h-9.2zM327.54 544.9h9.2v2.02h-9.2zM300 546.9h9.2v2.02h-9.2zM382.62 550.9h9.2v2.02h-9.2zM318.36 558.9h9.2v2.02h-9.2zM318.36 564.9h9.2v2.02h-9.2zM318.36 572.9h9.2v2.02h-9.2zM336.72 574.9h9.2v2.02h-9.2zM318.36 576.9h9.2v2.02h-9.2zM327.54 576.9h9.2v2.02h-9.2zM382.62 580.9h9.2v2.02h-9.2zM318.36 584.9h9.2v2.02h-9.2zM318.36 588.9h9.2v1.94h-9.2zM336.72 588.9h9.2v1.94h-9.2zM327.54 596.59h9.2v1.94h-9.2zM309.18 602.36h9.2v1.94h-9.2zM327.54 608.19h9.2v2.01h-9.2zM309.18 614.17h9.2v2.01h-9.2zM336.72 614.17h9.2v2.01h-9.2zM318.36 616.16h9.2v2.01h-9.2zM364.26 618.15h9.2v2.01h-9.2zM327.54 624.13h9.2v2.01h-9.2zM327.54 630.1h9.2v2.01h-9.2zM318.36 638.07h9.2v2.01h-9.2zM318.36 642.06h9.2v2.01h-9.2zM318.36 650.02h9.2v2.01h-9.2zM318.36 661.93h9.2v2h-9.2zM336.72 673.79h9.2v2h-9.2zM345.9 673.79h9.2v2h-9.2zM355.08 677.74h9.2v2h-9.2zM364.26 677.74h9.2v2h-9.2zM300 679.71h9.2v2h-9.2zM309.18 679.71h9.2v2h-9.2zM318.36 679.71h9.2v2h-9.2zM336.72 679.71h9.2v2h-9.2zM318.36 691.57h9.2v2h-9.2zM355.08 691.57h9.2v2h-9.2zM309.18 695.52h9.2v2h-9.2z"/>
<path fill="#dc5aa0" d="M300 327.96h9.2v1.95h-9.2zM309.18 349.2h9.2v2.01h-9.2zM318.36 351.19h9.2v2.01h-9.2zM309.18 355.16h9.2v2.01h-9.2zM309.18 357.14h9.2v2.01h-9.2zM318.36 363.1h9.2v2.01h-9.2zM318.36 377h9.2v2.03h-9.2zM327.54 409.12h9.2v2.03h-9.2zM327.54 446.85h9.2v1.98h-9.2zM327.54 448.82h9.2v1.98h-9.2zM336.72 486.77h9.2v2.02h-9.2zM345.9 502.8h9.2v2.03h-9.2zM345.9 510.82h9.2v2.03h-9.2zM345.9 514.84h9.2v2.03h-9.2zM345.9 516.84h9.2v2.03h-9.2zM345.9 530.88h9.2v2.03h-9.2zM345.9 558.9h9.2v2.02h-9.2zM364.26 572.9h9.2v2.02h-9.2zM364.26 600.43h9.2v1.94h-9.2zM364.26 602.36h9.2v1.94h-9.2zM373.44 608.19h9.2v2.01h-9.2zM373.44 648.03h9.2v2.01h-9.2z"/>
<path fill="#f0c8dc" d="M327.54 327.96h9.2v1.95h-9.2zM382.62 327.96h9.2v1.95h-9.2zM318.36 329.89h9.2v1.95h-9.2zM327.54 343.41h9.2v1.95h-9.2zM327.54 353.17h9.2v2.01h-9.2zM327.54 361.11h9.2v2.01h-9.2zM300 365.09h9.2v2.01h-9.2zM318.36 367.07h9.2v2.01h-9.2zM327.54 377h9.2v2.03h-9.2zM309.18 383.02h9.2v2.03h-9.2zM309.18 444.89h9.2v1.98h-9.2zM300 448.82h9.2v1.98h-9.2zM309.18 448.82h9.2v1.98h-9.2zM355.08 474.74h9.2v2.02h-9.2zM345.9 488.77h9.2v2.02h-9.2zM345.9 494.78h9.2v2.02h-9.2zM373.44 496.79h9.2v2.02h-9.2zM364.26 510.82h9.2v2.03h-9.2zM373.44 512.83h9.2v2.03h-9.2zM382.62 518.85h9.2v2.03h-9.2zM300 520.85h9.2v2.03h-9.2zM355.08 520.85h9.2v2.03h-9.2zM373.44 520.85h9.2v2.03h-9.2zM373.44 526.87h9.2v2.03h-9.2zM382.62 526.87h9.2v2.03h-9.2zM373.44 532.89h9.2v2.03h-9.2zM373.44 536.9h9.2v2.02h-9.2zM382.62 536.9h9.2v2.02h-9.2zM355.08 538.9h9.2v2.02h-9.2zM382.62 542.9h9.2v2.02h-9.2zM355.08 544.9h9.2v2.02h-9.2zM355.08 546.9h9.2v2.02h-9.2zM345.9 548.9h9.2v2.02h-9.2zM382.62 548.9h9.2v2.02h-9.2zM345.9 550.9h9.2v2.02h-9.2zM345.9 554.9h9.2v2.02h-9.2zM300 556.9h9.2v2.02h-9.2zM345.9 560.9h9.2v2.02h-9.2zM382.62 562.9h9.2v2.02h-9.2zM355.08 576.9h9.2v2.02h-9.2zM373.44 582.9h9.2v2.02h-9.2zM300 590.82h9.2v1.94h-9.2zM382.62 590.82h9.2v1.94h-9.2zM345.9 592.74h9.2v1.94h-9.2zM345.9 594.67h9.2v1.94h-9.2zM373.44 594.67h9.2v1.94h-9.2zM345.9 596.59h9.2v1.94h-9.2zM355.08 602.36h9.2v1.94h-9.2zM355.08 608.19h9.2v2.01h-9.2zM382.62 610.18h9.2v2.01h-9.2zM345.9 616.16h9.2v2.01h-9.2zM364.26 616.16h9.2v2.01h-9.2zM364.26 624.13h9.2v2.01h-9.2zM382.62 624.13h9.2v2.01h-9.2zM355.08 628.11h9.2v2.01h-9.2zM345.9 630.1h9.2v2.01h-9.2zM364.26 642.06h9.2v2.01h-9.2zM345.9 648.03h9.2v2.01h-9.2zM345.9 650.02h9.2v2.01h-9.2zM355.08 652.02h9.2v2.01h-9.2zM345.9 654.01h9.2v2.01h-9.2zM327.54 661.93h9.2v2h-9.2z"/>
<path fill="#bef0a0" d="M355.08 327.96h9.2v1.95h-9.2zM382.62 349.2h9.2v2.01h-9.2zM364.26 357.14h9.2v2.01h-9.2zM336.72 359.13h9.2v2.01h-9.2zM355.08 367.07h9.2v2.01h-9.2zM373.44 377h9.2v2.03h-9.2zM364.26 383.02h9.2v2.03h-9.2zM364.26 389.05h9.2v2.03h-9.2zM355.08 393.06h9.2v2.03h-9.2zM382.62 413.14h9.2v2.03h-9.2zM382.62 423.18h9.2v2.03h-9.2zM318.36 470.73h9.2v2.02h-9.2zM336.72 502.8h9.2v2.03h-9.2zM327.54 504.81h9.2v2.03h-9.2zM309.18 576.9h9.2v2.02h-9.2zM309.18 584.9h9.2v2.02h-9.2zM318.36 620.14h9.2v2.01h-9.2zM327.54 622.14h9.2v2.01h-9.2zM327.54 636.08h9.2v2.01h-9.2z"/>
<path fill="#d2f0be" d="M364.26 327.96h9.2v1.95h-9.2zM364.26 351.19h9.2v2.01h-9.2zM373.44 355.16h9.2v2.01h-9.2zM355.08 357.14h9.2v2.01h-9.2zM373.44 357.14h9.2v2.01h-9.2zM336.72 361.11h9.2v2.01h-9.2zM382.62 379.01h9.2v2.03h-9.2zM382.62 383.02h9.2v2.03h-9.2zM355.08 395.07h9.2v2.03h-9.2zM382.62 399.08h9.2v2.03h-9.2zM364.26 403.1h9.2v2.03h-9.2zM382.62 403.1h9.2v2.03h-9.2zM373.44 409.12h9.2v2.03h-9.2zM355.08 419.16h9.2v2.03h-9.2zM336.72 435.08h9.2v1.98h-9.2zM355.08 437.05h9.2v1.98h-9.2zM364.26 437.05h9.2v1.98h-9.2zM364.26 442.93h9.2v1.98h-9.2zM355.08 444.89h9.2v1.98h-9.2zM382.62 444.89h9.2v1.98h-9.2zM364.26 448.82h9.2v1.98h-9.2zM373.44 450.78h9.2v1.98h-9.2zM300 454.7h9.2v2.02h-9.2zM364.26 454.7h9.2v2.02h-9.2zM355.08 464.72h9.2v2.02h-9.2zM318.36 466.73h9.2v2.02h-9.2zM345.9 472.74h9.2v2.02h-9.2zM345.9 490.77h9.2v2.02h-9.2zM355.08 498.79h9.2v2.02h-9.2zM382.62 500.8h9.2v2.02h-9.2zM300 508.82h9.2v2.03h-9.2zM309.18 516.84h9.2v2.03h-9.2zM336.72 516.84h9.2v2.03h-9.2zM318.36 522.86h9.2v2.03h-9.2zM318.36 528.88h9.2v2.03h-9.2zM300 534.89h9.2v2.03h-9.2zM327.54 550.9h9.2v2.02h-9.2zM309.18 572.9h9.2v2.02h-9.2zM300 596.59h9.2v1.94h-9.2zM309.18 598.51h9.2v1.94h-9.2zM309.18 604.28h9.2v1.94h-9.2zM327.54 604.28h9.2v1.94h-9.2zM318.36 644.05h9.2v2.01h-9.2zM327.54 654.01h9.2v2.01h-9.2zM364.26 656h9.2v2h-9.2zM318.36 657.98h9.2v2h-9.2zM355.08 661.93h9.2v2h-9.2zM300 663.9h9.2v2h-9.2zM336.72 665.88h9.2v2h-9.2zM345.9 669.83h9.2v2h-9.2zM318.36 673.79h9.2v2h-9.2zM355.08 673.79h9.2v2h-9.2zM300 675.76h9.2v2h-9.2zM327.54 675.76h9.2v2h-9.2zM336.72 677.74h9.2v2h-9.2zM309.18 683.67h9.2v2h-9.2zM327.54 683.67h9.2v2h-9.2zM300 685.64h9.2v2h-9.2zM309.18 685.64h9.2v2h-9.2zM309.18 691.57h9.2v2h-9.2zM327.54 695.52h9.2v2h-9.2z"/>
<path fill="#e68cb4" d="M327.54 329.89h9.2v1.95h-9.2zM300 351.19h9.2v2.01h-9.2zM300 357.14h9.2v2.01h-9.2zM300 361.11h9.2v2.01h-9.2zM318.36 373.03h9.2v2.01h-9.2zM318.36 381.02h9.2v2.03h-9.2zM327.54 381.02h9.2v2.03h-9.2zM309.18 385.03h9.2v2.03h-9.2zM327.54 413.14h9.2v2.03h-9.2zM327.54 423.18h9.2v2.03h-9.2zM318.36 439.01h9.2v1.98h-9.2zM364.26 502.8h9.2v2.03h-9.2zM364.26 506.81h9.2v2.03h-9.2zM364.26 520.85h9.2v2.03h-9.2zM373.44 524.86h9.2v2.03h-9.2zM364.26 532.89h9.2v2.03h-9.2zM355.08 536.9h9.2v2.02h-9.2zM355.08 570.9h9.2v2.02h-9.2zM364.26 574.9h9.2v2.02h-9.2zM345.9 576.9h9.2v2.02h-9.2zM364.26 582.9h9.2v2.02h-9.2zM345.9 586.9h9.2v2.02h-9.2zM345.9 640.06h9.2v2.01h-9.2zM373.44 657.98h9.2v2h-9.2zM373.44 665.88h9.2v2h-9.2z"/>
<path fill="#fae6f0" d="M345.9 329.89h9.2v1.95h-9.2zM309.18 333.75h9.2v1.95h-9.2zM327.54 371.04h9.2v2.01h-9.2zM300 383.02h9.2v2.03h-9.2zM300 389.05h9.2v2.03h-9.2zM300 391.05h9.2v2.03h-9.2zM327.54 395.07h9.2v2.03h-9.2zM300 399.08h9.2v2.03h-9.2zM309.18 405.11h9.2v2.03h-9.2zM309.18 407.12h9.2v2.03h-9.2zM300 409.12h9.2v2.03h-9.2zM382.62 409.12h9.2v2.03h-9.2zM300 411.13h9.2v2.03h-9.2zM309.18 411.13h9.2v2.03h-9.2zM300 419.16h9.2v2.03h-9.2zM300 423.18h9.2v2.03h-9.2zM373.44 427.19h9.2v2.03h-9.2zM300 431.16h9.2v1.98h-9.2zM300 458.71h9.2v2.02h-9.2zM382.62 476.75h9.2v2.02h-9.2zM355.08 508.82h9.2v2.03h-9.2zM373.44 530.88h9.2v2.03h-9.2zM345.9 540.9h9.2v2.02h-9.2zM336.72 550.9h9.2v2.02h-9.2zM345.9 552.9h9.2v2.02h-9.2zM373.44 554.9h9.2v2.02h-9.2zM364.26 560.9h9.2v2.02h-9.2zM382.62 566.9h9.2v2.02h-9.2zM355.08 572.9h9.2v2.02h-9.2zM300 578.9h9.2v2.02h-9.2zM373.44 586.9h9.2v2.02h-9.2zM382.62 586.9h9.2v2.02h-9.2zM382.62 608.19h9.2v2.01h-9.2zM364.26 612.18h9.2v2.01h-9.2zM345.9 624.13h9.2v2.01h-9.2zM382.62 626.12h9.2v2.01h-9.2zM300 630.1h9.2v2.01h-9.2zM345.9 632.1h9.2v2.01h-9.2zM382.62 632.1h9.2v2.01h-9.2zM345.9 634.09h9.2v2.01h-9.2zM364.26 634.09h9.2v2.01h-9.2zM300 640.06h9.2v2.01h-9.2zM336.72 640.06h9.2v2.01h-9.2zM382.62 644.05h9.2v2.01h-9.2zM382.62 650.02h9.2v2.01h-9.2zM300 652.02h9.2v2.01h-9.2zM336.72 652.02h9.2v2.01h-9.2zM364.26 654.01h9.2v2.01h-9.2z"/>
<path fill="#fadce6" d="M355.08 329.89h9.2v1.95h-9.2zM300 379.01h9.2v2.03h-9.2zM300 387.04h9.2v2.03h-9.2zM309.18 389.05h9.2v2.03h-9.2zM300 403.1h9.2v2.03h-9.2zM300 415.15h9.2v2.03h-9.2zM300 427.19h9.2v2.03h-9.2zM364.26 484.76h9.2v2.02h-9.2zM373.44 484.76h9.2v2.02h-9.2zM300 490.77h9.2v2.02h-9.2zM355.08 494.78h9.2v2.02h-9.2zM300 496.79h9.2v2.02h-9.2zM382.62 506.81h9.2v2.03h-9.2zM382.62 510.82h9.2v2.03h-9.2zM382.62 512.83h9.2v2.03h-9.2zM373.44 514.84h9.2v2.03h-9.2zM382.62 514.84h9.2v2.03h-9.2zM300 522.86h9.2v2.03h-9.2zM382.62 524.86h9.2v2.03h-9.2zM336.72 530.88h9.2v2.03h-9.2zM382.62 538.9h9.2v2.02h-9.2zM373.44 546.9h9.2v2.02h-9.2zM382.62 552.9h9.2v2.02h-9.2zM373.44 556.9h9.2v2.02h-9.2zM382.62 568.9h9.2v2.02h-9.2zM373.44 572.9h9.2v2.02h-9.2zM355.08 598.51h9.2v1.94h-9.2zM382.62 600.43h9.2v1.94h-9.2zM373.44 602.36h9.2v1.94h-9.2zM382.62 616.16h9.2v2.01h-9.2zM382.62 618.15h9.2v2.01h-9.2zM364.26 628.11h9.2v2.01h-9.2zM355.08 636.08h9.2v2.01h-9.2zM382.62 642.06h9.2v2.01h-9.2zM355.08 646.04h9.2v2.01h-9.2zM364.26 648.03h9.2v2.01h-9.2z"/>
<path fill="#fafafa" d="M382.62 329.89h9.2v1.95h-9.2zM309.18 331.82h9.2v1.95h-9.2zM345.9 333.75h9.2v1.95h-9.2zM373.44 341.48h9.2v1.95h-9.2zM318.36 347.27h9.2v1.95h-9.2zM382.62 363.1h9.2v2.01h-9.2zM355.08 399.08h9.2v2.03h-9.2zM300 401.09h9.2v2.03h-9.2zM364.26 458.71h9.2v2.02h-9.2zM318.36 460.71h9.2v2.02h-9.2zM364.26 460.71h9.2v2.02h-9.2zM373.44 460.71h9.2v2.02h-9.2zM300 468.73h9.2v2.02h-9.2zM345.9 470.73h9.2v2.02h-9.2zM345.9 480.75h9.2v2.02h-9.2zM300 482.76h9.2v2.02h-9.2zM300 484.76h9.2v2.02h-9.2zM309.18 488.77h9.2v2.02h-9.2zM373.44 498.79h9.2v2.02h-9.2zM355.08 512.83h9.2v2.03h-9.2zM336.72 518.85h9.2v2.03h-9.2zM300 526.87h9.2v2.03h-9.2zM300 530.88h9.2v2.03h-9.2zM355.08 532.89h9.2v2.03h-9.2zM364.26 540.9h9.2v2.02h-9.2zM300 542.9h9.2v2.02h-9.2zM382.62 546.9h9.2v2.02h-9.2zM336.72 548.9h9.2v2.02h-9.2zM373.44 552.9h9.2v2.02h-9.2zM300 558.9h9.2v2.02h-9.2zM373.44 558.9h9.2v2.02h-9.2zM336.72 560.9h9.2v2.02h-9.2zM382.62 560.9h9.2v2.02h-9.2zM373.44 564.9h9.2v2.02h-9.2zM336.72 568.9h9.2v2.02h-9.2zM336.72 576.9h9.2v2.02h-9.2zM336.72 578.9h9.2v2.02h-9.2zM382.62 588.9h9.2v1.94h-9.2zM336.72 604.28h9.2v1.94h-9.2zM364.26 606.2h9.2v2.01h-9.2zM364.26 608.19h9.2v2.01h-9.2zM336.72 610.18h9.2v2.01h-9.2zM345.9 612.18h9.2v2.01h-9.2zM355.08 612.18h9.2v2.01h-9.2zM355.08 638.07h9.2v2.01h-9.2zM345.9 644.05h9.2v2.01h-9.2zM355.08 650.02h9.2v2.01h-9.2zM345.9 663.9h9.2v2h-9.2zM336.72 671.81h9.2v2h-9.2z"/>
<path fill="#d23c8c" d="M300 331.82h9.2v1.95h-9.2zM300 343.41h9.2v1.95h-9.2zM318.36 357.14h9.2v2.01h-9.2zM309.18 425.18h9.2v2.03h-9.2zM327.54 435.08h9.2v1.98h-9.2zM336.72 454.7h9.2v2.02h-9.2zM336.72 456.7h9.2v2.02h-9.2zM336.72 458.71h9.2v2.02h-9.2zM336.72 460.71h9.2v2.02h-9.2zM336.72 462.72h9.2v2.02h-9.2zM336.72 474.74h9.2v2.02h-9.2zM336.72 476.75h9.2v2.02h-9.2zM336.72 478.75h9.2v2.02h-9.2zM336.72 480.75h9.2v2.02h-9.2zM336.72 484.76h9.2v2.02h-9.2zM336.72 488.77h9.2v2.02h-9.2zM336.72 490.77h9.2v2.02h-9.2zM336.72 492.78h9.2v2.02h-9.2zM336.72 494.78h9.2v2.02h-9.2zM336.72 496.79h9.2v2.02h-9.2zM336.72 498.79h9.2v2.02h-9.2zM336.72 500.8h9.2v2.02h-9.2zM345.9 518.85h9.2v2.03h-9.2zM364.26 518.85h9.2v2.03h-9.2zM345.9 522.86h9.2v2.03h-9.2zM364.26 536.9h9.2v2.02h-9.2zM345.9 542.9h9.2v2.02h-9.2zM364.26 586.9h9.2v2.02h-9.2zM364.26 592.74h9.2v1.94h-9.2zM373.44 606.2h9.2v2.01h-9.2zM373.44 612.18h9.2v2.01h-9.2zM373.44 618.15h9.2v2.01h-9.2zM373.44 620.14h9.2v2.01h-9.2zM373.44 624.13h9.2v2.01h-9.2zM373.44 630.1h9.2v2.01h-9.2zM373.44 632.1h9.2v2.01h-9.2zM373.44 634.09h9.2v2.01h-9.2zM373.44 636.08h9.2v2.01h-9.2zM373.44 638.07h9.2v2.01h-9.2zM373.44 640.06h9.2v2.01h-9.2zM373.44 644.05h9.2v2.01h-9.2zM373.44 646.04h9.2v2.01h-9.2zM373.44 650.02h9.2v2.01h-9.2zM373.44 652.02h9.2v2.01h-9.2zM373.44 654.01h9.2v2.01h-9.2zM382.62 657.98h9.2v2h-9.2zM382.62 659.95h9.2v2h-9.2zM382.62 665.88h9.2v2h-9.2zM382.62 667.86h9.2v2h-9.2zM382.62 669.83h9.2v2h-9.2zM382.62 671.81h9.2v2h-9.2zM382.62 673.79h9.2v2h-9.2zM382.62 675.76h9.2v2h-9.2zM382.62 679.71h9.2v2h-9.2zM382.62 681.69h9.2v2h-9.2zM382.62 683.67h9.2v2h-9.2zM382.62 685.64h9.2v2h-9.2zM382.62 687.62h9.2v2h-9.2zM382.62 689.6h9.2v2h-9.2zM382.62 691.57h9.2v2h-9.2zM382.62 693.55h9.2v2h-9.2z"/>
<path fill="#e682b4" d="M318.36 331.82h9.2v1.95h-9.2zM318.36 355.16h9.2v2.01h-9.2zM318.36 389.05h9.2v2.03h-9.2zM309.18 391.05h9.2v2.03h-9.2zM327.54 403.1h9.2v2.03h-9.2zM327.54 415.15h9.2v2.03h-9.2zM327.54 425.18h9.2v2.03h-9.2zM318.36 427.19h9.2v2.03h-9.2zM309.18 437.05h9.2v1.98h-9.2zM364.26 558.9h9.2v2.02h-9.2zM355.08 560.9h9.2v2.02h-9.2zM364.26 578.9h9.2v2.02h-9.2zM355.08 640.06h9.2v2.01h-9.2zM373.44 669.83h9.2v2h-9.2zM373.44 693.55h9.2v2h-9.2z"/>
<path fill="#e6fae6" d="M373.44 331.82h9.2v1.95h-9.2zM345.9 415.15h9.2v2.03h-9.2zM327.54 458.71h9.2v2.02h-9.2zM300 460.71h9.2v2.02h-9.2zM300 462.72h9.2v2.02h-9.2zM327.54 466.73h9.2v2.02h-9.2zM382.62 482.76h9.2v2.02h-9.2zM318.36 498.79h9.2v2.02h-9.2zM336.72 508.82h9.2v2.03h-9.2zM300 536.9h9.2v2.02h-9.2zM327.54 560.9h9.2v2.02h-9.2zM336.72 562.9h9.2v2.02h-9.2zM300 574.9h9.2v2.02h-9.2zM300 576.9h9.2v2.02h-9.2zM318.36 640.06h9.2v2.01h-9.2zM345.9 657.98h9.2v2h-9.2zM355.08 657.98h9.2v2h-9.2zM318.36 663.9h9.2v2h-9.2zM336.72 663.9h9.2v2h-9.2zM300 665.88h9.2v2h-9.2zM355.08 667.86h9.2v2h-9.2zM364.26 669.83h9.2v2h-9.2zM345.9 681.69h9.2v2h-9.2zM318.36 685.64h9.2v2h-9.2zM336.72 689.6h9.2v2h-9.2zM336.72 695.52h9.2v2h-9.2z"/>
<path fill="#fadcf0" d="M382.62 331.82h9.2v1.95h-9.2zM300 339.55h9.2v1.95h-9.2zM318.36 341.48h9.2v1.95h-9.2zM300 359.13h9.2v2.01h-9.2zM327.54 367.07h9.2v2.01h-9.2zM300 369.06h9.2v2.01h-9.2zM300 407.12h9.2v2.03h-9.2zM300 421.17h9.2v2.03h-9.2zM300 429.2h9.2v1.98h-9.2zM355.08 456.7h9.2v2.02h-9.2zM345.9 458.71h9.2v2.02h-9.2zM345.9 460.71h9.2v2.02h-9.2zM345.9 484.76h9.2v2.02h-9.2zM364.26 492.78h9.2v2.02h-9.2zM373.44 494.78h9.2v2.02h-9.2zM373.44 502.8h9.2v2.03h-9.2zM382.62 502.8h9.2v2.03h-9.2zM382.62 504.81h9.2v2.03h-9.2zM382.62 508.82h9.2v2.03h-9.2zM355.08 522.86h9.2v2.03h-9.2zM382.62 530.88h9.2v2.03h-9.2zM336.72 536.9h9.2v2.02h-9.2zM345.9 538.9h9.2v2.02h-9.2zM382.62 554.9h9.2v2.02h-9.2zM355.08 562.9h9.2v2.02h-9.2zM373.44 570.9h9.2v2.02h-9.2zM373.44 574.9h9.2v2.02h-9.2zM345.9 602.36h9.2v1.94h-9.2zM382.62 614.17h9.2v2.01h-9.2zM355.08 620.14h9.2v2.01h-9.2z"/>
<path fill="#faf0f0" d="M336.72 333.75h9.2v1.95h-9.2zM373.44 335.68h9.2v1.95h-9.2zM327.54 337.62h9.2v1.95h-9.2zM345.9 339.55h9.2v1.95h-9.2zM300 385.03h9.2v2.03h-9.2zM309.18 401.09h9.2v2.03h-9.2zM300 405.11h9.2v2.03h-9.2zM300 417.15h9.2v2.03h-9.2zM345.9 425.18h9.2v2.03h-9.2zM382.62 464.72h9.2v2.02h-9.2zM373.44 466.73h9.2v2.02h-9.2zM364.26 468.73h9.2v2.02h-9.2zM355.08 470.73h9.2v2.02h-9.2zM300 472.74h9.2v2.02h-9.2zM300 476.75h9.2v2.02h-9.2zM355.08 486.77h9.2v2.02h-9.2zM364.26 486.77h9.2v2.02h-9.2zM300 494.78h9.2v2.02h-9.2zM355.08 504.81h9.2v2.03h-9.2zM373.44 506.81h9.2v2.03h-9.2zM373.44 508.82h9.2v2.03h-9.2zM364.26 516.84h9.2v2.03h-9.2zM300 518.85h9.2v2.03h-9.2zM336.72 522.86h9.2v2.03h-9.2zM300 568.9h9.2v2.02h-9.2zM373.44 568.9h9.2v2.02h-9.2zM300 572.9h9.2v2.02h-9.2zM300 582.9h9.2v2.02h-9.2zM355.08 590.82h9.2v1.94h-9.2zM382.62 598.51h9.2v1.94h-9.2zM382.62 606.2h9.2v2.01h-9.2zM300 622.14h9.2v2.01h-9.2zM300 624.13h9.2v2.01h-9.2zM364.26 626.12h9.2v2.01h-9.2zM382.62 628.11h9.2v2.01h-9.2zM355.08 642.06h9.2v2.01h-9.2zM355.08 648.03h9.2v2.01h-9.2zM364.26 650.02h9.2v2.01h-9.2zM327.54 652.02h9.2v2.01h-9.2zM355.08 654.01h9.2v2.01h-9.2zM355.08 671.81h9.2v2h-9.2z"/>
<path fill="#d2468c" d="M300 335.68h9.2v1.95h-9.2zM327.54 444.89h9.2v1.98h-9.2zM364.26 588.9h9.2v1.94h-9.2zM373.44 628.11h9.2v2.01h-9.2zM373.44 642.06h9.2v2.01h-9.2zM382.62 661.93h9.2v2h-9.2zM382.62 677.74h9.2v2h-9.2z"/>
<path fill="#dc82b4" d="M300 337.62h9.2v1.95h-9.2zM318.36 349.2h9.2v2.01h-9.2zM309.18 353.17h9.2v2.01h-9.2zM309.18 371.04h9.2v2.01h-9.2zM309.18 399.08h9.2v2.03h-9.2zM300 433.12h9.2v1.98h-9.2zM318.36 448.82h9.2v1.98h-9.2zM345.9 564.9h9.2v2.02h-9.2zM364.26 564.9h9.2v2.02h-9.2zM373.44 590.82h9.2v1.94h-9.2zM373.44 598.51h9.2v1.94h-9.2zM373.44 604.28h9.2v1.94h-9.2zM364.26 640.06h9.2v2.01h-9.2zM382.62 640.06h9.2v2.01h-9.2z"/>
<path fill="#96dc6e" d="M355.08 337.62h9.2v1.95h-9.2zM355.08 349.2h9.2v2.01h-9.2zM364.26 365.09h9.2v2.01h-9.2zM309.18 464.72h9.2v2.02h-9.2zM327.54 472.74h9.2v2.02h-9.2zM327.54 506.81h9.2v2.03h-9.2zM309.18 514.84h9.2v2.03h-9.2zM318.36 518.85h9.2v2.03h-9.2zM327.54 518.85h9.2v2.03h-9.2zM318.36 530.88h9.2v2.03h-9.2zM327.54 546.9h9.2v2.02h-9.2zM309.18 552.9h9.2v2.02h-9.2zM327.54 578.9h9.2v2.02h-9.2zM327.54 588.9h9.2v1.94h-9.2z"/>
<path fill="#8cdc64" d="M382.62 337.62h9.2v1.95h-9.2zM382.62 339.55h9.2v1.95h-9.2zM373.44 373.03h9.2v2.01h-9.2zM364.26 409.12h9.2v2.03h-9.2zM373.44 413.14h9.2v2.03h-9.2zM309.18 458.71h9.2v2.02h-9.2zM309.18 474.74h9.2v2.02h-9.2zM309.18 490.77h9.2v2.02h-9.2zM309.18 502.8h9.2v2.03h-9.2zM309.18 508.82h9.2v2.03h-9.2zM318.36 508.82h9.2v2.03h-9.2zM318.36 534.89h9.2v2.03h-9.2zM318.36 560.9h9.2v2.02h-9.2zM318.36 592.74h9.2v1.94h-9.2zM309.18 612.18h9.2v2.01h-9.2zM318.36 618.15h9.2v2.01h-9.2zM309.18 632.1h9.2v2.01h-9.2zM309.18 634.09h9.2v2.01h-9.2z"/>
<path fill="#b4e696" d="M309.18 339.55h9.2v1.95h-9.2zM309.18 345.34h9.2v1.95h-9.2zM336.72 345.34h9.2v1.95h-9.2zM382.62 345.34h9.2v1.95h-9.2zM355.08 347.27h9.2v1.95h-9.2zM345.9 359.13h9.2v2.01h-9.2zM364.26 359.13h9.2v2.01h-9.2zM355.08 365.09h9.2v2.01h-9.2zM364.26 367.07h9.2v2.01h-9.2zM373.44 367.07h9.2v2.01h-9.2zM382.62 367.07h9.2v2.01h-9.2zM355.08 375.01h9.2v2.01h-9.2zM382.62 377h9.2v2.03h-9.2zM355.08 383.02h9.2v2.03h-9.2zM382.62 387.04h9.2v2.03h-9.2zM336.72 389.05h9.2v2.03h-9.2zM364.26 395.07h9.2v2.03h-9.2zM382.62 395.07h9.2v2.03h-9.2zM373.44 399.08h9.2v2.03h-9.2zM373.44 411.13h9.2v2.03h-9.2zM355.08 413.14h9.2v2.03h-9.2zM364.26 413.14h9.2v2.03h-9.2zM382.62 442.93h9.2v1.98h-9.2zM382.62 446.85h9.2v1.98h-9.2zM373.44 452.74h9.2v1.98h-9.2zM309.18 468.73h9.2v2.02h-9.2zM364.26 472.74h9.2v2.02h-9.2zM309.18 492.78h9.2v2.02h-9.2zM318.36 492.78h9.2v2.02h-9.2zM309.18 496.79h9.2v2.02h-9.2zM309.18 506.81h9.2v2.03h-9.2zM309.18 510.82h9.2v2.03h-9.2zM309.18 520.85h9.2v2.03h-9.2zM327.54 520.85h9.2v2.03h-9.2zM309.18 530.88h9.2v2.03h-9.2zM327.54 536.9h9.2v2.02h-9.2zM327.54 542.9h9.2v2.02h-9.2zM318.36 568.9h9.2v2.02h-9.2zM309.18 570.9h9.2v2.02h-9.2zM327.54 584.9h9.2v2.02h-9.2zM327.54 592.74h9.2v1.94h-9.2zM327.54 594.67h9.2v1.94h-9.2zM318.36 596.59h9.2v1.94h-9.2zM309.18 600.43h9.2v1.94h-9.2zM318.36 602.36h9.2v1.94h-9.2zM318.36 610.18h9.2v2.01h-9.2zM327.54 616.16h9.2v2.01h-9.2zM309.18 622.14h9.2v2.01h-9.2zM309.18 630.1h9.2v2.01h-9.2zM318.36 634.09h9.2v2.01h-9.2zM309.18 642.06h9.2v2.01h-9.2zM309.18 648.03h9.2v2.01h-9.2zM327.54 650.02h9.2v2.01h-9.2zM318.36 654.01h9.2v2.01h-9.2zM309.18 677.74h9.2v2h-9.2zM327.54 677.74h9.2v2h-9.2z"/>
<path fill="#f0dce6" d="M318.36 339.55h9.2v1.95h-9.2zM300 349.2h9.2v2.01h-9.2zM373.44 518.85h9.2v2.03h-9.2zM373.44 522.86h9.2v2.03h-9.2zM355.08 526.87h9.2v2.03h-9.2z"/>
<path fill="#aae682" d="M336.72 339.55h9.2v1.95h-9.2zM364.26 355.16h9.2v2.01h-9.2zM364.26 375.01h9.2v2.01h-9.2zM364.26 429.2h9.2v1.98h-9.2zM318.36 464.72h9.2v2.02h-9.2zM336.72 510.82h9.2v2.03h-9.2zM318.36 514.84h9.2v2.03h-9.2zM327.54 522.86h9.2v2.03h-9.2zM318.36 544.9h9.2v2.02h-9.2zM309.18 560.9h9.2v2.02h-9.2zM309.18 564.9h9.2v2.02h-9.2zM318.36 608.19h9.2v2.01h-9.2zM327.54 612.18h9.2v2.01h-9.2zM309.18 654.01h9.2v2.01h-9.2z"/>
<path fill="#dc6eaa" d="M300 341.48h9.2v1.95h-9.2zM327.54 365.09h9.2v2.01h-9.2zM309.18 367.07h9.2v2.01h-9.2zM309.18 369.06h9.2v2.01h-9.2zM318.36 379.01h9.2v2.03h-9.2zM318.36 387.04h9.2v2.03h-9.2zM318.36 393.06h9.2v2.03h-9.2zM318.36 395.07h9.2v2.03h-9.2zM318.36 401.09h9.2v2.03h-9.2zM318.36 403.1h9.2v2.03h-9.2zM318.36 405.11h9.2v2.03h-9.2zM318.36 407.12h9.2v2.03h-9.2zM318.36 413.14h9.2v2.03h-9.2zM318.36 415.15h9.2v2.03h-9.2zM318.36 421.17h9.2v2.03h-9.2zM318.36 425.18h9.2v2.03h-9.2zM327.54 437.05h9.2v1.98h-9.2zM327.54 439.01h9.2v1.98h-9.2zM318.36 442.93h9.2v1.98h-9.2zM318.36 450.78h9.2v1.98h-9.2zM336.72 472.74h9.2v2.02h-9.2zM364.26 530.88h9.2v2.03h-9.2zM364.26 550.9h9.2v2.02h-9.2zM364.26 562.9h9.2v2.02h-9.2zM355.08 568.9h9.2v2.02h-9.2zM373.44 584.9h9.2v2.02h-9.2zM364.26 590.82h9.2v1.94h-9.2zM364.26 604.28h9.2v1.94h-9.2zM364.26 610.18h9.2v2.01h-9.2z"/>
<path fill="#e68cbe" d="M327.54 341.48h9.2v1.95h-9.2zM327.54 375.01h9.2v2.01h-9.2zM327.54 391.05h9.2v2.03h-9.2zM309.18 409.12h9.2v2.03h-9.2zM309.18 427.19h9.2v2.03h-9.2zM345.9 536.9h9.2v2.02h-9.2zM364.26 542.9h9.2v2.02h-9.2zM364.26 554.9h9.2v2.02h-9.2zM364.26 566.9h9.2v2.02h-9.2zM373.44 695.52h9.2v2h-9.2z"/>
<path fill="#f0d2dc" d="M336.72 341.48h9.2v1.95h-9.2zM309.18 442.93h9.2v1.98h-9.2zM364.26 526.87h9.2v2.03h-9.2zM364.26 630.1h9.2v2.01h-9.2z"/>
<path fill="#dcf0dc" d="M345.9 341.48h9.2v1.95h-9.2zM382.62 343.41h9.2v1.95h-9.2zM318.36 345.34h9.2v1.95h-9.2zM373.44 363.1h9.2v2.01h-9.2zM336.72 371.04h9.2v2.01h-9.2zM336.72 433.12h9.2v1.98h-9.2zM373.44 442.93h9.2v1.98h-9.2zM355.08 450.78h9.2v1.98h-9.2zM373.44 456.7h9.2v2.02h-9.2zM300 480.75h9.2v2.02h-9.2zM309.18 482.76h9.2v2.02h-9.2zM382.62 486.77h9.2v2.02h-9.2zM336.72 520.85h9.2v2.03h-9.2zM300 544.9h9.2v2.02h-9.2zM336.72 564.9h9.2v2.02h-9.2zM355.08 614.17h9.2v2.01h-9.2zM300 638.07h9.2v2.01h-9.2zM327.54 640.06h9.2v2.01h-9.2zM327.54 659.95h9.2v2h-9.2zM309.18 661.93h9.2v2h-9.2zM318.36 665.88h9.2v2h-9.2zM355.08 679.71h9.2v2h-9.2zM336.72 683.67h9.2v2h-9.2zM327.54 691.57h9.2v2h-9.2zM345.9 695.52h9.2v2h-9.2z"/>
<path fill="#bee6a0" d="M355.08 341.48h9.2v1.95h-9.2zM345.9 367.07h9.2v2.01h-9.2zM373.44 385.03h9.2v2.03h-9.2zM364.26 391.05h9.2v2.03h-9.2zM364.26 411.13h9.2v2.03h-9.2zM336.72 419.16h9.2v2.03h-9.2zM355.08 423.18h9.2v2.03h-9.2zM345.9 431.16h9.2v1.98h-9.2zM345.9 444.89h9.2v1.98h-9.2zM309.18 470.73h9.2v2.02h-9.2zM373.44 472.74h9.2v2.02h-9.2zM364.26 476.75h9.2v2.02h-9.2zM318.36 504.81h9.2v2.03h-9.2zM336.72 534.89h9.2v2.03h-9.2z"/>
<path fill="#e6aac8" d="M300 345.34h9.2v1.95h-9.2zM327.54 429.2h9.2v1.98h-9.2zM300 446.85h9.2v1.98h-9.2zM355.08 596.59h9.2v1.94h-9.2z"/>
<path fill="#e6a0c8" d="M327.54 345.34h9.2v1.95h-9.2zM327.54 349.2h9.2v2.01h-9.2zM300 375.01h9.2v2.01h-9.2zM327.54 379.01h9.2v2.03h-9.2zM309.18 397.08h9.2v2.03h-9.2zM327.54 397.08h9.2v2.03h-9.2zM327.54 399.08h9.2v2.03h-9.2zM327.54 431.16h9.2v1.98h-9.2zM318.36 440.97h9.2v1.98h-9.2zM364.26 508.82h9.2v2.03h-9.2zM373.44 528.88h9.2v2.03h-9.2zM364.26 534.89h9.2v2.03h-9.2zM364.26 538.9h9.2v2.02h-9.2zM373.44 538.9h9.2v2.02h-9.2zM355.08 548.9h9.2v2.02h-9.2zM364.26 548.9h9.2v2.02h-9.2zM355.08 552.9h9.2v2.02h-9.2zM355.08 554.9h9.2v2.02h-9.2zM364.26 568.9h9.2v2.02h-9.2zM364.26 570.9h9.2v2.02h-9.2zM382.62 584.9h9.2v2.02h-9.2zM355.08 588.9h9.2v1.94h-9.2zM373.44 592.74h9.2v1.94h-9.2zM373.44 596.59h9.2v1.94h-9.2zM345.9 598.51h9.2v1.94h-9.2zM382.62 622.14h9.2v2.01h-9.2zM382.62 634.09h9.2v2.01h-9.2zM364.26 638.07h9.2v2.01h-9.2zM382.62 652.02h9.2v2.01h-9.2zM373.44 685.64h9.2v2h-9.2zM373.44 687.62h9.2v2h-9.2zM373.44 689.6h9.2v2h-9.2z"/>
<path fill="#a0e678" d="M355.08 345.34h9.2v1.95h-9.2zM373.44 395.07h9.2v2.03h-9.2zM364.26 401.09h9.2v2.03h-9.2zM336.72 431.16h9.2v1.98h-9.2zM309.18 544.9h9.2v2.02h-9.2zM318.36 548.9h9.2v2.02h-9.2zM327.54 556.9h9.2v2.02h-9.2zM318.36 580.9h9.2v2.02h-9.2zM309.18 586.9h9.2v2.02h-9.2zM309.18 608.19h9.2v2.01h-9.2zM318.36 612.18h9.2v2.01h-9.2zM318.36 614.17h9.2v2.01h-9.2zM327.54 614.17h9.2v2.01h-9.2zM309.18 616.16h9.2v2.01h-9.2zM309.18 626.12h9.2v2.01h-9.2zM318.36 630.1h9.2v2.01h-9.2zM309.18 650.02h9.2v2.01h-9.2zM318.36 652.02h9.2v2.01h-9.2z"/>
<path fill="#f0bedc" d="M327.54 347.27h9.2v1.95h-9.2zM327.54 351.19h9.2v2.01h-9.2zM300 439.01h9.2v1.98h-9.2zM309.18 446.85h9.2v1.98h-9.2zM355.08 488.77h9.2v2.02h-9.2zM373.44 488.77h9.2v2.02h-9.2zM382.62 488.77h9.2v2.02h-9.2zM355.08 514.84h9.2v2.03h-9.2zM355.08 516.84h9.2v2.03h-9.2zM382.62 516.84h9.2v2.03h-9.2zM355.08 528.88h9.2v2.03h-9.2zM300 532.89h9.2v2.03h-9.2zM373.44 540.9h9.2v2.02h-9.2zM373.44 544.9h9.2v2.02h-9.2zM345.9 546.9h9.2v2.02h-9.2zM373.44 550.9h9.2v2.02h-9.2zM345.9 588.9h9.2v1.94h-9.2zM345.9 606.2h9.2v2.01h-9.2zM382.62 636.08h9.2v2.01h-9.2zM364.26 652.02h9.2v2.01h-9.2zM309.18 657.98h9.2v2h-9.2z"/>
<path fill="#78dc50" d="M345.9 351.19h9.2v2.01h-9.2zM382.62 460.71h9.2v2.02h-9.2zM327.54 570.9h9.2v2.02h-9.2zM318.36 656h9.2v2h-9.2z"/>
<path fill="#82dc50" d="M382.62 351.19h9.2v2.01h-9.2zM309.18 624.13h9.2v2.01h-9.2z"/>
<path fill="#e696be" d="M318.36 353.17h9.2v2.01h-9.2zM309.18 379.01h9.2v2.03h-9.2zM309.18 395.07h9.2v2.03h-9.2zM327.54 407.12h9.2v2.03h-9.2zM309.18 413.14h9.2v2.03h-9.2zM309.18 423.18h9.2v2.03h-9.2zM327.54 427.19h9.2v2.03h-9.2zM318.36 431.16h9.2v1.98h-9.2zM336.72 448.82h9.2v1.98h-9.2zM309.18 450.78h9.2v1.98h-9.2zM327.54 452.74h9.2v1.98h-9.2zM355.08 454.7h9.2v2.02h-9.2zM364.26 514.84h9.2v2.03h-9.2zM364.26 524.86h9.2v2.03h-9.2zM364.26 528.88h9.2v2.03h-9.2zM373.44 534.89h9.2v2.03h-9.2zM345.9 566.9h9.2v2.02h-9.2zM345.9 578.9h9.2v2.02h-9.2zM382.62 578.9h9.2v2.02h-9.2zM345.9 582.9h9.2v2.02h-9.2zM355.08 582.9h9.2v2.02h-9.2zM355.08 584.9h9.2v2.02h-9.2zM373.44 600.43h9.2v1.94h-9.2zM373.44 661.93h9.2v2h-9.2zM373.44 667.86h9.2v2h-9.2zM373.44 671.81h9.2v2h-9.2z"/>
<path fill="#f0d2e6" d="M300 355.16h9.2v2.01h-9.2zM327.54 357.14h9.2v2.01h-9.2zM327.54 359.13h9.2v2.01h-9.2zM300 367.07h9.2v2.01h-9.2zM309.18 381.02h9.2v2.03h-9.2zM327.54 385.03h9.2v2.03h-9.2zM300 397.08h9.2v2.03h-9.2zM300 413.14h9.2v2.03h-9.2zM309.18 431.16h9.2v1.98h-9.2zM300 437.05h9.2v1.98h-9.2zM300 442.93h9.2v1.98h-9.2zM300 444.89h9.2v1.98h-9.2zM300 452.74h9.2v1.98h-9.2zM382.62 458.71h9.2v2.02h-9.2zM355.08 462.72h9.2v2.02h-9.2zM364.26 464.72h9.2v2.02h-9.2zM300 474.74h9.2v2.02h-9.2zM355.08 502.8h9.2v2.03h-9.2zM355.08 510.82h9.2v2.03h-9.2zM373.44 516.84h9.2v2.03h-9.2zM382.62 522.86h9.2v2.03h-9.2zM355.08 530.88h9.2v2.03h-9.2zM382.62 532.89h9.2v2.03h-9.2zM355.08 540.9h9.2v2.02h-9.2zM364.26 544.9h9.2v2.02h-9.2zM382.62 544.9h9.2v2.02h-9.2zM364.26 556.9h9.2v2.02h-9.2zM382.62 556.9h9.2v2.02h-9.2zM382.62 558.9h9.2v2.02h-9.2zM373.44 560.9h9.2v2.02h-9.2zM345.9 574.9h9.2v2.02h-9.2zM382.62 574.9h9.2v2.02h-9.2zM345.9 580.9h9.2v2.02h-9.2zM355.08 580.9h9.2v2.02h-9.2zM382.62 582.9h9.2v2.02h-9.2zM355.08 592.74h9.2v1.94h-9.2zM382.62 592.74h9.2v1.94h-9.2zM355.08 594.67h9.2v1.94h-9.2zM382.62 594.67h9.2v1.94h-9.2zM382.62 596.59h9.2v1.94h-9.2zM382.62 602.36h9.2v1.94h-9.2zM345.9 608.19h9.2v2.01h-9.2zM382.62 612.18h9.2v2.01h-9.2zM345.9 614.17h9.2v2.01h-9.2zM364.26 614.17h9.2v2.01h-9.2zM355.08 616.16h9.2v2.01h-9.2zM345.9 620.14h9.2v2.01h-9.2zM382.62 620.14h9.2v2.01h-9.2zM364.26 622.14h9.2v2.01h-9.2zM355.08 624.13h9.2v2.01h-9.2zM364.26 632.1h9.2v2.01h-9.2zM345.9 636.08h9.2v2.01h-9.2zM382.62 654.01h9.2v2.01h-9.2zM373.44 659.95h9.2v2h-9.2zM364.26 693.55h9.2v2h-9.2z"/>
<path fill="#d25096" d="M300 363.1h9.2v2.01h-9.2zM318.36 383.02h9.2v2.03h-9.2zM318.36 385.03h9.2v2.03h-9.2zM318.36 423.18h9.2v2.03h-9.2zM336.72 470.73h9.2v2.02h-9.2zM345.9 512.83h9.2v2.03h-9.2zM345.9 520.85h9.2v2.03h-9.2zM345.9 524.86h9.2v2.03h-9.2zM345.9 526.87h9.2v2.03h-9.2zM345.9 532.89h9.2v2.03h-9.2zM345.9 534.89h9.2v2.03h-9.2zM373.44 614.17h9.2v2.01h-9.2zM373.44 616.16h9.2v2.01h-9.2zM382.62 656h9.2v2h-9.2z"/>
<path fill="#d24696" d="M327.54 363.1h9.2v2.01h-9.2zM309.18 403.1h9.2v2.03h-9.2zM336.72 464.72h9.2v2.02h-9.2zM336.72 468.73h9.2v2.02h-9.2zM336.72 482.76h9.2v2.02h-9.2zM345.9 504.81h9.2v2.03h-9.2zM345.9 508.82h9.2v2.03h-9.2zM345.9 528.88h9.2v2.03h-9.2zM364.26 552.9h9.2v2.02h-9.2zM364.26 594.67h9.2v1.94h-9.2zM364.26 596.59h9.2v1.94h-9.2zM364.26 598.51h9.2v1.94h-9.2zM373.44 610.18h9.2v2.01h-9.2zM373.44 622.14h9.2v2.01h-9.2zM373.44 626.12h9.2v2.01h-9.2zM382.62 695.52h9.2v2h-9.2z"/>
<path fill="#dc78b4" d="M318.36 365.09h9.2v2.01h-9.2zM327.54 383.02h9.2v2.03h-9.2zM327.54 387.04h9.2v2.03h-9.2zM318.36 411.13h9.2v2.03h-9.2zM309.18 419.16h9.2v2.03h-9.2zM327.54 421.17h9.2v2.03h-9.2zM309.18 440.97h9.2v1.98h-9.2zM327.54 450.78h9.2v1.98h-9.2zM318.36 452.74h9.2v1.98h-9.2zM364.26 504.81h9.2v2.03h-9.2zM364.26 512.83h9.2v2.03h-9.2zM355.08 542.9h9.2v2.02h-9.2zM345.9 572.9h9.2v2.02h-9.2zM345.9 610.18h9.2v2.01h-9.2z"/>
<path fill="#f0aac8" d="M300 371.04h9.2v2.01h-9.2zM309.18 387.04h9.2v2.03h-9.2zM309.18 417.15h9.2v2.03h-9.2zM309.18 435.08h9.2v1.98h-9.2zM318.36 444.89h9.2v1.98h-9.2zM318.36 446.85h9.2v1.98h-9.2zM382.62 564.9h9.2v2.02h-9.2zM345.9 570.9h9.2v2.02h-9.2zM364.26 580.9h9.2v2.02h-9.2zM345.9 590.82h9.2v1.94h-9.2zM355.08 600.43h9.2v1.94h-9.2zM382.62 604.28h9.2v1.94h-9.2zM345.9 638.07h9.2v2.01h-9.2zM382.62 638.07h9.2v2.01h-9.2zM382.62 648.03h9.2v2.01h-9.2zM345.9 652.02h9.2v2.01h-9.2zM373.44 673.79h9.2v2h-9.2z"/>
<path fill="#c8f0aa" d="M364.26 377h9.2v2.03h-9.2zM336.72 421.17h9.2v2.03h-9.2zM373.44 464.72h9.2v2.02h-9.2zM318.36 502.8h9.2v2.03h-9.2zM327.54 663.9h9.2v2h-9.2z"/>
<path fill="#64d23c" d="M355.08 385.03h9.2v2.03h-9.2zM345.9 391.05h9.2v2.03h-9.2zM318.36 546.9h9.2v2.02h-9.2zM309.18 554.9h9.2v2.02h-9.2zM327.54 580.9h9.2v2.02h-9.2z"/>
<path fill="#a0e682" d="M336.72 401.09h9.2v2.03h-9.2zM355.08 452.74h9.2v1.98h-9.2zM309.18 484.76h9.2v2.02h-9.2zM318.36 490.77h9.2v2.02h-9.2zM309.18 500.8h9.2v2.02h-9.2zM355.08 500.8h9.2v2.02h-9.2zM327.54 510.82h9.2v2.03h-9.2zM309.18 512.83h9.2v2.03h-9.2zM327.54 512.83h9.2v2.03h-9.2zM309.18 528.88h9.2v2.03h-9.2zM318.36 536.9h9.2v2.02h-9.2zM318.36 538.9h9.2v2.02h-9.2zM327.54 538.9h9.2v2.02h-9.2zM309.18 540.9h9.2v2.02h-9.2zM318.36 540.9h9.2v2.02h-9.2zM327.54 552.9h9.2v2.02h-9.2zM318.36 556.9h9.2v2.02h-9.2zM309.18 566.9h9.2v2.02h-9.2zM327.54 574.9h9.2v2.02h-9.2zM309.18 606.2h9.2v2.01h-9.2zM318.36 626.12h9.2v2.01h-9.2zM327.54 626.12h9.2v2.01h-9.2zM327.54 632.1h9.2v2.01h-9.2zM309.18 644.05h9.2v2.01h-9.2z"/>
<path fill="#e6fadc" d="M382.62 407.12h9.2v2.03h-9.2zM318.36 458.71h9.2v2.02h-9.2zM373.44 478.75h9.2v2.02h-9.2zM300 504.81h9.2v2.03h-9.2zM300 512.83h9.2v2.03h-9.2zM336.72 580.9h9.2v2.02h-9.2zM355.08 644.05h9.2v2.01h-9.2zM355.08 681.69h9.2v2h-9.2zM327.54 687.62h9.2v2h-9.2zM309.18 693.55h9.2v2h-9.2zM336.72 693.55h9.2v2h-9.2z"/>
<path fill="#dc64aa" d="M318.36 409.12h9.2v2.03h-9.2zM364.26 546.9h9.2v2.02h-9.2z"/>
<path fill="#6ed246" d="M345.9 417.15h9.2v2.03h-9.2z"/>
<path fill="#96dc78" d="M327.54 462.72h9.2v2.02h-9.2zM364.26 498.79h9.2v2.02h-9.2zM327.54 508.82h9.2v2.03h-9.2zM327.54 514.84h9.2v2.03h-9.2zM318.36 516.84h9.2v2.03h-9.2zM309.18 532.89h9.2v2.03h-9.2zM327.54 532.89h9.2v2.03h-9.2zM309.18 534.89h9.2v2.03h-9.2zM336.72 554.9h9.2v2.02h-9.2zM309.18 588.9h9.2v1.94h-9.2zM318.36 590.82h9.2v1.94h-9.2zM336.72 667.86h9.2v2h-9.2z"/>
<path fill="#fafaf0" d="M345.9 464.72h9.2v2.02h-9.2zM327.54 492.78h9.2v2.02h-9.2zM318.36 500.8h9.2v2.02h-9.2zM355.08 518.85h9.2v2.03h-9.2zM373.44 576.9h9.2v2.02h-9.2zM300 586.9h9.2v2.02h-9.2zM345.9 628.11h9.2v2.01h-9.2zM345.9 642.06h9.2v2.01h-9.2zM345.9 665.88h9.2v2h-9.2z"/>
<path fill="#82dc5a" d="M382.62 480.75h9.2v2.02h-9.2zM309.18 536.9h9.2v2.02h-9.2zM318.36 554.9h9.2v2.02h-9.2zM318.36 566.9h9.2v2.02h-9.2zM309.18 618.15h9.2v2.01h-9.2zM327.54 618.15h9.2v2.01h-9.2zM318.36 628.11h9.2v2.01h-9.2z"/>
<path fill="#6ed23c" d="M309.18 504.81h9.2v2.03h-9.2z"/>
<path fill="#dc50a0" d="M345.9 506.81h9.2v2.03h-9.2zM382.62 663.9h9.2v2h-9.2z"/>
<path fill="#78dc46" d="M318.36 510.82h9.2v2.03h-9.2z"/>
<path fill="#8cdc6e" d="M318.36 532.89h9.2v2.03h-9.2zM309.18 556.9h9.2v2.02h-9.2z"/>
<path fill="#a0dc78" d="M318.36 624.13h9.2v2.01h-9.2z"/>
<path fill="#e6a0be" d="M373.44 663.9h9.2v2h-9.2z"/>
<line x1="300" y1="377" x2="391.8" y2="377" stroke="#9a9a9a" stroke-width="0.5"/>
<line x1="300" y1="429.2" x2="391.8" y2="429.2" stroke="#9a9a9a" stroke-width="0.5"/>
<line x1="300" y1="502.8" x2="391.8" y2="502.8" stroke="#9a9a9a" stroke-width="0.5"/>
<line x1="300" y1="536.9" x2="391.8" y2="536.9" stroke="#9a9a9a" stroke-width="0.5"/>
<line x1="300" y1="588.9" x2="391.8" y2="588.9" stroke="#9a9a9a" stroke-width="0.5"/>
<line x1="300" y1="606.2" x2="391.8" y2="606.2" stroke="#9a9a9a" stroke-width="0.5"/>
<line x1="300" y1="656" x2="391.8" y2="656" stroke="#9a9a9a" stroke-width="0.5"/>
<path d="M313.3 311.3L355.7 311.3M313.3 311.3L313.3 319.1M305.4 319.1L327.6 319.1M305.4 319.1L305.4 324.1M314.4 319.1L314.4 324.1M327.6 319.1L327.6 321.3M323.4 321.3L332.5 321.3M323.4 321.3L323.4 324.1M332.5 321.3L332.5 324.1M355.7 311.3L355.7 316.3M341.4 316.3L369.7 316.3M341.4 316.3L341.4 324.1M369.7 316.3L369.7 317.1M357.3 317.1L382.6 317.1M357.3 317.1L357.3 320.5M350.4 320.5L368.5 320.5M350.4 320.5L350.4 324.1M359.5 320.5L359.5 324.1M368.5 320.5L368.5 324.1M382.6 317.1L382.6 320.5M377.4 320.5L386.6 320.5M377.4 320.5L377.4 324.1M386.6 320.5L386.6 324.1" fill="none" stroke="#666" stroke-width="0.75" stroke-linecap="square"/>
<text x="304.59" y="707.3" font-size="7.5" text-anchor="middle">7</text>
<text x="313.77" y="707.3" font-size="7.5" text-anchor="middle">5</text>
<text x="322.95" y="707.3" font-size="7.5" text-anchor="middle">1</text>
<text x="332.13" y="707.3" font-size="7.5" text-anchor="middle">2</text>
<text x="341.31" y="707.3" font-size="7.5" text-anchor="middle">10</text>
<text x="350.49" y="707.3" font-size="7.5" text-anchor="middle">6</text>
<text x="359.67" y="707.3" font-size="7.5" text-anchor="middle">3</text>
<text x="368.85" y="707.3" font-size="7.5" text-anchor="middle">8</text>
<text x="378.03" y="707.3" font-size="7.5" text-anchor="middle">4</text>
<text x="387.21" y="707.3" font-size="7.5" text-anchor="middle">9</text>
<text x="345.9" y="715.4" font-size="8" text-anchor="middle">Cell cluster</text>
<text x="0" y="0" font-size="8" text-anchor="middle" transform="translate(296.2 507) rotate(-90)" fill="#1a1a1a">Top marker genes for each cluster</text>
<defs><linearGradient id="pgb" x1="0" x2="0" y1="0" y2="1"><stop offset="0" stop-color="#cd3787"/><stop offset="0.2" stop-color="#de78af"/><stop offset="0.42" stop-color="#f7e6ef"/><stop offset="0.5" stop-color="#fafafa"/><stop offset="0.6" stop-color="#dff0d3"/><stop offset="0.8" stop-color="#9fd97a"/><stop offset="1" stop-color="#5fcd28"/></linearGradient></defs>
<rect x="278.2" y="588.2" width="5.4" height="100.5" fill="url(#pgb)"/>
<line x1="283.6" y1="588.4" x2="285.4" y2="588.4" stroke="#444" stroke-width="0.5"/>
<text x="285.6" y="590.5" font-size="6">2.0</text>
<line x1="283.6" y1="600.88" x2="285.4" y2="600.88" stroke="#444" stroke-width="0.5"/>
<text x="285.6" y="602.98" font-size="6">1.5</text>
<line x1="283.6" y1="613.35" x2="285.4" y2="613.35" stroke="#444" stroke-width="0.5"/>
<text x="285.6" y="615.45" font-size="6">1.0</text>
<line x1="283.6" y1="625.83" x2="285.4" y2="625.83" stroke="#444" stroke-width="0.5"/>
<text x="285.6" y="627.93" font-size="6">0.5</text>
<line x1="283.6" y1="638.3" x2="285.4" y2="638.3" stroke="#444" stroke-width="0.5"/>
<text x="285.6" y="640.4" font-size="6">0.0</text>
<line x1="283.6" y1="650.77" x2="285.4" y2="650.77" stroke="#444" stroke-width="0.5"/>
<text x="285.6" y="652.88" font-size="6">−0.5</text>
<line x1="283.6" y1="663.25" x2="285.4" y2="663.25" stroke="#444" stroke-width="0.5"/>
<text x="285.6" y="665.35" font-size="6">−1.0</text>
<line x1="283.6" y1="675.73" x2="285.4" y2="675.73" stroke="#444" stroke-width="0.5"/>
<text x="285.6" y="677.83" font-size="6">−1.5</text>
<line x1="283.6" y1="688.2" x2="285.4" y2="688.2" stroke="#444" stroke-width="0.5"/>
<text x="285.6" y="690.3" font-size="6">−2.0</text>
<rect x="392.6" y="324.6" width="6.3" height="373" fill="#fff" stroke="#8a8a8a" stroke-width="0.6"/>
<path d="M392.9 349.2 L398.6 361 L398.6 398.4 L392.9 377Z" fill="#b5b5b5"/>
<path d="M392.9 429.2 L398.6 435.8 L398.6 473.2 L392.9 454.7Z" fill="#b5b5b5"/>
<path d="M392.9 502.8 L398.6 510.6 L398.6 548 L392.9 536.9Z" fill="#b5b5b5"/>
<path d="M392.9 588.9 L398.6 585.4 L398.6 622.8 L392.9 606.2Z" fill="#b5b5b5"/>
<path d="M392.9 656 L398.6 660.2 L398.6 697.6 L392.9 697.5Z" fill="#b5b5b5"/>
<text x="432.2" y="316.5" font-size="8" text-anchor="middle">Top marker genes</text>
<text x="499.5" y="312.3" font-size="8" text-anchor="middle">Top 2 GO terms of</text>
<text x="499.5" y="321.7" font-size="8" text-anchor="middle">enriched genes</text>
<text x="582.4" y="317" font-size="8" text-anchor="middle">Overrepresented gRNAs</text>
<text x="654" y="317" font-size="8" text-anchor="middle">Cell cluster</text>
<rect x="401.6" y="323.6" width="65.9" height="374" fill="#fff" stroke="#5a5a5a" stroke-width="0.7"/>
<rect x="469.7" y="323.6" width="60.7" height="374" fill="#fff" stroke="#5a5a5a" stroke-width="0.7"/>
<rect x="532" y="323.6" width="93.2" height="374" fill="#fff" stroke="#5a5a5a" stroke-width="0.7"/>
<line x1="401.6" y1="361" x2="467.5" y2="361" stroke="#5a5a5a" stroke-width="0.7"/>
<line x1="469.7" y1="361" x2="530.4" y2="361" stroke="#5a5a5a" stroke-width="0.7"/>
<line x1="532" y1="361" x2="625.2" y2="361" stroke="#5a5a5a" stroke-width="0.7"/>
<line x1="401.6" y1="398.4" x2="467.5" y2="398.4" stroke="#5a5a5a" stroke-width="0.7"/>
<line x1="469.7" y1="398.4" x2="530.4" y2="398.4" stroke="#5a5a5a" stroke-width="0.7"/>
<line x1="532" y1="398.4" x2="625.2" y2="398.4" stroke="#5a5a5a" stroke-width="0.7"/>
<line x1="401.6" y1="435.8" x2="467.5" y2="435.8" stroke="#5a5a5a" stroke-width="0.7"/>
<line x1="469.7" y1="435.8" x2="530.4" y2="435.8" stroke="#5a5a5a" stroke-width="0.7"/>
<line x1="532" y1="435.8" x2="625.2" y2="435.8" stroke="#5a5a5a" stroke-width="0.7"/>
<line x1="401.6" y1="473.2" x2="467.5" y2="473.2" stroke="#5a5a5a" stroke-width="0.7"/>
<line x1="469.7" y1="473.2" x2="530.4" y2="473.2" stroke="#5a5a5a" stroke-width="0.7"/>
<line x1="532" y1="473.2" x2="625.2" y2="473.2" stroke="#5a5a5a" stroke-width="0.7"/>
<line x1="401.6" y1="510.6" x2="467.5" y2="510.6" stroke="#5a5a5a" stroke-width="0.7"/>
<line x1="469.7" y1="510.6" x2="530.4" y2="510.6" stroke="#5a5a5a" stroke-width="0.7"/>
<line x1="532" y1="510.6" x2="625.2" y2="510.6" stroke="#5a5a5a" stroke-width="0.7"/>
<line x1="401.6" y1="548" x2="467.5" y2="548" stroke="#5a5a5a" stroke-width="0.7"/>
<line x1="469.7" y1="548" x2="530.4" y2="548" stroke="#5a5a5a" stroke-width="0.7"/>
<line x1="532" y1="548" x2="625.2" y2="548" stroke="#5a5a5a" stroke-width="0.7"/>
<line x1="401.6" y1="585.4" x2="467.5" y2="585.4" stroke="#5a5a5a" stroke-width="0.7"/>
<line x1="469.7" y1="585.4" x2="530.4" y2="585.4" stroke="#5a5a5a" stroke-width="0.7"/>
<line x1="532" y1="585.4" x2="625.2" y2="585.4" stroke="#5a5a5a" stroke-width="0.7"/>
<line x1="401.6" y1="622.8" x2="467.5" y2="622.8" stroke="#5a5a5a" stroke-width="0.7"/>
<line x1="469.7" y1="622.8" x2="530.4" y2="622.8" stroke="#5a5a5a" stroke-width="0.7"/>
<line x1="532" y1="622.8" x2="625.2" y2="622.8" stroke="#5a5a5a" stroke-width="0.7"/>
<line x1="401.6" y1="660.2" x2="467.5" y2="660.2" stroke="#5a5a5a" stroke-width="0.7"/>
<line x1="469.7" y1="660.2" x2="530.4" y2="660.2" stroke="#5a5a5a" stroke-width="0.7"/>
<line x1="532" y1="660.2" x2="625.2" y2="660.2" stroke="#5a5a5a" stroke-width="0.7"/>
<text x="403.4" y="331.9" font-size="7.3">ADAMTS5</text>
<text x="465.7" y="331.9" font-size="7.3" text-anchor="end">ITGA6</text>
<text x="403.4" y="340.6" font-size="7.3">DAPK1</text>
<text x="465.7" y="340.6" font-size="7.3" text-anchor="end">NAV3</text>
<text x="403.4" y="349.3" font-size="7.3">HSPG2</text>
<text x="465.7" y="349.3" font-size="7.3" text-anchor="end">ROBO1</text>
<text x="403.4" y="358" font-size="7.3">IGF2</text>
<text x="465.7" y="358" font-size="7.3" text-anchor="end">UTRN</text>
<text x="500" y="336.15" font-size="7.3" text-anchor="middle">&gt;Integrin binding</text>
<text x="500" y="344.9" font-size="7.3" text-anchor="middle">&gt;Cytokine</text>
<text x="500" y="353.65" font-size="7.3" text-anchor="middle">measurement</text>
<text x="578.6" y="331.78" font-size="7.3" text-anchor="middle">Pre-transcription&amp;mediators</text>
<text x="578.6" y="340.53" font-size="7.3" text-anchor="middle">Ribosome</text>
<text x="578.6" y="349.28" font-size="7.3" text-anchor="middle">YPEL5</text>
<text x="578.6" y="358.03" font-size="7.3" text-anchor="middle">RBMX</text>
<text x="403.4" y="369.3" font-size="7.3">CASQ1</text>
<text x="403.4" y="378" font-size="7.3">CSRP3</text>
<text x="465.7" y="378" font-size="7.3" text-anchor="end">LMOD2</text>
<text x="403.4" y="386.7" font-size="7.3">LDB3</text>
<text x="465.7" y="386.7" font-size="7.3" text-anchor="end">MYPN</text>
<text x="403.4" y="395.4" font-size="7.3">LMO7</text>
<text x="500" y="373.55" font-size="7.3" text-anchor="middle">&gt;Sarcomere</text>
<text x="500" y="382.3" font-size="7.3" text-anchor="middle">organization</text>
<text x="500" y="391.05" font-size="7.3" text-anchor="middle">&gt;Actinin binding</text>
<text x="578.6" y="382.3" font-size="7.3" text-anchor="middle">No-gRNA control</text>
<text x="403.4" y="406.7" font-size="7.3">ACTN2</text>
<text x="465.7" y="406.7" font-size="7.3" text-anchor="end">MYOM1</text>
<text x="403.4" y="415.4" font-size="7.3">DMD</text>
<text x="465.7" y="415.4" font-size="7.3" text-anchor="end">NEB</text>
<text x="403.4" y="424.1" font-size="7.3">MYBPC1</text>
<text x="465.7" y="424.1" font-size="7.3" text-anchor="end">TPM2</text>
<text x="403.4" y="432.8" font-size="7.3">MYH8</text>
<text x="465.7" y="432.8" font-size="7.3" text-anchor="end">TTN</text>
<text x="500" y="410.95" font-size="7.3" text-anchor="middle">&gt;Muscle</text>
<text x="500" y="419.7" font-size="7.3" text-anchor="middle">structure</text>
<text x="500" y="428.45" font-size="7.3" text-anchor="middle">&gt;Actin binding</text>
<text x="578.6" y="419.7" font-size="7.3" text-anchor="middle">MYMK</text>
<text x="403.4" y="444.1" font-size="7.3">CAVIN4</text>
<text x="465.7" y="444.1" font-size="7.3" text-anchor="end">KIF1B</text>
<text x="403.4" y="452.8" font-size="7.3">DST</text>
<text x="465.7" y="452.8" font-size="7.3" text-anchor="end">NEXN</text>
<text x="403.4" y="461.5" font-size="7.3">FLNC</text>
<text x="465.7" y="461.5" font-size="7.3" text-anchor="end">PDLIM3</text>
<text x="403.4" y="470.2" font-size="7.3">HRC</text>
<text x="465.7" y="470.2" font-size="7.3" text-anchor="end">SYNPO2</text>
<text x="500" y="448.35" font-size="7.3" text-anchor="middle">&gt;Z disc</text>
<text x="500" y="457.1" font-size="7.3" text-anchor="middle">&gt;Supramolecular</text>
<text x="500" y="465.85" font-size="7.3" text-anchor="middle">fiber</text>
<text x="578.6" y="457.1" font-size="7.3" text-anchor="middle">MYMK</text>
<text x="403.4" y="481.5" font-size="7.3">ASH1L</text>
<text x="465.7" y="481.5" font-size="7.3" text-anchor="end">NR1D2</text>
<text x="403.4" y="490.2" font-size="7.3">CYLD</text>
<text x="465.7" y="490.2" font-size="7.3" text-anchor="end">PER1</text>
<text x="403.4" y="498.9" font-size="7.3">JAK2</text>
<text x="465.7" y="498.9" font-size="7.3" text-anchor="end">PLK2</text>
<text x="403.4" y="507.6" font-size="7.3">NR1D1</text>
<text x="465.7" y="507.6" font-size="7.3" text-anchor="end">RIOK3</text>
<text x="500" y="481.38" font-size="7.3" text-anchor="middle">&gt;Negative</text>
<text x="500" y="490.13" font-size="7.3" text-anchor="middle">NK-kb signaling</text>
<text x="500" y="498.88" font-size="7.3" text-anchor="middle">&gt;Negative</text>
<text x="500" y="507.63" font-size="7.3" text-anchor="middle">defense response</text>
<text x="578.6" y="485.75" font-size="7.3" text-anchor="middle">MYOD1</text>
<text x="578.6" y="494.5" font-size="7.3" text-anchor="middle">TCF12</text>
<text x="578.6" y="503.25" font-size="7.3" text-anchor="middle">EP300</text>
<text x="403.4" y="518.9" font-size="7.3">ADAMTS12</text>
<text x="465.7" y="518.9" font-size="7.3" text-anchor="end">FBN1</text>
<text x="403.4" y="527.6" font-size="7.3">CCDC80</text>
<text x="465.7" y="527.6" font-size="7.3" text-anchor="end">FSTL1</text>
<text x="403.4" y="536.3" font-size="7.3">COL5A1</text>
<text x="465.7" y="536.3" font-size="7.3" text-anchor="end">LTBP2</text>
<text x="403.4" y="545" font-size="7.3">COL5A2</text>
<text x="465.7" y="545" font-size="7.3" text-anchor="end">SULF1</text>
<text x="500" y="523.15" font-size="7.3" text-anchor="middle">&gt;Collagen fibril</text>
<text x="500" y="531.9" font-size="7.3" text-anchor="middle">&gt;Glycosamino-</text>
<text x="500" y="540.65" font-size="7.3" text-anchor="middle">glycan binding</text>
<text x="578.6" y="523.15" font-size="7.3" text-anchor="middle">COP9 signalosome</text>
<text x="578.6" y="531.9" font-size="7.3" text-anchor="middle">E3 ubiquitin conjugating</text>
<text x="578.6" y="540.65" font-size="7.3" text-anchor="middle">m6A mRNA modificaiton</text>
<text x="403.4" y="556.3" font-size="7.3">COL1A1</text>
<text x="465.7" y="556.3" font-size="7.3" text-anchor="end">COL6A2</text>
<text x="403.4" y="565" font-size="7.3">COL1A2</text>
<text x="465.7" y="565" font-size="7.3" text-anchor="end">COL6A3</text>
<text x="403.4" y="573.7" font-size="7.3">COL3A1</text>
<text x="465.7" y="573.7" font-size="7.3" text-anchor="end">CTSB</text>
<text x="403.4" y="582.4" font-size="7.3">COL6A1</text>
<text x="465.7" y="582.4" font-size="7.3" text-anchor="end">FN1</text>
<text x="500" y="556.18" font-size="7.3" text-anchor="middle">&gt;Tensile</text>
<text x="500" y="564.93" font-size="7.3" text-anchor="middle">strength</text>
<text x="500" y="573.68" font-size="7.3" text-anchor="middle">&gt;Collagen</text>
<text x="500" y="582.43" font-size="7.3" text-anchor="middle">binding</text>
<text x="578.6" y="556.18" font-size="7.3" text-anchor="middle">PRKAR1A</text>
<text x="578.6" y="564.93" font-size="7.3" text-anchor="middle">Histone methyltransferase</text>
<text x="578.6" y="573.68" font-size="7.3" text-anchor="middle">SUMO activating enzyme</text>
<text x="578.6" y="582.43" font-size="7.3" text-anchor="middle">N-acetyltransferase</text>
<text x="403.4" y="593.7" font-size="7.3">CD44</text>
<text x="465.7" y="593.7" font-size="7.3" text-anchor="end">FRMD6</text>
<text x="403.4" y="602.4" font-size="7.3">COL4A1</text>
<text x="465.7" y="602.4" font-size="7.3" text-anchor="end">ITGB1</text>
<text x="403.4" y="611.1" font-size="7.3">COL4A2</text>
<text x="465.7" y="611.1" font-size="7.3" text-anchor="end">MICAL2</text>
<text x="403.4" y="619.8" font-size="7.3">DLC1</text>
<text x="465.7" y="619.8" font-size="7.3" text-anchor="end">SERPINE2</text>
<text x="500" y="593.58" font-size="7.3" text-anchor="middle">&gt;Epithelium</text>
<text x="500" y="602.33" font-size="7.3" text-anchor="middle">development</text>
<text x="500" y="611.08" font-size="7.3" text-anchor="middle">&gt;Collagen type</text>
<text x="500" y="619.83" font-size="7.3" text-anchor="middle">IV trimer</text>
<text x="578.6" y="593.58" font-size="7.3" text-anchor="middle">MYOD1/TCF12/EP300</text>
<text x="578.6" y="602.33" font-size="7.3" text-anchor="middle">UBE2D3/SIAH1</text>
<text x="578.6" y="611.08" font-size="7.3" text-anchor="middle">SMC5</text>
<text x="578.6" y="619.83" font-size="7.3" text-anchor="middle">SAG acetyltransferase</text>
<text x="403.4" y="631.1" font-size="7.3">ACTB</text>
<text x="465.7" y="631.1" font-size="7.3" text-anchor="end">BCAR3</text>
<text x="403.4" y="639.8" font-size="7.3">ACTG1</text>
<text x="465.7" y="639.8" font-size="7.3" text-anchor="end">CAV1</text>
<text x="403.4" y="648.5" font-size="7.3">ADAM9</text>
<text x="465.7" y="648.5" font-size="7.3" text-anchor="end">CCND1</text>
<text x="403.4" y="657.2" font-size="7.3">AHNAK</text>
<text x="465.7" y="657.2" font-size="7.3" text-anchor="end">HSP90B1</text>
<text x="500" y="630.98" font-size="7.3" text-anchor="middle">&gt;Nitro-oxide</text>
<text x="500" y="639.73" font-size="7.3" text-anchor="middle">synthase binding</text>
<text x="500" y="648.48" font-size="7.3" text-anchor="middle">&gt;Focal</text>
<text x="500" y="657.23" font-size="7.3" text-anchor="middle">adhesion</text>
<text x="578.6" y="644.1" font-size="7.3" text-anchor="middle">None</text>
<text x="403.4" y="668.5" font-size="7.3">BRIP1</text>
<text x="465.7" y="668.5" font-size="7.3" text-anchor="end">KIF11</text>
<text x="403.4" y="677.2" font-size="7.3">BUB1</text>
<text x="465.7" y="677.2" font-size="7.3" text-anchor="end">MKI67</text>
<text x="403.4" y="685.9" font-size="7.3">CENPE</text>
<text x="465.7" y="685.9" font-size="7.3" text-anchor="end">PRC1</text>
<text x="403.4" y="694.6" font-size="7.3">ECT2</text>
<text x="465.7" y="694.6" font-size="7.3" text-anchor="end">TOP2A</text>
<text x="500" y="668.38" font-size="7.3" text-anchor="middle">&gt;Cell</text>
<text x="500" y="677.13" font-size="7.3" text-anchor="middle">division</text>
<text x="500" y="685.88" font-size="7.3" text-anchor="middle">&gt;Chromosome</text>
<text x="500" y="694.63" font-size="7.3" text-anchor="middle">segregation</text>
<text x="578.6" y="672.75" font-size="7.3" text-anchor="middle">MYOD1</text>
<text x="578.6" y="681.5" font-size="7.3" text-anchor="middle">TCF12</text>
<text x="578.6" y="690.25" font-size="7.3" text-anchor="middle">EP300</text>
<rect x="626.1" y="323.6" width="54.4" height="37.6" fill="#2e4b85"/>
<text x="653.3" y="336.15" font-size="7.3" text-anchor="middle" fill="#fff">7: Integrein</text>
<text x="653.3" y="344.9" font-size="7.3" text-anchor="middle" fill="#fff">ligan high</text>
<text x="653.3" y="353.65" font-size="7.3" text-anchor="middle" fill="#fff">myocytes</text>
<rect x="626.1" y="361" width="54.4" height="37.6" fill="#2d5e3e"/>
<text x="653.3" y="369.18" font-size="7.3" text-anchor="middle" fill="#fff">5: Inherently</text>
<text x="653.3" y="377.93" font-size="7.3" text-anchor="middle" fill="#fff">fusion</text>
<text x="653.3" y="386.68" font-size="7.3" text-anchor="middle" fill="#fff">defective</text>
<text x="653.3" y="395.43" font-size="7.3" text-anchor="middle" fill="#fff">myocytes</text>
<rect x="626.1" y="398.4" width="54.4" height="75" fill="#e5535d"/>
<text x="653.3" y="420.9" font-size="7.3" text-anchor="middle" fill="#fff">1&amp;2:</text>
<text x="653.3" y="429.65" font-size="7.3" text-anchor="middle" fill="#fff">MYMK KO</text>
<text x="653.3" y="438.4" font-size="7.3" text-anchor="middle" fill="#fff">induced</text>
<text x="653.3" y="447.15" font-size="7.3" text-anchor="middle" fill="#fff">fusion defective</text>
<text x="653.3" y="455.9" font-size="7.3" text-anchor="middle" fill="#fff">myocytes</text>
<rect x="626.1" y="473.2" width="54.4" height="37.6" fill="#6b4a3f"/>
<text x="653.3" y="490.13" font-size="7.3" text-anchor="middle" fill="#fff">10: Non-diff.</text>
<text x="653.3" y="498.88" font-size="7.3" text-anchor="middle" fill="#fff">myoblasts</text>
<rect x="626.1" y="510.6" width="54.4" height="37.6" fill="#2b8ac9"/>
<text x="653.3" y="523.15" font-size="7.3" text-anchor="middle" fill="#fff">6: COL5 high</text>
<text x="653.3" y="531.9" font-size="7.3" text-anchor="middle" fill="#fff">non-diff.</text>
<text x="653.3" y="540.65" font-size="7.3" text-anchor="middle" fill="#fff">myoblasts</text>
<rect x="626.1" y="548" width="54.4" height="37.6" fill="#f8c640"/>
<text x="653.3" y="560.55" font-size="7.3" text-anchor="middle">3: COL6 high</text>
<text x="653.3" y="569.3" font-size="7.3" text-anchor="middle">non-diff.</text>
<text x="653.3" y="578.05" font-size="7.3" text-anchor="middle">myoblasts</text>
<rect x="626.1" y="585.4" width="54.4" height="37.6" fill="#6a4b9a"/>
<text x="653.3" y="597.95" font-size="7.3" text-anchor="middle" fill="#fff">8: COL4 high</text>
<text x="653.3" y="606.7" font-size="7.3" text-anchor="middle" fill="#fff">non-diff.</text>
<text x="653.3" y="615.45" font-size="7.3" text-anchor="middle" fill="#fff">myoblasts</text>
<rect x="626.1" y="622.8" width="54.4" height="37.6" fill="#82c341"/>
<text x="653.3" y="635.35" font-size="7.3" text-anchor="middle" fill="#fff">4: GM</text>
<text x="653.3" y="644.1" font-size="7.3" text-anchor="middle" fill="#fff">treated</text>
<text x="653.3" y="652.85" font-size="7.3" text-anchor="middle" fill="#fff">myoblasts</text>
<rect x="626.1" y="660.2" width="54.4" height="37.6" fill="#cbaea8"/>
<text x="653.3" y="672.75" font-size="7.3" text-anchor="middle" fill="#fff">9: Proliferative</text>
<text x="653.3" y="681.5" font-size="7.3" text-anchor="middle" fill="#fff">non-diff.</text>
<text x="653.3" y="690.25" font-size="7.3" text-anchor="middle" fill="#fff">myoblasts</text>
</svg></body></html>
